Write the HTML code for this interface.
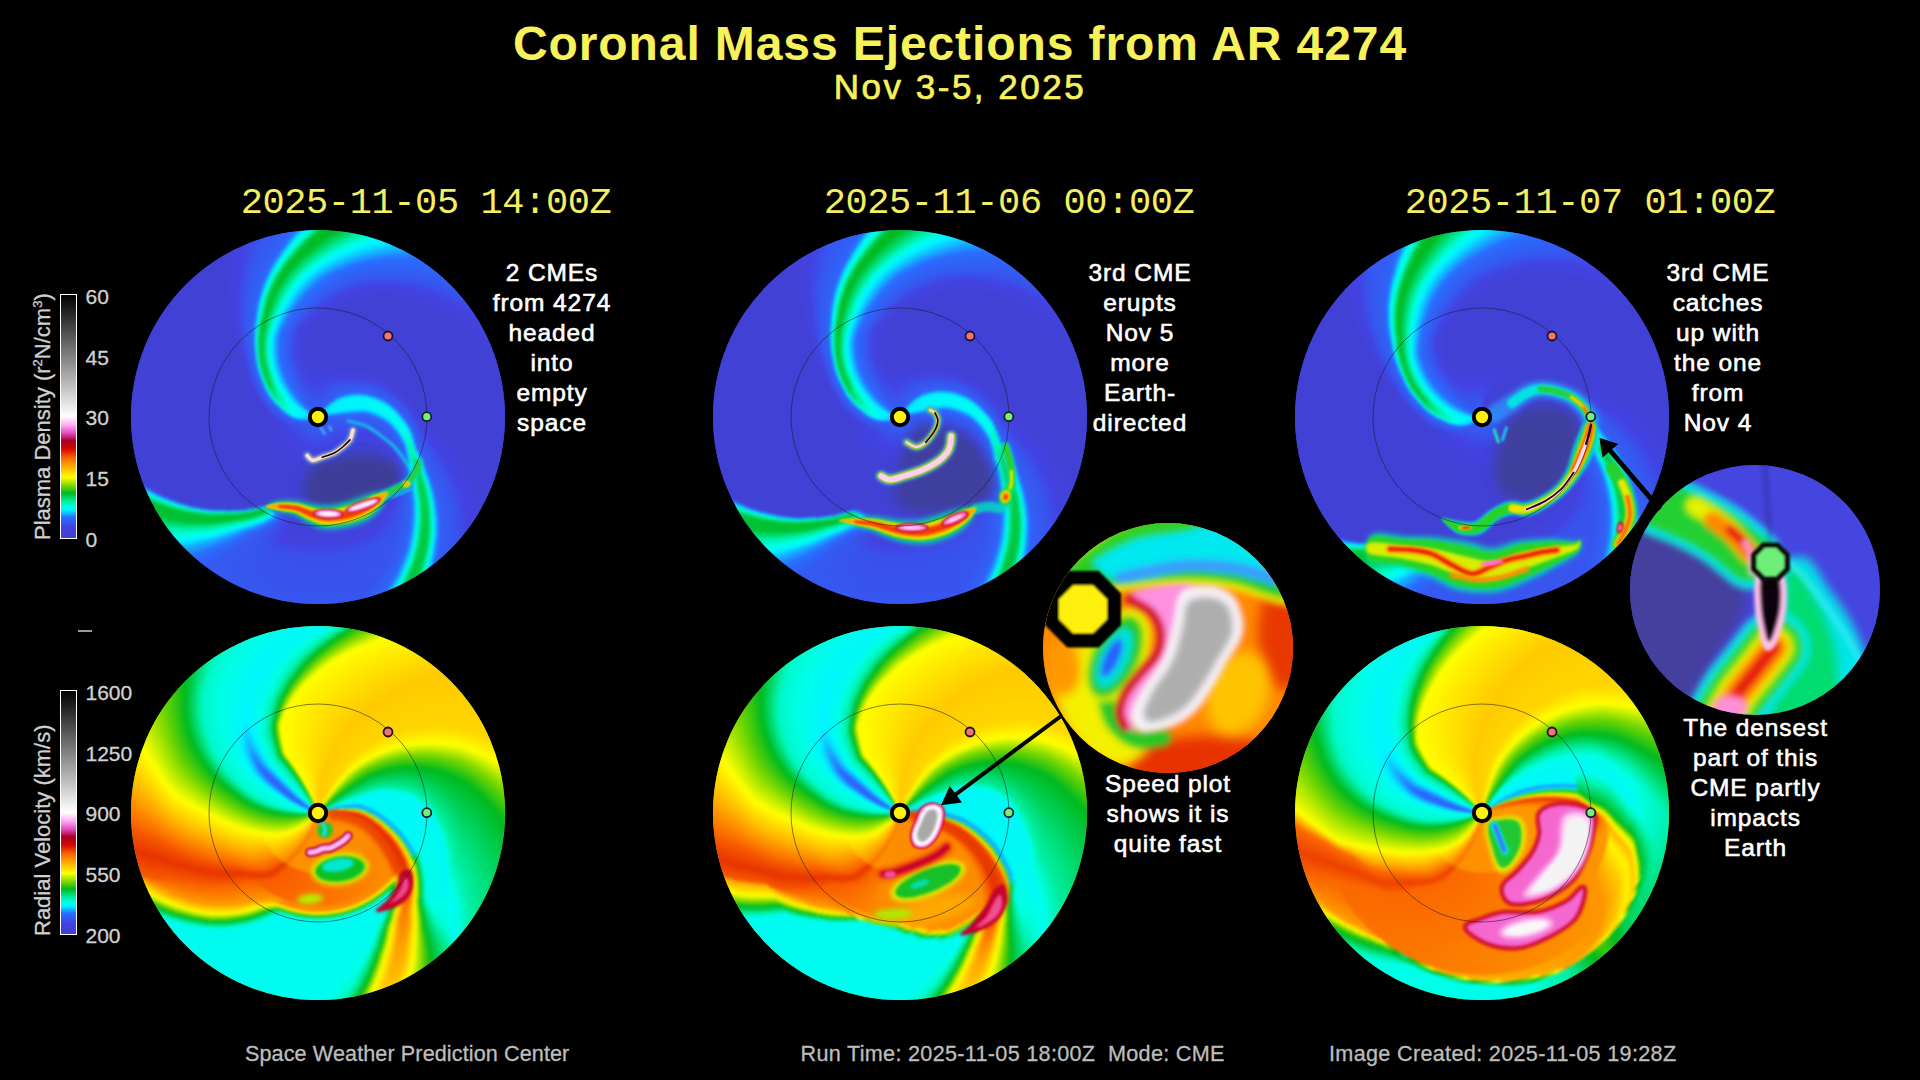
<!DOCTYPE html>
<html lang="en"><head><meta charset="utf-8"><title>Coronal Mass Ejections from AR 4274</title>
<style>
html,body{margin:0;padding:0;background:#000;}
body{width:1920px;height:1080px;position:relative;overflow:hidden;font-family:"Liberation Sans",sans-serif;}
.ttl{position:absolute;left:0;width:1920px;text-align:center;color:#f7f25c;font-weight:700;white-space:nowrap;letter-spacing:0.5px}
.ts{position:absolute;top:181.5px;width:500px;text-align:center;color:#f3ee62;font-family:"Liberation Mono",monospace;font-size:37px;line-height:42px;white-space:pre;letter-spacing:-0.4px}
.ann{position:absolute;width:300px;text-align:center;color:#fff;font-size:24.5px;line-height:30px;white-space:nowrap;letter-spacing:0.9px;-webkit-text-stroke:0.6px #fff}
.cbar{position:absolute;left:60px;width:16.5px;border:1.5px solid #fff;box-sizing:border-box;background:linear-gradient(to top,#4040d0 0.0%,#4242e2 4.5%,#286eff 8.5%,#00f4ff 11.5%,#00ffe8 12.8%,#00f0a5 15.0%,#00b91e 18.5%,#78d700 21.5%,#ff0 25.0%,#ffb400 29.0%,#fa6400 33.0%,#d70a00 36.5%,#a50023 40.0%,#e146be 43.0%,#ffaaf5 46.5%,#fff 50.0%,#000 100.0%);}
.cl{position:absolute;left:85.5px;color:#d2d2d2;font-size:21px;line-height:24px;-webkit-text-stroke:0.3px #d2d2d2}
.cv{position:absolute;left:31px;color:#cfcfcf;font-size:22px;line-height:24px;white-space:nowrap;transform-origin:0 0;transform:rotate(-90deg);-webkit-text-stroke:0.3px #cfcfcf}
.cv sup{font-size:13px;line-height:0}
.cap{position:absolute;top:1041.5px;color:#bdbdbd;font-size:21.6px;line-height:24px;white-space:nowrap;-webkit-text-stroke:0.3px #bdbdbd}
.d{position:absolute;border-radius:50%;overflow:hidden}
.d i{position:absolute;border-radius:50%;display:block}
.rg{position:absolute;filter:blur(1.6px)}
.d svg{position:absolute;left:0;top:0}
</style></head>
<body>
<div class="ttl" style="top:16px;font-size:48px;letter-spacing:0.9px">Coronal Mass Ejections from AR 4274</div>
<div class="ttl" style="top:67px;font-size:35px;font-weight:400;letter-spacing:2.5px;-webkit-text-stroke:0.7px #f7f25c">Nov 3-5, 2025</div>
<div class="ts" style="left:176px;">2025-11-05 14:00Z</div>
<div class="ts" style="left:759px;">2025-11-06 00:00Z</div>
<div class="ts" style="left:1340px;">2025-11-07 01:00Z</div>
<div class="ann" style="left:402px;top:257.5px">2 CMEs<br>from 4274<br>headed<br>into<br>empty<br>space</div>
<div class="ann" style="left:990px;top:258px">3rd CME<br>erupts<br>Nov 5<br>more<br>Earth-<br>directed</div>
<div class="ann" style="left:1568px;top:258px">3rd CME<br>catches<br>up with<br>the one<br>from<br>Nov 4</div>
<div class="ann" style="left:1018px;top:769px">Speed plot<br>shows it is<br>quite fast</div>
<div class="ann" style="left:1605.5px;top:713.3px">The densest<br>part of this<br>CME partly<br>impacts<br>Earth</div>
<div class="cbar" style="top:294px;height:245px"></div>
<div class="cl" style="top:285.0px">60</div>
<div class="cl" style="top:345.7px">45</div>
<div class="cl" style="top:406.3px">30</div>
<div class="cl" style="top:467.0px">15</div>
<div class="cl" style="top:527.7px">0</div>
<div class="cv" style="top:540.0px">Plasma Density (r<sup>2</sup>N/cm<sup>3</sup>)</div>
<div class="cbar" style="top:690px;height:245px"></div>
<div class="cl" style="top:681.0px">1600</div>
<div class="cl" style="top:741.7px">1250</div>
<div class="cl" style="top:802.4px">900</div>
<div class="cl" style="top:863.0px">550</div>
<div class="cl" style="top:923.7px">200</div>
<div class="cv" style="top:936.0px">Radial Velocity (km/s)</div>
<div style="position:absolute;left:78px;top:630px;width:14px;height:2px;background:#999"></div>
<div class="cap" style="left:245px;letter-spacing:0.1px">Space Weather Prediction Center</div>
<div class="cap" style="left:800.5px;letter-spacing:0.31px">Run Time: 2025-11-05 18:00Z&nbsp; Mode: CME</div>
<div class="cap" style="left:1329px;letter-spacing:0.33px">Image Created: 2025-11-05 19:28Z</div>
<svg width="0" height="0" style="position:absolute"><defs><filter id="b1" filterUnits="userSpaceOnUse" x="-60" y="-60" width="520" height="520"><feGaussianBlur stdDeviation="0.8"/></filter><filter id="b2" filterUnits="userSpaceOnUse" x="-60" y="-60" width="520" height="520"><feGaussianBlur stdDeviation="1.6"/></filter><filter id="b3" filterUnits="userSpaceOnUse" x="-60" y="-60" width="520" height="520"><feGaussianBlur stdDeviation="2.6"/></filter><filter id="b4" filterUnits="userSpaceOnUse" x="-60" y="-60" width="520" height="520"><feGaussianBlur stdDeviation="4"/></filter><filter id="b6" filterUnits="userSpaceOnUse" x="-60" y="-60" width="520" height="520"><feGaussianBlur stdDeviation="6"/></filter><filter id="b9" filterUnits="userSpaceOnUse" x="-60" y="-60" width="520" height="520"><feGaussianBlur stdDeviation="9"/></filter></defs></svg>
<div class="d" style="left:131px;top:230px;width:374px;height:374px;background:#4242d8"><div class="rg" style="left:-8px;top:-8px;width:390px;height:390px"><i style="left:0px;top:0px;width:390px;height:390px;background:conic-gradient(from -30deg,#4141d5 0deg,#4242e2 8.9deg,#3755ee 13.6deg,#2f62f7 23.5deg,#286eff 25.1deg,#2184ff 25.9deg,#00f4ff 27.6deg,#00f5fd 27.6deg,#00ffe8 29.3deg,#00fad3 30.2deg,#00f0a5 31.1deg,#00c132 32.8deg,#00b91e 35.9deg,#08bb1c 37deg,#00b91e 37.5deg,#00e993 44.8deg,#00f0a5 45.7deg,#00ffe8 49.6deg,#00f8f6 51.1deg,#00f4ff 53.2deg,#0dc7ff 57.3deg,#286eff 65.5deg,#2a6bfd 66.7deg,#3755ee 83.4deg,#4242e2 91.9deg,#4141d5 108.4deg,#4141d5 146.5deg,#4242e2 158.8deg,#3755ee 165.2deg,#325ef4 173.1deg,#286eff 174.3deg,#03ebff 176.6deg,#00f4ff 176.8deg,#00ffe8 177.5deg,#00f0a5 178.7deg,#00c43a 180.2deg,#00c43a 184.5deg,#00f0a5 186.1deg,#00ffe8 187.3deg,#00f4ff 188deg,#03ebff 188.1deg,#286eff 191.3deg,#2f63f8 192.4deg,#3755ee 199.6deg,#3657f0 218.2deg,#3657f0 228.9deg,#3459f1 247.8deg,#286eff 253.1deg,#14b1ff 257.3deg,#00f4ff 259.8deg,#00ffe8 262deg,#00f7c3 264deg,#00f0a5 265.4deg,#00c131 269.7deg,#00c131 275.4deg,#00f0a5 277.1deg,#00ffe8 278.4deg,#00f4ff 279.2deg,#286eff 280deg,#4242e2 281.1deg,#4141d5 282deg,#4141d5 360deg)"></i><i style="left:3px;top:3px;width:384px;height:384px;background:conic-gradient(from -30.6deg,#4141d5 0deg,#4242e2 8.8deg,#3755ee 13.4deg,#2f62f7 23.1deg,#286eff 24.7deg,#2184ff 25.5deg,#00f4ff 27.2deg,#00f5fd 27.2deg,#00ffe8 28.9deg,#00fad3 29.8deg,#00f0a5 30.7deg,#00c233 32.4deg,#00b91e 35.5deg,#07bb1c 36.5deg,#00b91e 36.9deg,#00e994 44.2deg,#00f0a5 45deg,#00ffe8 48.9deg,#00f8f6 50.3deg,#00f4ff 52.4deg,#0dc7ff 56.5deg,#286eff 64.6deg,#2a6bfd 65.8deg,#3755ee 82.2deg,#4242e2 90.6deg,#4141d5 106.9deg,#4141d5 146.2deg,#4242e2 158.4deg,#3755ee 164.7deg,#325ef4 172.5deg,#286eff 173.7deg,#03ebff 176deg,#00f4ff 176.2deg,#00ffe8 176.9deg,#00f0a5 178.1deg,#00c53b 179.6deg,#00c53b 183.9deg,#00f0a5 185.4deg,#00ffe8 186.6deg,#00f4ff 187.3deg,#03ebff 187.4deg,#286eff 190.5deg,#2f63f8 191.7deg,#3755ee 198.8deg,#3656ef 217.2deg,#3656ef 229.5deg,#3459f1 248.1deg,#286eff 253.2deg,#14b1ff 257.3deg,#00f4ff 259.7deg,#00ffe8 261.9deg,#00f7c3 263.8deg,#00f0a5 265.2deg,#00c131 269.4deg,#00c131 274.9deg,#00f0a5 276.6deg,#00ffe8 277.9deg,#00f4ff 278.6deg,#286eff 279.4deg,#4242e2 280.5deg,#4141d5 281.4deg,#4141d5 360deg)"></i><i style="left:6px;top:6px;width:378px;height:378px;background:conic-gradient(from -31.2deg,#4141d5 0deg,#4242e2 8.7deg,#3755ee 13.2deg,#2f62f7 22.8deg,#286eff 24.4deg,#2184ff 25.1deg,#00f4ff 26.8deg,#00f5fd 26.8deg,#00ffe8 28.4deg,#00fad3 29.4deg,#00f0a5 30.2deg,#00c233 31.9deg,#00b91e 35deg,#06bb1c 35.9deg,#00b91e 36.3deg,#00e994 43.5deg,#00f0a5 44.3deg,#00ffe8 48.2deg,#00f8f6 49.6deg,#00f4ff 51.6deg,#0dc7ff 55.7deg,#286eff 63.6deg,#2a6bfd 64.8deg,#3755ee 81deg,#4242e2 89.3deg,#4141d5 105.3deg,#4141d5 145.9deg,#4242e2 158deg,#3755ee 164.2deg,#325ef4 171.9deg,#286eff 173.2deg,#03ebff 175.5deg,#00f4ff 175.6deg,#00ffe8 176.3deg,#00f0a5 177.5deg,#00c53c 179deg,#00c53c 183.2deg,#00f0a5 184.7deg,#00ffe8 185.9deg,#00f4ff 186.6deg,#03ebff 186.7deg,#286eff 189.8deg,#2f63f8 190.9deg,#3755ee 197.9deg,#3656ef 216.2deg,#3656ef 230.2deg,#3459f1 248.3deg,#286eff 253.3deg,#14b1ff 257.3deg,#00f4ff 259.7deg,#00ffe8 261.7deg,#00f7c3 263.6deg,#00f0a5 265deg,#00c131 269.1deg,#00c131 274.5deg,#00f0a5 276.1deg,#00ffe8 277.4deg,#00f4ff 278.1deg,#286eff 278.9deg,#4242e2 279.9deg,#4141d5 280.8deg,#4141d5 360deg)"></i><i style="left:9px;top:9px;width:372px;height:372px;background:conic-gradient(from -31.8deg,#4141d5 0deg,#4242e2 8.6deg,#3755ee 13deg,#2f62f7 22.4deg,#286eff 24deg,#2184ff 24.7deg,#00f4ff 26.3deg,#00f5fd 26.4deg,#00ffe8 28deg,#00fad3 28.9deg,#00f0a5 29.7deg,#00c234 31.4deg,#00b91e 34.6deg,#06ba1d 35.4deg,#00b91e 35.7deg,#00e994 42.9deg,#00f0a5 43.6deg,#00ffe8 47.4deg,#00f8f6 48.8deg,#00f4ff 50.8deg,#0dc7ff 54.8deg,#286eff 62.6deg,#2a6bfd 63.8deg,#3755ee 79.7deg,#4242e2 87.9deg,#4141d5 103.7deg,#4141d5 145.6deg,#4242e2 157.5deg,#3755ee 163.7deg,#325ef4 171.4deg,#286eff 172.6deg,#03ebff 174.8deg,#00f4ff 175deg,#00ffe8 175.7deg,#00f0a5 176.9deg,#00c63d 178.3deg,#00c63d 182.5deg,#00f0a5 184deg,#00ffe8 185.2deg,#00f4ff 185.9deg,#03ebff 186deg,#286eff 189.1deg,#2f63f8 190.2deg,#3755ee 197.1deg,#3656ef 215.2deg,#3656ef 230.8deg,#3459f1 248.4deg,#286eff 253.4deg,#14b1ff 257.2deg,#00f4ff 259.6deg,#00ffe8 261.6deg,#00f7c3 263.4deg,#00f0a5 264.7deg,#00c131 268.7deg,#00c131 274deg,#00f0a5 275.6deg,#00ffe8 276.8deg,#00f4ff 277.5deg,#286eff 278.3deg,#4242e2 279.3deg,#4141d5 280.1deg,#4141d5 360deg)"></i><i style="left:12px;top:12px;width:366px;height:366px;background:conic-gradient(from -32.3deg,#4141d5 0deg,#4242e2 8.4deg,#3755ee 12.7deg,#2f62f7 22deg,#286eff 23.5deg,#2184ff 24.2deg,#00f4ff 25.8deg,#00f5fd 25.9deg,#00ffe8 27.4deg,#00fad3 28.3deg,#00f0a5 29.2deg,#00c234 30.8deg,#00b91e 34deg,#05ba1d 34.7deg,#00b91e 35deg,#00e995 42deg,#00f0a5 42.7deg,#00ffe8 46.5deg,#00f8f6 47.9deg,#00f4ff 49.8deg,#0dc7ff 53.7deg,#286eff 61.4deg,#2a6bfd 62.5deg,#3755ee 78.1deg,#4242e2 86.1deg,#4141d5 101.6deg,#4141d5 145.2deg,#4242e2 157.1deg,#3755ee 163.1deg,#325ef4 170.7deg,#286eff 171.9deg,#03ebff 174.2deg,#00f4ff 174.3deg,#00ffe8 175deg,#00f0a5 176.2deg,#00c63e 177.6deg,#00c63e 181.8deg,#00f0a5 183.2deg,#00ffe8 184.4deg,#00f4ff 185.1deg,#03ebff 185.2deg,#286eff 188.3deg,#2f63f8 189.3deg,#3755ee 196.2deg,#3755ef 214.2deg,#3755ef 231.4deg,#3459f1 248.6deg,#286eff 253.3deg,#14b1ff 257.1deg,#00f4ff 259.4deg,#00ffe8 261.3deg,#00f7c3 263.1deg,#00f0a5 264.4deg,#00c131 268.3deg,#00c131 273.4deg,#00f0a5 275deg,#00ffe8 276.2deg,#00f4ff 276.8deg,#286eff 277.6deg,#4242e2 278.6deg,#4141d5 279.4deg,#4141d5 360deg)"></i><i style="left:15px;top:15px;width:360px;height:360px;background:conic-gradient(from -32.9deg,#4141d5 0deg,#4242e2 8.2deg,#3755ee 12.4deg,#2f62f7 21.5deg,#286eff 23deg,#2184ff 23.7deg,#00f4ff 25.3deg,#00f5fd 25.4deg,#00ffe8 26.9deg,#00fad3 27.7deg,#00f0a5 28.6deg,#00c235 30.1deg,#00b91e 33.3deg,#05ba1d 34deg,#00b91e 34.2deg,#00ea95 41.1deg,#00f0a5 41.8deg,#00ffe8 45.5deg,#00f8f6 46.9deg,#00f4ff 48.8deg,#0dc7ff 52.6deg,#286eff 60.1deg,#2a6bfd 61.2deg,#3755ee 76.5deg,#4242e2 84.3deg,#4141d5 99.5deg,#4141d5 144.8deg,#4242e2 156.5deg,#3755ee 162.6deg,#325ef4 170.1deg,#286eff 171.3deg,#03ebff 173.5deg,#00f4ff 173.6deg,#00ffe8 174.3deg,#00f0a5 175.5deg,#00c73f 176.9deg,#00c73f 181deg,#00f0a5 182.4deg,#00ffe8 183.6deg,#00f4ff 184.3deg,#03ebff 184.4deg,#286eff 187.4deg,#2f63f8 188.5deg,#3755ee 195.4deg,#3755ee 213.1deg,#3755ee 232deg,#3459f1 248.7deg,#286eff 253.3deg,#14b1ff 257deg,#00f4ff 259.2deg,#00ffe8 261.1deg,#00f7c3 262.8deg,#00f0a5 264.1deg,#00c131 267.9deg,#00c131 272.9deg,#00f0a5 274.4deg,#00ffe8 275.5deg,#00f4ff 276.2deg,#286eff 276.9deg,#4242e2 277.9deg,#4141d5 278.7deg,#4141d5 360deg)"></i><i style="left:18px;top:18px;width:354px;height:354px;background:conic-gradient(from -33.4deg,#4141d5 0deg,#4242e2 8deg,#3755ee 12.2deg,#2f62f7 21.1deg,#286eff 22.6deg,#2184ff 23.2deg,#00f4ff 24.8deg,#00f5fd 24.8deg,#00ffe8 26.3deg,#00fad3 27.2deg,#00f0a5 28deg,#00c336 29.5deg,#00b91e 32.7deg,#04ba1d 33.3deg,#00b91e 33.5deg,#00ea95 40.3deg,#00f0a5 40.9deg,#00ffe8 44.6deg,#00f8f6 45.9deg,#00f4ff 47.8deg,#0dc7ff 51.5deg,#286eff 58.8deg,#2a6bfd 59.9deg,#3755ee 74.9deg,#4242e2 82.6deg,#4141d5 97.4deg,#4141d5 144.4deg,#4242e2 156deg,#3755ee 162deg,#325ef4 169.5deg,#286eff 170.6deg,#03ebff 172.8deg,#00f4ff 172.9deg,#00ffe8 173.6deg,#00f0a5 174.8deg,#00c741 176.2deg,#00c741 180.3deg,#00f0a5 181.7deg,#00ffe8 182.8deg,#00f4ff 183.5deg,#03ebff 183.6deg,#286eff 186.6deg,#2f63f8 187.7deg,#3755ee 194.5deg,#3755ee 212deg,#3755ee 232.6deg,#3459f1 248.8deg,#286eff 253.3deg,#14b1ff 256.9deg,#00f4ff 259deg,#00ffe8 260.9deg,#00f7c3 262.6deg,#00f0a5 263.8deg,#00c131 267.4deg,#00c131 272.3deg,#00f0a5 273.8deg,#00ffe8 274.9deg,#00f4ff 275.5deg,#286eff 276.2deg,#4242e2 277.2deg,#4141d5 278deg,#4141d5 360deg)"></i><i style="left:21px;top:21px;width:348px;height:348px;background:conic-gradient(from -33.9deg,#4141d5 0deg,#4242e2 7.9deg,#3755ee 11.9deg,#2f62f7 20.6deg,#286eff 22.1deg,#2184ff 22.7deg,#00f4ff 24.2deg,#00f5fd 24.3deg,#00ffe8 25.7deg,#00fad3 26.6deg,#00f0a5 27.4deg,#00c336 28.9deg,#00b91e 32.1deg,#03ba1d 32.5deg,#00b91e 32.7deg,#00ea96 39.4deg,#00f0a5 40.1deg,#00ffe8 43.6deg,#00f8f6 44.9deg,#00f4ff 46.7deg,#0dc7ff 50.4deg,#286eff 57.6deg,#2a6bfd 58.7deg,#3755ee 73.3deg,#4242e2 80.8deg,#4141d5 95.3deg,#4141d5 144.1deg,#4242e2 155.5deg,#3755ee 161.5deg,#325ef4 168.8deg,#286eff 170deg,#03ebff 172.2deg,#00f4ff 172.3deg,#00ffe8 173deg,#00f0a5 174.1deg,#00c842 175.5deg,#00c842 179.5deg,#00f0a5 180.9deg,#00ffe8 182.1deg,#00f4ff 182.8deg,#03ebff 182.9deg,#286eff 185.8deg,#2f63f8 186.9deg,#3755ee 193.6deg,#3754ee 211deg,#3754ee 233.2deg,#3459f1 248.9deg,#286eff 253.3deg,#14b1ff 256.8deg,#00f4ff 258.8deg,#00ffe8 260.6deg,#00f7c3 262.3deg,#00f0a5 263.5deg,#00c131 267deg,#00c131 271.7deg,#00f0a5 273.2deg,#00ffe8 274.3deg,#00f4ff 274.9deg,#286eff 275.6deg,#4242e2 276.5deg,#4141d5 277.2deg,#4141d5 360deg)"></i><i style="left:24px;top:24px;width:342px;height:342px;background:conic-gradient(from -34.5deg,#4141d5 0deg,#4242e2 7.7deg,#3755ee 11.7deg,#2f62f7 20.2deg,#286eff 21.6deg,#2184ff 22.2deg,#00f4ff 23.7deg,#00f5fd 23.8deg,#00ffe8 25.2deg,#00fad3 26deg,#00f0a5 26.8deg,#00c337 28.2deg,#00b91e 31.5deg,#03ba1d 31.8deg,#00b91e 32deg,#00ea96 38.6deg,#00f0a5 39.2deg,#00ffe8 42.7deg,#00f8f6 43.9deg,#00f4ff 45.7deg,#0dc7ff 49.3deg,#286eff 56.3deg,#2a6bfd 57.4deg,#3755ee 71.7deg,#4242e2 79.1deg,#4141d5 93.3deg,#4141d5 143.7deg,#4242e2 155deg,#3755ee 160.9deg,#325ef4 168.2deg,#286eff 169.3deg,#03ebff 171.5deg,#00f4ff 171.6deg,#00ffe8 172.3deg,#00f0a5 173.5deg,#00c843 174.8deg,#00c843 178.8deg,#00f0a5 180.1deg,#00ffe8 181.3deg,#00f4ff 182deg,#03ebff 182.1deg,#286eff 185deg,#2f63f8 186.1deg,#3755ee 192.7deg,#3754ee 209.9deg,#3754ee 233.7deg,#3459f1 249deg,#286eff 253.3deg,#14b1ff 256.7deg,#00f4ff 258.7deg,#00ffe8 260.4deg,#00f7c3 262deg,#00f0a5 263.2deg,#00c131 266.6deg,#00c131 271.2deg,#00f0a5 272.6deg,#00ffe8 273.6deg,#00f4ff 274.2deg,#286eff 274.9deg,#4242e2 275.8deg,#4141d5 276.5deg,#4141d5 360deg)"></i><i style="left:27px;top:27px;width:336px;height:336px;background:conic-gradient(from -35deg,#4141d5 0deg,#4242e2 7.5deg,#3755ee 11.4deg,#2f62f7 19.7deg,#286eff 21.1deg,#2184ff 21.7deg,#00f4ff 23.2deg,#00f5fd 23.2deg,#00ffe8 24.6deg,#00fad3 25.4deg,#00f0a5 26.2deg,#00c337 27.6deg,#00b91e 30.9deg,#02ba1d 31.1deg,#00b91e 31.2deg,#00ea96 37.7deg,#00f0a5 38.3deg,#00ffe8 41.7deg,#00f8f6 43deg,#00f4ff 44.7deg,#0dc7ff 48.2deg,#286eff 55.1deg,#2a6bfd 56.1deg,#3755ee 70.1deg,#4242e2 77.3deg,#4141d5 91.2deg,#4141d5 143.3deg,#4242e2 154.5deg,#3755ee 160.3deg,#325ef4 167.6deg,#286eff 168.7deg,#03ebff 170.8deg,#00f4ff 170.9deg,#00ffe8 171.6deg,#00f0a5 172.8deg,#00c844 174.1deg,#00c844 178deg,#00f0a5 179.4deg,#00ffe8 180.5deg,#00f4ff 181.2deg,#03ebff 181.3deg,#286eff 184.2deg,#2f63f8 185.3deg,#3755ee 191.8deg,#3853ee 208.9deg,#3853ee 234.3deg,#3459f1 249.2deg,#286eff 253.3deg,#14b1ff 256.6deg,#00f4ff 258.5deg,#00ffe8 260.2deg,#00f7c3 261.7deg,#00f0a5 262.9deg,#00c131 266.2deg,#00c131 270.6deg,#00f0a5 272deg,#00ffe8 273deg,#00f4ff 273.6deg,#286eff 274.2deg,#4242e2 275.1deg,#4141d5 275.8deg,#4141d5 360deg)"></i><i style="left:30px;top:30px;width:330px;height:330px;background:conic-gradient(from -35.7deg,#4141d5 0deg,#4242e2 7.4deg,#3755ee 11.1deg,#2f62f7 19.3deg,#286eff 20.6deg,#2184ff 21.2deg,#00f4ff 22.6deg,#00f5fd 22.7deg,#00ffe8 24.1deg,#00fad3 24.8deg,#00f0a5 25.6deg,#00c338 27deg,#00b91e 30.2deg,#01b91e 30.4deg,#00b91e 30.5deg,#00ea97 36.8deg,#00f0a5 37.4deg,#00ffe8 40.8deg,#00f8f6 42deg,#00f4ff 43.7deg,#0dc7ff 47.1deg,#286eff 53.8deg,#2a6bfd 54.8deg,#3755ee 68.5deg,#4242e2 75.5deg,#4141d5 89.1deg,#4141d5 143deg,#4242e2 154.2deg,#3755ee 159.9deg,#325ef4 167deg,#286eff 168.2deg,#03ebff 170.3deg,#00f4ff 170.4deg,#00ffe8 171.1deg,#00f0a5 172.2deg,#00c945 173.5deg,#00c945 177.4deg,#00f0a5 178.7deg,#00ffe8 179.9deg,#00f4ff 180.6deg,#03ebff 180.7deg,#286eff 183.5deg,#2f63f8 184.6deg,#3755ee 191deg,#3853ed 207.9deg,#3853ed 235deg,#3459f1 249.4deg,#286eff 253.4deg,#14b1ff 256.6deg,#00f4ff 258.4deg,#00ffe8 260.1deg,#00f7c3 261.6deg,#00f0a5 262.6deg,#00c131 265.9deg,#00c131 270.2deg,#00f0a5 271.5deg,#00ffe8 272.5deg,#00f4ff 273deg,#286eff 273.7deg,#4242e2 274.5deg,#4141d5 275.2deg,#4141d5 360deg)"></i><i style="left:33px;top:33px;width:324px;height:324px;background:conic-gradient(from -36.3deg,#4141d5 0deg,#4242e2 7.2deg,#3755ee 10.9deg,#2f62f7 18.8deg,#286eff 20.1deg,#2184ff 20.7deg,#00f4ff 22.1deg,#00f5fd 22.2deg,#00ffe8 23.5deg,#00fad3 24.3deg,#00f0a5 25deg,#00c438 26.4deg,#00b91e 29.6deg,#01b91e 29.7deg,#00b91e 29.7deg,#00ea97 36deg,#00f0a5 36.5deg,#00ffe8 39.8deg,#00f8f6 41deg,#00f4ff 42.7deg,#0dc7ff 46deg,#286eff 52.6deg,#2a6bfd 53.5deg,#3755ee 66.9deg,#4242e2 73.8deg,#4141d5 87deg,#4141d5 142.8deg,#4242e2 153.8deg,#3755ee 159.5deg,#325ef4 166.6deg,#286eff 167.7deg,#03ebff 169.8deg,#00f4ff 169.9deg,#00ffe8 170.6deg,#00f0a5 171.7deg,#00c946 173deg,#00c946 176.8deg,#00f0a5 178.1deg,#00ffe8 179.3deg,#00f4ff 179.9deg,#03ebff 180deg,#286eff 182.9deg,#2f63f8 183.9deg,#3755ee 190.3deg,#3853ed 207deg,#3853ed 235.7deg,#3459f1 249.6deg,#286eff 253.5deg,#14b1ff 256.5deg,#00f4ff 258.3deg,#00ffe8 259.9deg,#00f7c3 261.4deg,#00f0a5 262.4deg,#00c131 265.5deg,#00c131 269.7deg,#00f0a5 271deg,#00ffe8 271.9deg,#00f4ff 272.5deg,#286eff 273.1deg,#4242e2 273.9deg,#4141d5 274.6deg,#4141d5 360deg)"></i><i style="left:36px;top:36px;width:318px;height:318px;background:conic-gradient(from -37deg,#4141d5 0deg,#4242e2 7deg,#3755ee 10.6deg,#2f62f7 18.4deg,#286eff 19.7deg,#2184ff 20.3deg,#00f4ff 21.6deg,#00f5fd 21.6deg,#00ffe8 22.9deg,#00fad3 23.7deg,#00f0a5 24.4deg,#00c439 25.7deg,#00b91e 29deg,#00b91e 29deg,#00b91e 29deg,#00ea97 35.1deg,#00f0a5 35.6deg,#00ffe8 38.8deg,#00f8f6 40deg,#00f4ff 41.6deg,#0dc7ff 44.9deg,#286eff 51.3deg,#2a6bfd 52.3deg,#3755ee 65.3deg,#4242e2 72deg,#4141d5 84.9deg,#4141d5 142.6deg,#4242e2 153.5deg,#3755ee 159.1deg,#325ef4 166.1deg,#286eff 167.2deg,#03ebff 169.3deg,#00f4ff 169.4deg,#00ffe8 170.1deg,#00f0a5 171.2deg,#00ca47 172.5deg,#00ca47 176.3deg,#00f0a5 177.5deg,#00ffe8 178.7deg,#00f4ff 179.3deg,#03ebff 179.4deg,#286eff 182.2deg,#2f63f8 183.2deg,#3755ee 189.6deg,#3852ed 206.1deg,#3852ed 236.3deg,#3459f1 249.7deg,#286eff 253.5deg,#14b1ff 256.4deg,#00f4ff 258.2deg,#00ffe8 259.7deg,#00f7c3 261.1deg,#00f0a5 262.1deg,#00c131 265.2deg,#00c131 269.2deg,#00f0a5 270.4deg,#00ffe8 271.3deg,#00f4ff 271.9deg,#286eff 272.5deg,#4242e2 273.2deg,#4141d5 273.9deg,#4141d5 360deg)"></i><i style="left:39px;top:39px;width:312px;height:312px;background:conic-gradient(from -37.6deg,#4141d5 0deg,#4242e2 6.8deg,#3755ee 10.4deg,#2f62f7 17.9deg,#286eff 19.2deg,#2184ff 19.8deg,#00f4ff 21.1deg,#00f5fd 21.1deg,#00ffe8 22.4deg,#00fad3 23.1deg,#00f0a5 23.8deg,#00c439 25.1deg,#00b91e 28.3deg,#00eb98 34.3deg,#00f0a5 34.7deg,#00ffe8 37.9deg,#00f8f6 39deg,#00f4ff 40.6deg,#0dc7ff 43.8deg,#286eff 50.1deg,#2a6bfd 51deg,#3755ee 63.7deg,#4242e2 70.2deg,#4141d5 82.9deg,#4141d5 142.4deg,#4242e2 153.2deg,#3755ee 158.7deg,#325ef4 165.6deg,#286eff 166.7deg,#03ebff 168.8deg,#00f4ff 168.9deg,#00ffe8 169.5deg,#00f0a5 170.7deg,#00ca49 171.9deg,#00ca49 175.7deg,#00f0a5 176.9deg,#00ffe8 178deg,#00f4ff 178.7deg,#03ebff 178.8deg,#286eff 181.6deg,#2f63f8 182.6deg,#3755ee 188.9deg,#3952ed 205.2deg,#3952ed 236.9deg,#3459f1 249.9deg,#286eff 253.5deg,#14b1ff 256.4deg,#00f4ff 258.1deg,#00ffe8 259.5deg,#00f7c3 260.9deg,#00f0a5 261.9deg,#00c131 264.8deg,#00c131 268.7deg,#00f0a5 269.9deg,#00ffe8 270.7deg,#00f4ff 271.2deg,#286eff 271.8deg,#4242e2 272.6deg,#4141d5 273.2deg,#4141d5 360deg)"></i><i style="left:42px;top:42px;width:306px;height:306px;background:conic-gradient(from -38.2deg,#4141d5 0deg,#4242e2 6.7deg,#3755ee 10.1deg,#2f62f7 17.5deg,#286eff 18.7deg,#2184ff 19.3deg,#00f4ff 20.5deg,#00f5fd 20.6deg,#00ffe8 21.8deg,#00fad3 22.5deg,#00f0a5 23.2deg,#00c43a 24.5deg,#00b91f 27.6deg,#00eb98 33.4deg,#00f0a5 33.9deg,#00ffe8 36.9deg,#00f8f6 38.1deg,#00f4ff 39.6deg,#0dc7ff 42.7deg,#286eff 48.8deg,#2a6bfd 49.7deg,#3755ee 62.1deg,#4242e2 68.5deg,#4141d5 80.8deg,#4141d5 142.2deg,#4242e2 152.9deg,#3755ee 158.3deg,#325ef4 165.2deg,#286eff 166.3deg,#03ebff 168.3deg,#00f4ff 168.4deg,#00ffe8 169deg,#00f0a5 170.2deg,#00cb4a 171.4deg,#00cb4a 175.1deg,#00f0a5 176.3deg,#00ffe8 177.4deg,#00f4ff 178.1deg,#03ebff 178.2deg,#286eff 181deg,#2f63f8 181.9deg,#3755ee 188.1deg,#3952ec 204.3deg,#3952ec 237.6deg,#3459f1 250deg,#286eff 253.5deg,#14b1ff 256.3deg,#00f4ff 257.9deg,#00ffe8 259.3deg,#00f7c3 260.6deg,#00f0a5 261.6deg,#00c131 264.4deg,#00c131 268.1deg,#00f0a5 269.3deg,#00ffe8 270.1deg,#00f4ff 270.6deg,#286eff 271.2deg,#4242e2 271.9deg,#4141d5 272.5deg,#4141d5 360deg)"></i><i style="left:45px;top:45px;width:300px;height:300px;background:conic-gradient(from -38.9deg,#4141d5 0deg,#4242e2 6.5deg,#3755ee 9.8deg,#2f62f7 17deg,#286eff 18.2deg,#2184ff 18.8deg,#00f4ff 20deg,#00f5fd 20.1deg,#00ffe8 21.2deg,#00fad3 21.9deg,#00f0a5 22.6deg,#00c53a 23.8deg,#00ba20 26.9deg,#00eb98 32.5deg,#00f0a5 33deg,#00ffe8 36deg,#00f8f6 37.1deg,#00f4ff 38.6deg,#0dc7ff 41.6deg,#286eff 47.5deg,#2a6bfd 48.4deg,#3755ee 60.5deg,#4242e2 66.7deg,#4141d5 78.7deg,#4141d5 142deg,#4242e2 152.5deg,#3755ee 158deg,#325ef4 164.7deg,#286eff 165.8deg,#03ebff 167.8deg,#00f4ff 167.9deg,#00ffe8 168.5deg,#00f0a5 169.7deg,#00cb4b 170.8deg,#00cb4b 174.5deg,#00f0a5 175.7deg,#00ffe8 176.8deg,#00f4ff 177.5deg,#03ebff 177.6deg,#286eff 180.3deg,#2f63f8 181.3deg,#3755ee 187.4deg,#3951ec 203.4deg,#3951ec 238.2deg,#3459f1 250.2deg,#286eff 253.5deg,#14b1ff 256.2deg,#00f4ff 257.8deg,#00ffe8 259.1deg,#00f7c3 260.4deg,#00f0a5 261.3deg,#00c131 264deg,#00c131 267.6deg,#00f0a5 268.7deg,#00ffe8 269.5deg,#00f4ff 270deg,#286eff 270.5deg,#4242e2 271.2deg,#4141d5 271.8deg,#4141d5 360deg)"></i><i style="left:48px;top:48px;width:294px;height:294px;background:conic-gradient(from -39.5deg,#4141d5 0deg,#4242e2 6.3deg,#3755ee 9.6deg,#2f62f7 16.6deg,#286eff 17.7deg,#2184ff 18.3deg,#00f4ff 19.5deg,#00f5fd 19.5deg,#00ffe8 20.7deg,#00fad3 21.4deg,#00f0a5 22deg,#00c53b 23.2deg,#00ba20 26.2deg,#00eb99 31.7deg,#00f0a5 32.1deg,#00ffe8 35deg,#00f8f6 36.1deg,#00f4ff 37.6deg,#0dc7ff 40.5deg,#286eff 46.3deg,#2a6bfd 47.1deg,#3755ee 58.9deg,#4242e2 64.9deg,#4141d5 76.6deg,#4141d5 141.8deg,#4242e2 152.2deg,#3755ee 157.6deg,#325ef4 164.2deg,#286eff 165.3deg,#03ebff 167.3deg,#00f4ff 167.4deg,#00ffe8 168deg,#00f0a5 169.1deg,#00cc4c 170.3deg,#00cc4c 173.9deg,#00f0a5 175.1deg,#00ffe8 176.2deg,#00f4ff 176.9deg,#03ebff 177deg,#286eff 179.7deg,#2f63f8 180.6deg,#3755ee 186.7deg,#3951ec 202.5deg,#3951ec 238.8deg,#3459f1 250.3deg,#286eff 253.6deg,#14b1ff 256.1deg,#00f4ff 257.6deg,#00ffe8 258.9deg,#00f7c3 260.1deg,#00f0a5 261deg,#00c131 263.6deg,#00c131 267.1deg,#00f0a5 268.1deg,#00ffe8 268.9deg,#00f4ff 269.4deg,#286eff 269.9deg,#4242e2 270.6deg,#4141d5 271.1deg,#4141d5 360deg)"></i><i style="left:51px;top:51px;width:288px;height:288px;background:conic-gradient(from -40.1deg,#4141d5 0deg,#4242e2 6.1deg,#3755ee 9.3deg,#2f62f7 16.1deg,#286eff 17.3deg,#2184ff 17.8deg,#00f4ff 18.9deg,#00f5fd 19deg,#00ffe8 20.1deg,#00fad3 20.8deg,#00f0a5 21.4deg,#00c53c 22.6deg,#00ba21 25.4deg,#00eb99 30.8deg,#00f0a5 31.2deg,#00ffe8 34.1deg,#00f8f6 35.1deg,#00f4ff 36.6deg,#0dc7ff 39.4deg,#286eff 45deg,#2a6bfd 45.9deg,#3755ee 57.3deg,#4242e2 63.2deg,#4141d5 74.5deg,#4141d5 141.5deg,#4242e2 151.8deg,#3755ee 157.1deg,#325ef4 163.7deg,#286eff 164.7deg,#03ebff 166.7deg,#00f4ff 166.8deg,#00ffe8 167.4deg,#00f0a5 168.5deg,#00cc4d 169.7deg,#00cc4d 173.3deg,#00f0a5 174.4deg,#00ffe8 175.5deg,#00f4ff 176.2deg,#03ebff 176.3deg,#286eff 178.9deg,#2f63f8 179.9deg,#3755ee 185.9deg,#3951ec 201.5deg,#3951ec 239.3deg,#3459f1 250.4deg,#286eff 253.5deg,#14b1ff 255.9deg,#00f4ff 257.4deg,#00ffe8 258.7deg,#00f7c3 259.8deg,#00f0a5 260.7deg,#00c131 263.1deg,#00c131 266.5deg,#00f0a5 267.5deg,#00ffe8 268.2deg,#00f4ff 268.7deg,#286eff 269.2deg,#4242e2 269.8deg,#4141d5 270.3deg,#4141d5 360deg)"></i><i style="left:54px;top:54px;width:282px;height:282px;background:conic-gradient(from -40.7deg,#4141d5 0deg,#4242e2 6deg,#3755ee 9.1deg,#2f62f7 15.7deg,#286eff 16.8deg,#2184ff 17.3deg,#00f4ff 18.5deg,#00f5fd 18.5deg,#00ffe8 19.6deg,#00fad3 20.2deg,#00f0a5 20.9deg,#00c53c 22deg,#00ba21 24.8deg,#00eb99 30deg,#00f0a5 30.4deg,#00ffe8 33.2deg,#00f8f6 34.2deg,#00f4ff 35.6deg,#0dc7ff 38.4deg,#286eff 43.9deg,#2a6bfd 44.7deg,#3755ee 55.8deg,#4242e2 61.5deg,#4141d5 72.6deg,#4141d5 141.2deg,#4242e2 151.4deg,#3755ee 156.6deg,#325ef4 163.1deg,#286eff 164.2deg,#03ebff 166.1deg,#00f4ff 166.2deg,#00ffe8 166.9deg,#00f0a5 168deg,#00cd4e 169.1deg,#00cd4e 172.6deg,#00f0a5 173.7deg,#00ffe8 174.8deg,#00f4ff 175.5deg,#03ebff 175.6deg,#286eff 178.2deg,#2f63f8 179.1deg,#3755ee 185.1deg,#3a50eb 200.5deg,#3a50eb 239.5deg,#3459f1 250.3deg,#286eff 253.3deg,#14b1ff 255.7deg,#00f4ff 257.1deg,#00ffe8 258.3deg,#00f7c3 259.4deg,#00f0a5 260.3deg,#00c131 262.7deg,#00c131 265.9deg,#00f0a5 266.9deg,#00ffe8 267.7deg,#00f4ff 268.1deg,#286eff 268.6deg,#4242e2 269.2deg,#4141d5 269.7deg,#4141d5 360deg)"></i><i style="left:57px;top:57px;width:276px;height:276px;background:conic-gradient(from -41.5deg,#4141d5 0deg,#4242e2 5.9deg,#3755ee 8.9deg,#2f62f7 15.4deg,#286eff 16.5deg,#2184ff 17deg,#00f4ff 18.1deg,#00f5fd 18.2deg,#00ffe8 19.3deg,#00fad3 19.9deg,#00f0a5 20.5deg,#00c53d 21.6deg,#0b2 24.4deg,#00eb9a 29.5deg,#00f0a5 29.9deg,#00ffe8 32.6deg,#00f8f6 33.6deg,#00f4ff 35deg,#0dc7ff 37.7deg,#286eff 43.1deg,#2a6bfd 43.9deg,#3755ee 54.9deg,#4242e2 60.5deg,#4141d5 71.3deg,#4141d5 141.2deg,#4242e2 151.2deg,#3755ee 156.4deg,#325ef4 162.8deg,#286eff 163.9deg,#03ebff 165.8deg,#00f4ff 165.9deg,#00ffe8 166.5deg,#00f0a5 167.6deg,#00cd50 168.7deg,#00cd50 172.2deg,#00f0a5 173.3deg,#00ffe8 174.4deg,#00f4ff 175deg,#03ebff 175.1deg,#286eff 177.7deg,#2f63f8 178.6deg,#3755ee 184.5deg,#3d4be8 199.7deg,#3d4be8 239.8deg,#3459f1 250.3deg,#286eff 253.3deg,#14b1ff 255.6deg,#00f4ff 257deg,#00ffe8 258.2deg,#00f7c3 259.3deg,#00f0a5 260.1deg,#00c131 262.4deg,#00c131 265.6deg,#00f0a5 266.6deg,#00ffe8 267.3deg,#00f4ff 267.7deg,#286eff 268.2deg,#4242e2 268.8deg,#4141d5 269.3deg,#4141d5 360deg)"></i><i style="left:60px;top:60px;width:270px;height:270px;background:conic-gradient(from -42.3deg,#4141d5 0deg,#4242e2 5.8deg,#3755ee 8.8deg,#2f62f7 15.2deg,#286eff 16.2deg,#2184ff 16.7deg,#00f4ff 17.8deg,#00f5fd 17.9deg,#00ffe8 18.9deg,#00fad3 19.5deg,#00f0a5 20.1deg,#00c63d 21.2deg,#00bb23 23.9deg,#00ec9a 29deg,#00f0a5 29.3deg,#00ffe8 32deg,#00f8f6 33deg,#00f4ff 34.4deg,#0dc7ff 37.1deg,#286eff 42.3deg,#2a6bfd 43.1deg,#3755ee 53.9deg,#4242e2 59.4deg,#4141d5 70.1deg,#4141d5 141.1deg,#4242e2 151deg,#3755ee 156.2deg,#325ef4 162.5deg,#286eff 163.5deg,#03ebff 165.4deg,#00f4ff 165.5deg,#00ffe8 166.1deg,#00f0a5 167.2deg,#00ce51 168.3deg,#00ce51 171.8deg,#00f0a5 172.8deg,#00ffe8 173.9deg,#00f4ff 174.6deg,#03ebff 174.7deg,#286eff 177.2deg,#2f63f8 178.1deg,#3755ee 183.9deg,#3f47e5 199deg,#3f47e5 240deg,#3459f1 250.3deg,#286eff 253.2deg,#14b1ff 255.5deg,#00f4ff 256.8deg,#00ffe8 258deg,#00f7c3 259.1deg,#00f0a5 259.9deg,#00c131 262.2deg,#00c131 265.3deg,#00f0a5 266.2deg,#00ffe8 266.9deg,#00f4ff 267.3deg,#286eff 267.8deg,#4242e2 268.4deg,#4141d5 268.9deg,#4141d5 360deg)"></i><i style="left:63px;top:63px;width:264px;height:264px;background:conic-gradient(from -43.2deg,#4141d5 0deg,#4242e2 5.7deg,#3755ee 8.6deg,#2f62f7 14.9deg,#286eff 15.9deg,#2184ff 16.4deg,#00f4ff 17.5deg,#00f5fd 17.5deg,#00ffe8 18.6deg,#00fad3 19.2deg,#00f0a5 19.8deg,#00c63e 20.9deg,#00bb23 23.5deg,#00ec9a 28.5deg,#00f0a5 28.8deg,#00ffe8 31.5deg,#00f8f6 32.4deg,#00f4ff 33.8deg,#0dc7ff 36.4deg,#286eff 41.6deg,#2a6bfd 42.4deg,#3755ee 53deg,#4242e2 58.4deg,#4141d5 68.8deg,#4141d5 141.1deg,#4242e2 150.9deg,#3755ee 155.9deg,#325ef4 162.2deg,#286eff 163.2deg,#03ebff 165.1deg,#00f4ff 165.2deg,#00ffe8 165.8deg,#00f0a5 166.9deg,#00ce52 167.9deg,#00ce52 171.3deg,#00f0a5 172.4deg,#00ffe8 173.5deg,#00f4ff 174.1deg,#03ebff 174.2deg,#286eff 176.7deg,#2f63f8 177.6deg,#3755ee 183.4deg,#4243e2 198.2deg,#4243e2 240.1deg,#3459f1 250.1deg,#286eff 252.9deg,#14b1ff 255.1deg,#00f4ff 256.5deg,#00ffe8 257.6deg,#00f7c3 258.7deg,#00f0a5 259.4deg,#00c131 261.7deg,#00c131 264.7deg,#00f0a5 265.6deg,#00ffe8 266.3deg,#00f4ff 266.7deg,#286eff 267.1deg,#4242e2 267.7deg,#4141d5 268.2deg,#4141d5 360deg)"></i><i style="left:66px;top:66px;width:258px;height:258px;background:conic-gradient(from -44deg,#4141d5 0deg,#4242e2 5.6deg,#3755ee 8.4deg,#2f62f7 14.6deg,#286eff 15.7deg,#2184ff 16.1deg,#00f4ff 17.2deg,#00f5fd 17.2deg,#00ffe8 18.3deg,#00fad3 18.8deg,#00f0a5 19.4deg,#00c63e 20.5deg,#00bb24 23.1deg,#00ec9b 27.9deg,#00f0a5 28.3deg,#00ffe8 30.9deg,#00f8f6 31.8deg,#00f4ff 33.1deg,#0dc7ff 35.7deg,#286eff 40.8deg,#2a6bfd 41.6deg,#3755ee 52deg,#4242e2 57.3deg,#4141d5 67.6deg,#4141d5 141deg,#4242e2 150.7deg,#3755ee 155.7deg,#325ef4 161.9deg,#286eff 162.9deg,#03ebff 164.7deg,#00f4ff 164.8deg,#00ffe8 165.4deg,#00f0a5 166.5deg,#00cf53 167.5deg,#00cf53 170.9deg,#00f0a5 172deg,#00ffe8 173deg,#00f4ff 173.6deg,#03ebff 173.7deg,#286eff 176.2deg,#2f63f8 177.1deg,#3755ee 182.8deg,#4242e2 195deg,#4242e1 197.5deg,#4242e1 240.1deg,#4242e2 241.5deg,#3459f1 249.9deg,#286eff 252.7deg,#14b1ff 254.8deg,#00f4ff 256.1deg,#00ffe8 257.2deg,#00f7c3 258.2deg,#00f0a5 259deg,#00c131 261.2deg,#00c131 264.1deg,#00f0a5 265deg,#00ffe8 265.7deg,#00f4ff 266.1deg,#286eff 266.5deg,#4242e2 267.1deg,#4141d5 267.6deg,#4141d5 360deg)"></i><i style="left:69px;top:69px;width:252px;height:252px;background:conic-gradient(from -44.8deg,#4141d5 0deg,#4242e2 5.5deg,#3755ee 8.3deg,#2f62f7 14.4deg,#286eff 15.4deg,#2184ff 15.8deg,#00f4ff 16.9deg,#00f5fd 16.9deg,#00ffe8 17.9deg,#00fad3 18.5deg,#00f0a5 19.1deg,#00c63f 20.1deg,#00bc24 22.6deg,#00ec9b 27.4deg,#00f0a5 27.7deg,#00ffe8 30.3deg,#00f8f6 31.3deg,#00f4ff 32.5deg,#0dc7ff 35.1deg,#286eff 40.1deg,#2a6bfd 40.8deg,#3755ee 51deg,#4242e2 56.2deg,#4141d5 66.4deg,#4141d5 141deg,#4242e2 150.5deg,#3755ee 155.4deg,#325ef4 161.6deg,#286eff 162.6deg,#03ebff 164.4deg,#00f4ff 164.5deg,#00ffe8 165.1deg,#00f0a5 166.1deg,#00cf54 167.2deg,#00cf54 170.5deg,#00f0a5 171.5deg,#00ffe8 172.6deg,#00f4ff 173.2deg,#03ebff 173.3deg,#286eff 175.8deg,#2f63f8 176.6deg,#3755ee 182.2deg,#4242e2 192.3deg,#4242df 196.7deg,#4242df 240.2deg,#4242e2 242.7deg,#3459f1 249.7deg,#286eff 252.4deg,#14b1ff 254.5deg,#00f4ff 255.7deg,#00ffe8 256.8deg,#00f7c3 257.8deg,#00f0a5 258.6deg,#00c131 260.7deg,#00c131 263.6deg,#00f0a5 264.4deg,#00ffe8 265.1deg,#00f4ff 265.5deg,#286eff 265.9deg,#4242e2 266.4deg,#4141d5 266.9deg,#4141d5 360deg)"></i><i style="left:72px;top:72px;width:246px;height:246px;background:conic-gradient(from -45.6deg,#4141d5 0deg,#4242e2 5.4deg,#3755ee 8.1deg,#2f62f7 14.1deg,#286eff 15.1deg,#2184ff 15.5deg,#00f4ff 16.5deg,#00f5fd 16.6deg,#00ffe8 17.6deg,#00fad3 18.2deg,#00f0a5 18.7deg,#00c73f 19.7deg,#00bc25 22.2deg,#00ec9b 26.9deg,#00f0a5 27.2deg,#00ffe8 29.7deg,#00f8f6 30.7deg,#00f4ff 31.9deg,#0dc7ff 34.4deg,#286eff 39.3deg,#2a6bfd 40.1deg,#3755ee 50.1deg,#4242e2 55.2deg,#4141d5 65.1deg,#4141d5 140.8deg,#4242e2 150.3deg,#3755ee 155.2deg,#325ef4 161.2deg,#286eff 162.2deg,#03ebff 164deg,#00f4ff 164.1deg,#00ffe8 164.7deg,#00f0a5 165.7deg,#00d055 166.7deg,#00d055 170deg,#00f0a5 171deg,#00ffe8 172.1deg,#00f4ff 172.7deg,#03ebff 172.8deg,#286eff 175.2deg,#2f63f8 176.1deg,#3755ee 181.6deg,#4242e2 190.2deg,#4141dd 195.9deg,#4141dd 240.2deg,#4242e2 243.5deg,#3459f1 249.5deg,#286eff 252.1deg,#14b1ff 254.2deg,#00f4ff 255.4deg,#00ffe8 256.4deg,#00f7c3 257.4deg,#00f0a5 258.1deg,#00c131 260.2deg,#00c131 263deg,#00f0a5 263.9deg,#00ffe8 264.5deg,#00f4ff 264.9deg,#286eff 265.3deg,#4242e2 265.8deg,#4141d5 266.2deg,#4141d5 360deg)"></i><i style="left:75px;top:75px;width:240px;height:240px;background:conic-gradient(from -46.5deg,#4141d5 0deg,#4242e2 5.3deg,#3755ee 8deg,#2f62f7 13.8deg,#286eff 14.8deg,#2184ff 15.2deg,#00f4ff 16.2deg,#00f5fd 16.3deg,#00ffe8 17.2deg,#00fad3 17.8deg,#00f0a5 18.4deg,#00c740 19.3deg,#00bc26 21.8deg,#00ec9c 26.4deg,#00f0a5 26.7deg,#00ffe8 29.2deg,#00f8f6 30.1deg,#00f4ff 31.3deg,#0dc7ff 33.8deg,#286eff 38.6deg,#2a6bfd 39.3deg,#3755ee 49.1deg,#4242e2 54.1deg,#4141d5 63.9deg,#4141d5 140.4deg,#4242e2 149.8deg,#3755ee 154.6deg,#325ef4 160.5deg,#286eff 161.5deg,#03ebff 163.3deg,#00f4ff 163.4deg,#00ffe8 164deg,#00f0a5 165deg,#00d057 166deg,#00d057 169.2deg,#00f0a5 170.2deg,#00ffe8 171.2deg,#00f4ff 171.9deg,#03ebff 172deg,#286eff 174.4deg,#2f63f8 175.2deg,#3755ee 180.6deg,#4242e2 188.1deg,#4141dc 194.8deg,#4141dc 240.3deg,#4242e2 244.1deg,#3459f1 249.3deg,#286eff 251.8deg,#14b1ff 253.8deg,#00f4ff 255deg,#00ffe8 256.1deg,#00f7c3 257deg,#00f0a5 257.7deg,#00c131 259.7deg,#00c131 262.4deg,#00f0a5 263.3deg,#00ffe8 263.9deg,#00f4ff 264.2deg,#286eff 264.6deg,#4242e2 265.2deg,#4141d5 265.6deg,#4141d5 360deg)"></i><i style="left:78px;top:78px;width:234px;height:234px;background:conic-gradient(from -47.3deg,#4141d5 0deg,#4242e2 5.2deg,#3755ee 7.8deg,#2f62f7 13.5deg,#286eff 14.5deg,#2184ff 14.9deg,#00f4ff 15.9deg,#00f5fd 16deg,#00ffe8 16.9deg,#00fad3 17.5deg,#00f0a5 18deg,#00c740 19deg,#00bc26 21.4deg,#00ec9c 25.9deg,#00f0a5 26.1deg,#00ffe8 28.6deg,#00f8f6 29.5deg,#00f4ff 30.7deg,#0dc7ff 33.1deg,#286eff 37.8deg,#2a6bfd 38.5deg,#3755ee 48.2deg,#4242e2 53.1deg,#4141d5 62.6deg,#4141d5 140.1deg,#4242e2 149.3deg,#3755ee 154deg,#325ef4 159.9deg,#286eff 160.9deg,#03ebff 162.6deg,#00f4ff 162.7deg,#00ffe8 163.3deg,#00f0a5 164.3deg,#00d058 165.3deg,#00d058 168.5deg,#00f0a5 169.4deg,#00ffe8 170.5deg,#00f4ff 171.1deg,#03ebff 171.2deg,#286eff 173.6deg,#2f63f8 174.4deg,#3755ee 179.8deg,#4242e2 186.3deg,#4141da 193.7deg,#4141da 240.4deg,#4242e2 244.6deg,#3459f1 249.2deg,#286eff 251.6deg,#14b1ff 253.6deg,#00f4ff 254.7deg,#00ffe8 255.7deg,#00f7c3 256.6deg,#00f0a5 257.3deg,#00c131 259.3deg,#00c131 261.9deg,#00f0a5 262.7deg,#00ffe8 263.3deg,#00f4ff 263.7deg,#286eff 264.1deg,#4242e2 264.6deg,#4141d5 265deg,#4141d5 360deg)"></i><i style="left:81px;top:81px;width:228px;height:228px;background:conic-gradient(from -48.4deg,#4141d5 0deg,#4242e2 5.1deg,#3755ee 7.7deg,#2f62f7 13.3deg,#286eff 14.2deg,#2184ff 14.6deg,#00f4ff 15.6deg,#00f5fd 15.6deg,#00ffe8 16.6deg,#00fad3 17.1deg,#00f0a5 17.7deg,#00c741 18.6deg,#00bd27 20.9deg,#00ec9c 25.4deg,#00f0a5 25.6deg,#00ffe8 28deg,#00f8f6 28.9deg,#00f4ff 30.1deg,#0dc7ff 32.5deg,#286eff 37.1deg,#2a6bfd 37.8deg,#3755ee 47.2deg,#4242e2 52deg,#4141d5 61.4deg,#4141d5 139.9deg,#4242e2 149deg,#3755ee 153.7deg,#325ef4 159.5deg,#286eff 160.4deg,#03ebff 162.2deg,#00f4ff 162.3deg,#00ffe8 162.9deg,#00f0a5 164deg,#00d666 164.8deg,#00d666 168deg,#00f0a5 168.8deg,#00ffe8 169.9deg,#00f4ff 170.5deg,#03ebff 170.6deg,#286eff 173deg,#2f63f8 173.8deg,#3755ee 179.1deg,#4242e2 184.9deg,#4141d9 192.9deg,#4141d9 240.7deg,#4242e2 245.2deg,#3459f1 249.2deg,#286eff 251.6deg,#14b1ff 253.5deg,#00f4ff 254.6deg,#00ffe8 255.6deg,#00f7c3 256.5deg,#00f0a5 257.1deg,#00c131 259deg,#00c131 261.6deg,#00f0a5 262.4deg,#00ffe8 263deg,#00f4ff 263.3deg,#286eff 263.7deg,#4242e2 264.2deg,#4141d5 264.6deg,#4141d5 360deg)"></i><i style="left:84px;top:84px;width:222px;height:222px;background:conic-gradient(from -49.5deg,#4141d5 0deg,#4242e2 5deg,#3755ee 7.5deg,#2f62f7 13deg,#286eff 13.9deg,#2184ff 14.3deg,#00f4ff 15.3deg,#00f5fd 15.3deg,#00ffe8 16.2deg,#00fad3 16.8deg,#00f0a5 17.3deg,#00c741 18.2deg,#00bd27 20.5deg,#00ed9d 24.9deg,#00f0a5 25.1deg,#00ffe8 27.5deg,#00f8f6 28.3deg,#00f4ff 29.5deg,#0dc7ff 31.8deg,#286eff 36.3deg,#2a6bfd 37deg,#3755ee 46.2deg,#4242e2 51deg,#4141d5 60.1deg,#4141d5 139.8deg,#4242e2 148.7deg,#3755ee 153.4deg,#325ef4 159.1deg,#286eff 160deg,#03ebff 161.7deg,#00f4ff 161.8deg,#00ffe8 162.5deg,#00f0a5 163.7deg,#00de78 164.3deg,#00de78 167.5deg,#00f0a5 168.1deg,#00ffe8 169.3deg,#00f4ff 170deg,#03ebff 170.1deg,#286eff 172.4deg,#2f63f8 173.2deg,#3755ee 178.4deg,#4242e2 183.7deg,#4141d7 192deg,#4141d7 241deg,#4242e2 245.7deg,#3459f1 249.3deg,#286eff 251.6deg,#14b1ff 253.4deg,#00f4ff 254.5deg,#00ffe8 255.4deg,#00f7c3 256.3deg,#00f0a5 256.9deg,#00c131 258.8deg,#00c131 261.3deg,#00f0a5 262.1deg,#00ffe8 262.6deg,#00f4ff 263deg,#286eff 263.3deg,#4242e2 263.8deg,#4141d5 264.2deg,#4141d5 360deg)"></i><i style="left:87px;top:87px;width:216px;height:216px;background:conic-gradient(from -50.6deg,#4141d5 0deg,#4242e2 4.9deg,#3755ee 7.4deg,#2f62f7 12.7deg,#286eff 13.6deg,#2184ff 14deg,#00f4ff 15deg,#00f5fd 15deg,#00ffe8 15.9deg,#00fad3 16.4deg,#00f0a5 16.9deg,#00c842 17.8deg,#00bd28 20.1deg,#00ed9d 24.3deg,#00f0a5 24.6deg,#00ffe8 26.9deg,#00f8f6 27.7deg,#00f4ff 28.9deg,#0dc7ff 31.1deg,#286eff 35.6deg,#2a6bfd 36.2deg,#3755ee 45.3deg,#4242e2 49.9deg,#4141d5 58.9deg,#4141d5 139.6deg,#4242e2 148.5deg,#3755ee 153deg,#325ef4 158.7deg,#286eff 159.6deg,#03ebff 161.3deg,#00f4ff 161.4deg,#00ffe8 162.1deg,#00f0a5 163.4deg,#00e589 163.9deg,#00e589 166.9deg,#00f0a5 167.4deg,#00ffe8 168.6deg,#00f4ff 169.4deg,#03ebff 169.5deg,#286eff 171.8deg,#2f63f8 172.6deg,#3755ee 177.8deg,#4242e2 182.5deg,#4141d6 191.2deg,#4141d6 241.3deg,#4242e2 247.2deg,#3b4eea 249.3deg,#296cfe 253.3deg,#286eff 253.5deg,#00f4ff 256.1deg,#00f5fd 256.2deg,#00ffe8 257.1deg,#00f1aa 258.6deg,#00f1aa 261deg,#00ffe8 261.6deg,#00f4ff 262deg,#1a9eff 262.6deg,#286eff 262.7deg,#4242e2 263.3deg,#4141d5 263.8deg,#4141d5 360deg)"></i><i style="left:90px;top:90px;width:210px;height:210px;background:conic-gradient(from -51.6deg,#4141d5 0deg,#4242e2 4.8deg,#3755ee 7.2deg,#2f62f7 12.5deg,#286eff 13.3deg,#2184ff 13.7deg,#00f4ff 14.6deg,#00f5fd 14.7deg,#00ffe8 15.6deg,#00fad3 16.1deg,#00f0a5 16.6deg,#00c843 17.5deg,#00bd29 19.7deg,#00ed9d 23.8deg,#00f0a5 24deg,#00ffe8 26.3deg,#00f8f6 27.1deg,#00f4ff 28.3deg,#0dc7ff 30.5deg,#286eff 34.8deg,#2a6bfd 35.5deg,#3755ee 44.3deg,#4242e2 48.8deg,#4141d5 57.6deg,#4141d5 139.5deg,#4242e2 148.2deg,#3755ee 152.7deg,#325ef4 158.3deg,#286eff 159.2deg,#03ebff 160.8deg,#00f4ff 161deg,#00ffe8 161.8deg,#00f0a5 163.2deg,#00ec9a 163.4deg,#00ec9a 166.4deg,#00f0a5 166.6deg,#00ffe8 168deg,#00f4ff 168.8deg,#03ebff 169deg,#286eff 171.2deg,#2f63f8 172deg,#3755ee 177.1deg,#4242e2 181.6deg,#4141d5 190.3deg,#4141d5 241.4deg,#4242de 249.3deg,#4242e2 251.8deg,#3e48e6 253.3deg,#335bf3 256deg,#286eff 258.3deg,#2770ff 258.4deg,#2770ff 260.8deg,#286eff 260.8deg,#3a4feb 262.3deg,#4242e2 262.7deg,#4141d5 263.5deg,#4141d5 360deg)"></i><i style="left:93px;top:93px;width:204px;height:204px;background:conic-gradient(from -52.7deg,#4141d5 0deg,#4242e2 4.7deg,#3755ee 7deg,#2f62f7 12.2deg,#286eff 13.1deg,#2184ff 13.4deg,#00f4ff 14.3deg,#00f5fd 14.4deg,#00ffe8 15.2deg,#00fad3 15.7deg,#00f0a5 16.2deg,#00c843 17.1deg,#00be29 19.2deg,#00ed9e 23.3deg,#00f0a5 23.5deg,#00ffe8 25.7deg,#00f8f6 26.6deg,#00f4ff 27.6deg,#0dc7ff 29.8deg,#286eff 34.1deg,#2a6bfd 34.7deg,#3755ee 43.4deg,#4242e2 47.8deg,#4141d5 56.4deg,#4141d5 138.3deg,#4242e2 146.9deg,#3755ee 151.3deg,#325ef4 156.8deg,#286eff 157.7deg,#03ebff 159.3deg,#00f4ff 159.5deg,#00ffe8 160.4deg,#00f1aa 161.8deg,#00f1aa 164.8deg,#00ffe8 166.3deg,#00f4ff 167.2deg,#03ebff 167.3deg,#286eff 169.6deg,#2f63f8 170.3deg,#3755ee 175.4deg,#4242e2 179.8deg,#4141d5 188.4deg,#4141d5 241.5deg,#4141d6 249.3deg,#4141d7 253.2deg,#4141d8 255.9deg,#4141d9 258.2deg,#4141d9 260.6deg,#4141d7 262.1deg,#4141d5 263.3deg,#4141d5 360deg)"></i><i style="left:96px;top:96px;width:198px;height:198px;background:conic-gradient(from -53.8deg,#4141d5 0deg,#4242e2 4.5deg,#3755ee 6.9deg,#2f62f7 11.9deg,#286eff 12.8deg,#2184ff 13.1deg,#00f4ff 14deg,#00f5fd 14deg,#00ffe8 14.9deg,#00fad3 15.4deg,#00f0a5 15.9deg,#00c844 16.7deg,#00be2a 18.8deg,#00ed9e 22.8deg,#00f0a5 23deg,#00ffe8 25.2deg,#00f8f6 26deg,#00f4ff 27deg,#0dc7ff 29.2deg,#286eff 33.3deg,#2a6bfd 33.9deg,#3755ee 42.4deg,#4242e2 46.7deg,#4141d5 55.1deg,#4141d5 135.9deg,#4242e2 144.7deg,#3755ee 149.2deg,#325ef4 154.9deg,#286eff 155.8deg,#03ebff 157.4deg,#00f4ff 157.6deg,#00ffe8 158.7deg,#00f4b8 160deg,#00f4b8 163.1deg,#00ffe8 164.4deg,#00f4ff 165.5deg,#03ebff 165.7deg,#286eff 167.9deg,#2f63f8 168.7deg,#3755ee 173.9deg,#4242e2 178.4deg,#4141d5 187.2deg,#4141d5 259.2deg,#4141d5 360deg)"></i><i style="left:99px;top:99px;width:192px;height:192px;background:conic-gradient(from -54.9deg,#4141d5 0deg,#4242e2 4.4deg,#3755ee 6.7deg,#2f62f7 11.7deg,#286eff 12.5deg,#2184ff 12.8deg,#00f4ff 13.7deg,#00f5fd 13.7deg,#00ffe8 14.5deg,#00fad3 15deg,#00f0a5 15.5deg,#00c944 16.3deg,#00be2a 18.4deg,#00ed9e 22.3deg,#00f0a5 22.4deg,#00ffe8 24.6deg,#00f8f6 25.4deg,#00f4ff 26.4deg,#0dc7ff 28.5deg,#286eff 32.5deg,#2a6bfd 33.2deg,#3755ee 41.4deg,#4242e2 45.7deg,#4141d5 53.9deg,#4141d5 133.2deg,#4242e2 142.3deg,#3755ee 147deg,#325ef4 152.9deg,#286eff 153.8deg,#03ebff 155.5deg,#00f4ff 155.7deg,#00ffe8 157deg,#00f7c6 158.2deg,#00f7c6 161.4deg,#00ffe8 162.5deg,#00f4ff 163.8deg,#03ebff 164deg,#286eff 166.4deg,#2f63f8 167.2deg,#3755ee 172.5deg,#4242e2 177.2deg,#4141d5 186.3deg,#4141d5 259deg,#4141d5 360deg)"></i><i style="left:102px;top:102px;width:186px;height:186px;background:conic-gradient(from -56deg,#4141d5 0deg,#4242e2 4.3deg,#3755ee 6.6deg,#2f62f7 11.4deg,#286eff 12.2deg,#2184ff 12.5deg,#00f4ff 13.4deg,#00f5fd 13.4deg,#00ffe8 14.2deg,#00fad3 14.7deg,#00f0a5 15.1deg,#00c945 15.9deg,#00be2b 18deg,#00ed9f 21.8deg,#00f0a5 21.9deg,#00ffe8 24deg,#00f8f6 24.8deg,#00f4ff 25.8deg,#0dc7ff 27.8deg,#286eff 31.8deg,#2a6bfd 32.4deg,#3755ee 40.5deg,#4242e2 44.6deg,#4141d5 52.6deg,#4141d5 130.7deg,#4242e2 140.1deg,#3755ee 144.9deg,#325ef4 151deg,#286eff 151.9deg,#03ebff 153.7deg,#00f4ff 154deg,#00ffe8 155.6deg,#00fad3 156.4deg,#00fad3 159.7deg,#00ffe8 160.6deg,#00f4ff 162.2deg,#03ebff 162.5deg,#286eff 164.9deg,#2f63f8 165.7deg,#3755ee 171.2deg,#4242e2 176.1deg,#4141d5 185.4deg,#4141d5 258.8deg,#4141d5 360deg)"></i><i style="left:105px;top:105px;width:180px;height:180px;background:conic-gradient(from -57.5deg,#4141d5 0deg,#4242e2 4.3deg,#3755ee 6.6deg,#2f62f7 11.4deg,#286eff 12.2deg,#2184ff 12.6deg,#00f4ff 13.4deg,#00f5fd 13.4deg,#00ffe8 14.2deg,#00fad3 14.7deg,#00f0a5 15.2deg,#00c945 15.9deg,#00bf2c 18deg,#00ee9f 21.8deg,#00f0a5 21.9deg,#00ffe8 24deg,#00f8f6 24.8deg,#00f4ff 25.8deg,#0dc7ff 27.8deg,#286eff 31.8deg,#2a6bfd 32.4deg,#3755ee 40.5deg,#4242e2 44.6deg,#4141d5 52.6deg,#4141d5 129.2deg,#4242e2 138.9deg,#3755ee 143.9deg,#325ef4 150.1deg,#286eff 151deg,#03ebff 152.9deg,#00f4ff 153.2deg,#00ffe8 155.3deg,#00fde1 155.7deg,#00fde1 159.1deg,#00ffe8 159.4deg,#00f4ff 161.6deg,#03ebff 161.9deg,#286eff 164.4deg,#2f63f8 165.3deg,#3755ee 170.9deg,#4242e2 175.9deg,#4141d5 185.6deg,#4141d5 259.1deg,#4141d5 360deg)"></i><i style="left:108px;top:108px;width:174px;height:174px;background:conic-gradient(from -59.5deg,#4141d5 0deg,#4242e2 4.5deg,#3755ee 6.7deg,#2f62f7 11.7deg,#286eff 12.5deg,#2184ff 12.9deg,#00f4ff 13.7deg,#00f5fd 13.7deg,#00ffe8 14.6deg,#00fad3 15deg,#00f0a5 15.5deg,#00c946 16.3deg,#00bf2c 18.4deg,#00ee9f 22.3deg,#00f0a5 22.5deg,#00ffe8 24.6deg,#00f8f6 25.4deg,#00f4ff 26.5deg,#0dc7ff 28.5deg,#286eff 32.6deg,#2a6bfd 33.2deg,#3755ee 41.5deg,#4242e2 45.7deg,#4141d5 54deg,#4141d5 128.1deg,#4242e2 138.1deg,#3755ee 143.2deg,#325ef4 149.6deg,#286eff 150.6deg,#03ebff 152.5deg,#00f4ff 152.9deg,#00fdec 155.4deg,#00fdec 158.9deg,#00f4ff 161.3deg,#03ebff 161.8deg,#286eff 164.3deg,#2f63f8 165.3deg,#3755ee 171.1deg,#4242e2 176.2deg,#4141d5 186.2deg,#4141d5 259.8deg,#4141d5 360deg)"></i><i style="left:111px;top:111px;width:168px;height:168px;background:conic-gradient(from -61.5deg,#4141d5 0deg,#4242e2 4.6deg,#3755ee 6.9deg,#2f62f7 12deg,#286eff 12.8deg,#2184ff 13.2deg,#00f4ff 14deg,#00f5fd 14.1deg,#00ffe8 14.9deg,#00fad3 15.4deg,#00f0a5 15.9deg,#00c946 16.7deg,#00bf2d 18.9deg,#00eea0 22.8deg,#00f0a5 23deg,#00ffe8 25.2deg,#00f8f6 26deg,#00f4ff 27.1deg,#0dc7ff 29.2deg,#286eff 33.4deg,#2a6bfd 34deg,#3755ee 42.5deg,#4242e2 46.8deg,#4141d5 55.2deg,#4141d5 127deg,#4242e2 137.2deg,#3755ee 142.5deg,#325ef4 149.1deg,#286eff 150.1deg,#03ebff 152.1deg,#00f4ff 152.6deg,#00fcee 155.1deg,#00fcee 158.6deg,#00f4ff 161.1deg,#03ebff 161.6deg,#286eff 164.3deg,#2f63f8 165.2deg,#3755ee 171.2deg,#4242e2 176.5deg,#4141d5 186.7deg,#4141d5 260.5deg,#4141d5 360deg)"></i><i style="left:114px;top:114px;width:162px;height:162px;background:conic-gradient(from -63.5deg,#4141d5 0deg,#4242e2 4.7deg,#3755ee 7.1deg,#2f62f7 12.2deg,#286eff 13.1deg,#2184ff 13.5deg,#00f4ff 14.4deg,#00f5fd 14.4deg,#00ffe8 15.3deg,#00fad3 15.8deg,#00f0a5 16.3deg,#00ca47 17.1deg,#00bf2d 19.3deg,#00eea0 23.4deg,#00f0a5 23.5deg,#00ffe8 25.8deg,#00f8f6 26.6deg,#00f4ff 27.7deg,#0dc7ff 29.9deg,#286eff 34.2deg,#2a6bfd 34.8deg,#3755ee 43.5deg,#4242e2 47.9deg,#4141d5 56.5deg,#4141d5 125.3deg,#4242e2 136deg,#3755ee 141.5deg,#325ef4 148.4deg,#286eff 149.5deg,#03ebff 151.6deg,#00f4ff 152.1deg,#00fcef 154.7deg,#00fcef 158.5deg,#00f4ff 161deg,#03ebff 161.6deg,#286eff 164.4deg,#2f63f8 165.4deg,#3755ee 171.6deg,#4242e2 177.2deg,#4141d5 187.9deg,#4141d5 261.3deg,#4141d5 360deg)"></i><i style="left:117px;top:117px;width:156px;height:156px;background:conic-gradient(from -65.5deg,#4141d5 0deg,#4242e2 4.8deg,#3755ee 7.2deg,#2f62f7 12.5deg,#286eff 13.4deg,#2184ff 13.8deg,#00f4ff 14.7deg,#00f5fd 14.7deg,#00ffe8 15.6deg,#00fad3 16.1deg,#00f0a5 16.7deg,#00ca47 17.5deg,#00c02e 19.7deg,#00eea0 23.9deg,#00f0a5 24deg,#00ffe8 26.4deg,#00f8f6 27.3deg,#00f4ff 28.4deg,#0dc7ff 30.6deg,#286eff 34.9deg,#2a6bfd 35.6deg,#3755ee 44.5deg,#4242e2 49deg,#4141d5 57.9deg,#4141d5 123.4deg,#4242e2 134.7deg,#3755ee 140.5deg,#325ef4 147.8deg,#286eff 148.9deg,#03ebff 151.1deg,#00f4ff 151.7deg,#00fbf0 154.4deg,#00fbf0 158.3deg,#00f4ff 161deg,#03ebff 161.6deg,#286eff 164.5deg,#2f63f8 165.6deg,#3755ee 172.1deg,#4242e2 178deg,#4141d5 189.3deg,#4141d5 262deg,#4141d5 360deg)"></i><i style="left:120px;top:120px;width:150px;height:150px;background:conic-gradient(from -67.4deg,#4141d5 0deg,#4242e2 4.9deg,#3755ee 7.4deg,#2f62f7 12.8deg,#286eff 13.7deg,#2184ff 14.1deg,#00f4ff 15deg,#00f5fd 15.1deg,#00ffe8 16deg,#00fad3 16.5deg,#00f0a5 17deg,#00ca48 17.9deg,#00c02f 20.2deg,#00eea1 24.5deg,#00f0a5 24.6deg,#00ffe8 27deg,#00f8f6 27.9deg,#00f4ff 29deg,#0dc7ff 31.3deg,#286eff 35.7deg,#2a6bfd 36.4deg,#3755ee 45.5deg,#4242e2 50.1deg,#4141d5 59.1deg,#4141d5 121.5deg,#4242e2 133.4deg,#3755ee 139.5deg,#325ef4 147.1deg,#286eff 148.3deg,#03ebff 150.5deg,#00f4ff 151.2deg,#00fbf1 154deg,#00fbf1 158.1deg,#00f4ff 160.9deg,#03ebff 161.6deg,#286eff 164.6deg,#2f63f8 165.7deg,#3755ee 172.6deg,#4242e2 178.8deg,#4141d5 190.6deg,#4141d5 262.7deg,#4141d5 360deg)"></i><i style="left:123px;top:123px;width:144px;height:144px;background:conic-gradient(from -69.4deg,#4141d5 0deg,#4242e2 5deg,#3755ee 7.6deg,#2f62f7 13.1deg,#286eff 14deg,#2184ff 14.4deg,#00f4ff 15.4deg,#00f5fd 15.4deg,#00ffe8 16.3deg,#00fad3 16.9deg,#00f0a5 17.4deg,#00ca48 18.3deg,#00c02f 20.6deg,#00eea1 25deg,#00f0a5 25.1deg,#00ffe8 27.6deg,#00f8f6 28.5deg,#00f4ff 29.6deg,#0dc7ff 32deg,#286eff 36.5deg,#2a6bfd 37.2deg,#3755ee 46.5deg,#4242e2 51.2deg,#4141d5 60.5deg,#4141d5 119.6deg,#4242e2 132deg,#3755ee 138.4deg,#325ef4 146.4deg,#286eff 147.7deg,#03ebff 150deg,#00f4ff 150.8deg,#00faf2 153.6deg,#00faf2 158deg,#00f4ff 160.8deg,#03ebff 161.6deg,#286eff 164.8deg,#2f63f8 165.9deg,#3755ee 173.2deg,#4242e2 179.5deg,#4141d5 192deg,#4141d5 263.4deg,#4141d5 360deg)"></i><i style="left:126px;top:126px;width:138px;height:138px;background:conic-gradient(from -71.4deg,#4141d5 0deg,#4242e2 5.1deg,#3755ee 7.7deg,#2f62f7 13.4deg,#286eff 14.3deg,#2184ff 14.7deg,#00f4ff 15.7deg,#00f5fd 15.7deg,#00ffe8 16.7deg,#00fad3 17.2deg,#00f0a5 17.8deg,#00cb49 18.7deg,#00c030 21.1deg,#00eea1 25.5deg,#00f0a5 25.6deg,#00ffe8 28.2deg,#00f8f6 29.1deg,#00f4ff 30.3deg,#0dc7ff 32.7deg,#286eff 37.3deg,#2a6bfd 38deg,#3755ee 47.5deg,#4242e2 52.3deg,#4141d5 61.8deg,#4141d5 118deg,#4242e2 131deg,#3755ee 137.7deg,#325ef4 146deg,#286eff 147.4deg,#03ebff 149.8deg,#00f4ff 150.7deg,#00faf3 153.6deg,#00faf3 158.2deg,#00f4ff 161.1deg,#03ebff 161.9deg,#286eff 165.3deg,#2f63f8 166.5deg,#3755ee 174.1deg,#4242e2 180.8deg,#4141d5 193.7deg,#4141d5 264.1deg,#4141d5 360deg)"></i><i style="left:129px;top:129px;width:132px;height:132px;background:conic-gradient(from -73.8deg,#4141d5 0deg,#4242e2 5.3deg,#3755ee 8deg,#2f62f7 13.8deg,#286eff 14.8deg,#2184ff 15.2deg,#00f4ff 16.2deg,#00f5fd 16.3deg,#00ffe8 17.3deg,#00fad3 17.8deg,#00f0a5 18.4deg,#00cb4a 19.4deg,#00c030 21.8deg,#00efa2 26.4deg,#00f0a5 26.5deg,#00ffe8 29.2deg,#00f8f6 30.1deg,#00f4ff 31.3deg,#0dc7ff 33.8deg,#286eff 38.6deg,#2a6bfd 39.3deg,#3755ee 49.2deg,#4242e2 54.2deg,#4141d5 63.9deg,#4141d5 116.5deg,#4242e2 130.2deg,#3755ee 137.3deg,#325ef4 146.1deg,#286eff 147.5deg,#03ebff 150.1deg,#00f4ff 151deg,#00f9f4 154.1deg,#00f9f4 158.9deg,#00f4ff 161.9deg,#03ebff 162.9deg,#286eff 166.4deg,#2f63f8 167.7deg,#3755ee 175.7deg,#4242e2 182.7deg,#4141d5 196.5deg,#4141d5 265.3deg,#4141d5 360deg)"></i><i style="left:132px;top:132px;width:126px;height:126px;background:conic-gradient(from -76.6deg,#4141d5 0deg,#4242e2 5.5deg,#3755ee 8.4deg,#2f62f7 14.5deg,#286eff 15.5deg,#2184ff 16deg,#00f4ff 17deg,#00f5fd 17deg,#00ffe8 18.1deg,#00fad3 18.7deg,#00f0a5 19.3deg,#00cb4a 20.3deg,#00c131 22.8deg,#00efa2 27.7deg,#00f0a5 27.8deg,#00ffe8 30.5deg,#00f8f6 31.5deg,#00f4ff 32.8deg,#0dc7ff 35.4deg,#286eff 40.4deg,#2a6bfd 41.2deg,#3755ee 51.5deg,#4242e2 56.7deg,#4141d5 66.9deg,#4141d5 115.3deg,#4242e2 129.8deg,#3755ee 137.2deg,#325ef4 146.5deg,#286eff 148deg,#03ebff 150.7deg,#00f4ff 151.8deg,#00f9f5 154.9deg,#00f9f5 160deg,#00f4ff 163.1deg,#03ebff 164.2deg,#286eff 167.9deg,#2f63f8 169.3deg,#3755ee 177.7deg,#4242e2 185.1deg,#4141d5 199.6deg,#4141d5 266.8deg,#4141d5 360deg)"></i><i style="left:135px;top:135px;width:120px;height:120px;background:conic-gradient(from -79.5deg,#4141d5 0deg,#4242e2 5.8deg,#3755ee 8.7deg,#2f62f7 15.1deg,#286eff 16.2deg,#2184ff 16.7deg,#00f4ff 17.8deg,#00f5fd 17.8deg,#00ffe8 18.9deg,#00fad3 19.5deg,#00f0a5 20.2deg,#00ce52 21.2deg,#00c43a 23.9deg,#00f0a5 28.8deg,#00f0a6 28.9deg,#00ffe8 31.8deg,#00f8f6 32.9deg,#00f4ff 34.3deg,#0dc7ff 37deg,#286eff 42.2deg,#2a6bfd 43deg,#3755ee 53.8deg,#4242e2 59.3deg,#4141d5 69.9deg,#4141d5 114.2deg,#4242e2 129.4deg,#3755ee 137.2deg,#325ef4 147deg,#286eff 148.5deg,#03ebff 151.4deg,#00f4ff 152.6deg,#00f9f6 155.8deg,#00f9f6 161.1deg,#00f4ff 164.3deg,#03ebff 165.6deg,#286eff 169.5deg,#2f63f8 170.9deg,#3755ee 179.7deg,#4242e2 187.6deg,#4141d5 202.8deg,#4141d5 268.4deg,#4141d5 360deg)"></i><i style="left:138px;top:138px;width:114px;height:114px;background:conic-gradient(from -82.3deg,#4141d6 0deg,#4242e2 5.9deg,#3755ee 9.1deg,#2f62f7 15.8deg,#286eff 16.9deg,#2184ff 17.4deg,#00f4ff 18.5deg,#00f5fd 18.6deg,#00ffe8 19.7deg,#00fad3 20.3deg,#00f0a5 21.1deg,#00d562 22.1deg,#00cb4b 24.9deg,#00f0a5 29.5deg,#00f2ae 30.1deg,#00ffe8 33.1deg,#00f8f6 34.3deg,#00f4ff 35.7deg,#0dc7ff 38.6deg,#286eff 44deg,#2a6bfd 44.9deg,#3755ee 56.1deg,#4242e2 62deg,#4141d6 72.9deg,#4141d6 113deg,#4242e2 128.7deg,#3755ee 137.2deg,#325ef4 147.4deg,#286eff 149deg,#03ebff 152deg,#00f4ff 153.4deg,#00f8f7 156.7deg,#00f8f7 162.3deg,#00f4ff 165.5deg,#03ebff 166.9deg,#286eff 171deg,#2f63f8 172.5deg,#3755ee 181.8deg,#4242e2 190.3deg,#4141d6 205.9deg,#4141d6 269.9deg,#4141d6 360deg)"></i><i style="left:141px;top:141px;width:108px;height:108px;background:conic-gradient(from -85.1deg,#4141d7 0deg,#4242e2 5.9deg,#3755ee 9.5deg,#2f62f7 16.4deg,#286eff 17.6deg,#2184ff 18.1deg,#00f4ff 19.3deg,#00f5fd 19.3deg,#00ffe8 20.5deg,#00fad3 21.2deg,#00f0a5 22.1deg,#00db71 23deg,#00d35d 25.9deg,#00f0a5 30.2deg,#00f4b6 31.4deg,#00ffe8 34.3deg,#00f8f6 35.8deg,#00f4ff 37.2deg,#0dc7ff 40.1deg,#286eff 45.9deg,#2a6bfd 46.7deg,#3755ee 58.4deg,#4242e2 65.1deg,#4141d7 75.9deg,#4141d7 111.9deg,#4242e2 127.5deg,#3755ee 137.2deg,#325ef4 147.8deg,#286eff 149.5deg,#03ebff 152.7deg,#00f4ff 154.2deg,#00f8f7 157.6deg,#00f8f7 163.4deg,#00f4ff 166.7deg,#03ebff 168.2deg,#286eff 172.5deg,#2f63f8 174.1deg,#3755ee 183.8deg,#4242e2 193.5deg,#4141d7 209deg,#4141d7 271.5deg,#4141d7 360deg)"></i><i style="left:144px;top:144px;width:102px;height:102px;background:conic-gradient(from -87.9deg,#4141d9 0deg,#4242e2 5.7deg,#3755ee 9.9deg,#2f62f7 17.1deg,#286eff 18.3deg,#2184ff 18.8deg,#00f4ff 20.1deg,#00f5fd 20.1deg,#00ffe8 21.3deg,#00fad3 22deg,#00f0a5 23.2deg,#00e181 23.9deg,#00da6e 26.9deg,#00f0a5 30.6deg,#00f5bd 32.6deg,#00ffe8 35.5deg,#00f8f6 37.2deg,#00f4ff 38.7deg,#0dc7ff 41.7deg,#286eff 47.7deg,#2a6bfd 48.6deg,#3755ee 60.7deg,#4242e2 68.3deg,#4141d9 78.9deg,#4141d9 110.8deg,#4242e2 126.1deg,#3755ee 137.1deg,#325ef4 148.3deg,#286eff 150.1deg,#03ebff 153.4deg,#00f4ff 155.1deg,#00f7f8 158.4deg,#00f7f8 164.5deg,#00f4ff 167.8deg,#03ebff 169.6deg,#286eff 174.1deg,#2f63f8 175.7deg,#3755ee 185.8deg,#4242e2 196.8deg,#4141d9 212.2deg,#4141d9 273deg,#4141d9 360deg)"></i><i style="left:147px;top:147px;width:96px;height:96px;background:conic-gradient(from -90.8deg,#4141da 0deg,#4242e2 5.5deg,#3755ee 10.2deg,#2f62f7 17.7deg,#286eff 19deg,#2184ff 19.5deg,#00f4ff 20.8deg,#00f5fd 20.9deg,#00ffe8 22.1deg,#00fad3 22.8deg,#00f0a5 24.3deg,#00e891 24.8deg,#00e17f 28deg,#00f0a5 30.8deg,#00f7c5 33.9deg,#00ffe8 36.7deg,#00f8f6 38.6deg,#00f4ff 40.2deg,#0dc7ff 43.3deg,#286eff 49.5deg,#2a6bfd 50.4deg,#3755ee 63deg,#4242e2 71.7deg,#4141da 81.9deg,#4141da 109.3deg,#4242e2 124.3deg,#3755ee 137deg,#325ef4 148.7deg,#286eff 150.6deg,#03ebff 154.1deg,#00f4ff 156.1deg,#00f7f9 159.4deg,#00f7f9 165.8deg,#00f4ff 169deg,#03ebff 171.1deg,#286eff 175.8deg,#2f63f8 177.5deg,#3755ee 188.1deg,#4242e2 200.9deg,#4141da 215.8deg,#4141da 274.6deg,#4141da 360deg)"></i><i style="left:150px;top:150px;width:90px;height:90px;background:conic-gradient(from -93.6deg,#4141dc 0deg,#4242e2 5.2deg,#3755ee 10.6deg,#2f62f7 18.4deg,#286eff 19.7deg,#2184ff 20.2deg,#00f4ff 21.6deg,#00f5fd 21.6deg,#00ffe8 22.9deg,#00fad3 23.7deg,#00f0a5 25.6deg,#00eea0 25.7deg,#00e891 29deg,#00f0a5 30.8deg,#00f9cc 35.1deg,#00ffe8 37.7deg,#00f8f6 40deg,#00f4ff 41.6deg,#0dc7ff 44.9deg,#286eff 51.3deg,#2a6bfd 52.2deg,#3755ee 65.3deg,#4242e2 75.3deg,#4141dc 84.9deg,#4141dc 106.5deg,#4242e2 121.1deg,#3755ee 136.5deg,#325ef4 149.2deg,#286eff 151.2deg,#03ebff 154.9deg,#00f4ff 157.4deg,#00f6fa 160.7deg,#00f6fa 167.6deg,#00f4ff 170.9deg,#03ebff 173.4deg,#286eff 178.5deg,#2f63f8 180.3deg,#3755ee 191.8deg,#4242e2 207.2deg,#4141dc 221.8deg,#4141dc 276.2deg,#4141dc 360deg)"></i><i style="left:153px;top:153px;width:84px;height:84px;background:conic-gradient(from -96.4deg,#4141dd 0deg,#4242e2 4.6deg,#3755ee 11deg,#2f62f7 19deg,#286eff 20.4deg,#2184ff 21deg,#00f4ff 22.3deg,#00f5fd 22.4deg,#00ffe8 23.7deg,#00fad3 24.5deg,#00f2ae 26.6deg,#00f0a5 29.3deg,#00efa2 30deg,#00f0a5 30.3deg,#00fad4 36.3deg,#00ffe8 38.6deg,#00f8f6 41.4deg,#00f4ff 43.1deg,#0dc7ff 46.5deg,#286eff 53.1deg,#2a6bfd 54.1deg,#3755ee 67.6deg,#4242e2 79.3deg,#4141dd 87.9deg,#4141dd 103.7deg,#4242e2 117.3deg,#3755ee 135.9deg,#325ef4 149.6deg,#286eff 151.8deg,#03ebff 155.8deg,#00f4ff 158.8deg,#00f6fb 162deg,#00f6fb 169.5deg,#00f4ff 172.7deg,#03ebff 175.7deg,#286eff 181.2deg,#2f63f8 183.1deg,#3755ee 195.6deg,#4242e2 214.2deg,#4141dd 227.9deg,#4141dd 277.7deg,#4141dd 360deg)"></i><i style="left:156px;top:156px;width:78px;height:78px;background:conic-gradient(from -100.5deg,#4242df 0deg,#4242e2 3.9deg,#3755ee 11.6deg,#2f62f7 20.1deg,#286eff 21.5deg,#2184ff 22.2deg,#00f4ff 23.6deg,#00f5fd 23.7deg,#00ffe8 25.1deg,#00fad3 25.9deg,#00f5bc 28.2deg,#00f3b2 31.7deg,#00fcdc 38.4deg,#00ffe8 40.2deg,#00f8f6 43.8deg,#00f4ff 45.6deg,#0dc7ff 49.2deg,#286eff 56.2deg,#2a6bfd 57.2deg,#3755ee 71.5deg,#4242e2 85.7deg,#4242df 93deg,#4242df 102.1deg,#4242e2 113.8deg,#3755ee 136.7deg,#325ef4 151.3deg,#286eff 153.6deg,#03ebff 158deg,#00f4ff 161.6deg,#00f5fc 164.6deg,#00f5fc 172.6deg,#00f4ff 175.6deg,#03ebff 179.2deg,#286eff 185.1deg,#2f63f8 187.2deg,#3755ee 200.5deg,#4242e2 223.4deg,#4242df 235.1deg,#4242df 280.5deg,#4242df 360deg)"></i><i style="left:159px;top:159px;width:72px;height:72px;background:conic-gradient(from -104.8deg,#4242e0 0deg,#4242e2 2.8deg,#3755ee 12.3deg,#2f62f7 21.3deg,#286eff 22.8deg,#2184ff 23.5deg,#00f4ff 25deg,#00f5fd 25.1deg,#00ffe8 26.6deg,#00fad3 27.4deg,#00f8ca 29.8deg,#00f7c2 33.6deg,#00fee5 40.7deg,#00ffe8 41.3deg,#00f8f6 46.4deg,#00f4ff 48.3deg,#0dc7ff 52deg,#286eff 59.4deg,#2a6bfd 60.6deg,#3755ee 75.7deg,#4242e2 93.2deg,#4242e0 98.4deg,#4242e0 100.7deg,#4242e2 109.1deg,#3755ee 137.6deg,#325ef4 153.2deg,#286eff 155.7deg,#03ebff 160.3deg,#00f4ff 164.9deg,#00f5fd 167.4deg,#00f5fd 176deg,#00f4ff 178.5deg,#03ebff 183.1deg,#286eff 189.3deg,#2f63f8 191.6deg,#3755ee 205.8deg,#4242e2 234.3deg,#4242e0 242.7deg,#4242e0 283.6deg,#4242e0 360deg)"></i><i style="left:162px;top:162px;width:66px;height:66px;background:conic-gradient(from -109.2deg,#4242e1 0deg,#4242e2 0.9deg,#3755ee 13deg,#2f62f7 22.5deg,#286eff 24.1deg,#2184ff 24.8deg,#00f4ff 26.4deg,#00f5fd 26.5deg,#00ffe8 28deg,#00fad3 29deg,#00fcd8 31.5deg,#00fad2 35.5deg,#00ffe8 41.3deg,#00fdeb 42.9deg,#00f8f6 48.9deg,#00f4ff 50.9deg,#0dc7ff 54.9deg,#286eff 62.7deg,#2a6bfd 63.9deg,#3755ee 79.9deg,#4242e2 102.2deg,#4242e1 103.9deg,#4242e1 104.2deg,#4242e2 106.6deg,#3755ee 138.6deg,#325ef4 155.2deg,#286eff 157.8deg,#03ebff 162.7deg,#00f4ff 168.6deg,#00f4fe 170.3deg,#00f4fe 179.3deg,#00f4ff 181deg,#03ebff 186.9deg,#286eff 193.5deg,#2f63f8 195.9deg,#3755ee 211deg,#4242e2 247.5deg,#4242e1 250.2deg,#4242e1 286.7deg,#4242e1 360deg)"></i><i style="left:165px;top:165px;width:60px;height:60px;background:conic-gradient(from -113.5deg,#4045e4 0deg,#3755ee 13.7deg,#2f62f7 23.7deg,#286eff 25.3deg,#2184ff 26.1deg,#00f4ff 27.8deg,#00f5fd 27.9deg,#00ffe8 30.1deg,#00fee2 30.5deg,#00ffe7 33.1deg,#00fee2 37.3deg,#00ffe8 39.5deg,#00fbf1 45.2deg,#00f8f6 51.5deg,#00f4ff 53.6deg,#0dc7ff 57.8deg,#286eff 66deg,#2a6bfd 67.3deg,#3755ee 84.1deg,#4045e4 109.3deg,#4045e4 109.6deg,#3755ee 139.7deg,#325ef4 157.3deg,#286eff 160deg,#03ebff 165.2deg,#00f4ff 173.1deg,#00f4ff 173.2deg,#00f4ff 182.8deg,#00f4ff 182.9deg,#03ebff 190.8deg,#286eff 197.8deg,#2f63f8 200.4deg,#3755ee 216.3deg,#4045e4 257.8deg,#4045e4 289.7deg,#4045e4 360deg)"></i><i style="left:168px;top:168px;width:54px;height:54px;background:conic-gradient(from -117.9deg,#3e49e6 0deg,#3755ee 14.3deg,#2f62f7 24.8deg,#286eff 26.6deg,#2184ff 27.4deg,#00f4ff 29.2deg,#00f5fd 29.2deg,#00fcee 32deg,#00fbf0 34.8deg,#00fcee 39.2deg,#00f8f6 47.5deg,#00f8f6 54.1deg,#00f4ff 56.3deg,#0dc7ff 60.7deg,#286eff 69.3deg,#2a6bfd 70.6deg,#3755ee 88.3deg,#3e49e6 114.8deg,#3e49e6 115.1deg,#3755ee 140.9deg,#325ef4 159.4deg,#286eff 162.4deg,#03ebff 167.9deg,#01f2ff 176.3deg,#01f2ff 186.4deg,#03ebff 194.8deg,#286eff 202.3deg,#2f63f8 204.9deg,#3755ee 221.8deg,#3e49e6 265.6deg,#3e49e6 292.8deg,#3e49e6 360deg)"></i><i style="left:171px;top:171px;width:48px;height:48px;background:conic-gradient(from -122.2deg,#3c4de9 0deg,#3755ee 15deg,#2f62f7 26deg,#286eff 27.8deg,#2184ff 28.7deg,#00f4ff 30.6deg,#00f5fd 30.6deg,#00f8f7 33.5deg,#00f7f8 36.4deg,#00f8f7 41deg,#00f6fb 49.7deg,#00f8f6 56.7deg,#00f4ff 59deg,#0dc7ff 63.6deg,#286eff 72.6deg,#2a6bfd 74deg,#3755ee 92.5deg,#3c4de9 120.2deg,#3c4de9 120.5deg,#3755ee 143.2deg,#325ef4 162.2deg,#286eff 165.2deg,#03ebff 170.8deg,#01efff 179.5deg,#01efff 189.9deg,#03ebff 198.5deg,#286eff 206.2deg,#2f63f8 208.9deg,#3755ee 226.2deg,#3c4de9 271.2deg,#3c4de9 295.9deg,#3c4de9 360deg)"></i><i style="left:174px;top:174px;width:42px;height:42px;background:conic-gradient(from -126.3deg,#3951ec 0deg,#3755ee 15.7deg,#2f62f7 27.1deg,#286eff 29deg,#2184ff 29.9deg,#00f4ff 31.9deg,#00f5fd 31.9deg,#00f4ff 34.1deg,#00f2ff 34.9deg,#00f2ff 38deg,#00f2ff 42.8deg,#00f3ff 51.8deg,#00f4ff 52.1deg,#00f8f6 59deg,#00f4ff 61.5deg,#0dc7ff 66.3deg,#286eff 75.7deg,#2a6bfd 77.1deg,#3755ee 96.4deg,#3951ec 125.3deg,#3951ec 125.6deg,#3755ee 145.5deg,#325ef4 164.9deg,#286eff 168deg,#03ebff 173.7deg,#02edff 182.5deg,#02edff 193.1deg,#03ebff 202deg,#286eff 209.8deg,#2f63f8 212.6deg,#3755ee 230.2deg,#3951ec 276.1deg,#3951ec 298.7deg,#3951ec 360deg)"></i><i style="left:177px;top:177px;width:36px;height:36px;background:conic-gradient(from -129.6deg,#3755ef 0deg,#3755ef 16.1deg,#2f62f7 27.8deg,#286eff 29.7deg,#2184ff 30.6deg,#00f4ff 32.6deg,#00f5fd 32.7deg,#00f4ff 33.6deg,#04e8ff 35.8deg,#03e9ff 38.9deg,#04e8ff 43.8deg,#02eeff 53.1deg,#00f4ff 54.8deg,#00f8f6 60.5deg,#00f4ff 63deg,#0dc7ff 67.9deg,#286eff 77.6deg,#2a6bfd 79deg,#3755ef 98.8deg,#3755ef 128.4deg,#3755ef 128.7deg,#3755ef 146.9deg,#325ef4 166.7deg,#286eff 169.8deg,#03ebff 175.7deg,#03ebff 184.7deg,#03ebff 195.5deg,#03ebff 204.5deg,#286eff 212.5deg,#2f63f8 215.3deg,#3755ef 233.4deg,#3755ef 280.2deg,#3755ef 300.7deg,#3755ef 360deg)"></i><i style="left:180px;top:180px;width:30px;height:30px;background:conic-gradient(from -132.9deg,#3459f1 0deg,#3459f1 16.4deg,#2f62f7 28.5deg,#286eff 30.5deg,#2184ff 31.4deg,#00f4ff 33.4deg,#00f5fd 33.5deg,#00f4ff 34.1deg,#07deff 36.7deg,#06e0ff 39.8deg,#07deff 44.9deg,#04e8ff 54.4deg,#00f4ff 57deg,#00f8f6 62deg,#00f4ff 64.5deg,#0dc7ff 69.6deg,#286eff 79.5deg,#2a6bfd 81deg,#3459f1 101.2deg,#3459f1 131.6deg,#3459f1 131.9deg,#3459f1 148.3deg,#325ef4 168.5deg,#286eff 171.7deg,#03e8ff 177.7deg,#03e8ff 186.9deg,#03e8ff 197.9deg,#03e8ff 207.1deg,#286eff 215.2deg,#2f63f8 218.1deg,#3459f1 236.5deg,#3459f1 284.3deg,#3459f1 302.8deg,#3459f1 360deg)"></i><i style="left:183px;top:183px;width:24px;height:24px;background:conic-gradient(from -136.2deg,#335bf3 0deg,#335bf3 16.8deg,#2f62f7 29.1deg,#286eff 31.2deg,#2184ff 32.1deg,#00f4ff 34.2deg,#00f5fd 34.3deg,#00f4ff 34.7deg,#0ad4ff 37.6deg,#09d7ff 40.8deg,#0ad4ff 46deg,#05e2ff 55.7deg,#00f4ff 59.1deg,#00f8f6 63.5deg,#00f4ff 66deg,#0dc7ff 71.2deg,#286eff 81.4deg,#2a6bfd 82.9deg,#335bf3 103.6deg,#335bf3 134.7deg,#335bf3 135deg,#335bf3 149.7deg,#325ef4 170.3deg,#286eff 173.7deg,#04e6ff 179.7deg,#04e6ff 189deg,#04e6ff 200.3deg,#04e6ff 209.6deg,#286eff 217.8deg,#2f63f8 220.9deg,#335bf3 239.6deg,#335bf3 288.4deg,#335bf3 304.8deg,#335bf3 360deg)"></i><i style="left:186px;top:186px;width:18px;height:18px;background:conic-gradient(from -139.4deg,#335bf3 0deg,#335bf3 17.2deg,#2f62f7 29.8deg,#286eff 31.9deg,#2184ff 32.9deg,#00f4ff 35deg,#00f5fd 35.1deg,#00f4ff 35.4deg,#0ccaff 38.4deg,#0bceff 41.7deg,#0ccaff 47deg,#07ddff 57deg,#00f4ff 61deg,#00f8f6 64.9deg,#00f4ff 67.6deg,#0dc7ff 72.9deg,#286eff 83.2deg,#2a6bfd 84.8deg,#335bf3 106deg,#335bf3 137.8deg,#335bf3 138.1deg,#335bf3 151.1deg,#325ef4 172.1deg,#286eff 175.6deg,#05e4ff 181.6deg,#05e4ff 191.2deg,#05e4ff 202.7deg,#05e4ff 212.2deg,#286eff 220.5deg,#2f63f8 223.7deg,#335bf3 242.8deg,#335bf3 292.4deg,#335bf3 306.8deg,#335bf3 360deg)"></i></div><svg width="374" height="374" viewBox="0 0 374 374"><path d="M187.0 233.0C195.3 229.7 214.7 225.3 227.0 225.0C239.3 224.7 253.7 227.0 261.0 231.0C268.3 235.0 271.7 243.7 271.0 249.0C270.3 254.3 263.7 259.0 257.0 263.0C250.3 267.0 240.0 270.3 231.0 273.0C222.0 275.7 211.3 278.7 203.0 279.0C194.7 279.3 186.0 278.0 181.0 275.0C176.0 272.0 173.7 266.0 173.0 261.0C172.3 256.0 174.7 249.7 177.0 245.0C179.3 240.3 178.7 236.3 187.0 233.0Z" fill="#3d3d98" filter="url(#b6)"/><path d="M190.0 197.8 L193.6 203.8" fill="none" stroke="#46aaff" stroke-width="2.5" stroke-linecap="round" stroke-linejoin="round" filter="url(#b1)"/><path d="M198.4 196.6 L200.2 200.2" fill="none" stroke="#46aaff" stroke-width="2.5" stroke-linecap="round" stroke-linejoin="round" filter="url(#b1)"/><path d="M217.0 191.0C220.0 191.8 229.7 193.7 235.0 196.0C240.3 198.3 244.3 201.5 249.0 205.0C253.7 208.5 259.0 212.4 263.4 217.0C267.8 221.6 272.5 228.3 275.5 232.7C278.5 237.1 280.5 241.8 281.5 243.6" fill="none" stroke="#00e8f0" stroke-width="2.6" stroke-linecap="round" stroke-linejoin="round" stroke-opacity="0.85" filter="url(#b2)"/><path d="M253.0 265.0C254.2 264.4 257.7 262.7 260.0 261.5C262.3 260.3 264.4 259.2 267.0 258.0C269.6 256.8 273.1 255.8 275.5 254.0C277.9 252.2 279.7 249.5 281.5 247.0C283.3 244.5 285.3 241.2 286.3 238.8C287.3 236.4 287.3 233.7 287.5 232.7" fill="none" stroke="#00e0c0" stroke-width="9" stroke-linecap="round" stroke-linejoin="round" stroke-opacity="0.8" filter="url(#b2)"/><path d="M253.0 265.0C254.2 264.4 257.7 262.7 260.0 261.5C262.3 260.3 264.4 259.2 267.0 258.0C269.6 256.8 273.1 255.8 275.5 254.0C277.9 252.2 279.7 249.5 281.5 247.0C283.3 244.5 285.3 241.2 286.3 238.8C287.3 236.4 287.3 233.7 287.5 232.7" fill="none" stroke="#28d030" stroke-width="5" stroke-linecap="round" stroke-linejoin="round" filter="url(#b1)"/><ellipse cx="275.5" cy="254.0" rx="3.6" ry="3.2" transform="rotate(0 275.5 254.0)" fill="#e8e800" filter="url(#b1)"/><ellipse cx="275.7" cy="254.3" rx="1.8" ry="1.6" transform="rotate(0 275.7 254.3)" fill="#ff9000" filter="url(#b1)"/><path d="M255.0 269.0C257.3 268.2 264.7 265.7 269.0 264.0C273.3 262.3 279.0 259.8 281.0 259.0" fill="none" stroke="#00e0f0" stroke-width="2.2" stroke-linecap="round" stroke-linejoin="round" stroke-opacity="0.8" filter="url(#b1)"/><path d="M136.0 277.8C138.1 278.9 144.2 280.9 148.7 282.2C153.3 283.4 158.8 283.3 163.3 285.1C167.9 286.9 171.4 290.4 175.9 292.7C180.5 295.0 185.3 297.8 190.7 298.8C196.2 299.8 202.8 299.4 208.6 298.8C214.5 298.2 220.5 296.9 225.9 295.1C231.2 293.3 236.3 291.1 240.6 288.0C245.0 284.8 249.1 280.4 251.8 276.4C254.4 272.4 256.2 266.5 256.8 264.1C257.4 261.7 257.6 262.2 255.2 261.9C252.8 261.7 246.6 261.8 242.2 262.6C237.9 263.5 233.4 265.7 229.4 267.0C225.3 268.4 222.1 269.7 218.1 270.9C214.1 272.1 209.5 273.5 205.4 274.2C201.2 274.9 197.1 275.2 193.3 275.2C189.4 275.2 186.5 275.0 182.1 274.3C177.6 273.6 172.1 271.5 166.7 270.9C161.2 270.3 154.4 270.0 149.3 270.8C144.1 271.6 138.2 274.5 136.0 275.6C133.8 276.8 133.9 276.7 136.0 277.8Z" fill="#00e0b0" fill-opacity="0.8" filter="url(#b3)"/><path d="M136.0 277.5C138.1 278.3 144.2 279.7 148.8 280.7C153.4 281.7 159.1 281.7 163.8 283.3C168.4 284.9 172.2 288.2 176.7 290.3C181.3 292.4 185.8 294.9 191.1 295.7C196.3 296.6 202.6 296.3 208.2 295.6C213.9 295.0 219.7 293.7 224.9 291.9C230.0 290.2 234.9 288.1 239.2 285.2C243.5 282.4 247.6 278.2 250.5 274.6C253.4 271.0 255.8 265.9 256.6 263.8C257.4 261.7 257.6 262.1 255.4 262.2C253.2 262.3 247.6 263.1 243.5 264.4C239.4 265.7 234.9 268.1 230.8 269.8C226.8 271.4 223.3 272.8 219.1 274.1C215.0 275.3 210.1 276.7 205.8 277.4C201.4 278.1 197.0 278.4 192.9 278.3C188.9 278.1 185.7 277.6 181.3 276.7C176.8 275.8 171.6 273.5 166.2 272.7C160.9 272.0 154.2 271.8 149.2 272.3C144.1 272.8 138.2 275.0 136.0 275.9C133.8 276.8 133.9 276.7 136.0 277.5Z" fill="#28d428" filter="url(#b1)"/><path d="M136.0 277.4C138.2 278.0 144.2 279.1 148.8 279.9C153.5 280.8 159.3 280.8 164.0 282.3C168.7 283.8 172.6 287.1 177.1 289.1C181.7 291.1 186.1 293.4 191.2 294.2C196.4 295.0 202.5 294.6 208.0 294.0C213.5 293.3 219.3 292.0 224.4 290.3C229.4 288.7 234.2 286.6 238.4 283.8C242.7 281.1 246.9 277.0 249.9 273.7C252.9 270.3 255.5 265.6 256.5 263.7C257.4 261.8 257.6 262.1 255.5 262.3C253.5 262.6 248.1 263.8 244.1 265.3C240.1 266.8 235.6 269.4 231.6 271.2C227.5 272.9 223.9 274.3 219.6 275.7C215.4 277.0 210.5 278.3 206.0 279.0C201.5 279.7 197.0 280.0 192.8 279.8C188.6 279.6 185.3 278.9 180.9 277.9C176.4 276.9 171.3 274.5 166.0 273.7C160.7 272.9 154.2 272.7 149.2 273.1C144.2 273.5 138.2 275.3 136.0 276.0C133.8 276.8 133.9 276.7 136.0 277.4Z" fill="#e8f000" filter="url(#b1)"/><path d="M136.0 277.2C138.2 277.6 144.2 278.4 148.9 279.0C153.6 279.7 159.5 279.7 164.3 281.2C169.1 282.6 173.1 285.7 177.6 287.6C182.2 289.4 186.4 291.5 191.4 292.2C196.5 293.0 202.3 292.6 207.7 292.0C213.1 291.3 218.8 290.0 223.7 288.4C228.7 286.7 233.3 284.8 237.5 282.1C241.7 279.5 246.0 275.7 249.1 272.6C252.3 269.5 255.3 265.2 256.4 263.5C257.4 261.8 257.6 262.0 255.6 262.5C253.7 263.0 248.7 264.7 244.9 266.4C241.0 268.2 236.6 271.0 232.5 272.9C228.4 274.7 224.6 276.3 220.3 277.6C215.9 279.0 210.9 280.3 206.3 281.0C201.7 281.7 196.9 282.0 192.6 281.8C188.2 281.5 184.8 280.6 180.4 279.4C175.9 278.3 170.9 275.7 165.7 274.8C160.5 273.9 154.1 273.8 149.1 274.0C144.2 274.2 138.2 275.7 136.0 276.2C133.8 276.8 133.9 276.7 136.0 277.2Z" fill="#ffa000" filter="url(#b1)"/><path d="M148.9 278.0C151.4 278.8 159.7 278.6 164.6 279.9C169.4 281.2 173.7 284.2 178.2 286.0C182.7 287.7 186.8 289.5 191.7 290.1C196.5 290.8 202.2 290.4 207.4 289.8C212.7 289.1 218.2 287.8 223.0 286.2C227.9 284.6 232.3 282.8 236.5 280.3C240.7 277.8 246.7 273.5 248.2 271.4C249.8 269.2 248.2 267.1 245.8 267.6C243.3 268.2 237.6 272.7 233.5 274.7C229.4 276.7 225.5 278.4 221.0 279.8C216.5 281.2 211.3 282.5 206.6 283.2C201.8 283.9 196.8 284.2 192.3 283.9C187.9 283.5 184.3 282.3 179.8 281.0C175.3 279.8 170.6 277.1 165.4 276.1C160.3 275.1 151.9 274.7 149.1 275.0C146.4 275.3 146.3 277.2 148.9 278.0Z" fill="#f04000" filter="url(#b1)"/><ellipse cx="197.2" cy="283.8" rx="15.2" ry="4.9" transform="rotate(2 197.2 283.8)" fill="#c80030" filter="url(#b1)"/><ellipse cx="197.2" cy="283.8" rx="13.6" ry="3.7" transform="rotate(2 197.2 283.8)" fill="#ff88dc" filter="url(#b1)"/><ellipse cx="197.2" cy="283.8" rx="10.6" ry="2.1" transform="rotate(2 197.2 283.8)" fill="#fff" filter="url(#b1)"/><ellipse cx="232.0" cy="275.2" rx="18.6" ry="4.7" transform="rotate(-19 232.0 275.2)" fill="#c80030" filter="url(#b1)"/><ellipse cx="232.0" cy="275.2" rx="17" ry="3.5" transform="rotate(-19 232.0 275.2)" fill="#ff88dc" filter="url(#b1)"/><ellipse cx="232.0" cy="275.2" rx="14" ry="1.9" transform="rotate(-19 232.0 275.2)" fill="#fff" filter="url(#b1)"/><path d="M176.2 225.5C177.1 226.3 179.1 230.0 181.6 230.3C184.1 230.6 187.6 228.5 191.2 227.3C194.8 226.1 199.8 224.7 203.2 223.0C206.6 221.3 209.1 219.2 211.7 217.0C214.3 214.8 217.3 212.7 219.0 209.9C220.7 207.1 221.5 201.8 222.0 200.2" fill="none" stroke="#5090ff" stroke-width="8" stroke-linecap="round" stroke-linejoin="round" stroke-opacity="0.7" filter="url(#b2)"/><path d="M176.2 225.5C177.1 226.3 179.1 230.0 181.6 230.3C184.1 230.6 187.6 228.5 191.2 227.3C194.8 226.1 199.8 224.7 203.2 223.0C206.6 221.3 209.1 219.2 211.7 217.0C214.3 214.8 217.3 212.7 219.0 209.9C220.7 207.1 221.5 201.8 222.0 200.2" fill="none" stroke="#f0d040" stroke-width="4.4" stroke-linecap="round" stroke-linejoin="round" filter="url(#b1)"/><path d="M176.2 225.5C177.1 226.3 179.1 230.0 181.6 230.3C184.1 230.6 187.6 228.5 191.2 227.3C194.8 226.1 199.8 224.7 203.2 223.0C206.6 221.3 209.1 219.2 211.7 217.0C214.3 214.8 217.3 212.7 219.0 209.9C220.7 207.1 221.5 201.8 222.0 200.2" fill="none" stroke="#ffd8f0" stroke-width="3.2" stroke-linecap="round" stroke-linejoin="round"/><path d="M191.2 227.3C193.2 226.6 199.8 224.7 203.2 223.0C206.6 221.3 209.1 219.2 211.7 217.0C214.3 214.8 217.8 211.1 219.0 209.9" fill="none" stroke="#100010" stroke-width="1.6" stroke-linecap="round" stroke-linejoin="round"/><circle cx="187" cy="187" r="109" fill="none" stroke="#181830" stroke-opacity="0.6" stroke-width="0.9"/><circle cx="257" cy="106" r="4.5" fill="#f27474" stroke="#1a1420" stroke-width="1.8"/><circle cx="295.8" cy="186.7" r="4.5" fill="#78f078" stroke="#14202a" stroke-width="1.8"/><circle cx="187" cy="187" r="8.2" fill="#fff010" stroke="#000" stroke-width="4"/></svg></div>
<div class="d" style="left:713px;top:230px;width:374px;height:374px;background:#4242d8"><div class="rg" style="left:-8px;top:-8px;width:390px;height:390px"><i style="left:0px;top:0px;width:390px;height:390px;background:conic-gradient(from -34.5deg,#4141d5 0deg,#4242e2 8.9deg,#3755ee 13.6deg,#2f62f7 23.5deg,#286eff 25.1deg,#2184ff 25.9deg,#00f4ff 27.6deg,#00f5fd 27.6deg,#00ffe8 29.3deg,#00fad3 30.2deg,#00f0a5 31.1deg,#00c132 32.8deg,#00b91e 35.9deg,#08bb1c 37deg,#00b91e 37.5deg,#00e993 44.8deg,#00f0a5 45.7deg,#00ffe8 49.6deg,#00f8f6 51.1deg,#00f4ff 53.2deg,#0dc7ff 57.3deg,#286eff 65.5deg,#2a6bfd 66.7deg,#3755ee 83.4deg,#4242e2 91.9deg,#4141d5 108.4deg,#4141d5 146.5deg,#4242e2 158.8deg,#3755ee 165.2deg,#325ef4 173.1deg,#286eff 174.3deg,#03ebff 176.6deg,#00f4ff 176.8deg,#00ffe8 177.5deg,#00f0a5 178.7deg,#00c43a 180.2deg,#00c43a 184.5deg,#00f0a5 186.1deg,#00ffe8 187.3deg,#00f4ff 188deg,#03ebff 188.1deg,#286eff 191.3deg,#2f63f8 192.4deg,#3755ee 199.6deg,#3657f0 218.2deg,#3657f0 228.9deg,#3459f1 247.8deg,#286eff 253.1deg,#14b1ff 257.3deg,#00f4ff 259.8deg,#00ffe8 262deg,#00f7c3 264deg,#00f0a5 265.4deg,#00c131 269.7deg,#00c131 275.4deg,#00f0a5 277.1deg,#00ffe8 278.4deg,#00f4ff 279.2deg,#286eff 280deg,#4242e2 281.1deg,#4141d5 282deg,#4141d5 360deg)"></i><i style="left:3px;top:3px;width:384px;height:384px;background:conic-gradient(from -35.1deg,#4141d5 0deg,#4242e2 8.8deg,#3755ee 13.4deg,#2f62f7 23.1deg,#286eff 24.7deg,#2184ff 25.5deg,#00f4ff 27.2deg,#00f5fd 27.2deg,#00ffe8 28.9deg,#00fad3 29.8deg,#00f0a5 30.7deg,#00c233 32.4deg,#00b91e 35.5deg,#07bb1c 36.5deg,#00b91e 36.9deg,#00e994 44.2deg,#00f0a5 45deg,#00ffe8 48.9deg,#00f8f6 50.3deg,#00f4ff 52.4deg,#0dc7ff 56.5deg,#286eff 64.6deg,#2a6bfd 65.8deg,#3755ee 82.2deg,#4242e2 90.6deg,#4141d5 106.9deg,#4141d5 146.2deg,#4242e2 158.4deg,#3755ee 164.7deg,#325ef4 172.5deg,#286eff 173.7deg,#03ebff 176deg,#00f4ff 176.2deg,#00ffe8 176.9deg,#00f0a5 178.1deg,#00c53b 179.6deg,#00c53b 183.9deg,#00f0a5 185.4deg,#00ffe8 186.6deg,#00f4ff 187.3deg,#03ebff 187.4deg,#286eff 190.5deg,#2f63f8 191.7deg,#3755ee 198.8deg,#3656ef 217.2deg,#3656ef 229.5deg,#3459f1 248.1deg,#286eff 253.2deg,#14b1ff 257.3deg,#00f4ff 259.7deg,#00ffe8 261.9deg,#00f7c3 263.8deg,#00f0a5 265.2deg,#00c131 269.4deg,#00c131 274.9deg,#00f0a5 276.6deg,#00ffe8 277.9deg,#00f4ff 278.6deg,#286eff 279.4deg,#4242e2 280.5deg,#4141d5 281.4deg,#4141d5 360deg)"></i><i style="left:6px;top:6px;width:378px;height:378px;background:conic-gradient(from -35.7deg,#4141d5 0deg,#4242e2 8.7deg,#3755ee 13.2deg,#2f62f7 22.8deg,#286eff 24.4deg,#2184ff 25.1deg,#00f4ff 26.8deg,#00f5fd 26.8deg,#00ffe8 28.4deg,#00fad3 29.4deg,#00f0a5 30.2deg,#00c233 31.9deg,#00b91e 35deg,#06bb1c 35.9deg,#00b91e 36.3deg,#00e994 43.5deg,#00f0a5 44.3deg,#00ffe8 48.2deg,#00f8f6 49.6deg,#00f4ff 51.6deg,#0dc7ff 55.7deg,#286eff 63.6deg,#2a6bfd 64.8deg,#3755ee 81deg,#4242e2 89.3deg,#4141d5 105.3deg,#4141d5 145.9deg,#4242e2 158deg,#3755ee 164.2deg,#325ef4 171.9deg,#286eff 173.2deg,#03ebff 175.5deg,#00f4ff 175.6deg,#00ffe8 176.3deg,#00f0a5 177.5deg,#00c53c 179deg,#00c53c 183.2deg,#00f0a5 184.7deg,#00ffe8 185.9deg,#00f4ff 186.6deg,#03ebff 186.7deg,#286eff 189.8deg,#2f63f8 190.9deg,#3755ee 197.9deg,#3656ef 216.2deg,#3656ef 230.2deg,#3459f1 248.3deg,#286eff 253.3deg,#14b1ff 257.3deg,#00f4ff 259.7deg,#00ffe8 261.7deg,#00f7c3 263.6deg,#00f0a5 265deg,#00c131 269.1deg,#00c131 274.5deg,#00f0a5 276.1deg,#00ffe8 277.4deg,#00f4ff 278.1deg,#286eff 278.9deg,#4242e2 279.9deg,#4141d5 280.8deg,#4141d5 360deg)"></i><i style="left:9px;top:9px;width:372px;height:372px;background:conic-gradient(from -36.3deg,#4141d5 0deg,#4242e2 8.6deg,#3755ee 13deg,#2f62f7 22.4deg,#286eff 24deg,#2184ff 24.7deg,#00f4ff 26.3deg,#00f5fd 26.4deg,#00ffe8 28deg,#00fad3 28.9deg,#00f0a5 29.7deg,#00c234 31.4deg,#00b91e 34.6deg,#06ba1d 35.4deg,#00b91e 35.7deg,#00e994 42.9deg,#00f0a5 43.6deg,#00ffe8 47.4deg,#00f8f6 48.8deg,#00f4ff 50.8deg,#0dc7ff 54.8deg,#286eff 62.6deg,#2a6bfd 63.8deg,#3755ee 79.7deg,#4242e2 87.9deg,#4141d5 103.7deg,#4141d5 145.6deg,#4242e2 157.5deg,#3755ee 163.7deg,#325ef4 171.4deg,#286eff 172.6deg,#03ebff 174.8deg,#00f4ff 175deg,#00ffe8 175.7deg,#00f0a5 176.9deg,#00c63d 178.3deg,#00c63d 182.5deg,#00f0a5 184deg,#00ffe8 185.2deg,#00f4ff 185.9deg,#03ebff 186deg,#286eff 189.1deg,#2f63f8 190.2deg,#3755ee 197.1deg,#3656ef 215.2deg,#3656ef 230.8deg,#3459f1 248.4deg,#286eff 253.4deg,#14b1ff 257.2deg,#00f4ff 259.6deg,#00ffe8 261.6deg,#00f7c3 263.4deg,#00f0a5 264.7deg,#00c131 268.7deg,#00c131 274deg,#00f0a5 275.6deg,#00ffe8 276.8deg,#00f4ff 277.5deg,#286eff 278.3deg,#4242e2 279.3deg,#4141d5 280.1deg,#4141d5 360deg)"></i><i style="left:12px;top:12px;width:366px;height:366px;background:conic-gradient(from -36.8deg,#4141d5 0deg,#4242e2 8.4deg,#3755ee 12.7deg,#2f62f7 22deg,#286eff 23.5deg,#2184ff 24.2deg,#00f4ff 25.8deg,#00f5fd 25.9deg,#00ffe8 27.4deg,#00fad3 28.3deg,#00f0a5 29.2deg,#00c234 30.8deg,#00b91e 34deg,#05ba1d 34.7deg,#00b91e 35deg,#00e995 42deg,#00f0a5 42.7deg,#00ffe8 46.5deg,#00f8f6 47.9deg,#00f4ff 49.8deg,#0dc7ff 53.7deg,#286eff 61.4deg,#2a6bfd 62.5deg,#3755ee 78.1deg,#4242e2 86.1deg,#4141d5 101.6deg,#4141d5 145.2deg,#4242e2 157.1deg,#3755ee 163.1deg,#325ef4 170.7deg,#286eff 171.9deg,#03ebff 174.2deg,#00f4ff 174.3deg,#00ffe8 175deg,#00f0a5 176.2deg,#00c63e 177.6deg,#00c63e 181.8deg,#00f0a5 183.2deg,#00ffe8 184.4deg,#00f4ff 185.1deg,#03ebff 185.2deg,#286eff 188.3deg,#2f63f8 189.3deg,#3755ee 196.2deg,#3755ef 214.2deg,#3755ef 231.4deg,#3459f1 248.6deg,#286eff 253.3deg,#14b1ff 257.1deg,#00f4ff 259.4deg,#00ffe8 261.3deg,#00f7c3 263.1deg,#00f0a5 264.4deg,#00c131 268.3deg,#00c131 273.4deg,#00f0a5 275deg,#00ffe8 276.2deg,#00f4ff 276.8deg,#286eff 277.6deg,#4242e2 278.6deg,#4141d5 279.4deg,#4141d5 360deg)"></i><i style="left:15px;top:15px;width:360px;height:360px;background:conic-gradient(from -37.4deg,#4141d5 0deg,#4242e2 8.2deg,#3755ee 12.4deg,#2f62f7 21.5deg,#286eff 23deg,#2184ff 23.7deg,#00f4ff 25.3deg,#00f5fd 25.4deg,#00ffe8 26.9deg,#00fad3 27.7deg,#00f0a5 28.6deg,#00c235 30.1deg,#00b91e 33.3deg,#05ba1d 34deg,#00b91e 34.2deg,#00ea95 41.1deg,#00f0a5 41.8deg,#00ffe8 45.5deg,#00f8f6 46.9deg,#00f4ff 48.8deg,#0dc7ff 52.6deg,#286eff 60.1deg,#2a6bfd 61.2deg,#3755ee 76.5deg,#4242e2 84.3deg,#4141d5 99.5deg,#4141d5 144.8deg,#4242e2 156.5deg,#3755ee 162.6deg,#325ef4 170.1deg,#286eff 171.3deg,#03ebff 173.5deg,#00f4ff 173.6deg,#00ffe8 174.3deg,#00f0a5 175.5deg,#00c73f 176.9deg,#00c73f 181deg,#00f0a5 182.4deg,#00ffe8 183.6deg,#00f4ff 184.3deg,#03ebff 184.4deg,#286eff 187.4deg,#2f63f8 188.5deg,#3755ee 195.4deg,#3755ee 213.1deg,#3755ee 232deg,#3459f1 248.7deg,#286eff 253.3deg,#14b1ff 257deg,#00f4ff 259.2deg,#00ffe8 261.1deg,#00f7c3 262.8deg,#00f0a5 264.1deg,#00c131 267.9deg,#00c131 272.9deg,#00f0a5 274.4deg,#00ffe8 275.5deg,#00f4ff 276.2deg,#286eff 276.9deg,#4242e2 277.9deg,#4141d5 278.7deg,#4141d5 360deg)"></i><i style="left:18px;top:18px;width:354px;height:354px;background:conic-gradient(from -37.9deg,#4141d5 0deg,#4242e2 8deg,#3755ee 12.2deg,#2f62f7 21.1deg,#286eff 22.6deg,#2184ff 23.2deg,#00f4ff 24.8deg,#00f5fd 24.8deg,#00ffe8 26.3deg,#00fad3 27.2deg,#00f0a5 28deg,#00c336 29.5deg,#00b91e 32.7deg,#04ba1d 33.3deg,#00b91e 33.5deg,#00ea95 40.3deg,#00f0a5 40.9deg,#00ffe8 44.6deg,#00f8f6 45.9deg,#00f4ff 47.8deg,#0dc7ff 51.5deg,#286eff 58.8deg,#2a6bfd 59.9deg,#3755ee 74.9deg,#4242e2 82.6deg,#4141d5 97.4deg,#4141d5 144.4deg,#4242e2 156deg,#3755ee 162deg,#325ef4 169.5deg,#286eff 170.6deg,#03ebff 172.8deg,#00f4ff 172.9deg,#00ffe8 173.6deg,#00f0a5 174.8deg,#00c741 176.2deg,#00c741 180.3deg,#00f0a5 181.7deg,#00ffe8 182.8deg,#00f4ff 183.5deg,#03ebff 183.6deg,#286eff 186.6deg,#2f63f8 187.7deg,#3755ee 194.5deg,#3755ee 212deg,#3755ee 232.6deg,#3459f1 248.8deg,#286eff 253.3deg,#14b1ff 256.9deg,#00f4ff 259deg,#00ffe8 260.9deg,#00f7c3 262.6deg,#00f0a5 263.8deg,#00c131 267.4deg,#00c131 272.3deg,#00f0a5 273.8deg,#00ffe8 274.9deg,#00f4ff 275.5deg,#286eff 276.2deg,#4242e2 277.2deg,#4141d5 278deg,#4141d5 360deg)"></i><i style="left:21px;top:21px;width:348px;height:348px;background:conic-gradient(from -38.4deg,#4141d5 0deg,#4242e2 7.9deg,#3755ee 11.9deg,#2f62f7 20.6deg,#286eff 22.1deg,#2184ff 22.7deg,#00f4ff 24.2deg,#00f5fd 24.3deg,#00ffe8 25.7deg,#00fad3 26.6deg,#00f0a5 27.4deg,#00c336 28.9deg,#00b91e 32.1deg,#03ba1d 32.5deg,#00b91e 32.7deg,#00ea96 39.4deg,#00f0a5 40.1deg,#00ffe8 43.6deg,#00f8f6 44.9deg,#00f4ff 46.7deg,#0dc7ff 50.4deg,#286eff 57.6deg,#2a6bfd 58.7deg,#3755ee 73.3deg,#4242e2 80.8deg,#4141d5 95.3deg,#4141d5 144.1deg,#4242e2 155.5deg,#3755ee 161.5deg,#325ef4 168.8deg,#286eff 170deg,#03ebff 172.2deg,#00f4ff 172.3deg,#00ffe8 173deg,#00f0a5 174.1deg,#00c842 175.5deg,#00c842 179.5deg,#00f0a5 180.9deg,#00ffe8 182.1deg,#00f4ff 182.8deg,#03ebff 182.9deg,#286eff 185.8deg,#2f63f8 186.9deg,#3755ee 193.6deg,#3754ee 211deg,#3754ee 233.2deg,#3459f1 248.9deg,#286eff 253.3deg,#14b1ff 256.8deg,#00f4ff 258.8deg,#00ffe8 260.6deg,#00f7c3 262.3deg,#00f0a5 263.5deg,#00c131 267deg,#00c131 271.7deg,#00f0a5 273.2deg,#00ffe8 274.3deg,#00f4ff 274.9deg,#286eff 275.6deg,#4242e2 276.5deg,#4141d5 277.2deg,#4141d5 360deg)"></i><i style="left:24px;top:24px;width:342px;height:342px;background:conic-gradient(from -39deg,#4141d5 0deg,#4242e2 7.7deg,#3755ee 11.7deg,#2f62f7 20.2deg,#286eff 21.6deg,#2184ff 22.2deg,#00f4ff 23.7deg,#00f5fd 23.8deg,#00ffe8 25.2deg,#00fad3 26deg,#00f0a5 26.8deg,#00c337 28.2deg,#00b91e 31.5deg,#03ba1d 31.8deg,#00b91e 32deg,#00ea96 38.6deg,#00f0a5 39.2deg,#00ffe8 42.7deg,#00f8f6 43.9deg,#00f4ff 45.7deg,#0dc7ff 49.3deg,#286eff 56.3deg,#2a6bfd 57.4deg,#3755ee 71.7deg,#4242e2 79.1deg,#4141d5 93.3deg,#4141d5 143.7deg,#4242e2 155deg,#3755ee 160.9deg,#325ef4 168.2deg,#286eff 169.3deg,#03ebff 171.5deg,#00f4ff 171.6deg,#00ffe8 172.3deg,#00f0a5 173.5deg,#00c843 174.8deg,#00c843 178.8deg,#00f0a5 180.1deg,#00ffe8 181.3deg,#00f4ff 182deg,#03ebff 182.1deg,#286eff 185deg,#2f63f8 186.1deg,#3755ee 192.7deg,#3754ee 209.9deg,#3754ee 233.7deg,#3459f1 249deg,#286eff 253.3deg,#14b1ff 256.7deg,#00f4ff 258.7deg,#00ffe8 260.4deg,#00f7c3 262deg,#00f0a5 263.2deg,#00c131 266.6deg,#00c131 271.2deg,#00f0a5 272.6deg,#00ffe8 273.6deg,#00f4ff 274.2deg,#286eff 274.9deg,#4242e2 275.8deg,#4141d5 276.5deg,#4141d5 360deg)"></i><i style="left:27px;top:27px;width:336px;height:336px;background:conic-gradient(from -39.5deg,#4141d5 0deg,#4242e2 7.5deg,#3755ee 11.4deg,#2f62f7 19.7deg,#286eff 21.1deg,#2184ff 21.7deg,#00f4ff 23.2deg,#00f5fd 23.2deg,#00ffe8 24.6deg,#00fad3 25.4deg,#00f0a5 26.2deg,#00c337 27.6deg,#00b91e 30.9deg,#02ba1d 31.1deg,#00b91e 31.2deg,#00ea96 37.7deg,#00f0a5 38.3deg,#00ffe8 41.7deg,#00f8f6 43deg,#00f4ff 44.7deg,#0dc7ff 48.2deg,#286eff 55.1deg,#2a6bfd 56.1deg,#3755ee 70.1deg,#4242e2 77.3deg,#4141d5 91.2deg,#4141d5 143.3deg,#4242e2 154.5deg,#3755ee 160.3deg,#325ef4 167.6deg,#286eff 168.7deg,#03ebff 170.8deg,#00f4ff 170.9deg,#00ffe8 171.6deg,#00f0a5 172.8deg,#00c844 174.1deg,#00c844 178deg,#00f0a5 179.4deg,#00ffe8 180.5deg,#00f4ff 181.2deg,#03ebff 181.3deg,#286eff 184.2deg,#2f63f8 185.3deg,#3755ee 191.8deg,#3853ee 208.9deg,#3853ee 234.3deg,#3459f1 249.2deg,#286eff 253.3deg,#14b1ff 256.6deg,#00f4ff 258.5deg,#00ffe8 260.2deg,#00f7c3 261.7deg,#00f0a5 262.9deg,#00c131 266.2deg,#00c131 270.6deg,#00f0a5 272deg,#00ffe8 273deg,#00f4ff 273.6deg,#286eff 274.2deg,#4242e2 275.1deg,#4141d5 275.8deg,#4141d5 360deg)"></i><i style="left:30px;top:30px;width:330px;height:330px;background:conic-gradient(from -40.2deg,#4141d5 0deg,#4242e2 7.4deg,#3755ee 11.1deg,#2f62f7 19.3deg,#286eff 20.6deg,#2184ff 21.2deg,#00f4ff 22.6deg,#00f5fd 22.7deg,#00ffe8 24.1deg,#00fad3 24.8deg,#00f0a5 25.6deg,#00c338 27deg,#00b91e 30.2deg,#01b91e 30.4deg,#00b91e 30.5deg,#00ea97 36.8deg,#00f0a5 37.4deg,#00ffe8 40.8deg,#00f8f6 42deg,#00f4ff 43.7deg,#0dc7ff 47.1deg,#286eff 53.8deg,#2a6bfd 54.8deg,#3755ee 68.5deg,#4242e2 75.5deg,#4141d5 89.1deg,#4141d5 143deg,#4242e2 154.2deg,#3755ee 159.9deg,#325ef4 167deg,#286eff 168.2deg,#03ebff 170.3deg,#00f4ff 170.4deg,#00ffe8 171.1deg,#00f0a5 172.2deg,#00c945 173.5deg,#00c945 177.4deg,#00f0a5 178.7deg,#00ffe8 179.9deg,#00f4ff 180.6deg,#03ebff 180.7deg,#286eff 183.5deg,#2f63f8 184.6deg,#3755ee 191deg,#3853ed 207.9deg,#3853ed 235deg,#3459f1 249.4deg,#286eff 253.4deg,#14b1ff 256.6deg,#00f4ff 258.4deg,#00ffe8 260.1deg,#00f7c3 261.6deg,#00f0a5 262.6deg,#00c131 265.9deg,#00c131 270.2deg,#00f0a5 271.5deg,#00ffe8 272.5deg,#00f4ff 273deg,#286eff 273.7deg,#4242e2 274.5deg,#4141d5 275.2deg,#4141d5 360deg)"></i><i style="left:33px;top:33px;width:324px;height:324px;background:conic-gradient(from -40.8deg,#4141d5 0deg,#4242e2 7.2deg,#3755ee 10.9deg,#2f62f7 18.8deg,#286eff 20.1deg,#2184ff 20.7deg,#00f4ff 22.1deg,#00f5fd 22.2deg,#00ffe8 23.5deg,#00fad3 24.3deg,#00f0a5 25deg,#00c438 26.4deg,#00b91e 29.6deg,#01b91e 29.7deg,#00b91e 29.7deg,#00ea97 36deg,#00f0a5 36.5deg,#00ffe8 39.8deg,#00f8f6 41deg,#00f4ff 42.7deg,#0dc7ff 46deg,#286eff 52.6deg,#2a6bfd 53.5deg,#3755ee 66.9deg,#4242e2 73.8deg,#4141d5 87deg,#4141d5 142.8deg,#4242e2 153.8deg,#3755ee 159.5deg,#325ef4 166.6deg,#286eff 167.7deg,#03ebff 169.8deg,#00f4ff 169.9deg,#00ffe8 170.6deg,#00f0a5 171.7deg,#00c946 173deg,#00c946 176.8deg,#00f0a5 178.1deg,#00ffe8 179.3deg,#00f4ff 179.9deg,#03ebff 180deg,#286eff 182.9deg,#2f63f8 183.9deg,#3755ee 190.3deg,#3853ed 207deg,#3853ed 235.7deg,#3459f1 249.6deg,#286eff 253.5deg,#14b1ff 256.5deg,#00f4ff 258.3deg,#00ffe8 259.9deg,#00f7c3 261.4deg,#00f0a5 262.4deg,#00c131 265.5deg,#00c131 269.7deg,#00f0a5 271deg,#00ffe8 271.9deg,#00f4ff 272.5deg,#286eff 273.1deg,#4242e2 273.9deg,#4141d5 274.6deg,#4141d5 360deg)"></i><i style="left:36px;top:36px;width:318px;height:318px;background:conic-gradient(from -41.5deg,#4141d5 0deg,#4242e2 7deg,#3755ee 10.6deg,#2f62f7 18.4deg,#286eff 19.7deg,#2184ff 20.3deg,#00f4ff 21.6deg,#00f5fd 21.6deg,#00ffe8 22.9deg,#00fad3 23.7deg,#00f0a5 24.4deg,#00c439 25.7deg,#00b91e 29deg,#00b91e 29deg,#00b91e 29deg,#00ea97 35.1deg,#00f0a5 35.6deg,#00ffe8 38.8deg,#00f8f6 40deg,#00f4ff 41.6deg,#0dc7ff 44.9deg,#286eff 51.3deg,#2a6bfd 52.3deg,#3755ee 65.3deg,#4242e2 72deg,#4141d5 84.9deg,#4141d5 142.6deg,#4242e2 153.5deg,#3755ee 159.1deg,#325ef4 166.1deg,#286eff 167.2deg,#03ebff 169.3deg,#00f4ff 169.4deg,#00ffe8 170.1deg,#00f0a5 171.2deg,#00ca47 172.5deg,#00ca47 176.3deg,#00f0a5 177.5deg,#00ffe8 178.7deg,#00f4ff 179.3deg,#03ebff 179.4deg,#286eff 182.2deg,#2f63f8 183.2deg,#3755ee 189.6deg,#3852ed 206.1deg,#3852ed 236.3deg,#3459f1 249.7deg,#286eff 253.5deg,#14b1ff 256.4deg,#00f4ff 258.2deg,#00ffe8 259.7deg,#00f7c3 261.1deg,#00f0a5 262.1deg,#00c131 265.2deg,#00c131 269.2deg,#00f0a5 270.4deg,#00ffe8 271.3deg,#00f4ff 271.9deg,#286eff 272.5deg,#4242e2 273.2deg,#4141d5 273.9deg,#4141d5 360deg)"></i><i style="left:39px;top:39px;width:312px;height:312px;background:conic-gradient(from -42.1deg,#4141d5 0deg,#4242e2 6.8deg,#3755ee 10.4deg,#2f62f7 17.9deg,#286eff 19.2deg,#2184ff 19.8deg,#00f4ff 21.1deg,#00f5fd 21.1deg,#00ffe8 22.4deg,#00fad3 23.1deg,#00f0a5 23.8deg,#00c439 25.1deg,#00b91e 28.3deg,#00eb98 34.3deg,#00f0a5 34.7deg,#00ffe8 37.9deg,#00f8f6 39deg,#00f4ff 40.6deg,#0dc7ff 43.8deg,#286eff 50.1deg,#2a6bfd 51deg,#3755ee 63.7deg,#4242e2 70.2deg,#4141d5 82.9deg,#4141d5 142.4deg,#4242e2 153.2deg,#3755ee 158.7deg,#325ef4 165.6deg,#286eff 166.7deg,#03ebff 168.8deg,#00f4ff 168.9deg,#00ffe8 169.5deg,#00f0a5 170.7deg,#00ca49 171.9deg,#00ca49 175.7deg,#00f0a5 176.9deg,#00ffe8 178deg,#00f4ff 178.7deg,#03ebff 178.8deg,#286eff 181.6deg,#2f63f8 182.6deg,#3755ee 188.9deg,#3952ed 205.2deg,#3952ed 236.9deg,#3459f1 249.9deg,#286eff 253.5deg,#14b1ff 256.4deg,#00f4ff 258.1deg,#00ffe8 259.5deg,#00f7c3 260.9deg,#00f0a5 261.9deg,#00c131 264.8deg,#00c131 268.7deg,#00f0a5 269.9deg,#00ffe8 270.7deg,#00f4ff 271.2deg,#286eff 271.8deg,#4242e2 272.6deg,#4141d5 273.2deg,#4141d5 360deg)"></i><i style="left:42px;top:42px;width:306px;height:306px;background:conic-gradient(from -42.7deg,#4141d5 0deg,#4242e2 6.7deg,#3755ee 10.1deg,#2f62f7 17.5deg,#286eff 18.7deg,#2184ff 19.3deg,#00f4ff 20.5deg,#00f5fd 20.6deg,#00ffe8 21.8deg,#00fad3 22.5deg,#00f0a5 23.2deg,#00c43a 24.5deg,#00b91f 27.6deg,#00eb98 33.4deg,#00f0a5 33.9deg,#00ffe8 36.9deg,#00f8f6 38.1deg,#00f4ff 39.6deg,#0dc7ff 42.7deg,#286eff 48.8deg,#2a6bfd 49.7deg,#3755ee 62.1deg,#4242e2 68.5deg,#4141d5 80.8deg,#4141d5 142.2deg,#4242e2 152.9deg,#3755ee 158.3deg,#325ef4 165.2deg,#286eff 166.3deg,#03ebff 168.3deg,#00f4ff 168.4deg,#00ffe8 169deg,#00f0a5 170.2deg,#00cb4a 171.4deg,#00cb4a 175.1deg,#00f0a5 176.3deg,#00ffe8 177.4deg,#00f4ff 178.1deg,#03ebff 178.2deg,#286eff 181deg,#2f63f8 181.9deg,#3755ee 188.1deg,#3952ec 204.3deg,#3952ec 237.6deg,#3459f1 250deg,#286eff 253.5deg,#14b1ff 256.3deg,#00f4ff 257.9deg,#00ffe8 259.3deg,#00f7c3 260.6deg,#00f0a5 261.6deg,#00c131 264.4deg,#00c131 268.1deg,#00f0a5 269.3deg,#00ffe8 270.1deg,#00f4ff 270.6deg,#286eff 271.2deg,#4242e2 271.9deg,#4141d5 272.5deg,#4141d5 360deg)"></i><i style="left:45px;top:45px;width:300px;height:300px;background:conic-gradient(from -43.4deg,#4141d5 0deg,#4242e2 6.5deg,#3755ee 9.8deg,#2f62f7 17deg,#286eff 18.2deg,#2184ff 18.8deg,#00f4ff 20deg,#00f5fd 20.1deg,#00ffe8 21.2deg,#00fad3 21.9deg,#00f0a5 22.6deg,#00c53a 23.8deg,#00ba20 26.9deg,#00eb98 32.5deg,#00f0a5 33deg,#00ffe8 36deg,#00f8f6 37.1deg,#00f4ff 38.6deg,#0dc7ff 41.6deg,#286eff 47.5deg,#2a6bfd 48.4deg,#3755ee 60.5deg,#4242e2 66.7deg,#4141d5 78.7deg,#4141d5 142deg,#4242e2 152.5deg,#3755ee 158deg,#325ef4 164.7deg,#286eff 165.8deg,#03ebff 167.8deg,#00f4ff 167.9deg,#00ffe8 168.5deg,#00f0a5 169.7deg,#00cb4b 170.8deg,#00cb4b 174.5deg,#00f0a5 175.7deg,#00ffe8 176.8deg,#00f4ff 177.5deg,#03ebff 177.6deg,#286eff 180.3deg,#2f63f8 181.3deg,#3755ee 187.4deg,#3951ec 203.4deg,#3951ec 238.2deg,#3459f1 250.2deg,#286eff 253.5deg,#14b1ff 256.2deg,#00f4ff 257.8deg,#00ffe8 259.1deg,#00f7c3 260.4deg,#00f0a5 261.3deg,#00c131 264deg,#00c131 267.6deg,#00f0a5 268.7deg,#00ffe8 269.5deg,#00f4ff 270deg,#286eff 270.5deg,#4242e2 271.2deg,#4141d5 271.8deg,#4141d5 360deg)"></i><i style="left:48px;top:48px;width:294px;height:294px;background:conic-gradient(from -44deg,#4141d5 0deg,#4242e2 6.3deg,#3755ee 9.6deg,#2f62f7 16.6deg,#286eff 17.7deg,#2184ff 18.3deg,#00f4ff 19.5deg,#00f5fd 19.5deg,#00ffe8 20.7deg,#00fad3 21.4deg,#00f0a5 22deg,#00c53b 23.2deg,#00ba20 26.2deg,#00eb99 31.7deg,#00f0a5 32.1deg,#00ffe8 35deg,#00f8f6 36.1deg,#00f4ff 37.6deg,#0dc7ff 40.5deg,#286eff 46.3deg,#2a6bfd 47.1deg,#3755ee 58.9deg,#4242e2 64.9deg,#4141d5 76.6deg,#4141d5 141.8deg,#4242e2 152.2deg,#3755ee 157.6deg,#325ef4 164.2deg,#286eff 165.3deg,#03ebff 167.3deg,#00f4ff 167.4deg,#00ffe8 168deg,#00f0a5 169.1deg,#00cc4c 170.3deg,#00cc4c 173.9deg,#00f0a5 175.1deg,#00ffe8 176.2deg,#00f4ff 176.9deg,#03ebff 177deg,#286eff 179.7deg,#2f63f8 180.6deg,#3755ee 186.7deg,#3951ec 202.5deg,#3951ec 238.8deg,#3459f1 250.3deg,#286eff 253.6deg,#14b1ff 256.1deg,#00f4ff 257.6deg,#00ffe8 258.9deg,#00f7c3 260.1deg,#00f0a5 261deg,#00c131 263.6deg,#00c131 267.1deg,#00f0a5 268.1deg,#00ffe8 268.9deg,#00f4ff 269.4deg,#286eff 269.9deg,#4242e2 270.6deg,#4141d5 271.1deg,#4141d5 360deg)"></i><i style="left:51px;top:51px;width:288px;height:288px;background:conic-gradient(from -44.6deg,#4141d5 0deg,#4242e2 6.1deg,#3755ee 9.3deg,#2f62f7 16.1deg,#286eff 17.3deg,#2184ff 17.8deg,#00f4ff 18.9deg,#00f5fd 19deg,#00ffe8 20.1deg,#00fad3 20.8deg,#00f0a5 21.4deg,#00c53c 22.6deg,#00ba21 25.4deg,#00eb99 30.8deg,#00f0a5 31.2deg,#00ffe8 34.1deg,#00f8f6 35.1deg,#00f4ff 36.6deg,#0dc7ff 39.4deg,#286eff 45deg,#2a6bfd 45.9deg,#3755ee 57.3deg,#4242e2 63.2deg,#4141d5 74.5deg,#4141d5 141.5deg,#4242e2 151.8deg,#3755ee 157.1deg,#325ef4 163.7deg,#286eff 164.7deg,#03ebff 166.7deg,#00f4ff 166.8deg,#00ffe8 167.4deg,#00f0a5 168.5deg,#00cc4d 169.7deg,#00cc4d 173.3deg,#00f0a5 174.4deg,#00ffe8 175.5deg,#00f4ff 176.2deg,#03ebff 176.3deg,#286eff 178.9deg,#2f63f8 179.9deg,#3755ee 185.9deg,#3951ec 201.5deg,#3951ec 239.3deg,#3459f1 250.4deg,#286eff 253.5deg,#14b1ff 255.9deg,#00f4ff 257.4deg,#00ffe8 258.7deg,#00f7c3 259.8deg,#00f0a5 260.7deg,#00c131 263.1deg,#00c131 266.5deg,#00f0a5 267.5deg,#00ffe8 268.2deg,#00f4ff 268.7deg,#286eff 269.2deg,#4242e2 269.8deg,#4141d5 270.3deg,#4141d5 360deg)"></i><i style="left:54px;top:54px;width:282px;height:282px;background:conic-gradient(from -45.2deg,#4141d5 0deg,#4242e2 6deg,#3755ee 9.1deg,#2f62f7 15.7deg,#286eff 16.8deg,#2184ff 17.3deg,#00f4ff 18.5deg,#00f5fd 18.5deg,#00ffe8 19.6deg,#00fad3 20.2deg,#00f0a5 20.9deg,#00c53c 22deg,#00ba21 24.8deg,#00eb99 30deg,#00f0a5 30.4deg,#00ffe8 33.2deg,#00f8f6 34.2deg,#00f4ff 35.6deg,#0dc7ff 38.4deg,#286eff 43.9deg,#2a6bfd 44.7deg,#3755ee 55.8deg,#4242e2 61.5deg,#4141d5 72.6deg,#4141d5 141.2deg,#4242e2 151.4deg,#3755ee 156.6deg,#325ef4 163.1deg,#286eff 164.2deg,#03ebff 166.1deg,#00f4ff 166.2deg,#00ffe8 166.9deg,#00f0a5 168deg,#00cd4e 169.1deg,#00cd4e 172.6deg,#00f0a5 173.7deg,#00ffe8 174.8deg,#00f4ff 175.5deg,#03ebff 175.6deg,#286eff 178.2deg,#2f63f8 179.1deg,#3755ee 185.1deg,#3a50eb 200.5deg,#3a50eb 239.5deg,#3459f1 250.3deg,#286eff 253.3deg,#14b1ff 255.7deg,#00f4ff 257.1deg,#00ffe8 258.3deg,#00f7c3 259.4deg,#00f0a5 260.3deg,#00c131 262.7deg,#00c131 265.9deg,#00f0a5 266.9deg,#00ffe8 267.7deg,#00f4ff 268.1deg,#286eff 268.6deg,#4242e2 269.2deg,#4141d5 269.7deg,#4141d5 360deg)"></i><i style="left:57px;top:57px;width:276px;height:276px;background:conic-gradient(from -46deg,#4141d5 0deg,#4242e2 5.9deg,#3755ee 8.9deg,#2f62f7 15.4deg,#286eff 16.5deg,#2184ff 17deg,#00f4ff 18.1deg,#00f5fd 18.2deg,#00ffe8 19.3deg,#00fad3 19.9deg,#00f0a5 20.5deg,#00c53d 21.6deg,#0b2 24.4deg,#00eb9a 29.5deg,#00f0a5 29.9deg,#00ffe8 32.6deg,#00f8f6 33.6deg,#00f4ff 35deg,#0dc7ff 37.7deg,#286eff 43.1deg,#2a6bfd 43.9deg,#3755ee 54.9deg,#4242e2 60.5deg,#4141d5 71.3deg,#4141d5 141.2deg,#4242e2 151.2deg,#3755ee 156.4deg,#325ef4 162.8deg,#286eff 163.9deg,#03ebff 165.8deg,#00f4ff 165.9deg,#00ffe8 166.5deg,#00f0a5 167.6deg,#00cd50 168.7deg,#00cd50 172.2deg,#00f0a5 173.3deg,#00ffe8 174.4deg,#00f4ff 175deg,#03ebff 175.1deg,#286eff 177.7deg,#2f63f8 178.6deg,#3755ee 184.5deg,#3d4be8 199.7deg,#3d4be8 239.8deg,#3459f1 250.3deg,#286eff 253.3deg,#14b1ff 255.6deg,#00f4ff 257deg,#00ffe8 258.2deg,#00f7c3 259.3deg,#00f0a5 260.1deg,#00c131 262.4deg,#00c131 265.6deg,#00f0a5 266.6deg,#00ffe8 267.3deg,#00f4ff 267.7deg,#286eff 268.2deg,#4242e2 268.8deg,#4141d5 269.3deg,#4141d5 360deg)"></i><i style="left:60px;top:60px;width:270px;height:270px;background:conic-gradient(from -46.8deg,#4141d5 0deg,#4242e2 5.8deg,#3755ee 8.8deg,#2f62f7 15.2deg,#286eff 16.2deg,#2184ff 16.7deg,#00f4ff 17.8deg,#00f5fd 17.9deg,#00ffe8 18.9deg,#00fad3 19.5deg,#00f0a5 20.1deg,#00c63d 21.2deg,#00bb23 23.9deg,#00ec9a 29deg,#00f0a5 29.3deg,#00ffe8 32deg,#00f8f6 33deg,#00f4ff 34.4deg,#0dc7ff 37.1deg,#286eff 42.3deg,#2a6bfd 43.1deg,#3755ee 53.9deg,#4242e2 59.4deg,#4141d5 70.1deg,#4141d5 141.1deg,#4242e2 151deg,#3755ee 156.2deg,#325ef4 162.5deg,#286eff 163.5deg,#03ebff 165.4deg,#00f4ff 165.5deg,#00ffe8 166.1deg,#00f0a5 167.2deg,#00ce51 168.3deg,#00ce51 171.8deg,#00f0a5 172.8deg,#00ffe8 173.9deg,#00f4ff 174.6deg,#03ebff 174.7deg,#286eff 177.2deg,#2f63f8 178.1deg,#3755ee 183.9deg,#3f47e5 199deg,#3f47e5 240deg,#3459f1 250.3deg,#286eff 253.2deg,#14b1ff 255.5deg,#00f4ff 256.8deg,#00ffe8 258deg,#00f7c3 259.1deg,#00f0a5 259.9deg,#00c131 262.2deg,#00c131 265.3deg,#00f0a5 266.2deg,#00ffe8 266.9deg,#00f4ff 267.3deg,#286eff 267.8deg,#4242e2 268.4deg,#4141d5 268.9deg,#4141d5 360deg)"></i><i style="left:63px;top:63px;width:264px;height:264px;background:conic-gradient(from -47.7deg,#4141d5 0deg,#4242e2 5.7deg,#3755ee 8.6deg,#2f62f7 14.9deg,#286eff 15.9deg,#2184ff 16.4deg,#00f4ff 17.5deg,#00f5fd 17.5deg,#00ffe8 18.6deg,#00fad3 19.2deg,#00f0a5 19.8deg,#00c63e 20.9deg,#00bb23 23.5deg,#00ec9a 28.5deg,#00f0a5 28.8deg,#00ffe8 31.5deg,#00f8f6 32.4deg,#00f4ff 33.8deg,#0dc7ff 36.4deg,#286eff 41.6deg,#2a6bfd 42.4deg,#3755ee 53deg,#4242e2 58.4deg,#4141d5 68.8deg,#4141d5 141.1deg,#4242e2 150.9deg,#3755ee 155.9deg,#325ef4 162.2deg,#286eff 163.2deg,#03ebff 165.1deg,#00f4ff 165.2deg,#00ffe8 165.8deg,#00f0a5 166.9deg,#00ce52 167.9deg,#00ce52 171.3deg,#00f0a5 172.4deg,#00ffe8 173.5deg,#00f4ff 174.1deg,#03ebff 174.2deg,#286eff 176.7deg,#2f63f8 177.6deg,#3755ee 183.4deg,#4243e2 198.2deg,#4243e2 240.1deg,#3459f1 250.1deg,#286eff 252.9deg,#14b1ff 255.1deg,#00f4ff 256.5deg,#00ffe8 257.6deg,#00f7c3 258.7deg,#00f0a5 259.4deg,#00c131 261.7deg,#00c131 264.7deg,#00f0a5 265.6deg,#00ffe8 266.3deg,#00f4ff 266.7deg,#286eff 267.1deg,#4242e2 267.7deg,#4141d5 268.2deg,#4141d5 360deg)"></i><i style="left:66px;top:66px;width:258px;height:258px;background:conic-gradient(from -48.5deg,#4141d5 0deg,#4242e2 5.6deg,#3755ee 8.4deg,#2f62f7 14.6deg,#286eff 15.7deg,#2184ff 16.1deg,#00f4ff 17.2deg,#00f5fd 17.2deg,#00ffe8 18.3deg,#00fad3 18.8deg,#00f0a5 19.4deg,#00c63e 20.5deg,#00bb24 23.1deg,#00ec9b 27.9deg,#00f0a5 28.3deg,#00ffe8 30.9deg,#00f8f6 31.8deg,#00f4ff 33.1deg,#0dc7ff 35.7deg,#286eff 40.8deg,#2a6bfd 41.6deg,#3755ee 52deg,#4242e2 57.3deg,#4141d5 67.6deg,#4141d5 141deg,#4242e2 150.7deg,#3755ee 155.7deg,#325ef4 161.9deg,#286eff 162.9deg,#03ebff 164.7deg,#00f4ff 164.8deg,#00ffe8 165.4deg,#00f0a5 166.5deg,#00cf53 167.5deg,#00cf53 170.9deg,#00f0a5 172deg,#00ffe8 173deg,#00f4ff 173.6deg,#03ebff 173.7deg,#286eff 176.2deg,#2f63f8 177.1deg,#3755ee 182.8deg,#4242e2 195deg,#4242e1 197.5deg,#4242e1 240.1deg,#4242e2 241.5deg,#3459f1 249.9deg,#286eff 252.7deg,#14b1ff 254.8deg,#00f4ff 256.1deg,#00ffe8 257.2deg,#00f7c3 258.2deg,#00f0a5 259deg,#00c131 261.2deg,#00c131 264.1deg,#00f0a5 265deg,#00ffe8 265.7deg,#00f4ff 266.1deg,#286eff 266.5deg,#4242e2 267.1deg,#4141d5 267.6deg,#4141d5 360deg)"></i><i style="left:69px;top:69px;width:252px;height:252px;background:conic-gradient(from -49.3deg,#4141d5 0deg,#4242e2 5.5deg,#3755ee 8.3deg,#2f62f7 14.4deg,#286eff 15.4deg,#2184ff 15.8deg,#00f4ff 16.9deg,#00f5fd 16.9deg,#00ffe8 17.9deg,#00fad3 18.5deg,#00f0a5 19.1deg,#00c63f 20.1deg,#00bc24 22.6deg,#00ec9b 27.4deg,#00f0a5 27.7deg,#00ffe8 30.3deg,#00f8f6 31.3deg,#00f4ff 32.5deg,#0dc7ff 35.1deg,#286eff 40.1deg,#2a6bfd 40.8deg,#3755ee 51deg,#4242e2 56.2deg,#4141d5 66.4deg,#4141d5 141deg,#4242e2 150.5deg,#3755ee 155.4deg,#325ef4 161.6deg,#286eff 162.6deg,#03ebff 164.4deg,#00f4ff 164.5deg,#00ffe8 165.1deg,#00f0a5 166.1deg,#00cf54 167.2deg,#00cf54 170.5deg,#00f0a5 171.5deg,#00ffe8 172.6deg,#00f4ff 173.2deg,#03ebff 173.3deg,#286eff 175.8deg,#2f63f8 176.6deg,#3755ee 182.2deg,#4242e2 192.3deg,#4242df 196.7deg,#4242df 240.2deg,#4242e2 242.7deg,#3459f1 249.7deg,#286eff 252.4deg,#14b1ff 254.5deg,#00f4ff 255.7deg,#00ffe8 256.8deg,#00f7c3 257.8deg,#00f0a5 258.6deg,#00c131 260.7deg,#00c131 263.6deg,#00f0a5 264.4deg,#00ffe8 265.1deg,#00f4ff 265.5deg,#286eff 265.9deg,#4242e2 266.4deg,#4141d5 266.9deg,#4141d5 360deg)"></i><i style="left:72px;top:72px;width:246px;height:246px;background:conic-gradient(from -50.1deg,#4141d5 0deg,#4242e2 5.4deg,#3755ee 8.1deg,#2f62f7 14.1deg,#286eff 15.1deg,#2184ff 15.5deg,#00f4ff 16.5deg,#00f5fd 16.6deg,#00ffe8 17.6deg,#00fad3 18.2deg,#00f0a5 18.7deg,#00c73f 19.7deg,#00bc25 22.2deg,#00ec9b 26.9deg,#00f0a5 27.2deg,#00ffe8 29.7deg,#00f8f6 30.7deg,#00f4ff 31.9deg,#0dc7ff 34.4deg,#286eff 39.3deg,#2a6bfd 40.1deg,#3755ee 50.1deg,#4242e2 55.2deg,#4141d5 65.1deg,#4141d5 140.8deg,#4242e2 150.3deg,#3755ee 155.2deg,#325ef4 161.2deg,#286eff 162.2deg,#03ebff 164deg,#00f4ff 164.1deg,#00ffe8 164.7deg,#00f0a5 165.7deg,#00d055 166.7deg,#00d055 170deg,#00f0a5 171deg,#00ffe8 172.1deg,#00f4ff 172.7deg,#03ebff 172.8deg,#286eff 175.2deg,#2f63f8 176.1deg,#3755ee 181.6deg,#4242e2 190.2deg,#4141dd 195.9deg,#4141dd 240.2deg,#4242e2 243.5deg,#3459f1 249.5deg,#286eff 252.1deg,#14b1ff 254.2deg,#00f4ff 255.4deg,#00ffe8 256.4deg,#00f7c3 257.4deg,#00f0a5 258.1deg,#00c131 260.2deg,#00c131 263deg,#00f0a5 263.9deg,#00ffe8 264.5deg,#00f4ff 264.9deg,#286eff 265.3deg,#4242e2 265.8deg,#4141d5 266.2deg,#4141d5 360deg)"></i><i style="left:75px;top:75px;width:240px;height:240px;background:conic-gradient(from -51deg,#4141d5 0deg,#4242e2 5.3deg,#3755ee 8deg,#2f62f7 13.8deg,#286eff 14.8deg,#2184ff 15.2deg,#00f4ff 16.2deg,#00f5fd 16.3deg,#00ffe8 17.2deg,#00fad3 17.8deg,#00f0a5 18.4deg,#00c740 19.3deg,#00bc26 21.8deg,#00ec9c 26.4deg,#00f0a5 26.7deg,#00ffe8 29.2deg,#00f8f6 30.1deg,#00f4ff 31.3deg,#0dc7ff 33.8deg,#286eff 38.6deg,#2a6bfd 39.3deg,#3755ee 49.1deg,#4242e2 54.1deg,#4141d5 63.9deg,#4141d5 140.4deg,#4242e2 149.8deg,#3755ee 154.6deg,#325ef4 160.5deg,#286eff 161.5deg,#03ebff 163.3deg,#00f4ff 163.4deg,#00ffe8 164deg,#00f0a5 165deg,#00d057 166deg,#00d057 169.2deg,#00f0a5 170.2deg,#00ffe8 171.2deg,#00f4ff 171.9deg,#03ebff 172deg,#286eff 174.4deg,#2f63f8 175.2deg,#3755ee 180.6deg,#4242e2 188.1deg,#4141dc 194.8deg,#4141dc 240.3deg,#4242e2 244.1deg,#3459f1 249.3deg,#286eff 251.8deg,#14b1ff 253.8deg,#00f4ff 255deg,#00ffe8 256.1deg,#00f7c3 257deg,#00f0a5 257.7deg,#00c131 259.7deg,#00c131 262.4deg,#00f0a5 263.3deg,#00ffe8 263.9deg,#00f4ff 264.2deg,#286eff 264.6deg,#4242e2 265.2deg,#4141d5 265.6deg,#4141d5 360deg)"></i><i style="left:78px;top:78px;width:234px;height:234px;background:conic-gradient(from -51.8deg,#4141d5 0deg,#4242e2 5.2deg,#3755ee 7.8deg,#2f62f7 13.5deg,#286eff 14.5deg,#2184ff 14.9deg,#00f4ff 15.9deg,#00f5fd 16deg,#00ffe8 16.9deg,#00fad3 17.5deg,#00f0a5 18deg,#00c740 19deg,#00bc26 21.4deg,#00ec9c 25.9deg,#00f0a5 26.1deg,#00ffe8 28.6deg,#00f8f6 29.5deg,#00f4ff 30.7deg,#0dc7ff 33.1deg,#286eff 37.8deg,#2a6bfd 38.5deg,#3755ee 48.2deg,#4242e2 53.1deg,#4141d5 62.6deg,#4141d5 140.1deg,#4242e2 149.3deg,#3755ee 154deg,#325ef4 159.9deg,#286eff 160.9deg,#03ebff 162.6deg,#00f4ff 162.7deg,#00ffe8 163.3deg,#00f0a5 164.3deg,#00d058 165.3deg,#00d058 168.5deg,#00f0a5 169.4deg,#00ffe8 170.5deg,#00f4ff 171.1deg,#03ebff 171.2deg,#286eff 173.6deg,#2f63f8 174.4deg,#3755ee 179.8deg,#4242e2 186.3deg,#4141da 193.7deg,#4141da 240.4deg,#4242e2 244.6deg,#3459f1 249.2deg,#286eff 251.6deg,#14b1ff 253.6deg,#00f4ff 254.7deg,#00ffe8 255.7deg,#00f7c3 256.6deg,#00f0a5 257.3deg,#00c131 259.3deg,#00c131 261.9deg,#00f0a5 262.7deg,#00ffe8 263.3deg,#00f4ff 263.7deg,#286eff 264.1deg,#4242e2 264.6deg,#4141d5 265deg,#4141d5 360deg)"></i><i style="left:81px;top:81px;width:228px;height:228px;background:conic-gradient(from -52.9deg,#4141d5 0deg,#4242e2 5.1deg,#3755ee 7.7deg,#2f62f7 13.3deg,#286eff 14.2deg,#2184ff 14.6deg,#00f4ff 15.6deg,#00f5fd 15.6deg,#00ffe8 16.6deg,#00fad3 17.1deg,#00f0a5 17.7deg,#00c741 18.6deg,#00bd27 20.9deg,#00ec9c 25.4deg,#00f0a5 25.6deg,#00ffe8 28deg,#00f8f6 28.9deg,#00f4ff 30.1deg,#0dc7ff 32.5deg,#286eff 37.1deg,#2a6bfd 37.8deg,#3755ee 47.2deg,#4242e2 52deg,#4141d5 61.4deg,#4141d5 139.9deg,#4242e2 149deg,#3755ee 153.7deg,#325ef4 159.5deg,#286eff 160.4deg,#03ebff 162.2deg,#00f4ff 162.3deg,#00ffe8 162.9deg,#00f0a5 164deg,#00d666 164.8deg,#00d666 168deg,#00f0a5 168.8deg,#00ffe8 169.9deg,#00f4ff 170.5deg,#03ebff 170.6deg,#286eff 173deg,#2f63f8 173.8deg,#3755ee 179.1deg,#4242e2 184.9deg,#4141d9 192.9deg,#4141d9 240.7deg,#4242e2 245.2deg,#3459f1 249.2deg,#286eff 251.6deg,#14b1ff 253.5deg,#00f4ff 254.6deg,#00ffe8 255.6deg,#00f7c3 256.5deg,#00f0a5 257.1deg,#00c131 259deg,#00c131 261.6deg,#00f0a5 262.4deg,#00ffe8 263deg,#00f4ff 263.3deg,#286eff 263.7deg,#4242e2 264.2deg,#4141d5 264.6deg,#4141d5 360deg)"></i><i style="left:84px;top:84px;width:222px;height:222px;background:conic-gradient(from -54deg,#4141d5 0deg,#4242e2 5deg,#3755ee 7.5deg,#2f62f7 13deg,#286eff 13.9deg,#2184ff 14.3deg,#00f4ff 15.3deg,#00f5fd 15.3deg,#00ffe8 16.2deg,#00fad3 16.8deg,#00f0a5 17.3deg,#00c741 18.2deg,#00bd27 20.5deg,#00ed9d 24.9deg,#00f0a5 25.1deg,#00ffe8 27.5deg,#00f8f6 28.3deg,#00f4ff 29.5deg,#0dc7ff 31.8deg,#286eff 36.3deg,#2a6bfd 37deg,#3755ee 46.2deg,#4242e2 51deg,#4141d5 60.1deg,#4141d5 139.8deg,#4242e2 148.7deg,#3755ee 153.4deg,#325ef4 159.1deg,#286eff 160deg,#03ebff 161.7deg,#00f4ff 161.8deg,#00ffe8 162.5deg,#00f0a5 163.7deg,#00de78 164.3deg,#00de78 167.5deg,#00f0a5 168.1deg,#00ffe8 169.3deg,#00f4ff 170deg,#03ebff 170.1deg,#286eff 172.4deg,#2f63f8 173.2deg,#3755ee 178.4deg,#4242e2 183.7deg,#4141d7 192deg,#4141d7 241deg,#4242e2 245.7deg,#3459f1 249.3deg,#286eff 251.6deg,#14b1ff 253.4deg,#00f4ff 254.5deg,#00ffe8 255.4deg,#00f7c3 256.3deg,#00f0a5 256.9deg,#00c131 258.8deg,#00c131 261.3deg,#00f0a5 262.1deg,#00ffe8 262.6deg,#00f4ff 263deg,#286eff 263.3deg,#4242e2 263.8deg,#4141d5 264.2deg,#4141d5 360deg)"></i><i style="left:87px;top:87px;width:216px;height:216px;background:conic-gradient(from -55.1deg,#4141d5 0deg,#4242e2 4.9deg,#3755ee 7.4deg,#2f62f7 12.7deg,#286eff 13.6deg,#2184ff 14deg,#00f4ff 15deg,#00f5fd 15deg,#00ffe8 15.9deg,#00fad3 16.4deg,#00f0a5 16.9deg,#00c842 17.8deg,#00bd28 20.1deg,#00ed9d 24.3deg,#00f0a5 24.6deg,#00ffe8 26.9deg,#00f8f6 27.7deg,#00f4ff 28.9deg,#0dc7ff 31.1deg,#286eff 35.6deg,#2a6bfd 36.2deg,#3755ee 45.3deg,#4242e2 49.9deg,#4141d5 58.9deg,#4141d5 139.6deg,#4242e2 148.5deg,#3755ee 153deg,#325ef4 158.7deg,#286eff 159.6deg,#03ebff 161.3deg,#00f4ff 161.4deg,#00ffe8 162.1deg,#00f0a5 163.4deg,#00e589 163.9deg,#00e589 166.9deg,#00f0a5 167.4deg,#00ffe8 168.6deg,#00f4ff 169.4deg,#03ebff 169.5deg,#286eff 171.8deg,#2f63f8 172.6deg,#3755ee 177.8deg,#4242e2 182.5deg,#4141d6 191.2deg,#4141d6 241.3deg,#4242e2 247.2deg,#3b4eea 249.3deg,#296cfe 253.3deg,#286eff 253.5deg,#00f4ff 256.1deg,#00f5fd 256.2deg,#00ffe8 257.1deg,#00f1aa 258.6deg,#00f1aa 261deg,#00ffe8 261.6deg,#00f4ff 262deg,#1a9eff 262.6deg,#286eff 262.7deg,#4242e2 263.3deg,#4141d5 263.8deg,#4141d5 360deg)"></i><i style="left:90px;top:90px;width:210px;height:210px;background:conic-gradient(from -56.1deg,#4141d5 0deg,#4242e2 4.8deg,#3755ee 7.2deg,#2f62f7 12.5deg,#286eff 13.3deg,#2184ff 13.7deg,#00f4ff 14.6deg,#00f5fd 14.7deg,#00ffe8 15.6deg,#00fad3 16.1deg,#00f0a5 16.6deg,#00c843 17.5deg,#00bd29 19.7deg,#00ed9d 23.8deg,#00f0a5 24deg,#00ffe8 26.3deg,#00f8f6 27.1deg,#00f4ff 28.3deg,#0dc7ff 30.5deg,#286eff 34.8deg,#2a6bfd 35.5deg,#3755ee 44.3deg,#4242e2 48.8deg,#4141d5 57.6deg,#4141d5 139.5deg,#4242e2 148.2deg,#3755ee 152.7deg,#325ef4 158.3deg,#286eff 159.2deg,#03ebff 160.8deg,#00f4ff 161deg,#00ffe8 161.8deg,#00f0a5 163.2deg,#00ec9a 163.4deg,#00ec9a 166.4deg,#00f0a5 166.6deg,#00ffe8 168deg,#00f4ff 168.8deg,#03ebff 169deg,#286eff 171.2deg,#2f63f8 172deg,#3755ee 177.1deg,#4242e2 181.6deg,#4141d5 190.3deg,#4141d5 241.4deg,#4242de 249.3deg,#4242e2 251.8deg,#3e48e6 253.3deg,#335bf3 256deg,#286eff 258.3deg,#2770ff 258.4deg,#2770ff 260.8deg,#286eff 260.8deg,#3a4feb 262.3deg,#4242e2 262.7deg,#4141d5 263.5deg,#4141d5 360deg)"></i><i style="left:93px;top:93px;width:204px;height:204px;background:conic-gradient(from -57.2deg,#4141d5 0deg,#4242e2 4.7deg,#3755ee 7deg,#2f62f7 12.2deg,#286eff 13.1deg,#2184ff 13.4deg,#00f4ff 14.3deg,#00f5fd 14.4deg,#00ffe8 15.2deg,#00fad3 15.7deg,#00f0a5 16.2deg,#00c843 17.1deg,#00be29 19.2deg,#00ed9e 23.3deg,#00f0a5 23.5deg,#00ffe8 25.7deg,#00f8f6 26.6deg,#00f4ff 27.6deg,#0dc7ff 29.8deg,#286eff 34.1deg,#2a6bfd 34.7deg,#3755ee 43.4deg,#4242e2 47.8deg,#4141d5 56.4deg,#4141d5 138.3deg,#4242e2 146.9deg,#3755ee 151.3deg,#325ef4 156.8deg,#286eff 157.7deg,#03ebff 159.3deg,#00f4ff 159.5deg,#00ffe8 160.4deg,#00f1aa 161.8deg,#00f1aa 164.8deg,#00ffe8 166.3deg,#00f4ff 167.2deg,#03ebff 167.3deg,#286eff 169.6deg,#2f63f8 170.3deg,#3755ee 175.4deg,#4242e2 179.8deg,#4141d5 188.4deg,#4141d5 241.5deg,#4141d6 249.3deg,#4141d7 253.2deg,#4141d8 255.9deg,#4141d9 258.2deg,#4141d9 260.6deg,#4141d7 262.1deg,#4141d5 263.3deg,#4141d5 360deg)"></i><i style="left:96px;top:96px;width:198px;height:198px;background:conic-gradient(from -58.3deg,#4141d5 0deg,#4242e2 4.5deg,#3755ee 6.9deg,#2f62f7 11.9deg,#286eff 12.8deg,#2184ff 13.1deg,#00f4ff 14deg,#00f5fd 14deg,#00ffe8 14.9deg,#00fad3 15.4deg,#00f0a5 15.9deg,#00c844 16.7deg,#00be2a 18.8deg,#00ed9e 22.8deg,#00f0a5 23deg,#00ffe8 25.2deg,#00f8f6 26deg,#00f4ff 27deg,#0dc7ff 29.2deg,#286eff 33.3deg,#2a6bfd 33.9deg,#3755ee 42.4deg,#4242e2 46.7deg,#4141d5 55.1deg,#4141d5 135.9deg,#4242e2 144.7deg,#3755ee 149.2deg,#325ef4 154.9deg,#286eff 155.8deg,#03ebff 157.4deg,#00f4ff 157.6deg,#00ffe8 158.7deg,#00f4b8 160deg,#00f4b8 163.1deg,#00ffe8 164.4deg,#00f4ff 165.5deg,#03ebff 165.7deg,#286eff 167.9deg,#2f63f8 168.7deg,#3755ee 173.9deg,#4242e2 178.4deg,#4141d5 187.2deg,#4141d5 259.2deg,#4141d5 360deg)"></i><i style="left:99px;top:99px;width:192px;height:192px;background:conic-gradient(from -59.4deg,#4141d5 0deg,#4242e2 4.4deg,#3755ee 6.7deg,#2f62f7 11.7deg,#286eff 12.5deg,#2184ff 12.8deg,#00f4ff 13.7deg,#00f5fd 13.7deg,#00ffe8 14.5deg,#00fad3 15deg,#00f0a5 15.5deg,#00c944 16.3deg,#00be2a 18.4deg,#00ed9e 22.3deg,#00f0a5 22.4deg,#00ffe8 24.6deg,#00f8f6 25.4deg,#00f4ff 26.4deg,#0dc7ff 28.5deg,#286eff 32.5deg,#2a6bfd 33.2deg,#3755ee 41.4deg,#4242e2 45.7deg,#4141d5 53.9deg,#4141d5 133.2deg,#4242e2 142.3deg,#3755ee 147deg,#325ef4 152.9deg,#286eff 153.8deg,#03ebff 155.5deg,#00f4ff 155.7deg,#00ffe8 157deg,#00f7c6 158.2deg,#00f7c6 161.4deg,#00ffe8 162.5deg,#00f4ff 163.8deg,#03ebff 164deg,#286eff 166.4deg,#2f63f8 167.2deg,#3755ee 172.5deg,#4242e2 177.2deg,#4141d5 186.3deg,#4141d5 259deg,#4141d5 360deg)"></i><i style="left:102px;top:102px;width:186px;height:186px;background:conic-gradient(from -60.5deg,#4141d5 0deg,#4242e2 4.3deg,#3755ee 6.6deg,#2f62f7 11.4deg,#286eff 12.2deg,#2184ff 12.5deg,#00f4ff 13.4deg,#00f5fd 13.4deg,#00ffe8 14.2deg,#00fad3 14.7deg,#00f0a5 15.1deg,#00c945 15.9deg,#00be2b 18deg,#00ed9f 21.8deg,#00f0a5 21.9deg,#00ffe8 24deg,#00f8f6 24.8deg,#00f4ff 25.8deg,#0dc7ff 27.8deg,#286eff 31.8deg,#2a6bfd 32.4deg,#3755ee 40.5deg,#4242e2 44.6deg,#4141d5 52.6deg,#4141d5 130.7deg,#4242e2 140.1deg,#3755ee 144.9deg,#325ef4 151deg,#286eff 151.9deg,#03ebff 153.7deg,#00f4ff 154deg,#00ffe8 155.6deg,#00fad3 156.4deg,#00fad3 159.7deg,#00ffe8 160.6deg,#00f4ff 162.2deg,#03ebff 162.5deg,#286eff 164.9deg,#2f63f8 165.7deg,#3755ee 171.2deg,#4242e2 176.1deg,#4141d5 185.4deg,#4141d5 258.8deg,#4141d5 360deg)"></i><i style="left:105px;top:105px;width:180px;height:180px;background:conic-gradient(from -62deg,#4141d5 0deg,#4242e2 4.3deg,#3755ee 6.6deg,#2f62f7 11.4deg,#286eff 12.2deg,#2184ff 12.6deg,#00f4ff 13.4deg,#00f5fd 13.4deg,#00ffe8 14.2deg,#00fad3 14.7deg,#00f0a5 15.2deg,#00c945 15.9deg,#00bf2c 18deg,#00ee9f 21.8deg,#00f0a5 21.9deg,#00ffe8 24deg,#00f8f6 24.8deg,#00f4ff 25.8deg,#0dc7ff 27.8deg,#286eff 31.8deg,#2a6bfd 32.4deg,#3755ee 40.5deg,#4242e2 44.6deg,#4141d5 52.6deg,#4141d5 129.2deg,#4242e2 138.9deg,#3755ee 143.9deg,#325ef4 150.1deg,#286eff 151deg,#03ebff 152.9deg,#00f4ff 153.2deg,#00ffe8 155.3deg,#00fde1 155.7deg,#00fde1 159.1deg,#00ffe8 159.4deg,#00f4ff 161.6deg,#03ebff 161.9deg,#286eff 164.4deg,#2f63f8 165.3deg,#3755ee 170.9deg,#4242e2 175.9deg,#4141d5 185.6deg,#4141d5 259.1deg,#4141d5 360deg)"></i><i style="left:108px;top:108px;width:174px;height:174px;background:conic-gradient(from -64deg,#4141d5 0deg,#4242e2 4.5deg,#3755ee 6.7deg,#2f62f7 11.7deg,#286eff 12.5deg,#2184ff 12.9deg,#00f4ff 13.7deg,#00f5fd 13.7deg,#00ffe8 14.6deg,#00fad3 15deg,#00f0a5 15.5deg,#00c946 16.3deg,#00bf2c 18.4deg,#00ee9f 22.3deg,#00f0a5 22.5deg,#00ffe8 24.6deg,#00f8f6 25.4deg,#00f4ff 26.5deg,#0dc7ff 28.5deg,#286eff 32.6deg,#2a6bfd 33.2deg,#3755ee 41.5deg,#4242e2 45.7deg,#4141d5 54deg,#4141d5 128.1deg,#4242e2 138.1deg,#3755ee 143.2deg,#325ef4 149.6deg,#286eff 150.6deg,#03ebff 152.5deg,#00f4ff 152.9deg,#00fdec 155.4deg,#00fdec 158.9deg,#00f4ff 161.3deg,#03ebff 161.8deg,#286eff 164.3deg,#2f63f8 165.3deg,#3755ee 171.1deg,#4242e2 176.2deg,#4141d5 186.2deg,#4141d5 259.8deg,#4141d5 360deg)"></i><i style="left:111px;top:111px;width:168px;height:168px;background:conic-gradient(from -66deg,#4141d5 0deg,#4242e2 4.6deg,#3755ee 6.9deg,#2f62f7 12deg,#286eff 12.8deg,#2184ff 13.2deg,#00f4ff 14deg,#00f5fd 14.1deg,#00ffe8 14.9deg,#00fad3 15.4deg,#00f0a5 15.9deg,#00c946 16.7deg,#00bf2d 18.9deg,#00eea0 22.8deg,#00f0a5 23deg,#00ffe8 25.2deg,#00f8f6 26deg,#00f4ff 27.1deg,#0dc7ff 29.2deg,#286eff 33.4deg,#2a6bfd 34deg,#3755ee 42.5deg,#4242e2 46.8deg,#4141d5 55.2deg,#4141d5 127deg,#4242e2 137.2deg,#3755ee 142.5deg,#325ef4 149.1deg,#286eff 150.1deg,#03ebff 152.1deg,#00f4ff 152.6deg,#00fcee 155.1deg,#00fcee 158.6deg,#00f4ff 161.1deg,#03ebff 161.6deg,#286eff 164.3deg,#2f63f8 165.2deg,#3755ee 171.2deg,#4242e2 176.5deg,#4141d5 186.7deg,#4141d5 260.5deg,#4141d5 360deg)"></i><i style="left:114px;top:114px;width:162px;height:162px;background:conic-gradient(from -68deg,#4141d5 0deg,#4242e2 4.7deg,#3755ee 7.1deg,#2f62f7 12.2deg,#286eff 13.1deg,#2184ff 13.5deg,#00f4ff 14.4deg,#00f5fd 14.4deg,#00ffe8 15.3deg,#00fad3 15.8deg,#00f0a5 16.3deg,#00ca47 17.1deg,#00bf2d 19.3deg,#00eea0 23.4deg,#00f0a5 23.5deg,#00ffe8 25.8deg,#00f8f6 26.6deg,#00f4ff 27.7deg,#0dc7ff 29.9deg,#286eff 34.2deg,#2a6bfd 34.8deg,#3755ee 43.5deg,#4242e2 47.9deg,#4141d5 56.5deg,#4141d5 125.3deg,#4242e2 136deg,#3755ee 141.5deg,#325ef4 148.4deg,#286eff 149.5deg,#03ebff 151.6deg,#00f4ff 152.1deg,#00fcef 154.7deg,#00fcef 158.5deg,#00f4ff 161deg,#03ebff 161.6deg,#286eff 164.4deg,#2f63f8 165.4deg,#3755ee 171.6deg,#4242e2 177.2deg,#4141d5 187.9deg,#4141d5 261.3deg,#4141d5 360deg)"></i><i style="left:117px;top:117px;width:156px;height:156px;background:conic-gradient(from -70deg,#4141d5 0deg,#4242e2 4.8deg,#3755ee 7.2deg,#2f62f7 12.5deg,#286eff 13.4deg,#2184ff 13.8deg,#00f4ff 14.7deg,#00f5fd 14.7deg,#00ffe8 15.6deg,#00fad3 16.1deg,#00f0a5 16.7deg,#00ca47 17.5deg,#00c02e 19.7deg,#00eea0 23.9deg,#00f0a5 24deg,#00ffe8 26.4deg,#00f8f6 27.3deg,#00f4ff 28.4deg,#0dc7ff 30.6deg,#286eff 34.9deg,#2a6bfd 35.6deg,#3755ee 44.5deg,#4242e2 49deg,#4141d5 57.9deg,#4141d5 123.4deg,#4242e2 134.7deg,#3755ee 140.5deg,#325ef4 147.8deg,#286eff 148.9deg,#03ebff 151.1deg,#00f4ff 151.7deg,#00fbf0 154.4deg,#00fbf0 158.3deg,#00f4ff 161deg,#03ebff 161.6deg,#286eff 164.5deg,#2f63f8 165.6deg,#3755ee 172.1deg,#4242e2 178deg,#4141d5 189.3deg,#4141d5 262deg,#4141d5 360deg)"></i><i style="left:120px;top:120px;width:150px;height:150px;background:conic-gradient(from -71.9deg,#4141d5 0deg,#4242e2 4.9deg,#3755ee 7.4deg,#2f62f7 12.8deg,#286eff 13.7deg,#2184ff 14.1deg,#00f4ff 15deg,#00f5fd 15.1deg,#00ffe8 16deg,#00fad3 16.5deg,#00f0a5 17deg,#00ca48 17.9deg,#00c02f 20.2deg,#00eea1 24.5deg,#00f0a5 24.6deg,#00ffe8 27deg,#00f8f6 27.9deg,#00f4ff 29deg,#0dc7ff 31.3deg,#286eff 35.7deg,#2a6bfd 36.4deg,#3755ee 45.5deg,#4242e2 50.1deg,#4141d5 59.1deg,#4141d5 121.5deg,#4242e2 133.4deg,#3755ee 139.5deg,#325ef4 147.1deg,#286eff 148.3deg,#03ebff 150.5deg,#00f4ff 151.2deg,#00fbf1 154deg,#00fbf1 158.1deg,#00f4ff 160.9deg,#03ebff 161.6deg,#286eff 164.6deg,#2f63f8 165.7deg,#3755ee 172.6deg,#4242e2 178.8deg,#4141d5 190.6deg,#4141d5 262.7deg,#4141d5 360deg)"></i><i style="left:123px;top:123px;width:144px;height:144px;background:conic-gradient(from -73.9deg,#4141d5 0deg,#4242e2 5deg,#3755ee 7.6deg,#2f62f7 13.1deg,#286eff 14deg,#2184ff 14.4deg,#00f4ff 15.4deg,#00f5fd 15.4deg,#00ffe8 16.3deg,#00fad3 16.9deg,#00f0a5 17.4deg,#00ca48 18.3deg,#00c02f 20.6deg,#00eea1 25deg,#00f0a5 25.1deg,#00ffe8 27.6deg,#00f8f6 28.5deg,#00f4ff 29.6deg,#0dc7ff 32deg,#286eff 36.5deg,#2a6bfd 37.2deg,#3755ee 46.5deg,#4242e2 51.2deg,#4141d5 60.5deg,#4141d5 119.6deg,#4242e2 132deg,#3755ee 138.4deg,#325ef4 146.4deg,#286eff 147.7deg,#03ebff 150deg,#00f4ff 150.8deg,#00faf2 153.6deg,#00faf2 158deg,#00f4ff 160.8deg,#03ebff 161.6deg,#286eff 164.8deg,#2f63f8 165.9deg,#3755ee 173.2deg,#4242e2 179.5deg,#4141d5 192deg,#4141d5 263.4deg,#4141d5 360deg)"></i><i style="left:126px;top:126px;width:138px;height:138px;background:conic-gradient(from -75.9deg,#4141d5 0deg,#4242e2 5.1deg,#3755ee 7.7deg,#2f62f7 13.4deg,#286eff 14.3deg,#2184ff 14.7deg,#00f4ff 15.7deg,#00f5fd 15.7deg,#00ffe8 16.7deg,#00fad3 17.2deg,#00f0a5 17.8deg,#00cb49 18.7deg,#00c030 21.1deg,#00eea1 25.5deg,#00f0a5 25.6deg,#00ffe8 28.2deg,#00f8f6 29.1deg,#00f4ff 30.3deg,#0dc7ff 32.7deg,#286eff 37.3deg,#2a6bfd 38deg,#3755ee 47.5deg,#4242e2 52.3deg,#4141d5 61.8deg,#4141d5 118deg,#4242e2 131deg,#3755ee 137.7deg,#325ef4 146deg,#286eff 147.4deg,#03ebff 149.8deg,#00f4ff 150.7deg,#00faf3 153.6deg,#00faf3 158.2deg,#00f4ff 161.1deg,#03ebff 161.9deg,#286eff 165.3deg,#2f63f8 166.5deg,#3755ee 174.1deg,#4242e2 180.8deg,#4141d5 193.7deg,#4141d5 264.1deg,#4141d5 360deg)"></i><i style="left:129px;top:129px;width:132px;height:132px;background:conic-gradient(from -78.3deg,#4141d5 0deg,#4242e2 5.3deg,#3755ee 8deg,#2f62f7 13.8deg,#286eff 14.8deg,#2184ff 15.2deg,#00f4ff 16.2deg,#00f5fd 16.3deg,#00ffe8 17.3deg,#00fad3 17.8deg,#00f0a5 18.4deg,#00cb4a 19.4deg,#00c030 21.8deg,#00efa2 26.4deg,#00f0a5 26.5deg,#00ffe8 29.2deg,#00f8f6 30.1deg,#00f4ff 31.3deg,#0dc7ff 33.8deg,#286eff 38.6deg,#2a6bfd 39.3deg,#3755ee 49.2deg,#4242e2 54.2deg,#4141d5 63.9deg,#4141d5 116.5deg,#4242e2 130.2deg,#3755ee 137.3deg,#325ef4 146.1deg,#286eff 147.5deg,#03ebff 150.1deg,#00f4ff 151deg,#00f9f4 154.1deg,#00f9f4 158.9deg,#00f4ff 161.9deg,#03ebff 162.9deg,#286eff 166.4deg,#2f63f8 167.7deg,#3755ee 175.7deg,#4242e2 182.7deg,#4141d5 196.5deg,#4141d5 265.3deg,#4141d5 360deg)"></i><i style="left:132px;top:132px;width:126px;height:126px;background:conic-gradient(from -81.1deg,#4141d5 0deg,#4242e2 5.5deg,#3755ee 8.4deg,#2f62f7 14.5deg,#286eff 15.5deg,#2184ff 16deg,#00f4ff 17deg,#00f5fd 17deg,#00ffe8 18.1deg,#00fad3 18.7deg,#00f0a5 19.3deg,#00cb4a 20.3deg,#00c131 22.8deg,#00efa2 27.7deg,#00f0a5 27.8deg,#00ffe8 30.5deg,#00f8f6 31.5deg,#00f4ff 32.8deg,#0dc7ff 35.4deg,#286eff 40.4deg,#2a6bfd 41.2deg,#3755ee 51.5deg,#4242e2 56.7deg,#4141d5 66.9deg,#4141d5 115.3deg,#4242e2 129.8deg,#3755ee 137.2deg,#325ef4 146.5deg,#286eff 148deg,#03ebff 150.7deg,#00f4ff 151.8deg,#00f9f5 154.9deg,#00f9f5 160deg,#00f4ff 163.1deg,#03ebff 164.2deg,#286eff 167.9deg,#2f63f8 169.3deg,#3755ee 177.7deg,#4242e2 185.1deg,#4141d5 199.6deg,#4141d5 266.8deg,#4141d5 360deg)"></i><i style="left:135px;top:135px;width:120px;height:120px;background:conic-gradient(from -84deg,#4141d5 0deg,#4242e2 5.8deg,#3755ee 8.7deg,#2f62f7 15.1deg,#286eff 16.2deg,#2184ff 16.7deg,#00f4ff 17.8deg,#00f5fd 17.8deg,#00ffe8 18.9deg,#00fad3 19.5deg,#00f0a5 20.2deg,#00ce52 21.2deg,#00c43a 23.9deg,#00f0a5 28.8deg,#00f0a6 28.9deg,#00ffe8 31.8deg,#00f8f6 32.9deg,#00f4ff 34.3deg,#0dc7ff 37deg,#286eff 42.2deg,#2a6bfd 43deg,#3755ee 53.8deg,#4242e2 59.3deg,#4141d5 69.9deg,#4141d5 114.2deg,#4242e2 129.4deg,#3755ee 137.2deg,#325ef4 147deg,#286eff 148.5deg,#03ebff 151.4deg,#00f4ff 152.6deg,#00f9f6 155.8deg,#00f9f6 161.1deg,#00f4ff 164.3deg,#03ebff 165.6deg,#286eff 169.5deg,#2f63f8 170.9deg,#3755ee 179.7deg,#4242e2 187.6deg,#4141d5 202.8deg,#4141d5 268.4deg,#4141d5 360deg)"></i><i style="left:138px;top:138px;width:114px;height:114px;background:conic-gradient(from -86.8deg,#4141d6 0deg,#4242e2 5.9deg,#3755ee 9.1deg,#2f62f7 15.8deg,#286eff 16.9deg,#2184ff 17.4deg,#00f4ff 18.5deg,#00f5fd 18.6deg,#00ffe8 19.7deg,#00fad3 20.3deg,#00f0a5 21.1deg,#00d562 22.1deg,#00cb4b 24.9deg,#00f0a5 29.5deg,#00f2ae 30.1deg,#00ffe8 33.1deg,#00f8f6 34.3deg,#00f4ff 35.7deg,#0dc7ff 38.6deg,#286eff 44deg,#2a6bfd 44.9deg,#3755ee 56.1deg,#4242e2 62deg,#4141d6 72.9deg,#4141d6 113deg,#4242e2 128.7deg,#3755ee 137.2deg,#325ef4 147.4deg,#286eff 149deg,#03ebff 152deg,#00f4ff 153.4deg,#00f8f7 156.7deg,#00f8f7 162.3deg,#00f4ff 165.5deg,#03ebff 166.9deg,#286eff 171deg,#2f63f8 172.5deg,#3755ee 181.8deg,#4242e2 190.3deg,#4141d6 205.9deg,#4141d6 269.9deg,#4141d6 360deg)"></i><i style="left:141px;top:141px;width:108px;height:108px;background:conic-gradient(from -89.6deg,#4141d7 0deg,#4242e2 5.9deg,#3755ee 9.5deg,#2f62f7 16.4deg,#286eff 17.6deg,#2184ff 18.1deg,#00f4ff 19.3deg,#00f5fd 19.3deg,#00ffe8 20.5deg,#00fad3 21.2deg,#00f0a5 22.1deg,#00db71 23deg,#00d35d 25.9deg,#00f0a5 30.2deg,#00f4b6 31.4deg,#00ffe8 34.3deg,#00f8f6 35.8deg,#00f4ff 37.2deg,#0dc7ff 40.1deg,#286eff 45.9deg,#2a6bfd 46.7deg,#3755ee 58.4deg,#4242e2 65.1deg,#4141d7 75.9deg,#4141d7 111.9deg,#4242e2 127.5deg,#3755ee 137.2deg,#325ef4 147.8deg,#286eff 149.5deg,#03ebff 152.7deg,#00f4ff 154.2deg,#00f8f7 157.6deg,#00f8f7 163.4deg,#00f4ff 166.7deg,#03ebff 168.2deg,#286eff 172.5deg,#2f63f8 174.1deg,#3755ee 183.8deg,#4242e2 193.5deg,#4141d7 209deg,#4141d7 271.5deg,#4141d7 360deg)"></i><i style="left:144px;top:144px;width:102px;height:102px;background:conic-gradient(from -92.4deg,#4141d9 0deg,#4242e2 5.7deg,#3755ee 9.9deg,#2f62f7 17.1deg,#286eff 18.3deg,#2184ff 18.8deg,#00f4ff 20.1deg,#00f5fd 20.1deg,#00ffe8 21.3deg,#00fad3 22deg,#00f0a5 23.2deg,#00e181 23.9deg,#00da6e 26.9deg,#00f0a5 30.6deg,#00f5bd 32.6deg,#00ffe8 35.5deg,#00f8f6 37.2deg,#00f4ff 38.7deg,#0dc7ff 41.7deg,#286eff 47.7deg,#2a6bfd 48.6deg,#3755ee 60.7deg,#4242e2 68.3deg,#4141d9 78.9deg,#4141d9 110.8deg,#4242e2 126.1deg,#3755ee 137.1deg,#325ef4 148.3deg,#286eff 150.1deg,#03ebff 153.4deg,#00f4ff 155.1deg,#00f7f8 158.4deg,#00f7f8 164.5deg,#00f4ff 167.8deg,#03ebff 169.6deg,#286eff 174.1deg,#2f63f8 175.7deg,#3755ee 185.8deg,#4242e2 196.8deg,#4141d9 212.2deg,#4141d9 273deg,#4141d9 360deg)"></i><i style="left:147px;top:147px;width:96px;height:96px;background:conic-gradient(from -95.3deg,#4141da 0deg,#4242e2 5.5deg,#3755ee 10.2deg,#2f62f7 17.7deg,#286eff 19deg,#2184ff 19.5deg,#00f4ff 20.8deg,#00f5fd 20.9deg,#00ffe8 22.1deg,#00fad3 22.8deg,#00f0a5 24.3deg,#00e891 24.8deg,#00e17f 28deg,#00f0a5 30.8deg,#00f7c5 33.9deg,#00ffe8 36.7deg,#00f8f6 38.6deg,#00f4ff 40.2deg,#0dc7ff 43.3deg,#286eff 49.5deg,#2a6bfd 50.4deg,#3755ee 63deg,#4242e2 71.7deg,#4141da 81.9deg,#4141da 109.3deg,#4242e2 124.3deg,#3755ee 137deg,#325ef4 148.7deg,#286eff 150.6deg,#03ebff 154.1deg,#00f4ff 156.1deg,#00f7f9 159.4deg,#00f7f9 165.8deg,#00f4ff 169deg,#03ebff 171.1deg,#286eff 175.8deg,#2f63f8 177.5deg,#3755ee 188.1deg,#4242e2 200.9deg,#4141da 215.8deg,#4141da 274.6deg,#4141da 360deg)"></i><i style="left:150px;top:150px;width:90px;height:90px;background:conic-gradient(from -98.1deg,#4141dc 0deg,#4242e2 5.2deg,#3755ee 10.6deg,#2f62f7 18.4deg,#286eff 19.7deg,#2184ff 20.2deg,#00f4ff 21.6deg,#00f5fd 21.6deg,#00ffe8 22.9deg,#00fad3 23.7deg,#00f0a5 25.6deg,#00eea0 25.7deg,#00e891 29deg,#00f0a5 30.8deg,#00f9cc 35.1deg,#00ffe8 37.7deg,#00f8f6 40deg,#00f4ff 41.6deg,#0dc7ff 44.9deg,#286eff 51.3deg,#2a6bfd 52.2deg,#3755ee 65.3deg,#4242e2 75.3deg,#4141dc 84.9deg,#4141dc 106.5deg,#4242e2 121.1deg,#3755ee 136.5deg,#325ef4 149.2deg,#286eff 151.2deg,#03ebff 154.9deg,#00f4ff 157.4deg,#00f6fa 160.7deg,#00f6fa 167.6deg,#00f4ff 170.9deg,#03ebff 173.4deg,#286eff 178.5deg,#2f63f8 180.3deg,#3755ee 191.8deg,#4242e2 207.2deg,#4141dc 221.8deg,#4141dc 276.2deg,#4141dc 360deg)"></i><i style="left:153px;top:153px;width:84px;height:84px;background:conic-gradient(from -100.9deg,#4141dd 0deg,#4242e2 4.6deg,#3755ee 11deg,#2f62f7 19deg,#286eff 20.4deg,#2184ff 21deg,#00f4ff 22.3deg,#00f5fd 22.4deg,#00ffe8 23.7deg,#00fad3 24.5deg,#00f2ae 26.6deg,#00f0a5 29.3deg,#00efa2 30deg,#00f0a5 30.3deg,#00fad4 36.3deg,#00ffe8 38.6deg,#00f8f6 41.4deg,#00f4ff 43.1deg,#0dc7ff 46.5deg,#286eff 53.1deg,#2a6bfd 54.1deg,#3755ee 67.6deg,#4242e2 79.3deg,#4141dd 87.9deg,#4141dd 103.7deg,#4242e2 117.3deg,#3755ee 135.9deg,#325ef4 149.6deg,#286eff 151.8deg,#03ebff 155.8deg,#00f4ff 158.8deg,#00f6fb 162deg,#00f6fb 169.5deg,#00f4ff 172.7deg,#03ebff 175.7deg,#286eff 181.2deg,#2f63f8 183.1deg,#3755ee 195.6deg,#4242e2 214.2deg,#4141dd 227.9deg,#4141dd 277.7deg,#4141dd 360deg)"></i><i style="left:156px;top:156px;width:78px;height:78px;background:conic-gradient(from -105deg,#4242df 0deg,#4242e2 3.9deg,#3755ee 11.6deg,#2f62f7 20.1deg,#286eff 21.5deg,#2184ff 22.2deg,#00f4ff 23.6deg,#00f5fd 23.7deg,#00ffe8 25.1deg,#00fad3 25.9deg,#00f5bc 28.2deg,#00f3b2 31.7deg,#00fcdc 38.4deg,#00ffe8 40.2deg,#00f8f6 43.8deg,#00f4ff 45.6deg,#0dc7ff 49.2deg,#286eff 56.2deg,#2a6bfd 57.2deg,#3755ee 71.5deg,#4242e2 85.7deg,#4242df 93deg,#4242df 102.1deg,#4242e2 113.8deg,#3755ee 136.7deg,#325ef4 151.3deg,#286eff 153.6deg,#03ebff 158deg,#00f4ff 161.6deg,#00f5fc 164.6deg,#00f5fc 172.6deg,#00f4ff 175.6deg,#03ebff 179.2deg,#286eff 185.1deg,#2f63f8 187.2deg,#3755ee 200.5deg,#4242e2 223.4deg,#4242df 235.1deg,#4242df 280.5deg,#4242df 360deg)"></i><i style="left:159px;top:159px;width:72px;height:72px;background:conic-gradient(from -109.3deg,#4242e0 0deg,#4242e2 2.8deg,#3755ee 12.3deg,#2f62f7 21.3deg,#286eff 22.8deg,#2184ff 23.5deg,#00f4ff 25deg,#00f5fd 25.1deg,#00ffe8 26.6deg,#00fad3 27.4deg,#00f8ca 29.8deg,#00f7c2 33.6deg,#00fee5 40.7deg,#00ffe8 41.3deg,#00f8f6 46.4deg,#00f4ff 48.3deg,#0dc7ff 52deg,#286eff 59.4deg,#2a6bfd 60.6deg,#3755ee 75.7deg,#4242e2 93.2deg,#4242e0 98.4deg,#4242e0 100.7deg,#4242e2 109.1deg,#3755ee 137.6deg,#325ef4 153.2deg,#286eff 155.7deg,#03ebff 160.3deg,#00f4ff 164.9deg,#00f5fd 167.4deg,#00f5fd 176deg,#00f4ff 178.5deg,#03ebff 183.1deg,#286eff 189.3deg,#2f63f8 191.6deg,#3755ee 205.8deg,#4242e2 234.3deg,#4242e0 242.7deg,#4242e0 283.6deg,#4242e0 360deg)"></i><i style="left:162px;top:162px;width:66px;height:66px;background:conic-gradient(from -113.7deg,#4242e1 0deg,#4242e2 0.9deg,#3755ee 13deg,#2f62f7 22.5deg,#286eff 24.1deg,#2184ff 24.8deg,#00f4ff 26.4deg,#00f5fd 26.5deg,#00ffe8 28deg,#00fad3 29deg,#00fcd8 31.5deg,#00fad2 35.5deg,#00ffe8 41.3deg,#00fdeb 42.9deg,#00f8f6 48.9deg,#00f4ff 50.9deg,#0dc7ff 54.9deg,#286eff 62.7deg,#2a6bfd 63.9deg,#3755ee 79.9deg,#4242e2 102.2deg,#4242e1 103.9deg,#4242e1 104.2deg,#4242e2 106.6deg,#3755ee 138.6deg,#325ef4 155.2deg,#286eff 157.8deg,#03ebff 162.7deg,#00f4ff 168.6deg,#00f4fe 170.3deg,#00f4fe 179.3deg,#00f4ff 181deg,#03ebff 186.9deg,#286eff 193.5deg,#2f63f8 195.9deg,#3755ee 211deg,#4242e2 247.5deg,#4242e1 250.2deg,#4242e1 286.7deg,#4242e1 360deg)"></i><i style="left:165px;top:165px;width:60px;height:60px;background:conic-gradient(from -118deg,#4045e4 0deg,#3755ee 13.7deg,#2f62f7 23.7deg,#286eff 25.3deg,#2184ff 26.1deg,#00f4ff 27.8deg,#00f5fd 27.9deg,#00ffe8 30.1deg,#00fee2 30.5deg,#00ffe7 33.1deg,#00fee2 37.3deg,#00ffe8 39.5deg,#00fbf1 45.2deg,#00f8f6 51.5deg,#00f4ff 53.6deg,#0dc7ff 57.8deg,#286eff 66deg,#2a6bfd 67.3deg,#3755ee 84.1deg,#4045e4 109.3deg,#4045e4 109.6deg,#3755ee 139.7deg,#325ef4 157.3deg,#286eff 160deg,#03ebff 165.2deg,#00f4ff 173.1deg,#00f4ff 173.2deg,#00f4ff 182.8deg,#00f4ff 182.9deg,#03ebff 190.8deg,#286eff 197.8deg,#2f63f8 200.4deg,#3755ee 216.3deg,#4045e4 257.8deg,#4045e4 289.7deg,#4045e4 360deg)"></i><i style="left:168px;top:168px;width:54px;height:54px;background:conic-gradient(from -122.4deg,#3e49e6 0deg,#3755ee 14.3deg,#2f62f7 24.8deg,#286eff 26.6deg,#2184ff 27.4deg,#00f4ff 29.2deg,#00f5fd 29.2deg,#00fcee 32deg,#00fbf0 34.8deg,#00fcee 39.2deg,#00f8f6 47.5deg,#00f8f6 54.1deg,#00f4ff 56.3deg,#0dc7ff 60.7deg,#286eff 69.3deg,#2a6bfd 70.6deg,#3755ee 88.3deg,#3e49e6 114.8deg,#3e49e6 115.1deg,#3755ee 140.9deg,#325ef4 159.4deg,#286eff 162.4deg,#03ebff 167.9deg,#01f2ff 176.3deg,#01f2ff 186.4deg,#03ebff 194.8deg,#286eff 202.3deg,#2f63f8 204.9deg,#3755ee 221.8deg,#3e49e6 265.6deg,#3e49e6 292.8deg,#3e49e6 360deg)"></i><i style="left:171px;top:171px;width:48px;height:48px;background:conic-gradient(from -126.7deg,#3c4de9 0deg,#3755ee 15deg,#2f62f7 26deg,#286eff 27.8deg,#2184ff 28.7deg,#00f4ff 30.6deg,#00f5fd 30.6deg,#00f8f7 33.5deg,#00f7f8 36.4deg,#00f8f7 41deg,#00f6fb 49.7deg,#00f8f6 56.7deg,#00f4ff 59deg,#0dc7ff 63.6deg,#286eff 72.6deg,#2a6bfd 74deg,#3755ee 92.5deg,#3c4de9 120.2deg,#3c4de9 120.5deg,#3755ee 143.2deg,#325ef4 162.2deg,#286eff 165.2deg,#03ebff 170.8deg,#01efff 179.5deg,#01efff 189.9deg,#03ebff 198.5deg,#286eff 206.2deg,#2f63f8 208.9deg,#3755ee 226.2deg,#3c4de9 271.2deg,#3c4de9 295.9deg,#3c4de9 360deg)"></i><i style="left:174px;top:174px;width:42px;height:42px;background:conic-gradient(from -130.8deg,#3951ec 0deg,#3755ee 15.7deg,#2f62f7 27.1deg,#286eff 29deg,#2184ff 29.9deg,#00f4ff 31.9deg,#00f5fd 31.9deg,#00f4ff 34.1deg,#00f2ff 34.9deg,#00f2ff 38deg,#00f2ff 42.8deg,#00f3ff 51.8deg,#00f4ff 52.1deg,#00f8f6 59deg,#00f4ff 61.5deg,#0dc7ff 66.3deg,#286eff 75.7deg,#2a6bfd 77.1deg,#3755ee 96.4deg,#3951ec 125.3deg,#3951ec 125.6deg,#3755ee 145.5deg,#325ef4 164.9deg,#286eff 168deg,#03ebff 173.7deg,#02edff 182.5deg,#02edff 193.1deg,#03ebff 202deg,#286eff 209.8deg,#2f63f8 212.6deg,#3755ee 230.2deg,#3951ec 276.1deg,#3951ec 298.7deg,#3951ec 360deg)"></i><i style="left:177px;top:177px;width:36px;height:36px;background:conic-gradient(from -134.1deg,#3755ef 0deg,#3755ef 16.1deg,#2f62f7 27.8deg,#286eff 29.7deg,#2184ff 30.6deg,#00f4ff 32.6deg,#00f5fd 32.7deg,#00f4ff 33.6deg,#04e8ff 35.8deg,#03e9ff 38.9deg,#04e8ff 43.8deg,#02eeff 53.1deg,#00f4ff 54.8deg,#00f8f6 60.5deg,#00f4ff 63deg,#0dc7ff 67.9deg,#286eff 77.6deg,#2a6bfd 79deg,#3755ef 98.8deg,#3755ef 128.4deg,#3755ef 128.7deg,#3755ef 146.9deg,#325ef4 166.7deg,#286eff 169.8deg,#03ebff 175.7deg,#03ebff 184.7deg,#03ebff 195.5deg,#03ebff 204.5deg,#286eff 212.5deg,#2f63f8 215.3deg,#3755ef 233.4deg,#3755ef 280.2deg,#3755ef 300.7deg,#3755ef 360deg)"></i><i style="left:180px;top:180px;width:30px;height:30px;background:conic-gradient(from -137.4deg,#3459f1 0deg,#3459f1 16.4deg,#2f62f7 28.5deg,#286eff 30.5deg,#2184ff 31.4deg,#00f4ff 33.4deg,#00f5fd 33.5deg,#00f4ff 34.1deg,#07deff 36.7deg,#06e0ff 39.8deg,#07deff 44.9deg,#04e8ff 54.4deg,#00f4ff 57deg,#00f8f6 62deg,#00f4ff 64.5deg,#0dc7ff 69.6deg,#286eff 79.5deg,#2a6bfd 81deg,#3459f1 101.2deg,#3459f1 131.6deg,#3459f1 131.9deg,#3459f1 148.3deg,#325ef4 168.5deg,#286eff 171.7deg,#03e8ff 177.7deg,#03e8ff 186.9deg,#03e8ff 197.9deg,#03e8ff 207.1deg,#286eff 215.2deg,#2f63f8 218.1deg,#3459f1 236.5deg,#3459f1 284.3deg,#3459f1 302.8deg,#3459f1 360deg)"></i><i style="left:183px;top:183px;width:24px;height:24px;background:conic-gradient(from -140.7deg,#335bf3 0deg,#335bf3 16.8deg,#2f62f7 29.1deg,#286eff 31.2deg,#2184ff 32.1deg,#00f4ff 34.2deg,#00f5fd 34.3deg,#00f4ff 34.7deg,#0ad4ff 37.6deg,#09d7ff 40.8deg,#0ad4ff 46deg,#05e2ff 55.7deg,#00f4ff 59.1deg,#00f8f6 63.5deg,#00f4ff 66deg,#0dc7ff 71.2deg,#286eff 81.4deg,#2a6bfd 82.9deg,#335bf3 103.6deg,#335bf3 134.7deg,#335bf3 135deg,#335bf3 149.7deg,#325ef4 170.3deg,#286eff 173.7deg,#04e6ff 179.7deg,#04e6ff 189deg,#04e6ff 200.3deg,#04e6ff 209.6deg,#286eff 217.8deg,#2f63f8 220.9deg,#335bf3 239.6deg,#335bf3 288.4deg,#335bf3 304.8deg,#335bf3 360deg)"></i><i style="left:186px;top:186px;width:18px;height:18px;background:conic-gradient(from -143.9deg,#335bf3 0deg,#335bf3 17.2deg,#2f62f7 29.8deg,#286eff 31.9deg,#2184ff 32.9deg,#00f4ff 35deg,#00f5fd 35.1deg,#00f4ff 35.4deg,#0ccaff 38.4deg,#0bceff 41.7deg,#0ccaff 47deg,#07ddff 57deg,#00f4ff 61deg,#00f8f6 64.9deg,#00f4ff 67.6deg,#0dc7ff 72.9deg,#286eff 83.2deg,#2a6bfd 84.8deg,#335bf3 106deg,#335bf3 137.8deg,#335bf3 138.1deg,#335bf3 151.1deg,#325ef4 172.1deg,#286eff 175.6deg,#05e4ff 181.6deg,#05e4ff 191.2deg,#05e4ff 202.7deg,#05e4ff 212.2deg,#286eff 220.5deg,#2f63f8 223.7deg,#335bf3 242.8deg,#335bf3 292.4deg,#335bf3 306.8deg,#335bf3 360deg)"></i></div><svg width="374" height="374" viewBox="0 0 374 374"><path d="M191.2 220.7C193.6 214.1 194.4 205.8 198.4 201.4C202.4 197.0 207.5 194.2 215.3 194.2C223.1 194.2 236.4 196.6 245.4 201.4C254.4 206.2 263.4 215.0 269.4 223.0C275.4 231.0 280.5 242.0 281.5 249.6C282.5 257.2 280.5 264.0 275.5 268.8C270.5 273.6 261.4 276.1 251.4 278.5C241.4 280.9 225.3 283.3 215.3 283.3C205.3 283.3 196.8 281.7 191.2 278.5C185.6 275.3 182.8 270.2 181.6 264.0C180.4 257.8 182.4 248.2 184.0 241.0C185.6 233.8 188.8 227.3 191.2 220.7Z" fill="#3f3f9c" fill-opacity="0.95" filter="url(#b6)"/><path d="M262.0 279.0C264.2 278.6 271.2 276.7 275.5 276.5C279.8 276.3 284.5 278.9 287.5 278.0C290.5 277.1 292.7 272.9 293.5 271.0C294.3 269.1 291.5 269.2 292.3 266.4C293.1 263.6 297.3 258.6 298.3 254.4C299.3 250.2 298.7 245.2 298.3 241.0C297.9 236.8 297.0 233.0 296.0 229.0C295.0 225.0 292.9 219.0 292.3 217.0" fill="none" stroke="#00e0c0" stroke-width="10" stroke-linecap="round" stroke-linejoin="round" stroke-opacity="0.8" filter="url(#b2)"/><path d="M293.5 271.0C293.3 270.2 291.5 269.2 292.3 266.4C293.1 263.6 297.3 258.6 298.3 254.4C299.3 250.2 298.7 245.2 298.3 241.0C297.9 236.8 297.0 233.0 296.0 229.0C295.0 225.0 292.9 219.0 292.3 217.0" fill="none" stroke="#28d030" stroke-width="6.5" stroke-linecap="round" stroke-linejoin="round" filter="url(#b1)"/><path d="M292.3 266.4C293.3 264.4 297.3 258.6 298.3 254.4C299.3 250.2 298.3 243.2 298.3 241.0" fill="none" stroke="#d8ec00" stroke-width="3.2" stroke-linecap="round" stroke-linejoin="round" filter="url(#b1)"/><ellipse cx="292.5" cy="266.5" rx="6.5" ry="8.5" transform="rotate(10 292.5 266.5)" fill="#28d030" filter="url(#b2)"/><ellipse cx="292.5" cy="266.5" rx="5" ry="6.5" transform="rotate(10 292.5 266.5)" fill="#e8e800" filter="url(#b1)"/><ellipse cx="292.6" cy="266.8" rx="3" ry="4.2" transform="rotate(10 292.6 266.8)" fill="#ff8000" filter="url(#b1)"/><ellipse cx="292.6" cy="267.0" rx="1.3" ry="2" transform="rotate(10 292.6 267.0)" fill="#e02000" filter="url(#b1)"/><path d="M127.3 291.3C129.8 292.4 137.1 294.8 142.5 296.5C147.9 298.2 154.7 299.7 159.7 301.4C164.6 303.2 167.2 305.0 172.2 306.9C177.2 308.7 183.4 311.3 189.8 312.6C196.2 313.8 203.6 314.8 210.5 314.4C217.4 313.9 225.1 312.1 231.2 310.1C237.3 308.0 242.5 305.2 247.0 302.1C251.5 299.0 255.5 295.0 258.2 291.3C260.9 287.6 262.4 281.9 263.0 279.6C263.5 277.3 263.7 277.7 261.4 277.4C259.2 277.1 253.5 277.0 249.4 277.7C245.3 278.4 241.0 280.0 236.6 281.3C232.3 282.6 228.1 284.0 223.4 285.3C218.6 286.7 213.2 288.9 208.1 289.6C202.9 290.4 197.8 290.2 192.6 290.0C187.3 289.9 181.6 289.1 176.6 288.5C171.6 287.9 168.0 286.8 162.5 286.6C157.0 286.3 149.3 286.3 143.5 286.9C137.7 287.4 130.2 289.0 127.5 289.7C124.8 290.4 124.8 290.2 127.3 291.3Z" fill="#00e0b0" fill-opacity="0.8" filter="url(#b3)"/><path d="M127.4 291.1C129.9 292.0 137.2 293.9 142.6 295.3C148.1 296.7 155.0 298.0 160.0 299.5C165.1 301.0 167.7 302.8 172.8 304.5C177.8 306.2 183.9 308.5 190.2 309.6C196.4 310.7 203.5 311.6 210.2 311.2C216.9 310.7 224.3 308.8 230.2 306.9C236.1 304.9 241.2 302.3 245.6 299.4C250.1 296.5 254.2 292.9 257.1 289.5C259.9 286.2 262.0 281.3 262.8 279.3C263.5 277.3 263.7 277.7 261.6 277.7C259.6 277.7 254.5 278.4 250.5 279.5C246.6 280.5 242.3 282.5 238.0 284.0C233.6 285.5 229.3 287.1 224.4 288.5C219.5 290.0 213.7 292.1 208.4 292.8C203.0 293.6 197.6 293.3 192.2 293.0C186.8 292.6 181.1 291.6 176.0 290.9C171.0 290.2 167.6 289.0 162.2 288.5C156.7 288.0 149.2 287.9 143.4 288.1C137.6 288.4 130.1 289.4 127.4 289.9C124.8 290.4 124.8 290.2 127.4 291.1Z" fill="#28d428" filter="url(#b1)"/><path d="M127.4 291.0C129.9 291.8 137.2 293.4 142.7 294.6C148.2 295.9 155.2 297.1 160.2 298.5C165.3 300.0 168.0 301.7 173.0 303.3C178.1 304.9 184.2 307.1 190.4 308.1C196.5 309.2 203.5 310.0 210.0 309.5C216.6 309.0 223.9 307.1 229.7 305.2C235.5 303.3 240.5 300.8 244.9 298.0C249.4 295.3 253.5 291.8 256.5 288.6C259.4 285.5 261.8 281.0 262.7 279.2C263.6 277.4 263.6 277.6 261.7 277.8C259.8 278.0 255.0 279.1 251.1 280.4C247.3 281.6 243.0 283.7 238.7 285.4C234.3 287.0 229.9 288.7 224.9 290.2C219.9 291.7 214.0 293.8 208.6 294.5C203.1 295.2 197.5 294.9 192.0 294.5C186.6 294.1 180.8 293.0 175.8 292.1C170.7 291.3 167.4 290.0 162.0 289.5C156.6 288.9 149.1 288.7 143.3 288.8C137.6 288.9 130.1 289.6 127.4 290.0C124.8 290.4 124.8 290.2 127.4 291.0Z" fill="#e8f000" filter="url(#b1)"/><path d="M127.4 290.9C129.9 291.5 137.3 292.8 142.8 293.8C148.3 294.9 155.4 296.0 160.5 297.3C165.6 298.6 168.4 300.3 173.4 301.8C178.4 303.3 184.5 305.4 190.6 306.3C196.7 307.3 203.4 308.0 209.8 307.5C216.3 307.0 223.3 305.1 229.0 303.2C234.7 301.3 239.6 298.9 244.1 296.3C248.6 293.7 252.7 290.4 255.8 287.5C258.8 284.6 261.5 280.6 262.5 279.0C263.6 277.4 263.6 277.6 261.9 278.0C260.1 278.4 255.6 280.0 251.8 281.5C248.1 283.0 243.9 285.3 239.5 287.1C235.1 288.9 230.7 290.6 225.6 292.2C220.4 293.8 214.4 295.8 208.8 296.5C203.1 297.2 197.4 296.8 191.8 296.3C186.3 295.8 180.4 294.6 175.4 293.6C170.4 292.7 167.1 291.4 161.7 290.7C156.4 290.0 148.9 289.6 143.2 289.6C137.5 289.5 130.1 289.9 127.4 290.1C124.8 290.4 124.8 290.2 127.4 290.9Z" fill="#ffa000" filter="url(#b1)"/><path d="M142.8 293.0C145.8 293.9 155.6 294.8 160.7 296.0C165.9 297.2 168.8 298.8 173.8 300.1C178.8 301.5 184.9 303.4 190.8 304.3C196.8 305.2 203.4 305.8 209.6 305.3C215.9 304.7 222.8 302.8 228.3 301.0C233.9 299.2 238.8 296.9 243.2 294.5C247.6 292.0 253.3 288.3 254.9 286.4C256.5 284.4 255.1 282.2 252.7 282.6C250.3 283.1 244.8 287.0 240.4 288.9C236.0 290.9 231.5 292.8 226.3 294.4C221.0 296.0 214.8 298.1 209.0 298.7C203.2 299.4 197.2 298.9 191.6 298.3C185.9 297.7 180.0 296.3 175.0 295.3C170.0 294.2 166.8 292.8 161.5 292.0C156.2 291.2 146.3 290.3 143.2 290.4C140.1 290.6 139.9 292.1 142.8 293.0Z" fill="#f04000" filter="url(#b1)"/><ellipse cx="199.0" cy="297.7" rx="16.6" ry="4.8" transform="rotate(0 199.0 297.7)" fill="#c80030" filter="url(#b1)"/><ellipse cx="199.0" cy="297.7" rx="14.6" ry="3.2" transform="rotate(0 199.0 297.7)" fill="#ff88dc" filter="url(#b1)"/><ellipse cx="199.0" cy="297.7" rx="10" ry="1.2" transform="rotate(0 199.0 297.7)" fill="#ffe0f8" filter="url(#b1)"/><ellipse cx="241.8" cy="288.7" rx="14.6" ry="5.0" transform="rotate(-24 241.8 288.7)" fill="#c80030" filter="url(#b1)"/><ellipse cx="241.8" cy="288.7" rx="12.6" ry="3.4000000000000004" transform="rotate(-24 241.8 288.7)" fill="#ff88dc" filter="url(#b1)"/><ellipse cx="241.8" cy="288.7" rx="8" ry="1.4000000000000001" transform="rotate(-24 241.8 288.7)" fill="#ffe0f8" filter="url(#b1)"/><path d="M168.3 246.0C169.7 246.6 173.0 249.6 176.8 249.6C180.6 249.6 185.8 247.6 191.2 246.0C196.6 244.4 203.7 242.4 209.3 240.0C214.9 237.6 220.7 234.5 224.9 231.5C229.1 228.5 232.4 224.9 234.5 221.9C236.6 218.9 236.9 216.1 237.5 213.5C238.1 210.9 238.1 207.5 238.2 206.3" fill="none" stroke="#4c98ff" stroke-width="12" stroke-linecap="round" stroke-linejoin="round" stroke-opacity="0.7" filter="url(#b2)"/><path d="M168.3 246.0C169.7 246.6 173.0 249.6 176.8 249.6C180.6 249.6 185.8 247.6 191.2 246.0C196.6 244.4 203.7 242.4 209.3 240.0C214.9 237.6 220.7 234.5 224.9 231.5C229.1 228.5 232.4 224.9 234.5 221.9C236.6 218.9 236.9 216.1 237.5 213.5C238.1 210.9 238.1 207.5 238.2 206.3" fill="none" stroke="#38d838" stroke-width="8.6" stroke-linecap="round" stroke-linejoin="round" filter="url(#b1)"/><path d="M168.3 246.0C169.7 246.6 173.0 249.6 176.8 249.6C180.6 249.6 185.8 247.6 191.2 246.0C196.6 244.4 203.7 242.4 209.3 240.0C214.9 237.6 220.7 234.5 224.9 231.5C229.1 228.5 232.4 224.9 234.5 221.9C236.6 218.9 236.9 216.1 237.5 213.5C238.1 210.9 238.1 207.5 238.2 206.3" fill="none" stroke="#f0c830" stroke-width="7" stroke-linecap="round" stroke-linejoin="round" filter="url(#b1)"/><path d="M168.3 246.0C169.7 246.6 173.0 249.6 176.8 249.6C180.6 249.6 185.8 247.6 191.2 246.0C196.6 244.4 203.7 242.4 209.3 240.0C214.9 237.6 220.7 234.5 224.9 231.5C229.1 228.5 232.4 224.9 234.5 221.9C236.6 218.9 236.9 216.1 237.5 213.5C238.1 210.9 238.1 207.5 238.2 206.3" fill="none" stroke="#ffd0ee" stroke-width="5.4" stroke-linecap="round" stroke-linejoin="round"/><path d="M193.6 212.3C195.2 213.1 200.0 217.0 203.2 217.0C206.4 217.0 209.9 214.9 212.9 212.3C215.9 209.7 219.3 205.0 221.3 201.4C223.3 197.8 224.8 193.7 224.9 190.6C225.0 187.5 223.3 184.8 222.0 183.0C220.7 181.2 217.8 180.5 217.0 180.0" fill="none" stroke="#4c98ff" stroke-width="8.6" stroke-linecap="round" stroke-linejoin="round" stroke-opacity="0.7" filter="url(#b2)"/><path d="M193.6 212.3C195.2 213.1 200.0 217.0 203.2 217.0C206.4 217.0 209.9 214.9 212.9 212.3C215.9 209.7 219.3 205.0 221.3 201.4C223.3 197.8 224.8 193.7 224.9 190.6C225.0 187.5 223.3 184.8 222.0 183.0C220.7 181.2 217.8 180.5 217.0 180.0" fill="none" stroke="#38d838" stroke-width="5.2" stroke-linecap="round" stroke-linejoin="round" filter="url(#b1)"/><path d="M193.6 212.3C195.2 213.1 200.0 217.0 203.2 217.0C206.4 217.0 209.9 214.9 212.9 212.3C215.9 209.7 219.3 205.0 221.3 201.4C223.3 197.8 224.8 193.7 224.9 190.6C225.0 187.5 223.3 184.8 222.0 183.0C220.7 181.2 217.8 180.5 217.0 180.0" fill="none" stroke="#f0c830" stroke-width="3.6" stroke-linecap="round" stroke-linejoin="round" filter="url(#b1)"/><path d="M193.6 212.3C195.2 213.1 200.0 217.0 203.2 217.0C206.4 217.0 209.9 214.9 212.9 212.3C215.9 209.7 219.3 205.0 221.3 201.4C223.3 197.8 224.8 193.7 224.9 190.6C225.0 187.5 223.3 184.8 222.0 183.0C220.7 181.2 217.8 180.5 217.0 180.0" fill="none" stroke="#ffd0ee" stroke-width="2.0" stroke-linecap="round" stroke-linejoin="round"/><path d="M212.9 212.3C214.3 210.5 219.3 205.0 221.3 201.4C223.3 197.8 224.8 193.7 224.9 190.6C225.0 187.5 222.5 184.3 222.0 183.0" fill="none" stroke="#140014" stroke-width="1.7" stroke-linecap="round" stroke-linejoin="round"/><circle cx="187" cy="187" r="109" fill="none" stroke="#181830" stroke-opacity="0.6" stroke-width="0.9"/><circle cx="257" cy="106" r="4.5" fill="#f27474" stroke="#1a1420" stroke-width="1.8"/><circle cx="295.8" cy="186.7" r="4.5" fill="#78f078" stroke="#14202a" stroke-width="1.8"/><circle cx="187" cy="187" r="8.2" fill="#fff010" stroke="#000" stroke-width="4"/></svg></div>
<div class="d" style="left:1295px;top:230px;width:374px;height:374px;background:#4242d8"><div class="rg" style="left:-8px;top:-8px;width:390px;height:390px"><i style="left:0px;top:0px;width:390px;height:390px;background:conic-gradient(from -49deg,#4141d5 0deg,#4242e2 8.9deg,#3755ee 13.6deg,#2f62f7 23.5deg,#286eff 25.1deg,#2184ff 25.9deg,#00f4ff 27.6deg,#00f5fd 27.6deg,#00ffe8 29.3deg,#00fad3 30.2deg,#00f0a5 31.1deg,#00c132 32.8deg,#00b91e 35.9deg,#08bb1c 37deg,#00b91e 37.5deg,#00e993 44.8deg,#00f0a5 45.7deg,#00ffe8 49.6deg,#00f8f6 51.1deg,#00f4ff 53.2deg,#0dc7ff 57.3deg,#286eff 65.5deg,#2a6bfd 66.7deg,#3755ee 83.4deg,#4242e2 91.9deg,#4141d5 108.4deg,#4141d5 146.5deg,#4242e2 158.8deg,#3755ee 165.2deg,#325ef4 173.1deg,#286eff 174.3deg,#03ebff 176.6deg,#00f4ff 176.8deg,#00ffe8 177.5deg,#00f0a5 178.7deg,#00c43a 180.2deg,#00c43a 184.5deg,#00f0a5 186.1deg,#00ffe8 187.3deg,#00f4ff 188deg,#03ebff 188.1deg,#286eff 191.3deg,#2f63f8 192.4deg,#3755ee 199.6deg,#3657f0 218.2deg,#3657f0 228.9deg,#3459f1 247.8deg,#286eff 253.1deg,#14b1ff 257.3deg,#00f4ff 259.8deg,#00ffe8 262deg,#00f7c3 264deg,#00f0a5 265.4deg,#00c131 269.7deg,#00c131 275.4deg,#00f0a5 277.1deg,#00ffe8 278.4deg,#00f4ff 279.2deg,#286eff 280deg,#4242e2 281.1deg,#4141d5 282deg,#4141d5 360deg)"></i><i style="left:3px;top:3px;width:384px;height:384px;background:conic-gradient(from -49.6deg,#4141d5 0deg,#4242e2 8.8deg,#3755ee 13.4deg,#2f62f7 23.1deg,#286eff 24.7deg,#2184ff 25.5deg,#00f4ff 27.2deg,#00f5fd 27.2deg,#00ffe8 28.9deg,#00fad3 29.8deg,#00f0a5 30.7deg,#00c233 32.4deg,#00b91e 35.5deg,#07bb1c 36.5deg,#00b91e 36.9deg,#00e994 44.2deg,#00f0a5 45deg,#00ffe8 48.9deg,#00f8f6 50.3deg,#00f4ff 52.4deg,#0dc7ff 56.5deg,#286eff 64.6deg,#2a6bfd 65.8deg,#3755ee 82.2deg,#4242e2 90.6deg,#4141d5 106.9deg,#4141d5 146.2deg,#4242e2 158.4deg,#3755ee 164.7deg,#325ef4 172.5deg,#286eff 173.7deg,#03ebff 176deg,#00f4ff 176.2deg,#00ffe8 176.9deg,#00f0a5 178.1deg,#00c53b 179.6deg,#00c53b 183.9deg,#00f0a5 185.4deg,#00ffe8 186.6deg,#00f4ff 187.3deg,#03ebff 187.4deg,#286eff 190.5deg,#2f63f8 191.7deg,#3755ee 198.8deg,#3656ef 217.2deg,#3656ef 229.5deg,#3459f1 248.1deg,#286eff 253.2deg,#14b1ff 257.3deg,#00f4ff 259.7deg,#00ffe8 261.9deg,#00f7c3 263.8deg,#00f0a5 265.2deg,#00c131 269.4deg,#00c131 274.9deg,#00f0a5 276.6deg,#00ffe8 277.9deg,#00f4ff 278.6deg,#286eff 279.4deg,#4242e2 280.5deg,#4141d5 281.4deg,#4141d5 360deg)"></i><i style="left:6px;top:6px;width:378px;height:378px;background:conic-gradient(from -50.2deg,#4141d5 0deg,#4242e2 8.7deg,#3755ee 13.2deg,#2f62f7 22.8deg,#286eff 24.4deg,#2184ff 25.1deg,#00f4ff 26.8deg,#00f5fd 26.8deg,#00ffe8 28.4deg,#00fad3 29.4deg,#00f0a5 30.2deg,#00c233 31.9deg,#00b91e 35deg,#06bb1c 35.9deg,#00b91e 36.3deg,#00e994 43.5deg,#00f0a5 44.3deg,#00ffe8 48.2deg,#00f8f6 49.6deg,#00f4ff 51.6deg,#0dc7ff 55.7deg,#286eff 63.6deg,#2a6bfd 64.8deg,#3755ee 81deg,#4242e2 89.3deg,#4141d5 105.3deg,#4141d5 145.9deg,#4242e2 158deg,#3755ee 164.2deg,#325ef4 171.9deg,#286eff 173.2deg,#03ebff 175.5deg,#00f4ff 175.6deg,#00ffe8 176.3deg,#00f0a5 177.5deg,#00c53c 179deg,#00c53c 183.2deg,#00f0a5 184.7deg,#00ffe8 185.9deg,#00f4ff 186.6deg,#03ebff 186.7deg,#286eff 189.8deg,#2f63f8 190.9deg,#3755ee 197.9deg,#3656ef 216.2deg,#3656ef 230.2deg,#3459f1 248.3deg,#286eff 253.3deg,#14b1ff 257.3deg,#00f4ff 259.7deg,#00ffe8 261.7deg,#00f7c3 263.6deg,#00f0a5 265deg,#00c131 269.1deg,#00c131 274.5deg,#00f0a5 276.1deg,#00ffe8 277.4deg,#00f4ff 278.1deg,#286eff 278.9deg,#4242e2 279.9deg,#4141d5 280.8deg,#4141d5 360deg)"></i><i style="left:9px;top:9px;width:372px;height:372px;background:conic-gradient(from -50.8deg,#4141d5 0deg,#4242e2 8.6deg,#3755ee 13deg,#2f62f7 22.4deg,#286eff 24deg,#2184ff 24.7deg,#00f4ff 26.3deg,#00f5fd 26.4deg,#00ffe8 28deg,#00fad3 28.9deg,#00f0a5 29.7deg,#00c234 31.4deg,#00b91e 34.6deg,#06ba1d 35.4deg,#00b91e 35.7deg,#00e994 42.9deg,#00f0a5 43.6deg,#00ffe8 47.4deg,#00f8f6 48.8deg,#00f4ff 50.8deg,#0dc7ff 54.8deg,#286eff 62.6deg,#2a6bfd 63.8deg,#3755ee 79.7deg,#4242e2 87.9deg,#4141d5 103.7deg,#4141d5 145.6deg,#4242e2 157.5deg,#3755ee 163.7deg,#325ef4 171.4deg,#286eff 172.6deg,#03ebff 174.8deg,#00f4ff 175deg,#00ffe8 175.7deg,#00f0a5 176.9deg,#00c63d 178.3deg,#00c63d 182.5deg,#00f0a5 184deg,#00ffe8 185.2deg,#00f4ff 185.9deg,#03ebff 186deg,#286eff 189.1deg,#2f63f8 190.2deg,#3755ee 197.1deg,#3656ef 215.2deg,#3656ef 230.8deg,#3459f1 248.4deg,#286eff 253.4deg,#14b1ff 257.2deg,#00f4ff 259.6deg,#00ffe8 261.6deg,#00f7c3 263.4deg,#00f0a5 264.7deg,#00c131 268.7deg,#00c131 274deg,#00f0a5 275.6deg,#00ffe8 276.8deg,#00f4ff 277.5deg,#286eff 278.3deg,#4242e2 279.3deg,#4141d5 280.1deg,#4141d5 360deg)"></i><i style="left:12px;top:12px;width:366px;height:366px;background:conic-gradient(from -51.3deg,#4141d5 0deg,#4242e2 8.4deg,#3755ee 12.7deg,#2f62f7 22deg,#286eff 23.5deg,#2184ff 24.2deg,#00f4ff 25.8deg,#00f5fd 25.9deg,#00ffe8 27.4deg,#00fad3 28.3deg,#00f0a5 29.2deg,#00c234 30.8deg,#00b91e 34deg,#05ba1d 34.7deg,#00b91e 35deg,#00e995 42deg,#00f0a5 42.7deg,#00ffe8 46.5deg,#00f8f6 47.9deg,#00f4ff 49.8deg,#0dc7ff 53.7deg,#286eff 61.4deg,#2a6bfd 62.5deg,#3755ee 78.1deg,#4242e2 86.1deg,#4141d5 101.6deg,#4141d5 145.2deg,#4242e2 157.1deg,#3755ee 163.1deg,#325ef4 170.7deg,#286eff 171.9deg,#03ebff 174.2deg,#00f4ff 174.3deg,#00ffe8 175deg,#00f0a5 176.2deg,#00c63e 177.6deg,#00c63e 181.8deg,#00f0a5 183.2deg,#00ffe8 184.4deg,#00f4ff 185.1deg,#03ebff 185.2deg,#286eff 188.3deg,#2f63f8 189.3deg,#3755ee 196.2deg,#3755ef 214.2deg,#3755ef 231.4deg,#3459f1 248.6deg,#286eff 253.3deg,#14b1ff 257.1deg,#00f4ff 259.4deg,#00ffe8 261.3deg,#00f7c3 263.1deg,#00f0a5 264.4deg,#00c131 268.3deg,#00c131 273.4deg,#00f0a5 275deg,#00ffe8 276.2deg,#00f4ff 276.8deg,#286eff 277.6deg,#4242e2 278.6deg,#4141d5 279.4deg,#4141d5 360deg)"></i><i style="left:15px;top:15px;width:360px;height:360px;background:conic-gradient(from -51.9deg,#4141d5 0deg,#4242e2 8.2deg,#3755ee 12.4deg,#2f62f7 21.5deg,#286eff 23deg,#2184ff 23.7deg,#00f4ff 25.3deg,#00f5fd 25.4deg,#00ffe8 26.9deg,#00fad3 27.7deg,#00f0a5 28.6deg,#00c235 30.1deg,#00b91e 33.3deg,#05ba1d 34deg,#00b91e 34.2deg,#00ea95 41.1deg,#00f0a5 41.8deg,#00ffe8 45.5deg,#00f8f6 46.9deg,#00f4ff 48.8deg,#0dc7ff 52.6deg,#286eff 60.1deg,#2a6bfd 61.2deg,#3755ee 76.5deg,#4242e2 84.3deg,#4141d5 99.5deg,#4141d5 144.8deg,#4242e2 156.5deg,#3755ee 162.6deg,#325ef4 170.1deg,#286eff 171.3deg,#03ebff 173.5deg,#00f4ff 173.6deg,#00ffe8 174.3deg,#00f0a5 175.5deg,#00c73f 176.9deg,#00c73f 181deg,#00f0a5 182.4deg,#00ffe8 183.6deg,#00f4ff 184.3deg,#03ebff 184.4deg,#286eff 187.4deg,#2f63f8 188.5deg,#3755ee 195.4deg,#3755ee 213.1deg,#3755ee 232deg,#3459f1 248.7deg,#286eff 253.3deg,#14b1ff 257deg,#00f4ff 259.2deg,#00ffe8 261.1deg,#00f7c3 262.8deg,#00f0a5 264.1deg,#00c131 267.9deg,#00c131 272.9deg,#00f0a5 274.4deg,#00ffe8 275.5deg,#00f4ff 276.2deg,#286eff 276.9deg,#4242e2 277.9deg,#4141d5 278.7deg,#4141d5 360deg)"></i><i style="left:18px;top:18px;width:354px;height:354px;background:conic-gradient(from -52.4deg,#4141d5 0deg,#4242e2 8deg,#3755ee 12.2deg,#2f62f7 21.1deg,#286eff 22.6deg,#2184ff 23.2deg,#00f4ff 24.8deg,#00f5fd 24.8deg,#00ffe8 26.3deg,#00fad3 27.2deg,#00f0a5 28deg,#00c336 29.5deg,#00b91e 32.7deg,#04ba1d 33.3deg,#00b91e 33.5deg,#00ea95 40.3deg,#00f0a5 40.9deg,#00ffe8 44.6deg,#00f8f6 45.9deg,#00f4ff 47.8deg,#0dc7ff 51.5deg,#286eff 58.8deg,#2a6bfd 59.9deg,#3755ee 74.9deg,#4242e2 82.6deg,#4141d5 97.4deg,#4141d5 144.4deg,#4242e2 156deg,#3755ee 162deg,#325ef4 169.5deg,#286eff 170.6deg,#03ebff 172.8deg,#00f4ff 172.9deg,#00ffe8 173.6deg,#00f0a5 174.8deg,#00c741 176.2deg,#00c741 180.3deg,#00f0a5 181.7deg,#00ffe8 182.8deg,#00f4ff 183.5deg,#03ebff 183.6deg,#286eff 186.6deg,#2f63f8 187.7deg,#3755ee 194.5deg,#3755ee 212deg,#3755ee 232.6deg,#3459f1 248.8deg,#286eff 253.3deg,#14b1ff 256.9deg,#00f4ff 259deg,#00ffe8 260.9deg,#00f7c3 262.6deg,#00f0a5 263.8deg,#00c131 267.4deg,#00c131 272.3deg,#00f0a5 273.8deg,#00ffe8 274.9deg,#00f4ff 275.5deg,#286eff 276.2deg,#4242e2 277.2deg,#4141d5 278deg,#4141d5 360deg)"></i><i style="left:21px;top:21px;width:348px;height:348px;background:conic-gradient(from -52.9deg,#4141d5 0deg,#4242e2 7.9deg,#3755ee 11.9deg,#2f62f7 20.6deg,#286eff 22.1deg,#2184ff 22.7deg,#00f4ff 24.2deg,#00f5fd 24.3deg,#00ffe8 25.7deg,#00fad3 26.6deg,#00f0a5 27.4deg,#00c336 28.9deg,#00b91e 32.1deg,#03ba1d 32.5deg,#00b91e 32.7deg,#00ea96 39.4deg,#00f0a5 40.1deg,#00ffe8 43.6deg,#00f8f6 44.9deg,#00f4ff 46.7deg,#0dc7ff 50.4deg,#286eff 57.6deg,#2a6bfd 58.7deg,#3755ee 73.3deg,#4242e2 80.8deg,#4141d5 95.3deg,#4141d5 144.1deg,#4242e2 155.5deg,#3755ee 161.5deg,#325ef4 168.8deg,#286eff 170deg,#03ebff 172.2deg,#00f4ff 172.3deg,#00ffe8 173deg,#00f0a5 174.1deg,#00c842 175.5deg,#00c842 179.5deg,#00f0a5 180.9deg,#00ffe8 182.1deg,#00f4ff 182.8deg,#03ebff 182.9deg,#286eff 185.8deg,#2f63f8 186.9deg,#3755ee 193.6deg,#3754ee 211deg,#3754ee 233.2deg,#3459f1 248.9deg,#286eff 253.3deg,#14b1ff 256.8deg,#00f4ff 258.8deg,#00ffe8 260.6deg,#00f7c3 262.3deg,#00f0a5 263.5deg,#00c131 267deg,#00c131 271.7deg,#00f0a5 273.2deg,#00ffe8 274.3deg,#00f4ff 274.9deg,#286eff 275.6deg,#4242e2 276.5deg,#4141d5 277.2deg,#4141d5 360deg)"></i><i style="left:24px;top:24px;width:342px;height:342px;background:conic-gradient(from -53.5deg,#4141d5 0deg,#4242e2 7.7deg,#3755ee 11.7deg,#2f62f7 20.2deg,#286eff 21.6deg,#2184ff 22.2deg,#00f4ff 23.7deg,#00f5fd 23.8deg,#00ffe8 25.2deg,#00fad3 26deg,#00f0a5 26.8deg,#00c337 28.2deg,#00b91e 31.5deg,#03ba1d 31.8deg,#00b91e 32deg,#00ea96 38.6deg,#00f0a5 39.2deg,#00ffe8 42.7deg,#00f8f6 43.9deg,#00f4ff 45.7deg,#0dc7ff 49.3deg,#286eff 56.3deg,#2a6bfd 57.4deg,#3755ee 71.7deg,#4242e2 79.1deg,#4141d5 93.3deg,#4141d5 143.7deg,#4242e2 155deg,#3755ee 160.9deg,#325ef4 168.2deg,#286eff 169.3deg,#03ebff 171.5deg,#00f4ff 171.6deg,#00ffe8 172.3deg,#00f0a5 173.5deg,#00c843 174.8deg,#00c843 178.8deg,#00f0a5 180.1deg,#00ffe8 181.3deg,#00f4ff 182deg,#03ebff 182.1deg,#286eff 185deg,#2f63f8 186.1deg,#3755ee 192.7deg,#3754ee 209.9deg,#3754ee 233.7deg,#3459f1 249deg,#286eff 253.3deg,#14b1ff 256.7deg,#00f4ff 258.7deg,#00ffe8 260.4deg,#00f7c3 262deg,#00f0a5 263.2deg,#00c131 266.6deg,#00c131 271.2deg,#00f0a5 272.6deg,#00ffe8 273.6deg,#00f4ff 274.2deg,#286eff 274.9deg,#4242e2 275.8deg,#4141d5 276.5deg,#4141d5 360deg)"></i><i style="left:27px;top:27px;width:336px;height:336px;background:conic-gradient(from -54deg,#4141d5 0deg,#4242e2 7.5deg,#3755ee 11.4deg,#2f62f7 19.7deg,#286eff 21.1deg,#2184ff 21.7deg,#00f4ff 23.2deg,#00f5fd 23.2deg,#00ffe8 24.6deg,#00fad3 25.4deg,#00f0a5 26.2deg,#00c337 27.6deg,#00b91e 30.9deg,#02ba1d 31.1deg,#00b91e 31.2deg,#00ea96 37.7deg,#00f0a5 38.3deg,#00ffe8 41.7deg,#00f8f6 43deg,#00f4ff 44.7deg,#0dc7ff 48.2deg,#286eff 55.1deg,#2a6bfd 56.1deg,#3755ee 70.1deg,#4242e2 77.3deg,#4141d5 91.2deg,#4141d5 143.3deg,#4242e2 154.5deg,#3755ee 160.3deg,#325ef4 167.6deg,#286eff 168.7deg,#03ebff 170.8deg,#00f4ff 170.9deg,#00ffe8 171.6deg,#00f0a5 172.8deg,#00c844 174.1deg,#00c844 178deg,#00f0a5 179.4deg,#00ffe8 180.5deg,#00f4ff 181.2deg,#03ebff 181.3deg,#286eff 184.2deg,#2f63f8 185.3deg,#3755ee 191.8deg,#3853ee 208.9deg,#3853ee 234.3deg,#3459f1 249.2deg,#286eff 253.3deg,#14b1ff 256.6deg,#00f4ff 258.5deg,#00ffe8 260.2deg,#00f7c3 261.7deg,#00f0a5 262.9deg,#00c131 266.2deg,#00c131 270.6deg,#00f0a5 272deg,#00ffe8 273deg,#00f4ff 273.6deg,#286eff 274.2deg,#4242e2 275.1deg,#4141d5 275.8deg,#4141d5 360deg)"></i><i style="left:30px;top:30px;width:330px;height:330px;background:conic-gradient(from -54.7deg,#4141d5 0deg,#4242e2 7.4deg,#3755ee 11.1deg,#2f62f7 19.3deg,#286eff 20.6deg,#2184ff 21.2deg,#00f4ff 22.6deg,#00f5fd 22.7deg,#00ffe8 24.1deg,#00fad3 24.8deg,#00f0a5 25.6deg,#00c338 27deg,#00b91e 30.2deg,#01b91e 30.4deg,#00b91e 30.5deg,#00ea97 36.8deg,#00f0a5 37.4deg,#00ffe8 40.8deg,#00f8f6 42deg,#00f4ff 43.7deg,#0dc7ff 47.1deg,#286eff 53.8deg,#2a6bfd 54.8deg,#3755ee 68.5deg,#4242e2 75.5deg,#4141d5 89.1deg,#4141d5 143deg,#4242e2 154.2deg,#3755ee 159.9deg,#325ef4 167deg,#286eff 168.2deg,#03ebff 170.3deg,#00f4ff 170.4deg,#00ffe8 171.1deg,#00f0a5 172.2deg,#00c945 173.5deg,#00c945 177.4deg,#00f0a5 178.7deg,#00ffe8 179.9deg,#00f4ff 180.6deg,#03ebff 180.7deg,#286eff 183.5deg,#2f63f8 184.6deg,#3755ee 191deg,#3853ed 207.9deg,#3853ed 235deg,#3459f1 249.4deg,#286eff 253.4deg,#14b1ff 256.6deg,#00f4ff 258.4deg,#00ffe8 260.1deg,#00f7c3 261.6deg,#00f0a5 262.6deg,#00c131 265.9deg,#00c131 270.2deg,#00f0a5 271.5deg,#00ffe8 272.5deg,#00f4ff 273deg,#286eff 273.7deg,#4242e2 274.5deg,#4141d5 275.2deg,#4141d5 360deg)"></i><i style="left:33px;top:33px;width:324px;height:324px;background:conic-gradient(from -55.3deg,#4141d5 0deg,#4242e2 7.2deg,#3755ee 10.9deg,#2f62f7 18.8deg,#286eff 20.1deg,#2184ff 20.7deg,#00f4ff 22.1deg,#00f5fd 22.2deg,#00ffe8 23.5deg,#00fad3 24.3deg,#00f0a5 25deg,#00c438 26.4deg,#00b91e 29.6deg,#01b91e 29.7deg,#00b91e 29.7deg,#00ea97 36deg,#00f0a5 36.5deg,#00ffe8 39.8deg,#00f8f6 41deg,#00f4ff 42.7deg,#0dc7ff 46deg,#286eff 52.6deg,#2a6bfd 53.5deg,#3755ee 66.9deg,#4242e2 73.8deg,#4141d5 87deg,#4141d5 142.8deg,#4242e2 153.8deg,#3755ee 159.5deg,#325ef4 166.6deg,#286eff 167.7deg,#03ebff 169.8deg,#00f4ff 169.9deg,#00ffe8 170.6deg,#00f0a5 171.7deg,#00c946 173deg,#00c946 176.8deg,#00f0a5 178.1deg,#00ffe8 179.3deg,#00f4ff 179.9deg,#03ebff 180deg,#286eff 182.9deg,#2f63f8 183.9deg,#3755ee 190.3deg,#3853ed 207deg,#3853ed 235.7deg,#3459f1 249.6deg,#286eff 253.5deg,#14b1ff 256.5deg,#00f4ff 258.3deg,#00ffe8 259.9deg,#00f7c3 261.4deg,#00f0a5 262.4deg,#00c131 265.5deg,#00c131 269.7deg,#00f0a5 271deg,#00ffe8 271.9deg,#00f4ff 272.5deg,#286eff 273.1deg,#4242e2 273.9deg,#4141d5 274.6deg,#4141d5 360deg)"></i><i style="left:36px;top:36px;width:318px;height:318px;background:conic-gradient(from -56deg,#4141d5 0deg,#4242e2 7deg,#3755ee 10.6deg,#2f62f7 18.4deg,#286eff 19.7deg,#2184ff 20.3deg,#00f4ff 21.6deg,#00f5fd 21.6deg,#00ffe8 22.9deg,#00fad3 23.7deg,#00f0a5 24.4deg,#00c439 25.7deg,#00b91e 29deg,#00b91e 29deg,#00b91e 29deg,#00ea97 35.1deg,#00f0a5 35.6deg,#00ffe8 38.8deg,#00f8f6 40deg,#00f4ff 41.6deg,#0dc7ff 44.9deg,#286eff 51.3deg,#2a6bfd 52.3deg,#3755ee 65.3deg,#4242e2 72deg,#4141d5 84.9deg,#4141d5 142.6deg,#4242e2 153.5deg,#3755ee 159.1deg,#325ef4 166.1deg,#286eff 167.2deg,#03ebff 169.3deg,#00f4ff 169.4deg,#00ffe8 170.1deg,#00f0a5 171.2deg,#00ca47 172.5deg,#00ca47 176.3deg,#00f0a5 177.5deg,#00ffe8 178.7deg,#00f4ff 179.3deg,#03ebff 179.4deg,#286eff 182.2deg,#2f63f8 183.2deg,#3755ee 189.6deg,#3852ed 206.1deg,#3852ed 236.3deg,#3459f1 249.7deg,#286eff 253.5deg,#14b1ff 256.4deg,#00f4ff 258.2deg,#00ffe8 259.7deg,#00f7c3 261.1deg,#00f0a5 262.1deg,#00c131 265.2deg,#00c131 269.2deg,#00f0a5 270.4deg,#00ffe8 271.3deg,#00f4ff 271.9deg,#286eff 272.5deg,#4242e2 273.2deg,#4141d5 273.9deg,#4141d5 360deg)"></i><i style="left:39px;top:39px;width:312px;height:312px;background:conic-gradient(from -56.6deg,#4141d5 0deg,#4242e2 6.8deg,#3755ee 10.4deg,#2f62f7 17.9deg,#286eff 19.2deg,#2184ff 19.8deg,#00f4ff 21.1deg,#00f5fd 21.1deg,#00ffe8 22.4deg,#00fad3 23.1deg,#00f0a5 23.8deg,#00c439 25.1deg,#00b91e 28.3deg,#00eb98 34.3deg,#00f0a5 34.7deg,#00ffe8 37.9deg,#00f8f6 39deg,#00f4ff 40.6deg,#0dc7ff 43.8deg,#286eff 50.1deg,#2a6bfd 51deg,#3755ee 63.7deg,#4242e2 70.2deg,#4141d5 82.9deg,#4141d5 142.4deg,#4242e2 153.2deg,#3755ee 158.7deg,#325ef4 165.6deg,#286eff 166.7deg,#03ebff 168.8deg,#00f4ff 168.9deg,#00ffe8 169.5deg,#00f0a5 170.7deg,#00ca49 171.9deg,#00ca49 175.7deg,#00f0a5 176.9deg,#00ffe8 178deg,#00f4ff 178.7deg,#03ebff 178.8deg,#286eff 181.6deg,#2f63f8 182.6deg,#3755ee 188.9deg,#3952ed 205.2deg,#3952ed 236.9deg,#3459f1 249.9deg,#286eff 253.5deg,#14b1ff 256.4deg,#00f4ff 258.1deg,#00ffe8 259.5deg,#00f7c3 260.9deg,#00f0a5 261.9deg,#00c131 264.8deg,#00c131 268.7deg,#00f0a5 269.9deg,#00ffe8 270.7deg,#00f4ff 271.2deg,#286eff 271.8deg,#4242e2 272.6deg,#4141d5 273.2deg,#4141d5 360deg)"></i><i style="left:42px;top:42px;width:306px;height:306px;background:conic-gradient(from -57.2deg,#4141d5 0deg,#4242e2 6.7deg,#3755ee 10.1deg,#2f62f7 17.5deg,#286eff 18.7deg,#2184ff 19.3deg,#00f4ff 20.5deg,#00f5fd 20.6deg,#00ffe8 21.8deg,#00fad3 22.5deg,#00f0a5 23.2deg,#00c43a 24.5deg,#00b91f 27.6deg,#00eb98 33.4deg,#00f0a5 33.9deg,#00ffe8 36.9deg,#00f8f6 38.1deg,#00f4ff 39.6deg,#0dc7ff 42.7deg,#286eff 48.8deg,#2a6bfd 49.7deg,#3755ee 62.1deg,#4242e2 68.5deg,#4141d5 80.8deg,#4141d5 142.2deg,#4242e2 152.9deg,#3755ee 158.3deg,#325ef4 165.2deg,#286eff 166.3deg,#03ebff 168.3deg,#00f4ff 168.4deg,#00ffe8 169deg,#00f0a5 170.2deg,#00cb4a 171.4deg,#00cb4a 175.1deg,#00f0a5 176.3deg,#00ffe8 177.4deg,#00f4ff 178.1deg,#03ebff 178.2deg,#286eff 181deg,#2f63f8 181.9deg,#3755ee 188.1deg,#3952ec 204.3deg,#3952ec 237.6deg,#3459f1 250deg,#286eff 253.5deg,#14b1ff 256.3deg,#00f4ff 257.9deg,#00ffe8 259.3deg,#00f7c3 260.6deg,#00f0a5 261.6deg,#00c131 264.4deg,#00c131 268.1deg,#00f0a5 269.3deg,#00ffe8 270.1deg,#00f4ff 270.6deg,#286eff 271.2deg,#4242e2 271.9deg,#4141d5 272.5deg,#4141d5 360deg)"></i><i style="left:45px;top:45px;width:300px;height:300px;background:conic-gradient(from -57.9deg,#4141d5 0deg,#4242e2 6.5deg,#3755ee 9.8deg,#2f62f7 17deg,#286eff 18.2deg,#2184ff 18.8deg,#00f4ff 20deg,#00f5fd 20.1deg,#00ffe8 21.2deg,#00fad3 21.9deg,#00f0a5 22.6deg,#00c53a 23.8deg,#00ba20 26.9deg,#00eb98 32.5deg,#00f0a5 33deg,#00ffe8 36deg,#00f8f6 37.1deg,#00f4ff 38.6deg,#0dc7ff 41.6deg,#286eff 47.5deg,#2a6bfd 48.4deg,#3755ee 60.5deg,#4242e2 66.7deg,#4141d5 78.7deg,#4141d5 142deg,#4242e2 152.5deg,#3755ee 158deg,#325ef4 164.7deg,#286eff 165.8deg,#03ebff 167.8deg,#00f4ff 167.9deg,#00ffe8 168.5deg,#00f0a5 169.7deg,#00cb4b 170.8deg,#00cb4b 174.5deg,#00f0a5 175.7deg,#00ffe8 176.8deg,#00f4ff 177.5deg,#03ebff 177.6deg,#286eff 180.3deg,#2f63f8 181.3deg,#3755ee 187.4deg,#3951ec 203.4deg,#3951ec 238.2deg,#3459f1 250.2deg,#286eff 253.5deg,#14b1ff 256.2deg,#00f4ff 257.8deg,#00ffe8 259.1deg,#00f7c3 260.4deg,#00f0a5 261.3deg,#00c131 264deg,#00c131 267.6deg,#00f0a5 268.7deg,#00ffe8 269.5deg,#00f4ff 270deg,#286eff 270.5deg,#4242e2 271.2deg,#4141d5 271.8deg,#4141d5 360deg)"></i><i style="left:48px;top:48px;width:294px;height:294px;background:conic-gradient(from -58.5deg,#4141d5 0deg,#4242e2 6.3deg,#3755ee 9.6deg,#2f62f7 16.6deg,#286eff 17.7deg,#2184ff 18.3deg,#00f4ff 19.5deg,#00f5fd 19.5deg,#00ffe8 20.7deg,#00fad3 21.4deg,#00f0a5 22deg,#00c53b 23.2deg,#00ba20 26.2deg,#00eb99 31.7deg,#00f0a5 32.1deg,#00ffe8 35deg,#00f8f6 36.1deg,#00f4ff 37.6deg,#0dc7ff 40.5deg,#286eff 46.3deg,#2a6bfd 47.1deg,#3755ee 58.9deg,#4242e2 64.9deg,#4141d5 76.6deg,#4141d5 141.8deg,#4242e2 152.2deg,#3755ee 157.6deg,#325ef4 164.2deg,#286eff 165.3deg,#03ebff 167.3deg,#00f4ff 167.4deg,#00ffe8 168deg,#00f0a5 169.1deg,#00cc4c 170.3deg,#00cc4c 173.9deg,#00f0a5 175.1deg,#00ffe8 176.2deg,#00f4ff 176.9deg,#03ebff 177deg,#286eff 179.7deg,#2f63f8 180.6deg,#3755ee 186.7deg,#3951ec 202.5deg,#3951ec 238.8deg,#3755ef 250.3deg,#286eff 254.4deg,#1b98ff 256.1deg,#00f4ff 258.3deg,#00ffe8 259.7deg,#00fcdc 260.1deg,#00f0a5 261.8deg,#00d15a 263.6deg,#00d15a 267.1deg,#00f0a5 267.8deg,#00ffe8 268.6deg,#00f4ff 269.1deg,#09d7ff 269.4deg,#286eff 269.8deg,#4242e2 270.5deg,#4141d5 271.1deg,#4141d5 360deg)"></i><i style="left:51px;top:51px;width:288px;height:288px;background:conic-gradient(from -59.1deg,#4141d5 0deg,#4242e2 6.1deg,#3755ee 9.3deg,#2f62f7 16.1deg,#286eff 17.3deg,#2184ff 17.8deg,#00f4ff 18.9deg,#00f5fd 19deg,#00ffe8 20.1deg,#00fad3 20.8deg,#00f0a5 21.4deg,#00c53c 22.6deg,#00ba21 25.4deg,#00eb99 30.8deg,#00f0a5 31.2deg,#00ffe8 34.1deg,#00f8f6 35.1deg,#00f4ff 36.6deg,#0dc7ff 39.4deg,#286eff 45deg,#2a6bfd 45.9deg,#3755ee 57.3deg,#4242e2 63.2deg,#4141d5 74.5deg,#4141d5 141.5deg,#4242e2 151.8deg,#3755ee 157.1deg,#325ef4 163.7deg,#286eff 164.7deg,#03ebff 166.7deg,#00f4ff 166.8deg,#00ffe8 167.4deg,#00f0a5 168.5deg,#00cc4d 169.7deg,#00cc4d 173.3deg,#00f0a5 174.4deg,#00ffe8 175.5deg,#00f4ff 176.2deg,#03ebff 176.3deg,#286eff 178.9deg,#2f63f8 179.9deg,#3755ee 185.9deg,#3951ec 201.5deg,#3951ec 239.3deg,#4242e2 248.6deg,#4242e1 250.4deg,#4242e2 251.2deg,#3754ee 255.9deg,#296dfe 259.8deg,#286eff 260deg,#0bceff 263.1deg,#0bceff 266.5deg,#286eff 267.8deg,#325df4 268.7deg,#4242e2 269.4deg,#4141d5 270.3deg,#4141d5 360deg)"></i><i style="left:54px;top:54px;width:282px;height:282px;background:conic-gradient(from -59.7deg,#4141d5 0deg,#4242e2 6deg,#3755ee 9.1deg,#2f62f7 15.7deg,#286eff 16.8deg,#2184ff 17.3deg,#00f4ff 18.5deg,#00f5fd 18.5deg,#00ffe8 19.6deg,#00fad3 20.2deg,#00f0a5 20.9deg,#00c53c 22deg,#00ba21 24.8deg,#00eb99 30deg,#00f0a5 30.4deg,#00ffe8 33.2deg,#00f8f6 34.2deg,#00f4ff 35.6deg,#0dc7ff 38.4deg,#286eff 43.9deg,#2a6bfd 44.7deg,#3755ee 55.8deg,#4242e2 61.5deg,#4141d5 72.6deg,#4141d5 141.2deg,#4242e2 151.4deg,#3755ee 156.6deg,#325ef4 163.1deg,#286eff 164.2deg,#03ebff 166.1deg,#00f4ff 166.2deg,#00ffe8 166.9deg,#00f0a5 168deg,#00cd4e 169.1deg,#00cd4e 172.6deg,#00f0a5 173.7deg,#00ffe8 174.8deg,#00f4ff 175.5deg,#03ebff 175.6deg,#286eff 178.2deg,#2f63f8 179.1deg,#3755ee 185.1deg,#3a50eb 200.5deg,#3a50eb 239.5deg,#4242e2 243.3deg,#4141d9 250.3deg,#4141db 255.7deg,#4242de 259.4deg,#4242e1 262.7deg,#4242e1 265.9deg,#4141dd 268.1deg,#4141d5 269.7deg,#4141d5 360deg)"></i><i style="left:57px;top:57px;width:276px;height:276px;background:conic-gradient(from -60.5deg,#4141d5 0deg,#4242e2 5.9deg,#3755ee 8.9deg,#2f62f7 15.4deg,#286eff 16.5deg,#2184ff 17deg,#00f4ff 18.1deg,#00f5fd 18.2deg,#00ffe8 19.3deg,#00fad3 19.9deg,#00f0a5 20.5deg,#00c53d 21.6deg,#0b2 24.4deg,#00eb9a 29.5deg,#00f0a5 29.9deg,#00ffe8 32.6deg,#00f8f6 33.6deg,#00f4ff 35deg,#0dc7ff 37.7deg,#286eff 43.1deg,#2a6bfd 43.9deg,#3755ee 54.9deg,#4242e2 60.5deg,#4141d5 71.3deg,#4141d5 141.2deg,#4242e2 151.2deg,#3755ee 156.4deg,#325ef4 162.8deg,#286eff 163.9deg,#03ebff 165.8deg,#00f4ff 165.9deg,#00ffe8 166.5deg,#00f0a5 167.6deg,#00cd50 168.7deg,#00cd50 172.2deg,#00f0a5 173.3deg,#00ffe8 174.4deg,#00f4ff 175deg,#03ebff 175.1deg,#286eff 177.7deg,#2f63f8 178.6deg,#3755ee 184.5deg,#3d4be8 199.7deg,#4242e2 212.8deg,#4141d5 264deg,#4141d5 360deg)"></i><i style="left:60px;top:60px;width:270px;height:270px;background:conic-gradient(from -61.3deg,#4141d5 0deg,#4242e2 5.8deg,#3755ee 8.8deg,#2f62f7 15.2deg,#286eff 16.2deg,#2184ff 16.7deg,#00f4ff 17.8deg,#00f5fd 17.9deg,#00ffe8 18.9deg,#00fad3 19.5deg,#00f0a5 20.1deg,#00c63d 21.2deg,#00bb23 23.9deg,#00ec9a 29deg,#00f0a5 29.3deg,#00ffe8 32deg,#00f8f6 33deg,#00f4ff 34.4deg,#0dc7ff 37.1deg,#286eff 42.3deg,#2a6bfd 43.1deg,#3755ee 53.9deg,#4242e2 59.4deg,#4141d5 70.1deg,#4141d5 141.1deg,#4242e2 151deg,#3755ee 156.2deg,#325ef4 162.5deg,#286eff 163.5deg,#03ebff 165.4deg,#00f4ff 165.5deg,#00ffe8 166.1deg,#00f0a5 167.2deg,#00ce51 168.3deg,#00ce51 171.8deg,#00f0a5 172.8deg,#00ffe8 173.9deg,#00f4ff 174.6deg,#03ebff 174.7deg,#286eff 177.2deg,#2f63f8 178.1deg,#3755ee 183.9deg,#3f47e5 199deg,#4242e2 206.7deg,#4141d5 263.7deg,#4141d5 360deg)"></i><i style="left:63px;top:63px;width:264px;height:264px;background:conic-gradient(from -62.2deg,#4141d5 0deg,#4242e2 5.7deg,#3755ee 8.6deg,#2f62f7 14.9deg,#286eff 15.9deg,#2184ff 16.4deg,#00f4ff 17.5deg,#00f5fd 17.5deg,#00ffe8 18.6deg,#00fad3 19.2deg,#00f0a5 19.8deg,#00c63e 20.9deg,#00bb23 23.5deg,#00ec9a 28.5deg,#00f0a5 28.8deg,#00ffe8 31.5deg,#00f8f6 32.4deg,#00f4ff 33.8deg,#0dc7ff 36.4deg,#286eff 41.6deg,#2a6bfd 42.4deg,#3755ee 53deg,#4242e2 58.4deg,#4141d5 68.8deg,#4141d5 141.1deg,#4242e2 150.9deg,#3755ee 155.9deg,#325ef4 162.2deg,#286eff 163.2deg,#03ebff 165.1deg,#00f4ff 165.2deg,#00ffe8 165.8deg,#00f0a5 166.9deg,#00ce52 167.9deg,#00ce52 171.3deg,#00f0a5 172.4deg,#00ffe8 173.5deg,#00f4ff 174.1deg,#03ebff 174.2deg,#286eff 176.7deg,#2f63f8 177.6deg,#3755ee 183.4deg,#4243e2 198.2deg,#4242e2 199.2deg,#4141d5 263.2deg,#4141d5 360deg)"></i><i style="left:66px;top:66px;width:258px;height:258px;background:conic-gradient(from -63deg,#4141d5 0deg,#4242e2 5.6deg,#3755ee 8.4deg,#2f62f7 14.6deg,#286eff 15.7deg,#2184ff 16.1deg,#00f4ff 17.2deg,#00f5fd 17.2deg,#00ffe8 18.3deg,#00fad3 18.8deg,#00f0a5 19.4deg,#00c63e 20.5deg,#00bb24 23.1deg,#00ec9b 27.9deg,#00f0a5 28.3deg,#00ffe8 30.9deg,#00f8f6 31.8deg,#00f4ff 33.1deg,#0dc7ff 35.7deg,#286eff 40.8deg,#2a6bfd 41.6deg,#3755ee 52deg,#4242e2 57.3deg,#4141d5 67.6deg,#4141d5 141deg,#4242e2 150.7deg,#3755ee 155.7deg,#325ef4 161.9deg,#286eff 162.9deg,#03ebff 164.7deg,#00f4ff 164.8deg,#00ffe8 165.4deg,#00f0a5 166.5deg,#00cf53 167.5deg,#00cf53 170.9deg,#00f0a5 172deg,#00ffe8 173deg,#00f4ff 173.6deg,#03ebff 173.7deg,#286eff 176.2deg,#2f63f8 177.1deg,#3755ee 182.8deg,#4242e2 195deg,#4242e1 197.5deg,#4141d5 262.7deg,#4141d5 360deg)"></i><i style="left:69px;top:69px;width:252px;height:252px;background:conic-gradient(from -63.8deg,#4141d5 0deg,#4242e2 5.5deg,#3755ee 8.3deg,#2f62f7 14.4deg,#286eff 15.4deg,#2184ff 15.8deg,#00f4ff 16.9deg,#00f5fd 16.9deg,#00ffe8 17.9deg,#00fad3 18.5deg,#00f0a5 19.1deg,#00c63f 20.1deg,#00bc24 22.6deg,#00ec9b 27.4deg,#00f0a5 27.7deg,#00ffe8 30.3deg,#00f8f6 31.3deg,#00f4ff 32.5deg,#0dc7ff 35.1deg,#286eff 40.1deg,#2a6bfd 40.8deg,#3755ee 51deg,#4242e2 56.2deg,#4141d5 66.4deg,#4141d5 141deg,#4242e2 150.5deg,#3755ee 155.4deg,#325ef4 161.6deg,#286eff 162.6deg,#03ebff 164.4deg,#00f4ff 164.5deg,#00ffe8 165.1deg,#00f0a5 166.1deg,#00cf54 167.2deg,#00cf54 170.5deg,#00f0a5 171.5deg,#00ffe8 172.6deg,#00f4ff 173.2deg,#03ebff 173.3deg,#286eff 175.8deg,#2f63f8 176.6deg,#3755ee 182.2deg,#4242e2 192.3deg,#4242df 196.7deg,#4141d5 262.1deg,#4141d5 360deg)"></i><i style="left:72px;top:72px;width:246px;height:246px;background:conic-gradient(from -64.6deg,#4141d5 0deg,#4242e2 5.4deg,#3755ee 8.1deg,#2f62f7 14.1deg,#286eff 15.1deg,#2184ff 15.5deg,#00f4ff 16.5deg,#00f5fd 16.6deg,#00ffe8 17.6deg,#00fad3 18.2deg,#00f0a5 18.7deg,#00c73f 19.7deg,#00bc25 22.2deg,#00ec9b 26.9deg,#00f0a5 27.2deg,#00ffe8 29.7deg,#00f8f6 30.7deg,#00f4ff 31.9deg,#0dc7ff 34.4deg,#286eff 39.3deg,#2a6bfd 40.1deg,#3755ee 50.1deg,#4242e2 55.2deg,#4141d5 65.1deg,#4141d5 140.8deg,#4242e2 150.3deg,#3755ee 155.2deg,#325ef4 161.2deg,#286eff 162.2deg,#03ebff 164deg,#00f4ff 164.1deg,#00ffe8 164.8deg,#00f0a5 165.9deg,#00d86b 166.7deg,#00d86b 170deg,#00f0a5 170.8deg,#00ffe8 172deg,#00f4ff 172.7deg,#03ebff 172.8deg,#286eff 175.2deg,#2f63f8 176.1deg,#3755ee 181.6deg,#4242e2 190.2deg,#4141dd 195.9deg,#4141d5 261.6deg,#4141d5 360deg)"></i><i style="left:75px;top:75px;width:240px;height:240px;background:conic-gradient(from -65.5deg,#4141d5 0deg,#4242e2 5.3deg,#3755ee 8deg,#2f62f7 13.8deg,#286eff 14.8deg,#2184ff 15.2deg,#00f4ff 16.2deg,#00f5fd 16.3deg,#00ffe8 17.2deg,#00fad3 17.8deg,#00f0a5 18.4deg,#00c740 19.3deg,#00bc26 21.8deg,#00ec9c 26.4deg,#00f0a5 26.7deg,#00ffe8 29.2deg,#00f8f6 30.1deg,#00f4ff 31.3deg,#0dc7ff 33.8deg,#286eff 38.6deg,#2a6bfd 39.3deg,#3755ee 49.1deg,#4242e2 54.1deg,#4141d5 63.9deg,#4141d5 140.4deg,#4242e2 149.8deg,#3755ee 154.6deg,#325ef4 160.5deg,#286eff 161.5deg,#03ebff 163.3deg,#00f4ff 163.6deg,#00ffe8 165.6deg,#00fde0 166deg,#00fde0 169.2deg,#00ffe8 169.7deg,#00f4ff 171.6deg,#03ebff 172deg,#286eff 174.4deg,#2f63f8 175.2deg,#3755ee 180.6deg,#4242e2 188.1deg,#4141dc 194.8deg,#4141d5 261.1deg,#4141d5 360deg)"></i><i style="left:78px;top:78px;width:234px;height:234px;background:conic-gradient(from -66.3deg,#4141d5 0deg,#4242e2 5.2deg,#3755ee 7.8deg,#2f62f7 13.5deg,#286eff 14.5deg,#2184ff 14.9deg,#00f4ff 15.9deg,#00f5fd 16deg,#00ffe8 16.9deg,#00fad3 17.5deg,#00f0a5 18deg,#00c740 19deg,#00bc26 21.4deg,#00ec9c 25.9deg,#00f0a5 26.1deg,#00ffe8 28.6deg,#00f8f6 29.5deg,#00f4ff 30.7deg,#0dc7ff 33.1deg,#286eff 37.8deg,#2a6bfd 38.5deg,#3755ee 48.2deg,#4242e2 53.1deg,#4141d5 62.6deg,#4141d5 140.1deg,#4242e2 149.3deg,#3755ee 154deg,#325ef4 159.9deg,#286eff 161.4deg,#18a2ff 162.6deg,#18a2ff 165.3deg,#18a2ff 168.5deg,#18a2ff 171.2deg,#286eff 172.9deg,#2f63f8 174.4deg,#3755ee 179.8deg,#4242e2 186.3deg,#4141da 193.7deg,#4141d5 260.6deg,#4141d5 360deg)"></i><i style="left:81px;top:81px;width:228px;height:228px;background:conic-gradient(from -67.4deg,#4141d5 0deg,#4242e2 5.1deg,#3755ee 7.7deg,#2f62f7 13.3deg,#286eff 14.2deg,#2184ff 14.6deg,#00f4ff 15.6deg,#00f5fd 15.6deg,#00ffe8 16.6deg,#00fad3 17.1deg,#00f0a5 17.7deg,#00c741 18.6deg,#00bd27 20.9deg,#00ec9c 25.4deg,#00f0a5 25.6deg,#00ffe8 28deg,#00f8f6 28.9deg,#00f4ff 30.1deg,#0dc7ff 32.5deg,#286eff 37.1deg,#2a6bfd 37.8deg,#3755ee 47.2deg,#4242e2 52deg,#4141d5 61.4deg,#4141d5 139.9deg,#4242e2 149.1deg,#3754ee 153.7deg,#3754ee 159.5deg,#3754ee 162.2deg,#3754ee 164.8deg,#3754ee 168deg,#3754ee 170.6deg,#3754ee 173.8deg,#3754ee 179.1deg,#4242e2 184.8deg,#4141d9 192.9deg,#4141d5 260.3deg,#4141d5 360deg)"></i><i style="left:84px;top:84px;width:222px;height:222px;background:conic-gradient(from -68.5deg,#4141d5 0deg,#4242e2 5deg,#3755ee 7.5deg,#2f62f7 13deg,#286eff 13.9deg,#2184ff 14.3deg,#00f4ff 15.3deg,#00f5fd 15.3deg,#00ffe8 16.2deg,#00fad3 16.8deg,#00f0a5 17.3deg,#00c741 18.2deg,#00bd27 20.5deg,#00ed9d 24.9deg,#00f0a5 25.1deg,#00ffe8 27.5deg,#00f8f6 28.3deg,#00f4ff 29.5deg,#0dc7ff 31.8deg,#286eff 36.3deg,#2a6bfd 37deg,#3755ee 46.2deg,#4242e2 51deg,#4141d5 60.1deg,#4141d5 139.8deg,#4141db 153.4deg,#4141db 159.1deg,#4141db 161.7deg,#4141db 164.3deg,#4141db 167.5deg,#4141db 170.1deg,#4141db 173.2deg,#4141db 178.4deg,#4141d7 192deg,#4141d5 260.1deg,#4141d5 360deg)"></i><i style="left:87px;top:87px;width:216px;height:216px;background:conic-gradient(from -69.6deg,#4141d5 0deg,#4242e2 4.9deg,#3755ee 7.4deg,#2f62f7 12.7deg,#286eff 13.6deg,#2184ff 14deg,#00f4ff 15deg,#00f5fd 15deg,#00ffe8 15.9deg,#00fad3 16.4deg,#00f0a5 16.9deg,#00c842 17.8deg,#00bd28 20.1deg,#00ed9d 24.3deg,#00f0a5 24.6deg,#00ffe8 26.9deg,#00f8f6 27.7deg,#00f4ff 28.9deg,#0dc7ff 31.1deg,#286eff 35.6deg,#2a6bfd 36.2deg,#3755ee 45.3deg,#4242e2 49.9deg,#4141d5 58.9deg,#4141d5 139.6deg,#4141d5 153deg,#4141d5 158.7deg,#4141d5 161.3deg,#4141d5 163.9deg,#4141d5 166.9deg,#4141d5 169.5deg,#4141d5 172.6deg,#4141d5 177.8deg,#4141d6 191.2deg,#4141d5 259.8deg,#4141d5 360deg)"></i><i style="left:90px;top:90px;width:210px;height:210px;background:conic-gradient(from -70.6deg,#4141d5 0deg,#4242e2 4.8deg,#3755ee 7.2deg,#2f62f7 12.5deg,#286eff 13.3deg,#2184ff 13.7deg,#00f4ff 14.6deg,#00f5fd 14.7deg,#00ffe8 15.6deg,#00fad3 16.1deg,#00f0a5 16.6deg,#00c843 17.5deg,#00bd29 19.7deg,#00ed9d 23.8deg,#00f0a5 24deg,#00ffe8 26.3deg,#00f8f6 27.1deg,#00f4ff 28.3deg,#0dc7ff 30.5deg,#286eff 34.8deg,#2a6bfd 35.5deg,#3755ee 44.3deg,#4242e2 48.8deg,#4141d5 57.6deg,#4141d5 139.5deg,#4141d5 152.7deg,#4141d5 158.3deg,#4141d5 160.8deg,#4141d5 163.4deg,#4141d5 166.4deg,#4141d5 169deg,#4141d5 172deg,#4141d5 177.1deg,#4141d5 190.3deg,#4141d5 259.6deg,#4141d5 360deg)"></i><i style="left:93px;top:93px;width:204px;height:204px;background:conic-gradient(from -71.7deg,#4141d5 0deg,#4242e2 4.7deg,#3755ee 7deg,#2f62f7 12.2deg,#286eff 13.1deg,#2184ff 13.4deg,#00f4ff 14.3deg,#00f5fd 14.4deg,#00ffe8 15.2deg,#00fad3 15.7deg,#00f0a5 16.2deg,#00c843 17.1deg,#00be29 19.2deg,#00ed9e 23.3deg,#00f0a5 23.5deg,#00ffe8 25.7deg,#00f8f6 26.6deg,#00f4ff 27.6deg,#0dc7ff 29.8deg,#286eff 34.1deg,#2a6bfd 34.7deg,#3755ee 43.4deg,#4242e2 47.8deg,#4141d5 56.4deg,#4141d5 138.3deg,#4141d5 151.3deg,#4141d5 156.8deg,#4141d5 159.3deg,#4141d5 161.8deg,#4141d5 164.8deg,#4141d5 167.3deg,#4141d5 170.3deg,#4141d5 175.4deg,#4141d5 188.4deg,#4141d5 259.4deg,#4141d5 360deg)"></i><i style="left:96px;top:96px;width:198px;height:198px;background:conic-gradient(from -72.8deg,#4141d5 0deg,#4242e2 4.5deg,#3755ee 6.9deg,#2f62f7 11.9deg,#286eff 12.8deg,#2184ff 13.1deg,#00f4ff 14deg,#00f5fd 14deg,#00ffe8 14.9deg,#00fad3 15.4deg,#00f0a5 15.9deg,#00c844 16.7deg,#00be2a 18.8deg,#00ed9e 22.8deg,#00f0a5 23deg,#00ffe8 25.2deg,#00f8f6 26deg,#00f4ff 27deg,#0dc7ff 29.2deg,#286eff 33.3deg,#2a6bfd 33.9deg,#3755ee 42.4deg,#4242e2 46.7deg,#4141d5 55.1deg,#4141d5 135.9deg,#4141d5 149.2deg,#4141d5 154.9deg,#4141d5 157.4deg,#4141d5 160deg,#4141d5 163.1deg,#4141d5 165.7deg,#4141d5 168.7deg,#4141d5 173.9deg,#4141d5 187.2deg,#4141d5 259.2deg,#4141d5 360deg)"></i><i style="left:99px;top:99px;width:192px;height:192px;background:conic-gradient(from -73.9deg,#4141d5 0deg,#4242e2 4.4deg,#3755ee 6.7deg,#2f62f7 11.7deg,#286eff 12.5deg,#2184ff 12.8deg,#00f4ff 13.7deg,#00f5fd 13.7deg,#00ffe8 14.5deg,#00fad3 15deg,#00f0a5 15.5deg,#00c944 16.3deg,#00be2a 18.4deg,#00ed9e 22.3deg,#00f0a5 22.4deg,#00ffe8 24.6deg,#00f8f6 25.4deg,#00f4ff 26.4deg,#0dc7ff 28.5deg,#286eff 32.5deg,#2a6bfd 33.2deg,#3755ee 41.4deg,#4242e2 45.7deg,#4141d5 53.9deg,#4141d5 133.2deg,#4141d5 147deg,#4141d5 152.9deg,#4141d5 155.5deg,#4141d5 158.2deg,#4141d5 161.4deg,#4141d5 164deg,#4141d5 167.2deg,#4141d5 172.5deg,#4141d5 186.3deg,#4141d5 259deg,#4141d5 360deg)"></i><i style="left:102px;top:102px;width:186px;height:186px;background:conic-gradient(from -75deg,#4141d5 0deg,#4242e2 4.3deg,#3755ee 6.6deg,#2f62f7 11.4deg,#286eff 12.2deg,#2184ff 12.5deg,#00f4ff 13.4deg,#00f5fd 13.4deg,#00ffe8 14.2deg,#00fad3 14.7deg,#00f0a5 15.1deg,#00c945 15.9deg,#00be2b 18deg,#00ed9f 21.8deg,#00f0a5 21.9deg,#00ffe8 24deg,#00f8f6 24.8deg,#00f4ff 25.8deg,#0dc7ff 27.8deg,#286eff 31.8deg,#2a6bfd 32.4deg,#3755ee 40.5deg,#4242e2 44.6deg,#4141d5 52.6deg,#4141d5 130.7deg,#4141d5 144.9deg,#4141d5 151deg,#4141d5 153.7deg,#4141d5 156.4deg,#4141d5 159.7deg,#4141d5 162.5deg,#4141d5 165.7deg,#4141d5 171.2deg,#4141d5 185.4deg,#4141d5 258.8deg,#4141d5 360deg)"></i><i style="left:105px;top:105px;width:180px;height:180px;background:conic-gradient(from -76.5deg,#4141d5 0deg,#4242e2 4.3deg,#3755ee 6.6deg,#2f62f7 11.4deg,#286eff 12.2deg,#2184ff 12.6deg,#00f4ff 13.4deg,#00f5fd 13.4deg,#00ffe8 14.2deg,#00fad3 14.7deg,#00f0a5 15.2deg,#00c945 15.9deg,#00bf2c 18deg,#00ee9f 21.8deg,#00f0a5 21.9deg,#00ffe8 24deg,#00f8f6 24.8deg,#00f4ff 25.8deg,#0dc7ff 27.8deg,#286eff 31.8deg,#2a6bfd 32.4deg,#3755ee 40.5deg,#4242e2 44.6deg,#4141d5 52.6deg,#4141d5 129.2deg,#4141d5 143.9deg,#4141d5 150.1deg,#4141d5 152.9deg,#4141d5 155.7deg,#4141d5 159.1deg,#4141d5 161.9deg,#4141d5 165.3deg,#4141d5 170.9deg,#4141d5 185.6deg,#4141d5 259.1deg,#4141d5 360deg)"></i><i style="left:108px;top:108px;width:174px;height:174px;background:conic-gradient(from -78.5deg,#4141d5 0deg,#4242e2 4.5deg,#3755ee 6.7deg,#2f62f7 11.7deg,#286eff 12.5deg,#2184ff 12.9deg,#00f4ff 13.7deg,#00f5fd 13.7deg,#00ffe8 14.6deg,#00fad3 15deg,#00f0a5 15.5deg,#00c946 16.3deg,#00bf2c 18.4deg,#00ee9f 22.3deg,#00f0a5 22.5deg,#00ffe8 24.6deg,#00f8f6 25.4deg,#00f4ff 26.5deg,#0dc7ff 28.5deg,#286eff 32.6deg,#2a6bfd 33.2deg,#3755ee 41.5deg,#4242e2 45.7deg,#4141d5 54deg,#4141d5 128.1deg,#4141d5 143.2deg,#4141d5 149.6deg,#4141d5 152.5deg,#4141d5 155.4deg,#4141d5 158.9deg,#4141d5 161.8deg,#4141d5 165.3deg,#4141d5 171.1deg,#4141d5 186.2deg,#4141d5 259.8deg,#4141d5 360deg)"></i><i style="left:111px;top:111px;width:168px;height:168px;background:conic-gradient(from -80.5deg,#4141d5 0deg,#4242e2 4.6deg,#3755ee 6.9deg,#2f62f7 12deg,#286eff 12.8deg,#2184ff 13.2deg,#00f4ff 14deg,#00f5fd 14.1deg,#00ffe8 14.9deg,#00fad3 15.4deg,#00f0a5 15.9deg,#00c946 16.7deg,#00bf2d 18.9deg,#00eea0 22.8deg,#00f0a5 23deg,#00ffe8 25.2deg,#00f8f6 26deg,#00f4ff 27.1deg,#0dc7ff 29.2deg,#286eff 33.4deg,#2a6bfd 34deg,#3755ee 42.5deg,#4242e2 46.8deg,#4141d5 55.2deg,#4141d5 127deg,#4141d5 142.5deg,#4141d5 149.1deg,#4141d5 152.1deg,#4141d5 155.1deg,#4141d5 158.6deg,#4141d5 161.6deg,#4141d5 165.2deg,#4141d5 171.2deg,#4141d5 186.7deg,#4141d5 260.5deg,#4141d5 360deg)"></i><i style="left:114px;top:114px;width:162px;height:162px;background:conic-gradient(from -82.5deg,#4141d5 0deg,#4242e2 4.7deg,#3755ee 7.1deg,#2f62f7 12.2deg,#286eff 13.1deg,#2184ff 13.5deg,#00f4ff 14.4deg,#00f5fd 14.4deg,#00ffe8 15.3deg,#00fad3 15.8deg,#00f0a5 16.3deg,#00ca47 17.1deg,#00bf2d 19.3deg,#00eea0 23.4deg,#00f0a5 23.5deg,#00ffe8 25.8deg,#00f8f6 26.6deg,#00f4ff 27.7deg,#0dc7ff 29.9deg,#286eff 34.2deg,#2a6bfd 34.8deg,#3755ee 43.5deg,#4242e2 47.9deg,#4141d5 56.5deg,#4141d5 125.3deg,#4141d5 141.5deg,#4141d5 148.4deg,#4141d5 151.6deg,#4141d5 154.7deg,#4141d5 158.5deg,#4141d5 161.6deg,#4141d5 165.4deg,#4141d5 171.6deg,#4141d5 187.9deg,#4141d5 261.3deg,#4141d5 360deg)"></i><i style="left:117px;top:117px;width:156px;height:156px;background:conic-gradient(from -84.5deg,#4141d5 0deg,#4242e2 4.8deg,#3755ee 7.2deg,#2f62f7 12.5deg,#286eff 13.4deg,#2184ff 13.8deg,#00f4ff 14.7deg,#00f5fd 14.7deg,#00ffe8 15.6deg,#00fad3 16.1deg,#00f0a5 16.7deg,#00ca47 17.5deg,#00c02e 19.7deg,#00eea0 23.9deg,#00f0a5 24deg,#00ffe8 26.4deg,#00f8f6 27.3deg,#00f4ff 28.4deg,#0dc7ff 30.6deg,#286eff 34.9deg,#2a6bfd 35.6deg,#3755ee 44.5deg,#4242e2 49deg,#4141d5 57.9deg,#4141d5 123.4deg,#4141d5 140.5deg,#4141d5 147.8deg,#4141d5 151.1deg,#4141d5 154.4deg,#4141d5 158.3deg,#4141d5 161.6deg,#4141d5 165.6deg,#4141d5 172.1deg,#4141d5 189.3deg,#4141d5 262deg,#4141d5 360deg)"></i><i style="left:120px;top:120px;width:150px;height:150px;background:conic-gradient(from -86.4deg,#4141d5 0deg,#4242e2 4.9deg,#3755ee 7.4deg,#2f62f7 12.8deg,#286eff 13.7deg,#2184ff 14.1deg,#00f4ff 15deg,#00f5fd 15.1deg,#00ffe8 16deg,#00fad3 16.5deg,#00f0a5 17deg,#00ca48 17.9deg,#00c02f 20.2deg,#00eea1 24.5deg,#00f0a5 24.6deg,#00ffe8 27deg,#00f8f6 27.9deg,#00f4ff 29deg,#0dc7ff 31.3deg,#286eff 35.7deg,#2a6bfd 36.4deg,#3755ee 45.5deg,#4242e2 50.1deg,#4141d5 59.1deg,#4141d5 121.5deg,#4141d5 139.5deg,#4141d5 147.1deg,#4141d5 150.5deg,#4141d5 154deg,#4141d5 158.1deg,#4141d5 161.6deg,#4141d5 165.7deg,#4141d5 172.6deg,#4141d5 190.6deg,#4141d5 262.7deg,#4141d5 360deg)"></i><i style="left:123px;top:123px;width:144px;height:144px;background:conic-gradient(from -88.4deg,#4141d5 0deg,#4242e2 5deg,#3755ee 7.6deg,#2f62f7 13.1deg,#286eff 14deg,#2184ff 14.4deg,#00f4ff 15.4deg,#00f5fd 15.4deg,#00ffe8 16.3deg,#00fad3 16.9deg,#00f0a5 17.4deg,#00ca48 18.3deg,#00c02f 20.6deg,#00eea1 25deg,#00f0a5 25.1deg,#00ffe8 27.6deg,#00f8f6 28.5deg,#00f4ff 29.6deg,#0dc7ff 32deg,#286eff 36.5deg,#2a6bfd 37.2deg,#3755ee 46.5deg,#4242e2 51.2deg,#4141d5 60.5deg,#4141d5 119.6deg,#4141d5 138.4deg,#4141d5 146.4deg,#4141d5 150deg,#4141d5 153.6deg,#4141d5 158deg,#4141d5 161.6deg,#4141d5 165.9deg,#4141d5 173.2deg,#4141d5 192deg,#4141d5 263.4deg,#4141d5 360deg)"></i><i style="left:126px;top:126px;width:138px;height:138px;background:conic-gradient(from -90.4deg,#4141d5 0deg,#4242e2 5.1deg,#3755ee 7.7deg,#2f62f7 13.4deg,#286eff 14.3deg,#2184ff 14.7deg,#00f4ff 15.7deg,#00f5fd 15.7deg,#00ffe8 16.7deg,#00fad3 17.2deg,#00f0a5 17.8deg,#00cb49 18.7deg,#00c030 21.1deg,#00eea1 25.5deg,#00f0a5 25.6deg,#00ffe8 28.2deg,#00f8f6 29.1deg,#00f4ff 30.3deg,#0dc7ff 32.7deg,#286eff 37.3deg,#2a6bfd 38deg,#3755ee 47.5deg,#4242e2 52.3deg,#4141d5 61.8deg,#4141d5 118deg,#4141d5 137.7deg,#4141d5 146deg,#4141d5 149.8deg,#4141d5 153.6deg,#4141d5 158.2deg,#4141d5 161.9deg,#4141d5 166.5deg,#4141d5 174.1deg,#4141d5 193.7deg,#4141d5 264.1deg,#4141d5 360deg)"></i><i style="left:129px;top:129px;width:132px;height:132px;background:conic-gradient(from -92.8deg,#4141d5 0deg,#4242e2 5.3deg,#3755ee 8deg,#2f62f7 13.8deg,#286eff 14.8deg,#2184ff 15.2deg,#00f4ff 16.2deg,#00f5fd 16.3deg,#00ffe8 17.3deg,#00fad3 17.8deg,#00f0a5 18.4deg,#00cb4a 19.4deg,#00c030 21.8deg,#00efa2 26.4deg,#00f0a5 26.5deg,#00ffe8 29.2deg,#00f8f6 30.1deg,#00f4ff 31.3deg,#0dc7ff 33.8deg,#286eff 38.6deg,#2a6bfd 39.3deg,#3755ee 49.2deg,#4242e2 54.2deg,#4141d5 63.9deg,#4141d5 116.5deg,#4141d5 137.3deg,#4141d5 146.1deg,#4141d5 150.1deg,#4141d5 154.1deg,#4141d5 158.9deg,#4141d5 162.9deg,#4141d5 167.7deg,#4141d5 175.7deg,#4141d5 196.5deg,#4141d5 265.3deg,#4141d5 360deg)"></i><i style="left:132px;top:132px;width:126px;height:126px;background:conic-gradient(from -95.6deg,#4141d5 0deg,#4242e2 5.5deg,#3755ee 8.4deg,#2f62f7 14.5deg,#286eff 15.5deg,#2184ff 16deg,#00f4ff 17deg,#00f5fd 17deg,#00ffe8 18.1deg,#00fad3 18.7deg,#00f0a5 19.3deg,#00cb4a 20.3deg,#00c131 22.8deg,#00efa2 27.7deg,#00f0a5 27.8deg,#00ffe8 30.5deg,#00f8f6 31.5deg,#00f4ff 32.8deg,#0dc7ff 35.4deg,#286eff 40.4deg,#2a6bfd 41.2deg,#3755ee 51.5deg,#4242e2 56.7deg,#4141d5 66.9deg,#4141d5 115.3deg,#4141d5 137.2deg,#4141d5 146.5deg,#4141d5 150.7deg,#4141d5 154.9deg,#4141d5 160deg,#4141d5 164.2deg,#4141d5 169.3deg,#4141d5 177.7deg,#4141d5 199.6deg,#4141d5 266.8deg,#4141d5 360deg)"></i><i style="left:135px;top:135px;width:120px;height:120px;background:conic-gradient(from -98.5deg,#4141d5 0deg,#4242e2 5.8deg,#3755ee 8.7deg,#2f62f7 15.1deg,#286eff 16.2deg,#2184ff 16.7deg,#00f4ff 17.8deg,#00f5fd 17.8deg,#00ffe8 18.9deg,#00fad3 19.5deg,#00f0a5 20.2deg,#00ce52 21.2deg,#00c43a 23.9deg,#00f0a5 28.8deg,#00f0a6 28.9deg,#00ffe8 31.8deg,#00f8f6 32.9deg,#00f4ff 34.3deg,#0dc7ff 37deg,#286eff 42.2deg,#2a6bfd 43deg,#3755ee 53.8deg,#4242e2 59.3deg,#4141d5 69.9deg,#4141d5 114.2deg,#4141d5 137.2deg,#4141d5 147deg,#4141d5 151.4deg,#4141d5 155.8deg,#4141d5 161.1deg,#4141d5 165.6deg,#4141d5 170.9deg,#4141d5 179.7deg,#4141d5 202.8deg,#4141d5 268.4deg,#4141d5 360deg)"></i><i style="left:138px;top:138px;width:114px;height:114px;background:conic-gradient(from -101.3deg,#4141d6 0deg,#4242e2 5.9deg,#3755ee 9.1deg,#2f62f7 15.8deg,#286eff 16.9deg,#2184ff 17.4deg,#00f4ff 18.5deg,#00f5fd 18.6deg,#00ffe8 19.7deg,#00fad3 20.3deg,#00f0a5 21.1deg,#00d562 22.1deg,#00cb4b 24.9deg,#00f0a5 29.5deg,#00f2ae 30.1deg,#00ffe8 33.1deg,#00f8f6 34.3deg,#00f4ff 35.7deg,#0dc7ff 38.6deg,#286eff 44deg,#2a6bfd 44.9deg,#3755ee 56.1deg,#4242e2 62deg,#4141d6 72.9deg,#4141d6 113deg,#4141d6 137.2deg,#4141d5 147.4deg,#4141d5 152deg,#4141d5 156.7deg,#4141d5 162.3deg,#4141d5 166.9deg,#4141d5 172.5deg,#4141d6 181.8deg,#4141d6 205.9deg,#4141d6 269.9deg,#4141d6 360deg)"></i><i style="left:141px;top:141px;width:108px;height:108px;background:conic-gradient(from -104.1deg,#4141d7 0deg,#4242e2 5.9deg,#3755ee 9.5deg,#2f62f7 16.4deg,#286eff 17.6deg,#2184ff 18.1deg,#00f4ff 19.3deg,#00f5fd 19.3deg,#00ffe8 20.5deg,#00fad3 21.2deg,#00f0a5 22.1deg,#00db71 23deg,#00d35d 25.9deg,#00f0a5 30.2deg,#00f4b6 31.4deg,#00ffe8 34.3deg,#00f8f6 35.8deg,#00f4ff 37.2deg,#0dc7ff 40.1deg,#286eff 45.9deg,#2a6bfd 46.7deg,#3755ee 58.4deg,#4242e2 65.1deg,#4141d7 75.9deg,#4141d7 111.9deg,#4141d7 137.2deg,#4141d5 147.8deg,#4141d5 152.7deg,#4141d5 157.6deg,#4141d5 163.4deg,#4141d5 168.2deg,#4141d5 174.1deg,#4141d7 183.8deg,#4141d7 209deg,#4141d7 271.5deg,#4141d7 360deg)"></i><i style="left:144px;top:144px;width:102px;height:102px;background:conic-gradient(from -106.9deg,#4141d9 0deg,#4242e2 5.7deg,#3755ee 9.9deg,#2f62f7 17.1deg,#286eff 18.3deg,#2184ff 18.8deg,#00f4ff 20.1deg,#00f5fd 20.1deg,#00ffe8 21.3deg,#00fad3 22deg,#00f0a5 23.2deg,#00e181 23.9deg,#00da6e 26.9deg,#00f0a5 30.6deg,#00f5bd 32.6deg,#00ffe8 35.5deg,#00f8f6 37.2deg,#00f4ff 38.7deg,#0dc7ff 41.7deg,#286eff 47.7deg,#2a6bfd 48.6deg,#3755ee 60.7deg,#4242e2 68.3deg,#4141d9 78.9deg,#4141d9 110.8deg,#4141d9 137.1deg,#4141d5 148.3deg,#4141d5 153.4deg,#4141d5 158.4deg,#4141d5 164.5deg,#4141d5 169.6deg,#4141d5 175.7deg,#4141d9 185.8deg,#4141d9 212.2deg,#4141d9 273deg,#4141d9 360deg)"></i><i style="left:147px;top:147px;width:96px;height:96px;background:conic-gradient(from -109.8deg,#4141da 0deg,#4242e2 5.5deg,#3755ee 10.2deg,#2f62f7 17.7deg,#286eff 19deg,#2184ff 19.5deg,#00f4ff 20.8deg,#00f5fd 20.9deg,#00ffe8 22.1deg,#00fad3 22.8deg,#00f0a5 24.3deg,#00e891 24.8deg,#00e17f 28deg,#00f0a5 30.8deg,#00f7c5 33.9deg,#00ffe8 36.7deg,#00f8f6 38.6deg,#00f4ff 40.2deg,#0dc7ff 43.3deg,#286eff 49.5deg,#2a6bfd 50.4deg,#3755ee 63deg,#4242e2 71.7deg,#4141da 81.9deg,#4141da 109.3deg,#4141da 137deg,#4141d5 148.7deg,#4141d5 154.1deg,#4141d5 159.4deg,#4141d5 165.8deg,#4141d5 171.1deg,#4141d5 177.5deg,#4141da 188.1deg,#4141da 215.8deg,#4141da 274.6deg,#4141da 360deg)"></i><i style="left:150px;top:150px;width:90px;height:90px;background:conic-gradient(from -112.6deg,#4141dc 0deg,#4242e2 5.2deg,#3755ee 10.6deg,#2f62f7 18.4deg,#286eff 19.7deg,#2184ff 20.2deg,#00f4ff 21.6deg,#00f5fd 21.6deg,#00ffe8 22.9deg,#00fad3 23.7deg,#00f0a5 25.6deg,#00eea0 25.7deg,#00e891 29deg,#00f0a5 30.8deg,#00f9cc 35.1deg,#00ffe8 37.7deg,#00f8f6 40deg,#00f4ff 41.6deg,#0dc7ff 44.9deg,#286eff 51.3deg,#2a6bfd 52.2deg,#3755ee 65.3deg,#4242e2 75.3deg,#4141dc 84.9deg,#4141dc 106.5deg,#4141dc 136.5deg,#4141d5 149.2deg,#4141d5 154.9deg,#4141d5 160.7deg,#4141d5 167.6deg,#4141d5 173.4deg,#4141d5 180.3deg,#4141dc 191.8deg,#4141dc 221.8deg,#4141dc 276.2deg,#4141dc 360deg)"></i><i style="left:153px;top:153px;width:84px;height:84px;background:conic-gradient(from -115.4deg,#4141dd 0deg,#4242e2 4.6deg,#3755ee 11deg,#2f62f7 19deg,#286eff 20.4deg,#2184ff 21deg,#00f4ff 22.3deg,#00f5fd 22.4deg,#00ffe8 23.7deg,#00fad3 24.5deg,#00f2ae 26.6deg,#00f0a5 29.3deg,#00efa2 30deg,#00f0a5 30.3deg,#00fad4 36.3deg,#00ffe8 38.6deg,#00f8f6 41.4deg,#00f4ff 43.1deg,#0dc7ff 46.5deg,#286eff 53.1deg,#2a6bfd 54.1deg,#3755ee 67.6deg,#4242e2 79.3deg,#4141dd 87.9deg,#4141dd 103.7deg,#4141dd 135.9deg,#4141d5 149.6deg,#4141d5 155.8deg,#4141d5 162deg,#4141d5 169.5deg,#4141d5 175.7deg,#4141d5 183.1deg,#4141dd 195.6deg,#4141dd 227.9deg,#4141dd 277.7deg,#4141dd 360deg)"></i><i style="left:156px;top:156px;width:78px;height:78px;background:conic-gradient(from -119.5deg,#4242df 0deg,#4242e2 3.9deg,#3755ee 11.6deg,#2f62f7 20.1deg,#286eff 21.5deg,#2184ff 22.2deg,#00f4ff 23.6deg,#00f5fd 23.7deg,#00ffe8 25.1deg,#00fad3 25.9deg,#00f5bc 28.2deg,#00f3b2 31.7deg,#00fcdc 38.4deg,#00ffe8 40.2deg,#00f8f6 43.8deg,#00f4ff 45.6deg,#0dc7ff 49.2deg,#286eff 56.2deg,#2a6bfd 57.2deg,#3755ee 71.5deg,#4242e2 85.7deg,#4242df 93deg,#4242df 102.1deg,#4242df 136.7deg,#4141d5 151.3deg,#4141d5 158deg,#4141d5 164.6deg,#4141d5 172.6deg,#4141d5 179.2deg,#4141d5 187.2deg,#4242df 200.5deg,#4242df 235.1deg,#4242df 280.5deg,#4242df 360deg)"></i><i style="left:159px;top:159px;width:72px;height:72px;background:conic-gradient(from -123.8deg,#4242e0 0deg,#4242e2 2.8deg,#3755ee 12.3deg,#2f62f7 21.3deg,#286eff 22.8deg,#2184ff 23.5deg,#00f4ff 25deg,#00f5fd 25.1deg,#00ffe8 26.6deg,#00fad3 27.4deg,#00f8ca 29.8deg,#00f7c2 33.6deg,#00fee5 40.7deg,#00ffe8 41.3deg,#00f8f6 46.4deg,#00f4ff 48.3deg,#0dc7ff 52deg,#286eff 59.4deg,#2a6bfd 60.6deg,#3755ee 75.7deg,#4242e2 93.2deg,#4242e0 98.4deg,#4242e0 100.7deg,#4242e0 137.6deg,#4141d5 153.2deg,#4141d5 160.3deg,#4141d5 167.4deg,#4141d5 176deg,#4141d5 183.1deg,#4141d5 191.6deg,#4242e0 205.8deg,#4242e0 242.7deg,#4242e0 283.6deg,#4242e0 360deg)"></i><i style="left:162px;top:162px;width:66px;height:66px;background:conic-gradient(from -128.2deg,#4242e1 0deg,#4242e2 0.9deg,#3755ee 13deg,#2f62f7 22.5deg,#286eff 24.1deg,#2184ff 24.8deg,#00f4ff 26.4deg,#00f5fd 26.5deg,#00ffe8 28deg,#00fad3 29deg,#00fcd8 31.5deg,#00fad2 35.5deg,#00ffe8 41.3deg,#00fdeb 42.9deg,#00f8f6 48.9deg,#00f4ff 50.9deg,#0dc7ff 54.9deg,#286eff 62.7deg,#2a6bfd 63.9deg,#3755ee 79.9deg,#4242e2 102.2deg,#4242e1 103.9deg,#4242e1 104.2deg,#4242e1 138.6deg,#4141d5 155.2deg,#4141d5 162.7deg,#4141d5 170.3deg,#4141d5 179.3deg,#4141d5 186.9deg,#4141d5 195.9deg,#4242e1 211deg,#4242e1 250.2deg,#4242e1 286.7deg,#4242e1 360deg)"></i><i style="left:165px;top:165px;width:60px;height:60px;background:conic-gradient(from -132.5deg,#4045e4 0deg,#3755ee 13.7deg,#2f62f7 23.7deg,#286eff 25.3deg,#2184ff 26.1deg,#00f4ff 27.8deg,#00f5fd 27.9deg,#00ffe8 30.1deg,#00fee2 30.5deg,#00ffe7 33.1deg,#00fee2 37.3deg,#00ffe8 39.5deg,#00fbf1 45.2deg,#00f8f6 51.5deg,#00f4ff 53.6deg,#0dc7ff 57.8deg,#286eff 66deg,#2a6bfd 67.3deg,#3755ee 84.1deg,#4045e4 109.3deg,#4045e4 109.6deg,#4045e4 139.7deg,#4242e2 140.9deg,#4141d5 157.3deg,#4141d5 165.2deg,#4141d5 173.2deg,#4141d5 182.8deg,#4141d5 190.8deg,#4141d5 200.4deg,#4242e2 215.2deg,#4045e4 216.3deg,#4045e4 257.8deg,#4045e4 289.7deg,#4045e4 360deg)"></i><i style="left:168px;top:168px;width:54px;height:54px;background:conic-gradient(from -136.9deg,#3e49e6 0deg,#3755ee 14.3deg,#2f62f7 24.8deg,#286eff 26.6deg,#2184ff 27.4deg,#00f4ff 29.2deg,#00f5fd 29.2deg,#00fcee 32deg,#00fbf0 34.8deg,#00fcee 39.2deg,#00f8f6 47.5deg,#00f8f6 54.1deg,#00f4ff 56.3deg,#0dc7ff 60.7deg,#286eff 69.3deg,#2a6bfd 70.6deg,#3755ee 88.3deg,#3e49e6 114.8deg,#3e49e6 115.1deg,#3e49e6 140.9deg,#4242e2 143.8deg,#4141d5 159.4deg,#4141d5 167.9deg,#4141d5 176.3deg,#4141d5 186.4deg,#4141d5 194.8deg,#4141d5 204.9deg,#4242e2 219.1deg,#3e49e6 221.8deg,#3e49e6 265.6deg,#3e49e6 292.8deg,#3e49e6 360deg)"></i><i style="left:171px;top:171px;width:48px;height:48px;background:conic-gradient(from -141.2deg,#3c4de9 0deg,#3755ee 15deg,#2f62f7 26deg,#286eff 27.8deg,#2184ff 28.7deg,#00f4ff 30.6deg,#00f5fd 30.6deg,#00f8f7 33.5deg,#00f7f8 36.4deg,#00f8f7 41deg,#00f6fb 49.7deg,#00f8f6 56.7deg,#00f4ff 59deg,#0dc7ff 63.6deg,#286eff 72.6deg,#2a6bfd 74deg,#3755ee 92.5deg,#3c4de9 120.2deg,#3c4de9 120.5deg,#3c4de9 143.2deg,#4242e2 147.6deg,#4141d5 162.2deg,#4141d5 170.8deg,#4141d5 179.5deg,#4141d5 189.9deg,#4141d5 198.5deg,#4141d5 208.9deg,#4242e2 222.2deg,#3c4de9 226.2deg,#3c4de9 271.2deg,#3c4de9 295.9deg,#3c4de9 360deg)"></i><i style="left:174px;top:174px;width:42px;height:42px;background:conic-gradient(from -145.3deg,#3951ec 0deg,#3755ee 15.7deg,#2f62f7 27.1deg,#286eff 29deg,#2184ff 29.9deg,#00f4ff 31.9deg,#00f5fd 31.9deg,#00f4ff 34.1deg,#00f2ff 34.9deg,#00f2ff 38deg,#00f2ff 42.8deg,#00f3ff 51.8deg,#00f4ff 52.1deg,#00f8f6 59deg,#00f4ff 61.5deg,#0dc7ff 66.3deg,#286eff 75.7deg,#2a6bfd 77.1deg,#3755ee 96.4deg,#3951ec 125.3deg,#3951ec 125.6deg,#3951ec 145.5deg,#4242e2 151.2deg,#4141d5 164.9deg,#4141d5 173.7deg,#4141d5 182.5deg,#4141d5 193.1deg,#4141d5 202deg,#4141d5 212.6deg,#4242e2 225.1deg,#3951ec 230.2deg,#3951ec 276.1deg,#3951ec 298.7deg,#3951ec 360deg)"></i><i style="left:177px;top:177px;width:36px;height:36px;background:conic-gradient(from -148.6deg,#3755ef 0deg,#3755ef 16.1deg,#2f62f7 27.8deg,#286eff 29.7deg,#2184ff 30.6deg,#00f4ff 32.6deg,#00f5fd 32.7deg,#00f4ff 33.6deg,#04e8ff 35.8deg,#03e9ff 38.9deg,#04e8ff 43.8deg,#02eeff 53.1deg,#00f4ff 54.8deg,#00f8f6 60.5deg,#00f4ff 63deg,#0dc7ff 67.9deg,#286eff 77.6deg,#2a6bfd 79deg,#3755ef 98.8deg,#3755ef 128.4deg,#3755ef 128.7deg,#3755ef 146.9deg,#4242e2 153.7deg,#4141d5 166.7deg,#4141d5 175.7deg,#4141d5 184.7deg,#4141d5 195.5deg,#4141d5 204.5deg,#4141d5 215.3deg,#4242e2 227.1deg,#3755ef 233.4deg,#3755ef 280.2deg,#3755ef 300.7deg,#3755ef 360deg)"></i><i style="left:180px;top:180px;width:30px;height:30px;background:conic-gradient(from -151.9deg,#3459f1 0deg,#3459f1 16.4deg,#2f62f7 28.5deg,#286eff 30.5deg,#2184ff 31.4deg,#00f4ff 33.4deg,#00f5fd 33.5deg,#00f4ff 34.1deg,#07deff 36.7deg,#06e0ff 39.8deg,#07deff 44.9deg,#04e8ff 54.4deg,#00f4ff 57deg,#00f8f6 62deg,#00f4ff 64.5deg,#0dc7ff 69.6deg,#286eff 79.5deg,#2a6bfd 81deg,#3459f1 101.2deg,#3459f1 131.6deg,#3459f1 131.9deg,#3459f1 148.3deg,#4242e2 156.2deg,#4141d5 168.5deg,#4141d5 177.7deg,#4141d5 186.9deg,#4141d5 197.9deg,#4141d5 207.1deg,#4141d5 218.1deg,#4242e2 229.3deg,#3459f1 236.5deg,#3459f1 284.3deg,#3459f1 302.8deg,#3459f1 360deg)"></i><i style="left:183px;top:183px;width:24px;height:24px;background:conic-gradient(from -155.2deg,#335bf3 0deg,#335bf3 16.8deg,#2f62f7 29.1deg,#286eff 31.2deg,#2184ff 32.1deg,#00f4ff 34.2deg,#00f5fd 34.3deg,#00f4ff 34.7deg,#0ad4ff 37.6deg,#09d7ff 40.8deg,#0ad4ff 46deg,#05e2ff 55.7deg,#00f4ff 59.1deg,#00f8f6 63.5deg,#00f4ff 66deg,#0dc7ff 71.2deg,#286eff 81.4deg,#2a6bfd 82.9deg,#335bf3 103.6deg,#335bf3 134.7deg,#335bf3 135deg,#335bf3 149.7deg,#4242e2 158.1deg,#4141d5 170.3deg,#4141d5 179.7deg,#4141d5 189deg,#4141d5 200.3deg,#4141d5 209.6deg,#4141d5 220.9deg,#4242e2 231.9deg,#335bf3 239.6deg,#335bf3 288.4deg,#335bf3 304.8deg,#335bf3 360deg)"></i><i style="left:186px;top:186px;width:18px;height:18px;background:conic-gradient(from -158.4deg,#335bf3 0deg,#335bf3 17.2deg,#2f62f7 29.8deg,#286eff 31.9deg,#2184ff 32.9deg,#00f4ff 35deg,#00f5fd 35.1deg,#00f4ff 35.4deg,#0ccaff 38.4deg,#0bceff 41.7deg,#0ccaff 47deg,#07ddff 57deg,#00f4ff 61deg,#00f8f6 64.9deg,#00f4ff 67.6deg,#0dc7ff 72.9deg,#286eff 83.2deg,#2a6bfd 84.8deg,#335bf3 106deg,#335bf3 137.8deg,#335bf3 138.1deg,#335bf3 151.1deg,#4242e2 159.7deg,#4141d5 172.1deg,#4141d5 181.6deg,#4141d5 191.2deg,#4141d5 202.7deg,#4141d5 212.2deg,#4141d5 223.7deg,#4242e2 234.9deg,#335bf3 242.8deg,#335bf3 292.4deg,#335bf3 306.8deg,#335bf3 360deg)"></i></div><svg width="374" height="374" viewBox="0 0 374 374"><path d="M203.3 218.2C205.0 210.7 203.3 200.5 209.4 193.7C215.5 186.9 229.8 179.4 240.0 177.4C250.2 175.4 263.0 177.4 270.5 181.5C278.0 185.6 283.8 192.4 284.8 201.9C285.8 211.4 280.7 229.0 276.6 238.5C272.5 248.0 267.1 253.5 260.3 258.9C253.5 264.3 244.4 270.4 235.9 271.1C227.4 271.8 215.5 268.4 209.4 263.0C203.3 257.6 200.2 246.0 199.2 238.5C198.2 231.0 201.6 225.7 203.3 218.2Z" fill="#3f3f9c" fill-opacity="0.95" filter="url(#b6)"/><path d="M199.2 199.8 L203.3 212.0" fill="none" stroke="#20e0c0" stroke-width="3" stroke-linecap="round" stroke-linejoin="round" filter="url(#b1)"/><path d="M211.4 197.8 L207.4 210.0" fill="none" stroke="#20c0ff" stroke-width="3" stroke-linecap="round" stroke-linejoin="round" filter="url(#b1)"/><path d="M199.0 184.0C202.0 182.2 211.5 176.5 217.0 173.0C222.5 169.5 227.2 165.3 232.0 163.0C236.8 160.7 241.3 159.4 246.0 159.1C250.7 158.8 255.2 159.8 260.3 161.1C265.4 162.4 271.9 164.5 276.6 167.2C281.4 169.9 285.6 173.6 288.8 177.4C292.0 181.2 294.8 187.9 296.0 190.0" fill="none" stroke="#2a9cff" stroke-width="17" stroke-linecap="round" stroke-linejoin="round" stroke-opacity="0.7" filter="url(#b3)"/><path d="M217.0 173.0C219.5 171.3 227.2 165.3 232.0 163.0C236.8 160.7 241.3 159.4 246.0 159.1C250.7 158.8 255.2 159.8 260.3 161.1C265.4 162.4 271.9 164.5 276.6 167.2C281.4 169.9 285.6 173.6 288.8 177.4C292.0 181.2 294.8 187.9 296.0 190.0" fill="none" stroke="#00e8e0" stroke-width="10" stroke-linecap="round" stroke-linejoin="round" stroke-opacity="0.95" filter="url(#b2)"/><path d="M246.0 159.1C248.4 159.4 255.2 159.8 260.3 161.1C265.4 162.4 271.9 164.5 276.6 167.2C281.4 169.9 285.6 173.6 288.8 177.4C292.0 181.2 294.8 187.9 296.0 190.0" fill="none" stroke="#20d040" stroke-width="6.5" stroke-linecap="round" stroke-linejoin="round" filter="url(#b1)"/><path d="M276.6 167.2C278.6 168.9 285.6 173.6 288.8 177.4C292.0 181.2 294.8 187.9 296.0 190.0" fill="none" stroke="#f0d000" stroke-width="4" stroke-linecap="round" stroke-linejoin="round" filter="url(#b1)"/><path d="M288.8 177.4 L296.0 190.0" fill="none" stroke="#f05000" stroke-width="2" stroke-linecap="round" stroke-linejoin="round" filter="url(#b1)"/><path d="M317.3 238.5C318.9 240.9 324.5 248.2 327.0 253.0C329.5 257.8 331.2 261.9 332.5 267.0C333.8 272.1 335.2 278.0 335.0 283.3C334.8 288.6 333.0 293.9 331.0 299.0C329.0 304.1 324.3 311.5 323.0 314.0" fill="none" stroke="#28d030" stroke-width="13" stroke-linecap="round" stroke-linejoin="round" filter="url(#b2)"/><path d="M327.0 253.0C327.9 255.3 331.2 261.9 332.5 267.0C333.8 272.1 335.2 278.0 335.0 283.3C334.8 288.6 333.0 293.9 331.0 299.0C329.0 304.1 324.3 311.5 323.0 314.0" fill="none" stroke="#e8e800" stroke-width="8" stroke-linecap="round" stroke-linejoin="round" filter="url(#b2)"/><path d="M332.5 267.0C332.9 269.7 335.2 278.0 335.0 283.3C334.8 288.6 333.0 293.9 331.0 299.0C329.0 304.1 324.3 311.5 323.0 314.0" fill="none" stroke="#ff7000" stroke-width="4.4" stroke-linecap="round" stroke-linejoin="round" filter="url(#b1)"/><ellipse cx="325.0" cy="297.6" rx="3.2" ry="6" transform="rotate(15 325.0 297.6)" fill="#e00020" filter="url(#b1)"/><ellipse cx="325.0" cy="297.6" rx="1.6" ry="3.6" transform="rotate(15 325.0 297.6)" fill="#ff80d0" filter="url(#b1)"/><path d="M73.3 331.6C78.1 337.3 95.3 335.5 105.3 338.1C115.3 340.7 123.7 343.3 133.4 347.1C143.1 350.9 152.2 358.2 163.5 360.8C174.8 363.3 189.4 364.2 201.4 362.4C213.5 360.6 225.2 354.5 235.6 350.0C246.0 345.5 255.8 339.9 263.8 335.3C271.7 330.8 279.6 326.7 283.2 322.7C286.9 318.8 285.7 313.6 285.8 311.6C286.0 309.5 285.5 310.5 284.2 310.4C282.9 310.4 282.7 311.6 278.2 311.3C273.6 311.0 265.9 308.8 256.8 308.7C247.8 308.5 234.0 308.9 224.0 310.4C214.0 311.9 205.3 317.4 197.0 317.6C188.6 317.8 182.9 313.6 173.9 311.8C164.9 310.1 153.5 307.9 142.8 306.9C132.1 305.9 120.9 306.3 109.9 305.9C98.9 305.5 82.8 300.1 76.7 304.4C70.6 308.6 68.6 326.0 73.3 331.6Z" fill="#00e0b0" fill-opacity="0.8" filter="url(#b3)"/><path d="M73.7 328.9C78.6 333.5 95.7 332.5 105.8 334.9C115.9 337.2 124.5 339.6 134.3 343.1C144.1 346.6 153.4 353.4 164.5 355.9C175.6 358.3 189.3 359.6 201.0 357.9C212.6 356.3 224.1 350.2 234.5 346.0C244.8 341.8 255.0 336.7 263.1 332.6C271.1 328.6 279.0 325.1 282.7 321.6C286.5 318.0 285.4 313.3 285.7 311.5C285.9 309.6 285.5 310.4 284.3 310.5C283.2 310.7 283.1 312.3 278.7 312.4C274.2 312.6 266.5 311.0 257.5 311.4C248.6 311.7 235.2 312.6 225.1 314.4C215.1 316.2 206.1 321.7 197.4 322.1C188.7 322.5 182.1 318.6 172.9 316.7C163.6 314.9 152.4 312.2 141.9 310.9C131.3 309.7 120.4 309.8 109.4 309.1C98.5 308.5 82.3 303.8 76.3 307.1C70.4 310.4 68.8 324.3 73.7 328.9Z" fill="#28d428" filter="url(#b2)"/><path d="M74.3 323.5C79.5 326.1 96.4 326.5 106.7 328.4C117.0 330.4 126.2 332.1 136.2 335.0C146.2 338.0 156.0 343.8 166.6 346.1C177.3 348.4 189.2 350.3 200.1 349.0C211.0 347.6 221.9 341.7 232.1 338.1C242.4 334.5 253.4 330.5 261.7 327.3C269.9 324.2 277.8 322.0 281.7 319.3C285.7 316.6 284.8 312.7 285.3 311.2C285.8 309.8 285.6 310.2 284.7 310.8C283.7 311.3 284.0 313.7 279.7 314.7C275.4 315.7 267.6 315.4 258.9 316.7C250.2 317.9 237.6 319.9 227.5 322.3C217.4 324.7 207.8 330.3 198.3 331.0C188.9 331.7 180.5 328.5 170.8 326.5C161.1 324.5 150.4 320.8 140.0 319.0C129.6 317.1 119.2 316.6 108.5 315.6C97.8 314.5 81.4 311.2 75.7 312.5C70.0 313.9 69.2 320.8 74.3 323.5Z" fill="#d8ec00" filter="url(#b2)"/><path d="M95.0 319.0C98.7 319.2 110.0 319.2 117.0 320.0C124.0 320.8 130.3 321.5 137.0 324.0C143.7 326.5 150.3 331.7 157.0 335.0C163.7 338.3 170.7 343.7 177.0 344.0C183.3 344.3 189.2 339.3 195.0 337.0C200.8 334.7 206.2 331.8 212.0 330.0C217.8 328.2 224.0 327.3 229.8 326.0C235.6 324.7 241.6 323.0 247.0 322.0C252.4 321.0 259.5 320.3 262.0 320.0" fill="none" stroke="#ff8800" stroke-width="7.5" stroke-linecap="round" stroke-linejoin="round" filter="url(#b2)"/><path d="M95.0 319.0C98.7 319.2 110.0 319.2 117.0 320.0C124.0 320.8 130.3 321.5 137.0 324.0C143.7 326.5 150.3 331.7 157.0 335.0C163.7 338.3 170.7 343.7 177.0 344.0C183.3 344.3 189.2 339.3 195.0 337.0C200.8 334.7 206.2 331.8 212.0 330.0C217.8 328.2 224.0 327.3 229.8 326.0C235.6 324.7 241.6 323.0 247.0 322.0C252.4 321.0 259.5 320.3 262.0 320.0" fill="none" stroke="#e82000" stroke-width="3.4" stroke-linecap="round" stroke-linejoin="round" filter="url(#b1)"/><path d="M157.0 345.0C161.2 345.8 173.7 349.7 182.0 350.0C190.3 350.3 198.7 348.8 207.0 347.0C215.3 345.2 227.8 340.3 232.0 339.0" fill="none" stroke="#ff9000" stroke-width="5" stroke-linecap="round" stroke-linejoin="round" filter="url(#b2)"/><ellipse cx="197.0" cy="333.0" rx="12" ry="2.6" transform="rotate(-8 197.0 333.0)" fill="#ff70d0" filter="url(#b1)"/><path d="M147.7 290.6C150.1 293.2 156.8 301.6 163.1 303.9C169.4 306.2 178.9 306.5 185.4 304.3C192.0 302.1 197.3 293.8 202.6 290.6C207.8 287.4 211.6 285.8 216.7 285.0C221.8 284.3 227.1 287.7 233.2 286.3C239.3 284.9 247.1 280.5 253.4 276.7C259.7 272.9 265.7 268.5 271.0 263.5C276.3 258.5 281.1 252.4 285.3 246.6C289.6 240.7 293.5 234.2 296.4 228.3C299.3 222.3 301.9 216.5 302.9 211.0C303.8 205.5 304.6 198.2 302.4 195.1C300.2 192.0 292.9 190.7 289.6 192.3C286.4 194.0 285.0 200.3 282.9 205.0C280.9 209.7 279.0 214.7 277.2 220.3C275.3 225.9 274.4 233.0 271.9 238.6C269.3 244.3 266.0 249.8 261.8 254.3C257.6 258.8 252.0 262.5 246.8 265.5C241.6 268.5 235.8 271.4 230.4 272.3C225.0 273.2 220.0 269.8 214.3 271.0C208.5 272.1 201.5 276.1 195.8 279.4C190.2 282.8 185.5 288.9 180.6 290.9C175.6 292.9 171.4 291.7 166.1 291.3C160.8 290.8 151.9 288.4 148.9 288.2C145.8 288.1 145.3 287.9 147.7 290.6Z" fill="#00e0e0" fill-opacity="0.85" filter="url(#b2)"/><path d="M147.9 290.2C150.4 292.4 157.4 300.0 163.6 302.0C169.7 304.0 178.4 304.4 184.7 302.3C191.0 300.1 196.2 292.1 201.5 288.9C206.8 285.6 211.1 283.7 216.4 282.9C221.6 282.1 226.8 285.5 232.8 284.2C238.8 282.8 246.2 278.7 252.4 275.0C258.5 271.3 264.4 267.0 269.6 262.1C274.7 257.1 279.3 251.2 283.3 245.3C287.2 239.5 290.7 232.9 293.5 227.1C296.2 221.2 298.6 215.5 299.8 210.1C301.0 204.7 301.8 197.5 300.4 194.7C299.0 191.8 294.0 190.9 291.6 192.7C289.2 194.6 287.9 201.1 286.0 205.9C284.1 210.7 282.2 215.9 280.1 221.5C278.1 227.2 276.8 234.2 273.9 239.9C271.1 245.6 267.6 251.2 263.2 255.7C258.9 260.3 253.2 264.1 247.8 267.2C242.4 270.3 236.4 273.5 230.8 274.4C225.3 275.4 220.3 272.0 214.6 273.1C209.0 274.2 202.4 277.8 196.9 281.1C191.3 284.5 186.5 290.9 181.3 292.9C176.1 295.0 171.1 293.9 165.6 293.2C160.2 292.5 151.7 289.1 148.7 288.6C145.7 288.1 145.4 288.0 147.9 290.2Z" fill="#28d428" filter="url(#b1)"/><path d="M215.2 281.8C218.0 283.3 226.4 284.4 232.6 283.1C238.7 281.8 245.8 277.7 251.9 274.1C257.9 270.5 263.8 266.3 268.9 261.4C273.9 256.5 278.4 250.6 282.2 244.7C286.1 238.9 289.3 232.3 292.0 226.4C294.6 220.6 297.0 214.9 298.3 209.6C299.5 204.3 300.4 197.2 299.4 194.4C298.5 191.7 294.6 191.0 292.6 193.0C290.6 194.9 289.4 201.5 287.5 206.4C285.7 211.3 283.7 216.5 281.6 222.2C279.5 227.8 277.9 234.8 275.0 240.5C272.0 246.2 268.4 251.8 263.9 256.4C259.5 261.0 253.8 264.9 248.3 268.1C242.8 271.3 236.5 274.5 231.0 275.5C225.6 276.5 218.4 273.1 215.8 274.2C213.2 275.2 212.4 280.4 215.2 281.8Z" fill="#f0e000" filter="url(#b1)"/><path d="M281.3 243.8C283.8 241.2 287.9 231.6 290.5 225.8C293.1 220.0 295.4 214.4 296.7 209.2C298.1 203.9 299.0 196.9 298.4 194.2C297.9 191.6 295.1 191.1 293.6 193.2C292.0 195.3 290.8 201.9 289.1 206.8C287.3 211.8 285.3 217.0 283.1 222.8C280.9 228.5 276.2 237.9 275.9 241.4C275.6 244.9 278.9 246.4 281.3 243.8Z" fill="#ff6000" filter="url(#b1)"/><ellipse cx="170.0" cy="297.8" rx="7" ry="2.2" transform="rotate(0 170.0 297.8)" fill="#e8e000" filter="url(#b1)"/><ellipse cx="171.0" cy="297.8" rx="4.5" ry="1.2" transform="rotate(0 171.0 297.8)" fill="#e02000" filter="url(#b1)"/><path d="M231.8 279.3C234.9 277.9 244.3 274.5 250.1 271.1C255.9 267.7 261.6 263.6 266.4 258.9C271.1 254.1 275.2 248.4 278.6 242.6C282.0 236.8 284.4 230.1 286.8 224.3C289.2 218.5 291.9 210.7 292.9 208.0" fill="none" stroke="#ffd8f0" stroke-width="3.6" stroke-linecap="round" stroke-linejoin="round"/><path d="M231.8 279.3C234.9 277.9 244.3 274.5 250.1 271.1C255.9 267.7 261.6 263.6 266.4 258.9C271.1 254.1 276.6 245.3 278.6 242.6" fill="none" stroke="#181018" stroke-width="1.8" stroke-linecap="round" stroke-linejoin="round"/><path d="M291.0 214.0C291.5 212.3 293.2 207.2 294.0 204.0C294.8 200.8 295.7 196.5 296.0 195.0" fill="none" stroke="#100810" stroke-width="2.2" stroke-linecap="round" stroke-linejoin="round"/><circle cx="187" cy="187" r="109" fill="none" stroke="#181830" stroke-opacity="0.6" stroke-width="0.9"/><circle cx="257" cy="106" r="4.5" fill="#f27474" stroke="#1a1420" stroke-width="1.8"/><circle cx="295.8" cy="186.7" r="4.5" fill="#78f078" stroke="#14202a" stroke-width="1.8"/><circle cx="187" cy="187" r="8.2" fill="#fff010" stroke="#000" stroke-width="4"/></svg></div>
<div class="d" style="left:131px;top:626px;width:374px;height:374px;background:#7d0"><div class="rg" style="left:-8px;top:-8px;width:390px;height:390px"><i style="left:0px;top:0px;width:390px;height:390px;background:conic-gradient(from 12.4deg,#00b91e 0deg,#78d700 5.1deg,#ff0 11.4deg,#ffca00 31.2deg,#ffd600 56.1deg,#ff0 64.1deg,#78d700 72.6deg,#00b91e 83deg,#00f0a5 115deg,#00ffe8 121.6deg,#00f8f6 124deg,#00fced 124.3deg,#00ffe8 124.3deg,#00f3b4 124.6deg,#00f0a5 125.5deg,#00b91e 132.2deg,#78d700 135.6deg,#ff0 139.7deg,#ffd300 144.2deg,#ffd300 148.2deg,#ff0 152.7deg,#78d700 154.6deg,#00b91e 156.2deg,#00f0a5 160.1deg,#00f7c3 161.2deg,#00ffe8 165.4deg,#00fbf1 167.2deg,#00fbf1 225.9deg,#00ffe8 226.3deg,#00f0a5 227.9deg,#00b91e 230.4deg,#78d700 232.5deg,#ff0 234.9deg,#ffb400 238.9deg,#fea000 239.9deg,#fa6400 240.2deg,#f75c00 240.2deg,#e73300 247.2deg,#f75c00 255.3deg,#fa6400 256.1deg,#ffb400 267.7deg,#ff0 279.2deg,#78d700 292.2deg,#00b91e 303.4deg,#00f0a5 312.9deg,#00f9cd 316.4deg,#00ffe8 329.9deg,#00fcef 335.9deg,#00f9f5 349.8deg,#00fced 354.4deg,#00ffe8 354.9deg,#00f3b4 357.5deg,#00f0a5 357.8deg,#00b91e 360deg)"></i><i style="left:3px;top:3px;width:384px;height:384px;background:conic-gradient(from 11.3deg,#00b91e 0deg,#78d700 5.1deg,#ff0 11.2deg,#ffca00 31.6deg,#ffd600 56.3deg,#ff0 64.3deg,#78d700 72.7deg,#00b91e 83deg,#00f0a5 115deg,#00ffe8 121.6deg,#00f8f6 124deg,#00fced 124.3deg,#00ffe8 124.3deg,#00f3b4 124.6deg,#00f0a5 125.6deg,#00b91e 132.6deg,#78d700 136deg,#ff0 140.1deg,#ffcd00 144.6deg,#ffcd00 148.6deg,#ff0 153.1deg,#78d700 154.9deg,#00b91e 156.6deg,#00f0a5 160.5deg,#00f7c3 161.6deg,#00ffe8 165.8deg,#00fbf1 167.6deg,#00fbf1 225.7deg,#00ffe8 226.1deg,#00f0a5 227.6deg,#00b91e 230.2deg,#78d700 232.3deg,#ff0 234.7deg,#ffb400 238.7deg,#fea000 239.7deg,#fa6400 240deg,#f75c00 240deg,#e73300 247.6deg,#f75c00 255.6deg,#fa6400 256.5deg,#ffb400 268deg,#ff0 279.6deg,#78d700 292.8deg,#00b91e 304.1deg,#00f0a5 313.4deg,#00f9cd 316.8deg,#00ffe8 330deg,#00fcef 335.8deg,#00f8f6 349.4deg,#00fced 354.2deg,#00ffe8 354.7deg,#00f3b4 357.4deg,#00f0a5 357.7deg,#00b91e 360deg)"></i><i style="left:6px;top:6px;width:378px;height:378px;background:conic-gradient(from 10.2deg,#00b91e 0deg,#78d700 5deg,#ff0 11deg,#ffca00 31.9deg,#ffd600 56.5deg,#ff0 64.5deg,#78d700 72.8deg,#00b91e 83deg,#00f0a5 115deg,#00ffe8 121.6deg,#00f8f6 124deg,#00fced 124.3deg,#00ffe8 124.4deg,#00f3b4 124.9deg,#00f0a5 125.9deg,#00b91e 132.9deg,#78d700 136.4deg,#ff0 140.4deg,#ffc800 144.9deg,#ffc800 148.9deg,#ff0 153.4deg,#78d700 155.3deg,#00b91e 156.9deg,#00f0a5 160.8deg,#00f7c3 161.9deg,#00ffe8 166.2deg,#00fbf1 167.9deg,#00fbf1 225.5deg,#00ffe8 225.8deg,#00f0a5 227.4deg,#00b91e 230deg,#78d700 232.1deg,#ff0 234.5deg,#ffb400 238.5deg,#fea000 239.5deg,#fa6400 239.9deg,#f75c00 239.9deg,#e73300 247.9deg,#f75c00 255.9deg,#fa6400 256.8deg,#ffb400 268.4deg,#ff0 279.9deg,#78d700 293.4deg,#00b91e 304.9deg,#00f0a5 313.9deg,#00f9cd 317.2deg,#00ffe8 330.1deg,#00fcef 335.8deg,#00f8f6 349.1deg,#00fced 354deg,#00ffe8 354.5deg,#00f3b4 357.3deg,#00f0a5 357.6deg,#00b91e 360deg)"></i><i style="left:9px;top:9px;width:372px;height:372px;background:conic-gradient(from 9.1deg,#00b91e 0deg,#78d700 4.9deg,#ff0 10.8deg,#ffca00 32.3deg,#ffd600 56.6deg,#ff0 64.6deg,#78d700 72.9deg,#00b91e 82.9deg,#00f0a5 114.9deg,#00ffe8 121.6deg,#00f8f6 124deg,#00fced 124.3deg,#00ffe8 124.4deg,#00f4b5 125.2deg,#00f0a5 126.3deg,#00b91e 133.2deg,#78d700 136.6deg,#ff0 140.7deg,#ffc200 145.2deg,#ffc200 149.2deg,#ff0 153.7deg,#78d700 155.5deg,#00b91e 157.2deg,#00f0a5 161deg,#00f7c4 162.2deg,#00ffe8 166.4deg,#00fbf1 168.2deg,#00fbf1 225.2deg,#00ffe8 225.6deg,#00f0a5 227.2deg,#00b91e 229.7deg,#78d700 231.8deg,#ff0 234.2deg,#ffb400 238.2deg,#fea000 239.2deg,#fa6400 240.4deg,#f75c00 240.5deg,#e73300 248.5deg,#f75c00 256.4deg,#fa6400 257.3deg,#ffb400 268.8deg,#ff0 280.2deg,#78d700 293.6deg,#00b91e 305deg,#00f0a5 313.9deg,#00f9cd 317.2deg,#00ffe8 329.8deg,#00fcef 335.4deg,#00f8f6 348.4deg,#00fced 353.6deg,#00ffe8 354.2deg,#00f3b4 357.1deg,#00f0a5 357.5deg,#00b91e 360deg)"></i><i style="left:12px;top:12px;width:366px;height:366px;background:conic-gradient(from 8.1deg,#00b91e 0deg,#78d700 4.8deg,#ff0 10.6deg,#ffca00 32.7deg,#ffd600 56.8deg,#ff0 64.8deg,#78d700 72.9deg,#00b91e 82.8deg,#00f0a5 114.9deg,#00ffe8 121.5deg,#00f8f6 123.9deg,#00fced 124.2deg,#00ffe8 124.5deg,#00f4b9 126deg,#00f0a5 127.2deg,#00b91e 133.7deg,#78d700 137deg,#ff0 140.9deg,#ffbc00 145.4deg,#ffbc00 149.4deg,#ff0 153.9deg,#78d700 155.7deg,#00b91e 157.4deg,#00f0a5 161.1deg,#00f8c7 162.4deg,#00ffe8 166.5deg,#00fbf1 168.4deg,#00fbf1 224.9deg,#00ffe8 225.3deg,#00f0a5 226.9deg,#00b91e 229.4deg,#78d700 231.5deg,#ff0 233.9deg,#ffb400 237.9deg,#fea000 238.9deg,#fa6400 240.9deg,#f75c00 241.1deg,#e73300 249deg,#f75c00 256.9deg,#fa6400 257.8deg,#ffb400 269.2deg,#ff0 280.6deg,#78d700 293.8deg,#00b91e 305.1deg,#00f0a5 313.8deg,#00f9cd 317deg,#00ffe8 329.5deg,#00fcef 335deg,#00f8f7 347.8deg,#00fced 353.3deg,#00ffe8 353.8deg,#00f3b4 356.9deg,#00f0a5 357.3deg,#00b91e 360deg)"></i><i style="left:15px;top:15px;width:360px;height:360px;background:conic-gradient(from 7deg,#00b91e 0deg,#78d700 4.7deg,#ff0 10.5deg,#ffca00 33.1deg,#ffd600 56.8deg,#ff0 64.8deg,#78d700 72.9deg,#00b91e 82.7deg,#00f0a5 114.8deg,#00ffe8 121.5deg,#00f8f6 123.9deg,#00fced 124.2deg,#00ffe8 124.6deg,#00f5bd 126.7deg,#00f0a5 128.1deg,#00b91e 134.2deg,#78d700 137.3deg,#ff0 141deg,#ffb800 145.5deg,#ffb800 149.5deg,#ff0 154deg,#78d700 155.9deg,#00b91e 157.5deg,#00f0a5 161.2deg,#00f8ca 162.5deg,#00ffe8 166.5deg,#00fbf1 168.5deg,#00fbf1 224.6deg,#00ffe8 225deg,#00f0a5 226.6deg,#00b91e 229.1deg,#78d700 231.2deg,#ff0 233.6deg,#ffb400 237.6deg,#fea000 238.6deg,#fa6400 241.3deg,#f75c00 241.6deg,#e73300 249.5deg,#f75c00 257.4deg,#fa6400 258.2deg,#ffb400 269.5deg,#ff0 280.9deg,#78d700 293.8deg,#00b91e 305deg,#00f0a5 313.5deg,#00f9cd 316.7deg,#00ffe8 328.9deg,#00fcef 334.3deg,#00f8f7 346.8deg,#00fced 352.8deg,#00ffe8 353.4deg,#00f3b4 356.7deg,#00f0a5 357.1deg,#00b91e 360deg)"></i><i style="left:18px;top:18px;width:354px;height:354px;background:conic-gradient(from 5.9deg,#00b91e 0deg,#78d700 4.6deg,#ff0 10.3deg,#ffca00 33.6deg,#ffd600 56.9deg,#ff0 64.9deg,#78d700 72.9deg,#00b91e 82.7deg,#00f0a5 114.8deg,#00ffe8 121.5deg,#00f8f6 123.9deg,#00fced 124.2deg,#00ffe8 124.8deg,#00f6c1 127.5deg,#00f0a5 129deg,#00b91e 134.7deg,#78d700 137.7deg,#ff0 141.3deg,#ffb500 145.8deg,#ffb500 149.8deg,#ff0 154.3deg,#78d700 156.2deg,#00b91e 157.8deg,#00f0a5 161.4deg,#00f9cd 162.8deg,#00ffe8 166.6deg,#00fbf1 168.8deg,#00fbf1 224.4deg,#00ffe8 224.8deg,#00f0a5 226.4deg,#00b91e 228.9deg,#78d700 231deg,#ff0 233.4deg,#ffb400 237.4deg,#fea000 238.4deg,#fa6400 241.8deg,#f75c00 242.2deg,#e73300 250deg,#f75c00 257.8deg,#fa6400 258.7deg,#ffb400 270deg,#ff0 281.2deg,#78d700 293.9deg,#00b91e 304.9deg,#00f0a5 313.2deg,#00f9cd 316.3deg,#00ffe8 328.2deg,#00fcef 333.4deg,#00f8f8 345.7deg,#00fced 352.1deg,#00ffe8 352.8deg,#00f3b4 356.4deg,#00f0a5 356.9deg,#00b91e 360deg)"></i><i style="left:21px;top:21px;width:348px;height:348px;background:conic-gradient(from 4.7deg,#00b91e 0deg,#78d700 4.5deg,#ff0 10.1deg,#ffca00 34.1deg,#ffd600 57.1deg,#ff0 65.1deg,#78d700 73deg,#00b91e 82.6deg,#00f0a5 114.9deg,#00ffe8 121.6deg,#00f8f6 124deg,#00fced 124.3deg,#00ffe8 125.1deg,#00f7c5 128.3deg,#00f0a5 129.9deg,#00b91e 135.3deg,#78d700 138.2deg,#ff0 141.6deg,#ffb400 146deg,#ffb200 146.1deg,#ffb200 150.1deg,#ffb400 150.2deg,#ff0 154.6deg,#78d700 156.5deg,#00b91e 158.1deg,#00f0a5 161.6deg,#00fad0 163.1deg,#00ffe8 166.7deg,#00fbf1 169.1deg,#00fbf1 224.3deg,#00ffe8 224.6deg,#00f0a5 226.2deg,#00b91e 228.8deg,#78d700 230.8deg,#ff0 233.3deg,#ffb400 237.3deg,#fea000 238.3deg,#fa6400 242.4deg,#f75c00 242.8deg,#e73300 250.6deg,#f75c00 258.4deg,#fa6400 259.2deg,#ffb400 270.4deg,#ff0 281.6deg,#78d700 294.1deg,#00b91e 304.8deg,#00f0a5 312.9deg,#00f9cd 315.9deg,#00ffe8 327.5deg,#00fcef 332.6deg,#00f7f8 344.6deg,#00fced 351.5deg,#00ffe8 352.2deg,#00f3b4 356.1deg,#00f0a5 356.6deg,#00b91e 360deg)"></i><i style="left:24px;top:24px;width:342px;height:342px;background:conic-gradient(from 3.6deg,#00b91e 0deg,#78d700 4.4deg,#ff0 9.9deg,#ffca00 34.6deg,#ffd600 57.3deg,#ff0 65.3deg,#78d700 73.1deg,#00b91e 82.6deg,#00f0a5 114.9deg,#00ffe8 121.6deg,#00f8f6 124.1deg,#00fced 124.4deg,#00ffe8 125.5deg,#00f8c9 129.1deg,#00f0a5 130.9deg,#00b91e 135.9deg,#78d700 138.7deg,#ff0 141.9deg,#ffb400 146.1deg,#ffaf00 146.4deg,#ffaf00 150.4deg,#ffb400 150.7deg,#ff0 154.9deg,#78d700 156.8deg,#00b91e 158.4deg,#00f0a5 161.9deg,#00fad3 163.4deg,#00ffe8 166.8deg,#00fbf1 169.4deg,#00fbf1 224.1deg,#00ffe8 224.5deg,#00f0a5 226.1deg,#00b91e 228.6deg,#78d700 230.7deg,#ff0 233.1deg,#ffb400 237.1deg,#fea000 238.1deg,#fa6400 243deg,#f75c00 243.5deg,#e73300 251.2deg,#f75c00 258.9deg,#fa6400 259.8deg,#ffb400 270.9deg,#ff0 282deg,#78d700 294.2deg,#00b91e 304.8deg,#00f0a5 312.7deg,#00f9cd 315.6deg,#00ffe8 326.9deg,#00fcef 331.9deg,#00f7f8 343.6deg,#00fced 351deg,#00ffe8 351.7deg,#00f3b4 355.9deg,#00f0a5 356.4deg,#00b91e 360deg)"></i><i style="left:27px;top:27px;width:336px;height:336px;background:conic-gradient(from 2.4deg,#00b91e 0deg,#78d700 4.4deg,#ff0 9.7deg,#ffca00 35.1deg,#ffd600 57.5deg,#ff0 65.5deg,#78d700 73.1deg,#00b91e 82.5deg,#00f0a5 115deg,#00ffe8 121.7deg,#00f8f6 124.1deg,#00fced 124.4deg,#00ffe8 125.9deg,#00f9cd 130deg,#00f0a5 131.8deg,#00b91e 136.5deg,#78d700 139.1deg,#ff0 142.2deg,#ffb400 146.2deg,#feab00 146.7deg,#feab00 150.7deg,#ffb400 151.1deg,#ff0 155.2deg,#78d700 157.1deg,#00b91e 158.7deg,#00f0a5 162.1deg,#00fbd6 163.7deg,#00ffe8 166.9deg,#00fbf1 169.7deg,#00fbf1 223.9deg,#00ffe8 224.3deg,#00f0a5 225.9deg,#00b91e 228.4deg,#78d700 230.5deg,#ff0 232.9deg,#ffb400 236.9deg,#fea000 237.9deg,#fa6400 243.6deg,#f75c00 244.1deg,#e73300 251.8deg,#f75c00 259.5deg,#fa6400 260.3deg,#ffb400 271.2deg,#ff0 282.2deg,#78d700 294.3deg,#00b91e 304.7deg,#00f0a5 312.5deg,#00f9cd 315.4deg,#00ffe8 326.6deg,#00fcef 331.5deg,#00f7f9 343deg,#00fced 350.6deg,#00ffe8 351.4deg,#00f3b4 355.7deg,#00f0a5 356.3deg,#00b91e 360deg)"></i><i style="left:30px;top:30px;width:330px;height:330px;background:conic-gradient(from 1.2deg,#00b91e 0deg,#78d700 4.3deg,#ff0 9.5deg,#ffca00 35.6deg,#ffd600 57.6deg,#ff0 65.6deg,#78d700 73.2deg,#00b91e 82.4deg,#00f0a5 115deg,#00ffe8 121.8deg,#00f8f6 124.2deg,#00fced 124.5deg,#00ffe8 126.3deg,#00fad1 130.8deg,#00f0a5 132.7deg,#00b91e 137.1deg,#78d700 139.6deg,#ff0 142.5deg,#ffb400 146.4deg,#fea800 147deg,#fea800 151deg,#ffb400 151.6deg,#ff0 155.5deg,#78d700 157.4deg,#00b91e 159deg,#00f0a5 162.3deg,#00fcd9 164deg,#00ffe8 166.9deg,#00fbf1 170deg,#00fbf1 223.8deg,#00ffe8 224.1deg,#00f0a5 225.7deg,#00b91e 228.3deg,#78d700 230.4deg,#ff0 232.8deg,#ffb400 236.8deg,#fea000 237.8deg,#fa6400 244.1deg,#f75c00 244.8deg,#e73300 252.4deg,#f75c00 260.1deg,#fa6400 260.9deg,#ffb400 271.6deg,#ff0 282.4deg,#78d700 294.4deg,#00b91e 304.8deg,#00f0a5 312.5deg,#00f9cd 315.3deg,#00ffe8 326.2deg,#00fcef 331.1deg,#00f7f9 342.4deg,#00fced 350.3deg,#00ffe8 351.1deg,#00f3b4 355.6deg,#00f0a5 356.1deg,#00b91e 360deg)"></i><i style="left:33px;top:33px;width:324px;height:324px;background:conic-gradient(from -0deg,#00b91e 0deg,#78d700 4.2deg,#ff0 9.3deg,#ffca00 36.2deg,#ffd600 57.9deg,#ff0 65.9deg,#78d700 73.3deg,#00b91e 82.3deg,#00f0a5 115.1deg,#00ffe8 121.9deg,#00f8f6 124.3deg,#00fced 124.6deg,#00ffe8 127deg,#00fbd5 131.7deg,#00f0a5 133.6deg,#00b91e 137.8deg,#78d700 140.1deg,#ff0 142.8deg,#ffb400 146.6deg,#fea500 147.3deg,#fea500 151.3deg,#ffb400 152.1deg,#ff0 155.8deg,#78d700 157.7deg,#00b91e 159.3deg,#00f0a5 162.6deg,#00fcdc 164.3deg,#00ffe8 166.9deg,#00fbf1 170.3deg,#00fbf1 223.7deg,#00ffe8 224deg,#00f0a5 225.6deg,#00b91e 228.2deg,#78d700 230.2deg,#ff0 232.7deg,#ffb400 236.7deg,#fea000 237.7deg,#fa6400 244.6deg,#f75c00 245.3deg,#e73300 252.9deg,#f75c00 260.5deg,#fa6400 261.3deg,#ffb400 271.9deg,#ff0 282.6deg,#78d700 294.7deg,#00b91e 305deg,#00f0a5 312.5deg,#00f9cd 315.3deg,#00ffe8 326deg,#00fcef 330.8deg,#00f7f9 341.9deg,#00fced 350deg,#00ffe8 350.8deg,#00f3b4 355.5deg,#00f0a5 356deg,#00b91e 360deg)"></i><i style="left:36px;top:36px;width:318px;height:318px;background:conic-gradient(from -1.3deg,#00b91e 0deg,#78d700 4.1deg,#ff0 9.1deg,#ffca00 36.8deg,#ffd600 58.1deg,#ff0 66.1deg,#78d700 73.4deg,#00b91e 82.3deg,#00f0a5 115.2deg,#00ffe8 122deg,#00f8f6 124.5deg,#00fced 125deg,#00ffe8 128deg,#00fcd9 132.6deg,#00f0a5 134.5deg,#00b91e 138.5deg,#78d700 140.7deg,#ff0 143.2deg,#ffb400 146.9deg,#fea200 147.7deg,#fea200 151.7deg,#ffb400 152.5deg,#ff0 156.2deg,#78d700 158.1deg,#00b91e 159.7deg,#00f0a5 162.9deg,#00fddf 164.7deg,#00ffe8 166.9deg,#00fbf1 170.7deg,#00fbf1 223.5deg,#00ffe8 223.9deg,#00f0a5 225.5deg,#00b91e 228deg,#78d700 230.1deg,#ff0 232.5deg,#ffb400 236.5deg,#fea000 237.5deg,#fa6400 245deg,#f75c00 245.8deg,#e73300 253.3deg,#f75c00 260.9deg,#fa6400 261.7deg,#ffb400 272.3deg,#ff0 282.9deg,#78d700 294.9deg,#00b91e 305.2deg,#00f0a5 312.6deg,#00f9cd 315.3deg,#00ffe8 325.8deg,#00fcef 330.5deg,#00f6fa 341.3deg,#00fced 349.7deg,#00ffe8 350.6deg,#00f3b4 355.3deg,#00f0a5 355.9deg,#00b91e 360deg)"></i><i style="left:39px;top:39px;width:312px;height:312px;background:conic-gradient(from -2.5deg,#00b91e 0deg,#78d700 4deg,#ff0 8.9deg,#ffca00 37.3deg,#ffd600 58.6deg,#ff0 66.6deg,#78d700 73.7deg,#00b91e 82.3deg,#00f0a5 115.3deg,#00ffe8 122.1deg,#00f8f6 124.6deg,#00fced 126.1deg,#00ffe8 129.5deg,#00fdde 133.4deg,#00f0a5 135.3deg,#00b91e 139deg,#78d700 141.1deg,#ff0 143.5deg,#ffb400 147deg,#fe9e00 148deg,#fe9e00 152deg,#ffb400 152.9deg,#ff0 156.5deg,#78d700 158.4deg,#00b91e 160deg,#00f0a5 163.1deg,#00fee2 165deg,#00ffe8 166.6deg,#00fbf1 171deg,#00fbf1 223.4deg,#00ffe8 223.8deg,#00f0a5 225.4deg,#00b91e 227.9deg,#78d700 230deg,#ff0 232.4deg,#ffb400 236.4deg,#fea000 237.4deg,#fa6400 245.4deg,#f75c00 246.2deg,#e73300 253.8deg,#f75c00 261.3deg,#fa6400 262.1deg,#ffb400 272.6deg,#ff0 283.1deg,#78d700 295.1deg,#00b91e 305.4deg,#00f0a5 312.7deg,#00f9cd 315.3deg,#00ffe8 325.6deg,#00fcef 330.2deg,#00f6fa 340.8deg,#00fced 349.4deg,#00ffe8 350.3deg,#00f3b4 355.2deg,#00f0a5 355.8deg,#00b91e 360deg)"></i><i style="left:42px;top:42px;width:306px;height:306px;background:conic-gradient(from -3.8deg,#00b91e 0deg,#78d700 3.9deg,#ff0 8.7deg,#ffca00 37.9deg,#ffd600 59deg,#ff0 67deg,#78d700 74deg,#00b91e 82.5deg,#00f0a5 115.5deg,#00ffe8 122.3deg,#00f8f6 124.8deg,#00fced 127deg,#00ffe8 131.2deg,#00fee2 134.1deg,#00f0a5 136deg,#00b91e 139.5deg,#78d700 141.4deg,#ff0 143.6deg,#ffb400 147deg,#fd9a00 148.1deg,#fd9a00 152.1deg,#ffb400 153.2deg,#ff0 156.6deg,#78d700 158.5deg,#00b91e 160.1deg,#00f0a5 163.2deg,#00fee5 165.1deg,#00ffe8 166deg,#00fbf1 171.1deg,#00fbf1 223.3deg,#00ffe8 223.7deg,#00f0a5 225.3deg,#00b91e 227.8deg,#78d700 229.9deg,#ff0 232.3deg,#ffb400 236.3deg,#fea000 237.3deg,#fa6400 245.9deg,#f75c00 246.7deg,#e73300 254.2deg,#f75c00 261.7deg,#fa6400 262.5deg,#ffb400 272.9deg,#ff0 283.4deg,#78d700 295.4deg,#00b91e 305.6deg,#00f0a5 312.8deg,#00f9cd 315.4deg,#00ffe8 325.6deg,#00fcef 330.1deg,#00f6fb 340.6deg,#00fced 349.3deg,#00ffe8 350.2deg,#00f3b4 355.1deg,#00f0a5 355.8deg,#00b91e 360deg)"></i><i style="left:45px;top:45px;width:300px;height:300px;background:conic-gradient(from -5deg,#00b91e 0deg,#78d700 3.8deg,#ff0 8.5deg,#ffca00 38.5deg,#ffd600 59.5deg,#ff0 67.5deg,#78d700 74.3deg,#00b91e 82.7deg,#00f0a5 115.6deg,#00ffe8 122.4deg,#00f8f6 124.9deg,#00fced 128deg,#00ffe8 133.4deg,#00fee6 134.8deg,#00f0a5 136.7deg,#00b91e 139.9deg,#78d700 141.7deg,#ff0 143.8deg,#ffb400 147deg,#fd9600 148.3deg,#fd9600 152.3deg,#ffb400 153.5deg,#ff0 156.8deg,#78d700 158.6deg,#00b91e 160.3deg,#00f0a5 163.3deg,#00ffe8 165.2deg,#00ffe8 165.3deg,#00fbf1 171.3deg,#00fbf1 223.2deg,#00ffe8 223.6deg,#00f0a5 225.2deg,#00b91e 227.7deg,#78d700 229.8deg,#ff0 232.2deg,#ffb400 236.2deg,#fea000 237.2deg,#fa6400 246.3deg,#f75c00 247.2deg,#e73300 254.7deg,#f75c00 262.1deg,#fa6400 262.9deg,#ffb400 273.2deg,#ff0 283.6deg,#78d700 295.6deg,#00b91e 305.9deg,#00f0a5 312.9deg,#00f9cd 315.5deg,#00ffe8 325.6deg,#00fcef 330deg,#00f6fb 340.4deg,#00fced 349.2deg,#00ffe8 350.1deg,#00f3b4 355.1deg,#00f0a5 355.7deg,#00b91e 360deg)"></i><i style="left:48px;top:48px;width:294px;height:294px;background:conic-gradient(from -6.2deg,#00b91e 0deg,#78d700 3.8deg,#ff0 8.4deg,#ffca00 39.1deg,#ffd600 59.9deg,#ff0 67.9deg,#78d700 74.7deg,#00b91e 82.9deg,#00f0a5 115.6deg,#00ffe8 122.3deg,#00f8f6 124.8deg,#00fced 128.9deg,#00ffe9 135.4deg,#00ffe8 135.5deg,#00f0a5 137.4deg,#00b91e 140.4deg,#78d700 142deg,#ff0 143.9deg,#ffb400 147.1deg,#fd9200 148.4deg,#fd9200 152.4deg,#ffb400 153.8deg,#ff0 156.9deg,#78d700 158.8deg,#00b91e 160.4deg,#00f0a5 163.4deg,#00ffe8 165.3deg,#00feea 165.4deg,#00fbf1 171.4deg,#00fbf1 223.2deg,#00ffe8 223.6deg,#00f0a5 225.2deg,#00b91e 227.7deg,#78d700 229.8deg,#ff0 232.2deg,#ffb400 236.2deg,#fea000 237.2deg,#fa6400 246.7deg,#f75c00 247.7deg,#e73300 255.1deg,#f75c00 262.4deg,#fa6400 263.2deg,#ffb400 273.6deg,#ff0 283.9deg,#78d700 295.8deg,#00b91e 306.1deg,#00f0a5 313.1deg,#00f9cd 315.6deg,#00ffe8 325.6deg,#00fcef 330deg,#00f6fb 340.2deg,#00fced 349.1deg,#00ffe8 350deg,#00f3b4 355.1deg,#00f0a5 355.7deg,#00b91e 360deg)"></i><i style="left:51px;top:51px;width:288px;height:288px;background:conic-gradient(from -7.5deg,#00b91e 0deg,#78d700 3.7deg,#ff0 8.2deg,#ffca00 39.6deg,#ffd600 60.4deg,#ff0 68.4deg,#78d700 75deg,#00b91e 83.1deg,#00f0a5 114.6deg,#00ffe8 121.1deg,#00f8f6 123.5deg,#00fced 129.9deg,#00fdeb 136.1deg,#00ffe8 136.3deg,#00f0a5 138deg,#00b91e 140.8deg,#78d700 142.3deg,#ff0 144.1deg,#ffb400 147.1deg,#fd8e00 148.6deg,#fd8e00 152.6deg,#ffb400 154deg,#ff0 157.1deg,#78d700 158.9deg,#00b91e 160.6deg,#00f0a5 163.5deg,#00ffe8 165.4deg,#00fdec 165.6deg,#00fbf1 171.6deg,#00fbf1 223.2deg,#00ffe8 223.6deg,#00f0a5 225.2deg,#00b91e 227.7deg,#78d700 229.8deg,#ff0 232.2deg,#ffb400 236.2deg,#fea000 237.2deg,#fa6400 247deg,#f75c00 248deg,#e73300 255.3deg,#f75c00 262.6deg,#fa6400 263.4deg,#ffb400 273.9deg,#ff0 284.4deg,#78d700 296.2deg,#00b91e 306.3deg,#00f0a5 313.2deg,#00f9cd 315.8deg,#00ffe8 325.6deg,#00fcef 329.9deg,#00f6fc 340.1deg,#00fced 349deg,#00ffe8 349.9deg,#00f3b4 355deg,#00f0a5 355.6deg,#00b91e 360deg)"></i><i style="left:54px;top:54px;width:282px;height:282px;background:conic-gradient(from -8.7deg,#00b91e 0deg,#78d700 3.6deg,#ff0 8deg,#ffca00 40.2deg,#ffd600 60.8deg,#ff0 68.8deg,#78d700 75.4deg,#00b91e 83.4deg,#00f0a5 113.6deg,#00ffe8 119.9deg,#00f8f6 122.2deg,#00fced 130.7deg,#00fced 136.7deg,#00ffe8 136.9deg,#00f0a5 138.6deg,#00b91e 141.2deg,#78d700 142.6deg,#ff0 144.2deg,#ffb400 147.2deg,#fc8900 148.7deg,#fc8900 152.7deg,#ffb400 154.3deg,#ff0 157.2deg,#78d700 159.1deg,#00b91e 160.7deg,#00f0a5 163.6deg,#00ffe8 165.5deg,#00fced 165.7deg,#00fbf1 171.7deg,#00fbf1 223.2deg,#00ffe8 223.6deg,#00f0a5 225.2deg,#00b91e 227.7deg,#78d700 229.8deg,#ff0 232.2deg,#ffb400 236.2deg,#fea000 237.2deg,#fa6400 247.3deg,#f75c00 248.3deg,#e73300 255.5deg,#f75c00 262.8deg,#fa6400 263.6deg,#ffb400 274.3deg,#ff0 285deg,#78d700 296.7deg,#00b91e 306.7deg,#00f0a5 313.5deg,#00f9cd 316deg,#00ffe8 325.6deg,#00fcef 329.9deg,#00f5fc 339.9deg,#00fced 348.9deg,#00ffe8 349.8deg,#00f3b4 355deg,#00f0a5 355.6deg,#00b91e 360deg)"></i><i style="left:57px;top:57px;width:276px;height:276px;background:conic-gradient(from -10deg,#00b91e 0deg,#78d700 3.4deg,#ff0 7.7deg,#ffca00 40.9deg,#ffd600 61.3deg,#ff0 69.3deg,#78d700 75.7deg,#00b91e 83.6deg,#00f0a5 112.7deg,#00ffe8 118.7deg,#00f8f6 120.9deg,#00fced 130.9deg,#00fced 136.9deg,#00ffe8 137.1deg,#00f0a5 138.8deg,#00b91e 141.4deg,#78d700 142.8deg,#ff0 144.4deg,#ffb400 147.3deg,#fc8500 148.9deg,#fc8500 152.9deg,#ffb400 154.6deg,#ff0 157.4deg,#78d700 159.3deg,#00b91e 160.9deg,#00f0a5 163.8deg,#00ffe8 165.7deg,#00fced 165.9deg,#00fbf1 171.9deg,#00fbf1 223.3deg,#00ffe8 223.7deg,#00f0a5 225.3deg,#00b91e 227.8deg,#78d700 229.9deg,#ff0 232.3deg,#ffb400 236.3deg,#fea000 237.3deg,#fa6400 247.6deg,#f75c00 248.6deg,#e73300 255.8deg,#f75c00 263.1deg,#fa6400 263.9deg,#ffb400 274.8deg,#ff0 285.7deg,#78d700 297.2deg,#00b91e 307.1deg,#00f0a5 313.8deg,#00f9cd 316.3deg,#00ffe8 325.8deg,#00fcef 330deg,#00f5fc 339.8deg,#00fced 348.9deg,#00ffe8 349.8deg,#00f3b4 354.9deg,#00f0a5 355.6deg,#00b91e 360deg)"></i><i style="left:60px;top:60px;width:270px;height:270px;background:conic-gradient(from -11.3deg,#00b91e 0deg,#78d700 3.3deg,#ff0 7.3deg,#ffca00 41.5deg,#ffd600 61.8deg,#ff0 69.8deg,#78d700 76.1deg,#00b91e 83.9deg,#00f0a5 111.8deg,#00ffe8 117.5deg,#00f8f6 119.6deg,#00fced 131deg,#00fced 137deg,#00ffe8 137.2deg,#00f0a5 138.9deg,#00b91e 141.5deg,#78d700 142.9deg,#ff0 144.5deg,#ffb400 147.3deg,#fc8100 149deg,#fc8100 153deg,#ffb400 154.8deg,#ff0 157.5deg,#78d700 159.4deg,#00b91e 161deg,#00f0a5 163.9deg,#00ffe8 165.8deg,#00fced 166deg,#00fbf1 172deg,#00fbf1 223.4deg,#00ffe8 223.7deg,#00f0a5 225.3deg,#00b91e 227.9deg,#78d700 230deg,#ff0 232.4deg,#ffb400 236.4deg,#fea000 237.4deg,#fa6400 247.9deg,#f75c00 248.9deg,#e73300 256.1deg,#f75c00 263.3deg,#fa6400 264.2deg,#ffb400 275.2deg,#ff0 286.3deg,#78d700 297.7deg,#00b91e 307.5deg,#00f0a5 314.1deg,#00f9cd 316.6deg,#00ffe8 326deg,#00fcef 330.1deg,#00f5fd 339.8deg,#00fced 348.9deg,#00ffe8 349.8deg,#00f3b4 355deg,#00f0a5 355.6deg,#00b91e 360deg)"></i><i style="left:63px;top:63px;width:264px;height:264px;background:conic-gradient(from -12.6deg,#00b91e 0deg,#78d700 3.2deg,#ff0 7deg,#ffca00 42.1deg,#ffd600 62.3deg,#ff0 70.3deg,#78d700 76.5deg,#00b91e 84.1deg,#00f0a5 110.8deg,#00ffe8 116.4deg,#00f8f6 118.4deg,#00fced 130.5deg,#00fced 136.5deg,#00ffe8 136.8deg,#00f0a5 138.4deg,#00b91e 141deg,#78d700 142.4deg,#ff0 144deg,#ffb400 146.7deg,#fb7c00 148.5deg,#fb7c00 152.5deg,#ffb400 154.4deg,#ff0 157deg,#78d700 158.9deg,#00b91e 160.5deg,#00f0a5 163.5deg,#00ffe8 165.3deg,#00fced 165.5deg,#00fbf1 171.5deg,#00fbf1 223.4deg,#00ffe8 223.8deg,#00f0a5 225.4deg,#00b91e 227.9deg,#78d700 230deg,#ff0 232.4deg,#ffb400 236.4deg,#fea000 237.4deg,#fa6400 248.2deg,#f75c00 249.3deg,#e73300 256.4deg,#f75c00 263.6deg,#fa6400 264.4deg,#ffb400 275.7deg,#ff0 286.9deg,#78d700 298.3deg,#00b91e 308deg,#00f0a5 314.5deg,#00f9cd 316.9deg,#00ffe8 326.1deg,#00fcef 330.3deg,#00f5fd 339.8deg,#00fced 348.9deg,#00ffe8 349.8deg,#00f3b4 355deg,#00f0a5 355.6deg,#00b91e 360deg)"></i><i style="left:66px;top:66px;width:258px;height:258px;background:conic-gradient(from -13.9deg,#00b91e 0deg,#78d700 3deg,#ff0 6.8deg,#ffca00 42.8deg,#ffd600 62.8deg,#ff0 70.8deg,#78d700 77deg,#00b91e 84.5deg,#00f0a5 109.9deg,#00ffe8 115.2deg,#00f8f6 117.1deg,#00fced 130.1deg,#00fced 136.1deg,#00ffe8 136.3deg,#00f0a5 137.9deg,#00b91e 140.6deg,#78d700 141.9deg,#ff0 143.6deg,#ffb400 146.1deg,#fb7600 148.1deg,#fb7600 152.1deg,#ffb400 154deg,#ff0 156.6deg,#78d700 158.4deg,#00b91e 160.1deg,#00f0a5 163deg,#00ffe8 164.8deg,#00fced 165.1deg,#00fbf1 171.1deg,#00fbf1 223.5deg,#00ffe8 223.9deg,#00f0a5 225.5deg,#00b91e 228deg,#78d700 230.1deg,#ff0 232.5deg,#ffb400 236.5deg,#fea000 237.5deg,#fa6400 248.5deg,#f75c00 249.6deg,#e73300 256.7deg,#f75c00 263.8deg,#fa6400 264.7deg,#ffb400 276.1deg,#ff0 287.6deg,#78d700 298.8deg,#00b91e 308.4deg,#00f0a5 314.8deg,#00f9cd 317.2deg,#00ffe8 326.3deg,#00fcef 330.4deg,#00f5fe 339.8deg,#00fced 348.9deg,#00ffe8 349.8deg,#00f3b4 355deg,#00f0a5 355.6deg,#00b91e 360deg)"></i><i style="left:69px;top:69px;width:252px;height:252px;background:conic-gradient(from -15.2deg,#00b91e 0deg,#78d700 2.9deg,#ff0 6.5deg,#ffca00 43.4deg,#ffd600 63.3deg,#ff0 71.3deg,#78d700 77.5deg,#00b91e 84.9deg,#00f0a5 109.1deg,#00ffe8 114deg,#00f8f6 115.9deg,#00fced 129.6deg,#00fced 135.6deg,#00ffe8 135.8deg,#00f0a5 137.5deg,#00b91e 140.1deg,#78d700 141.5deg,#ff0 143.1deg,#ffb400 145.5deg,#fb7100 147.6deg,#fb7100 151.6deg,#ffb400 153.6deg,#ff0 156.1deg,#78d700 158deg,#00b91e 159.6deg,#00f0a5 162.5deg,#00ffe8 164.3deg,#00fced 164.6deg,#00fbf1 170.6deg,#00fbf1 223.6deg,#00ffe8 223.9deg,#00f0a5 225.5deg,#00b91e 228.1deg,#78d700 230.2deg,#ff0 232.6deg,#ffb400 236.6deg,#fea000 237.6deg,#fa6400 248.8deg,#f75c00 250deg,#e73300 257deg,#f75c00 264.1deg,#fa6400 265deg,#ffb400 276.6deg,#ff0 288.2deg,#78d700 299.3deg,#00b91e 308.8deg,#00f0a5 315.1deg,#00f9cd 317.5deg,#00ffe8 326.5deg,#00fcef 330.5deg,#00f5fe 339.8deg,#00fced 348.9deg,#00ffe8 349.8deg,#00f3b4 355deg,#00f0a5 355.6deg,#00b91e 360deg)"></i><i style="left:72px;top:72px;width:246px;height:246px;background:conic-gradient(from -16.5deg,#00b91e 0deg,#78d700 2.8deg,#ff0 6.2deg,#ffca00 44deg,#ffd600 63.8deg,#ff0 71.8deg,#78d700 77.9deg,#00b91e 85.4deg,#00f0a5 108.2deg,#00ffe8 112.9deg,#00f8f6 114.6deg,#00fced 129.1deg,#00fced 135.1deg,#00ffe8 135.3deg,#00f0a5 137deg,#00b91e 139.6deg,#78d700 141deg,#ff0 142.6deg,#ffb400 145deg,#fa6b00 147.1deg,#fa6b00 151.1deg,#ffb400 153.2deg,#ff0 155.6deg,#78d700 157.5deg,#00b91e 159.1deg,#00f0a5 162deg,#00ffe8 163.9deg,#00fced 164.1deg,#00fbf1 170.1deg,#00fbf1 223.6deg,#00ffe8 224deg,#00f0a5 225.6deg,#00b91e 228.1deg,#78d700 230.2deg,#ff0 232.6deg,#ffb400 236.6deg,#fea000 237.6deg,#fa6400 249.1deg,#f75c00 250.3deg,#e73300 257.3deg,#f75c00 264.3deg,#fa6400 265.2deg,#ffb400 277deg,#ff0 288.8deg,#78d700 299.8deg,#00b91e 309.2deg,#00f0a5 315.5deg,#00f9cd 317.8deg,#00ffe8 326.7deg,#00fcef 330.7deg,#00f4fe 339.8deg,#00fced 348.9deg,#00ffe8 349.8deg,#00f3b4 355deg,#00f0a5 355.6deg,#00b91e 360deg)"></i><i style="left:75px;top:75px;width:240px;height:240px;background:conic-gradient(from -17.8deg,#00b91e 0deg,#78d700 2.6deg,#ff0 5.8deg,#ffca00 44.7deg,#ffd600 64.3deg,#ff0 72.3deg,#78d700 78.4deg,#00b91e 85.9deg,#00f0a5 107.3deg,#00ffe8 111.7deg,#00f8f6 113.3deg,#00fced 128.6deg,#00fced 134.6deg,#00ffe8 134.8deg,#00f0a5 136.5deg,#00b91e 139.1deg,#78d700 140.5deg,#ff0 142.1deg,#ffb400 144.4deg,#fa6600 146.6deg,#fa6600 150.6deg,#ffb400 152.8deg,#ff0 155.1deg,#78d700 157deg,#00b91e 158.6deg,#00f0a5 161.5deg,#00ffe8 163.4deg,#00fced 163.6deg,#00fbf1 169.6deg,#00fbf1 223.7deg,#00ffe8 224.1deg,#00f0a5 225.7deg,#00b91e 228.2deg,#78d700 230.3deg,#ff0 232.7deg,#ffb400 236.7deg,#fea000 237.7deg,#fa6400 249.4deg,#f75c00 250.5deg,#e73300 257.5deg,#f75c00 264.4deg,#fa6400 265.3deg,#ffb400 277.4deg,#ff0 289.5deg,#78d700 300.3deg,#00b91e 309.7deg,#00f0a5 315.8deg,#00f9cd 318.1deg,#00ffe8 326.9deg,#00fcef 330.8deg,#00f4ff 339.9deg,#00fced 348.9deg,#00ffe8 349.8deg,#00f3b4 355deg,#00f0a5 355.6deg,#00b91e 360deg)"></i><i style="left:78px;top:78px;width:234px;height:234px;background:conic-gradient(from -19deg,#00b91e 0deg,#78d700 2.5deg,#ff0 5.6deg,#ffca00 45.2deg,#ffd600 64.8deg,#ff0 72.8deg,#78d700 78.9deg,#00b91e 86.3deg,#00f0a5 106.3deg,#00ffe8 110.5deg,#00f8f6 112deg,#00fced 128.1deg,#00fced 134.1deg,#00ffe8 134.3deg,#00f0a5 136deg,#00b91e 138.6deg,#78d700 140deg,#ff0 141.6deg,#ffb400 143.8deg,#fa6400 146deg,#f85f00 146.1deg,#f85f00 150.1deg,#fa6400 150.2deg,#ffb400 152.4deg,#ff0 154.6deg,#78d700 156.5deg,#00b91e 158.1deg,#00f0a5 161deg,#00ffe8 162.8deg,#00fced 163.1deg,#00fbf1 169.1deg,#00fbf1 223.7deg,#00ffe8 224.1deg,#00f0a5 225.7deg,#00b91e 228.2deg,#78d700 230.3deg,#ff0 232.7deg,#ffb400 236.7deg,#fea000 237.7deg,#fa6400 249.6deg,#f75c00 250.8deg,#e73300 257.6deg,#f75c00 264.4deg,#fa6400 265.3deg,#ffb400 277.7deg,#ff0 290.1deg,#78d700 300.9deg,#00b91e 310.1deg,#00f0a5 316.2deg,#00f9cd 318.4deg,#00ffe8 327.1deg,#00fcef 330.9deg,#00f4ff 339.5deg,#01f2ff 339.9deg,#00f4ff 340.2deg,#00fced 348.9deg,#00ffe8 349.8deg,#00f3b4 355deg,#00f0a5 355.6deg,#00b91e 360deg)"></i><i style="left:81px;top:81px;width:228px;height:228px;background:conic-gradient(from -20.2deg,#00b91e 0deg,#78d700 2.4deg,#ff0 5.2deg,#ffca00 45.8deg,#ffd600 65.2deg,#ff0 73.2deg,#78d700 79.3deg,#00b91e 86.7deg,#00f0a5 105.4deg,#00ffe8 109.3deg,#00f8f6 110.7deg,#00fced 127.5deg,#00fced 133.5deg,#00ffe8 133.8deg,#00f0a5 135.4deg,#00b91e 138deg,#78d700 139.4deg,#ff0 141deg,#ffb400 143.2deg,#fa6400 145.3deg,#f55800 145.5deg,#f55800 149.5deg,#fa6400 149.8deg,#ffb400 151.9deg,#ff0 154deg,#78d700 155.9deg,#00b91e 157.5deg,#00f0a5 160.5deg,#00ffe8 162.3deg,#00fced 162.5deg,#00fbf1 168.5deg,#00fbf1 223.7deg,#00ffe8 224deg,#00f0a5 225.6deg,#00b91e 228.2deg,#78d700 230.3deg,#ff0 232.7deg,#ffb400 236.7deg,#fea000 237.7deg,#fa6400 249.8deg,#f75c00 251.1deg,#e73300 257.7deg,#f75c00 264.3deg,#fa6400 265.3deg,#ffb400 277.9deg,#ff0 290.6deg,#78d700 301.4deg,#00b91e 310.6deg,#00f0a5 316.6deg,#00f9cd 318.8deg,#00ffe8 327.4deg,#00fcef 331.2deg,#00f4ff 338deg,#04e7ff 340.1deg,#00f4ff 342.1deg,#00fced 349deg,#00ffe8 349.9deg,#00f3b4 355deg,#00f0a5 355.6deg,#00b91e 360deg)"></i><i style="left:84px;top:84px;width:222px;height:222px;background:conic-gradient(from -21.5deg,#00b91e 0deg,#78d700 2.2deg,#ff0 4.9deg,#ffca00 46.4deg,#ffd600 65.7deg,#ff0 73.7deg,#78d700 79.7deg,#00b91e 87.1deg,#00f0a5 105deg,#00ffe8 108.7deg,#00f8f6 110.1deg,#00fced 127.3deg,#00fced 133.3deg,#00ffe8 133.6deg,#00f0a5 135.2deg,#00b91e 137.8deg,#78d700 139.2deg,#ff0 140.8deg,#ffb400 142.9deg,#fa6400 144.9deg,#f24f00 145.3deg,#f24f00 149.3deg,#fa6400 149.8deg,#ffb400 151.8deg,#ff0 153.8deg,#78d700 155.7deg,#00b91e 157.3deg,#00f0a5 160.3deg,#00ffe8 162.1deg,#00fced 162.3deg,#00fbf1 168.3deg,#00fbf1 223.5deg,#00ffe8 223.9deg,#00f0a5 225.5deg,#00b91e 228deg,#78d700 230.1deg,#ff0 232.5deg,#ffb400 236.5deg,#fea000 237.5deg,#fa6400 250.1deg,#f75c00 251.3deg,#e73300 257.8deg,#f75c00 264.3deg,#fa6400 265.2deg,#ffb400 278.1deg,#ff0 290.9deg,#78d700 301.7deg,#00b91e 311deg,#00f0a5 317deg,#00f9cd 319.2deg,#00ffe8 327.7deg,#00fcef 331.5deg,#00f4ff 337.1deg,#07ddff 340.3deg,#00f4ff 343.4deg,#00fced 349.2deg,#00ffe8 350.1deg,#00f3b4 355.1deg,#00f0a5 355.7deg,#00b91e 360deg)"></i><i style="left:87px;top:87px;width:216px;height:216px;background:conic-gradient(from -22.7deg,#00b91e 0deg,#78d700 2.1deg,#ff0 4.6deg,#ffca00 46.8deg,#ffd600 66.1deg,#ff0 74.1deg,#78d700 80.1deg,#00b91e 87.5deg,#00f0a5 104.8deg,#00ffe8 108.3deg,#00f8f6 109.6deg,#00fced 127.2deg,#00fced 133.2deg,#00ffe8 133.4deg,#00f0a5 135.1deg,#00b91e 137.7deg,#78d700 139.1deg,#ff0 140.7deg,#ffb400 142.7deg,#fa6400 144.6deg,#ee4500 145.2deg,#ee4500 149.2deg,#fa6400 149.8deg,#ffb400 151.7deg,#ff0 153.7deg,#78d700 155.6deg,#00b91e 157.2deg,#00f0a5 160.6deg,#00fbd8 162.2deg,#00fbd8 168.2deg,#00fbd8 222.5deg,#00f0a5 224deg,#00b91e 227deg,#78d700 229.1deg,#ff0 231.5deg,#ffb400 235.5deg,#fea000 236.5deg,#fa6400 250.2deg,#f75c00 251.6deg,#e73300 257.9deg,#f75c00 264.2deg,#fa6400 265.2deg,#ffb400 278.2deg,#ff0 291.3deg,#78d700 302.1deg,#00b91e 311.5deg,#00f0a5 317.4deg,#00f9cd 319.6deg,#00ffe8 328.1deg,#00fcef 331.8deg,#00f4ff 336.5deg,#0ad2ff 340.5deg,#00f4ff 344.3deg,#00fced 349.3deg,#00ffe8 350.2deg,#00f3b4 355.1deg,#00f0a5 355.7deg,#00b91e 360deg)"></i><i style="left:90px;top:90px;width:210px;height:210px;background:conic-gradient(from -23.9deg,#00b91e 0deg,#78d700 2deg,#ff0 4.4deg,#ffca00 47.3deg,#ffd600 66.5deg,#ff0 74.5deg,#78d700 80.5deg,#00b91e 87.8deg,#00f0a5 104.5deg,#00ffe8 108deg,#00f8f6 109.2deg,#00f8f6 135deg,#00f4ff 135.3deg,#247bff 136.7deg,#00f4ff 138.1deg,#00f8f6 138.4deg,#00ffe8 138.4deg,#00f0a5 138.5deg,#00b91e 138.7deg,#78d700 139.5deg,#ff0 140.6deg,#ffb400 142.4deg,#fa6400 144.3deg,#ea3c00 145.1deg,#ea3c00 149.1deg,#fa6400 149.8deg,#ffb400 151.7deg,#ff0 153.6deg,#78d700 155.8deg,#2bc413 157.1deg,#2bc413 162.1deg,#2bc413 168.1deg,#2bc413 221.5deg,#2bc413 226deg,#78d700 227.6deg,#ff0 230.5deg,#ffb400 234.5deg,#fea000 235.5deg,#fa6400 250.3deg,#f75c00 251.8deg,#e73300 258deg,#f75c00 264.2deg,#fa6400 265.2deg,#ffb400 278.4deg,#ff0 291.6deg,#78d700 302.5deg,#00b91e 311.9deg,#00f0a5 317.8deg,#00f9cd 320deg,#00ffe8 328.4deg,#00fcef 332.1deg,#00f4ff 336.2deg,#0dc7ff 340.8deg,#00f4ff 345.1deg,#00fced 349.4deg,#00ffe8 350.3deg,#00f3b4 355.2deg,#00f0a5 355.8deg,#00b91e 360deg)"></i><i style="left:93px;top:93px;width:204px;height:204px;background:conic-gradient(from -25.2deg,#00b91e 0deg,#78d700 1.8deg,#ff0 4.1deg,#ffca00 47.8deg,#ffd600 67deg,#ff0 75deg,#78d700 80.9deg,#00b91e 88.2deg,#00f0a5 104.3deg,#00ffe8 107.6deg,#00f8f6 108.8deg,#00f8f6 134.8deg,#00f4ff 135.1deg,#247bff 136.5deg,#00f4ff 138deg,#00f8f6 138.2deg,#00ffe8 138.3deg,#00f0a5 138.4deg,#00b91e 138.5deg,#78d700 139.4deg,#ff0 140.4deg,#ffb400 142.2deg,#fa6400 144deg,#e73200 144.9deg,#e73200 148.9deg,#fa6400 149.9deg,#ffb400 151.8deg,#fff000 153.4deg,#fff000 156.9deg,#fff000 161.9deg,#fff000 167.9deg,#fff000 220.2deg,#fff000 224.7deg,#fff000 229.2deg,#ffb400 233.1deg,#fea000 234.2deg,#fa6400 250.5deg,#f75c00 252.1deg,#e73300 258.1deg,#f75c00 264.1deg,#fa6400 265.1deg,#ffb400 278.5deg,#ff0 291.9deg,#78d700 302.9deg,#00b91e 312.4deg,#00f0a5 318.2deg,#00f9cd 320.4deg,#00ffe8 328.7deg,#00fcef 332.4deg,#00f4ff 336deg,#11bcff 341deg,#00f4ff 345.7deg,#00fced 349.5deg,#00ffe8 350.4deg,#00f3b4 355.2deg,#00f0a5 355.8deg,#00b91e 360deg)"></i><i style="left:96px;top:96px;width:198px;height:198px;background:conic-gradient(from -26.4deg,#00b91e 0deg,#78d700 1.8deg,#ff0 4deg,#ffca00 48.3deg,#ffd600 67.4deg,#ff0 75.4deg,#78d700 81.4deg,#00b91e 88.6deg,#00f0a5 104deg,#00ffe8 107.2deg,#00f8f6 108.3deg,#00f8f6 134.6deg,#00f4ff 134.8deg,#247bff 136.3deg,#00f4ff 137.8deg,#00f8f6 138.1deg,#00ffe8 138.1deg,#00f0a5 138.2deg,#00b91e 138.4deg,#78d700 139.3deg,#ff0 140.3deg,#ffb400 142.1deg,#fa6400 143.9deg,#e63100 144.8deg,#e63100 148.8deg,#fa6400 152.8deg,#fc8c00 156.8deg,#fc8c00 219deg,#fc8c00 223.5deg,#fc8c00 228deg,#fea000 233deg,#fa6400 250.4deg,#f75c00 252.2deg,#e73300 258deg,#f75c00 263.9deg,#fa6400 264.9deg,#ffb400 278.6deg,#ff0 292.2deg,#78d700 303.3deg,#00b91e 312.8deg,#00f0a5 318.6deg,#00f9cd 320.8deg,#00ffe8 329.1deg,#00fcef 332.7deg,#00f4ff 335.9deg,#14b1ff 341.2deg,#00f4ff 346.3deg,#00fced 349.7deg,#00ffe8 350.5deg,#00f3b4 355.3deg,#00f0a5 355.9deg,#00b91e 360deg)"></i><i style="left:99px;top:99px;width:192px;height:192px;background:conic-gradient(from -27.3deg,#00b91e 0deg,#78d700 1.8deg,#ff0 4deg,#ffca00 48.4deg,#ffd600 67.6deg,#ff0 75.6deg,#78d700 81.5deg,#00b91e 88.7deg,#00f0a5 103.4deg,#00ffe8 106.5deg,#00f8f6 107.6deg,#00f8f6 134deg,#00f4ff 134.3deg,#247bff 135.8deg,#00f4ff 137.4deg,#00f8f6 137.6deg,#00ffe8 137.7deg,#00f0a5 137.8deg,#00b91e 137.9deg,#78d700 138.8deg,#ff0 139.8deg,#ffb400 141.6deg,#fa6400 143.4deg,#e63100 144.3deg,#e63100 148.3deg,#fa6400 152.3deg,#fc8c00 156.3deg,#fc8c00 217.4deg,#fc8c00 221.9deg,#fc8c00 226.4deg,#fea000 231.4deg,#fa6400 249.4deg,#f75c00 251.1deg,#e73300 256.9deg,#f75c00 262.6deg,#fa6400 263.7deg,#ffb400 277.8deg,#ff0 292deg,#78d700 303.3deg,#00b91e 313deg,#00f0a5 318.8deg,#00f9cd 320.9deg,#00ffe8 329.2deg,#00fcef 332.8deg,#00f4ff 335.7deg,#17a7ff 341.3deg,#00f4ff 346.7deg,#00fced 349.7deg,#00ffe8 350.6deg,#00f3b4 355.3deg,#00f0a5 355.9deg,#00b91e 360deg)"></i><i style="left:102px;top:102px;width:186px;height:186px;background:conic-gradient(from -28deg,#00b91e 0deg,#78d700 1.8deg,#ff0 4deg,#ffca00 48.3deg,#ffd600 67.4deg,#ff0 75.4deg,#78d700 81.4deg,#00b91e 88.6deg,#00f0a5 103.1deg,#00ffe8 106.1deg,#00f8f6 107.2deg,#00f8f6 133.2deg,#00f4ff 133.5deg,#247bff 135.1deg,#00f4ff 136.7deg,#00f8f6 136.9deg,#00ffe8 137deg,#00f0a5 137.1deg,#00b91e 137.2deg,#78d700 138.1deg,#ff0 139.1deg,#ffb400 140.9deg,#fa6400 142.7deg,#e63100 143.6deg,#e63100 147.6deg,#fa6400 151.6deg,#fc8c00 155.6deg,#fa6400 237.6deg,#f75c00 249.8deg,#e73300 255.4deg,#f75c00 261deg,#fa6400 262.1deg,#ffb400 276.8deg,#ff0 291.6deg,#78d700 303deg,#00b91e 312.9deg,#00f0a5 318.6deg,#00f9cd 320.8deg,#00ffe8 329deg,#00fcef 332.7deg,#00f4ff 335.3deg,#1a9cff 341.1deg,#00f4ff 346.8deg,#00fced 349.6deg,#00ffe8 350.5deg,#00f3b4 355.3deg,#00f0a5 355.9deg,#00b91e 360deg)"></i><i style="left:105px;top:105px;width:180px;height:180px;background:conic-gradient(from -28.6deg,#00b91e 0deg,#78d700 1.8deg,#ff0 4deg,#ffca00 48.2deg,#ffd600 67.3deg,#ff0 75.3deg,#78d700 81.2deg,#00b91e 88.6deg,#00f0a5 102.9deg,#00ffe8 105.8deg,#00f8f6 106.9deg,#00f8f6 132.4deg,#00f4ff 132.7deg,#247bff 134.3deg,#00f4ff 135.9deg,#00f8f6 136.2deg,#00ffe8 136.3deg,#00f0a5 136.4deg,#00b91e 136.5deg,#78d700 137.4deg,#ff0 138.4deg,#ffb400 140.2deg,#fa6400 142deg,#e63100 142.9deg,#e63100 146.9deg,#fa6400 150.9deg,#fc8c00 154.9deg,#fa6400 236.3deg,#f75c00 248.5deg,#e73300 254deg,#f75c00 259.4deg,#fa6400 260.5deg,#ffb400 275.8deg,#ff0 291.1deg,#78d700 302.8deg,#00b91e 312.7deg,#00f0a5 318.5deg,#00f9cd 320.6deg,#00ffe8 328.8deg,#00fcef 332.5deg,#00f4ff 334.9deg,#1e91ff 340.9deg,#00f4ff 346.9deg,#00fced 349.5deg,#00ffe8 350.4deg,#00f3b4 355.2deg,#00f0a5 355.8deg,#00b91e 360deg)"></i><i style="left:108px;top:108px;width:174px;height:174px;background:conic-gradient(from -29.2deg,#00b91e 0deg,#78d700 1.8deg,#ff0 4deg,#ffca00 48.1deg,#ffd600 67.1deg,#ff0 75.1deg,#78d700 81.1deg,#00b91e 88.5deg,#00f0a5 102.6deg,#00ffe8 105.5deg,#00f8f6 106.6deg,#00f8f6 131.5deg,#00f4ff 131.8deg,#247bff 133.5deg,#00f4ff 135.2deg,#00f8f6 135.5deg,#00ffe8 135.6deg,#00f0a5 135.7deg,#00b91e 135.8deg,#78d700 136.7deg,#ff0 137.7deg,#ffb400 139.5deg,#fa6400 141.3deg,#e63100 142.2deg,#e63100 146.2deg,#fa6400 150.2deg,#fc8c00 154.2deg,#fa6400 235.1deg,#f75c00 247.2deg,#e73300 252.5deg,#f75c00 257.8deg,#fa6400 259deg,#ffb400 274.8deg,#ff0 290.6deg,#78d700 302.4deg,#00b91e 312.5deg,#00f0a5 318.2deg,#00f9cd 320.4deg,#00ffe8 328.6deg,#00fcef 332.3deg,#00f4ff 334.5deg,#2186ff 340.8deg,#00f4ff 346.9deg,#00fced 349.4deg,#00ffe8 350.3deg,#00f3b4 355.2deg,#00f0a5 355.8deg,#00b91e 360deg)"></i><i style="left:111px;top:111px;width:168px;height:168px;background:conic-gradient(from -29.9deg,#00b91e 0deg,#78d700 1.8deg,#ff0 4deg,#ffca00 48deg,#ffd600 67deg,#ff0 75deg,#78d700 81deg,#00b91e 88.4deg,#00f0a5 102.4deg,#00ffe8 105.3deg,#00f8f6 106.3deg,#00f8f6 130.7deg,#00f4ff 131deg,#247bff 132.8deg,#00f4ff 134.5deg,#00f8f6 134.8deg,#00ffe8 134.9deg,#00f0a5 135deg,#00b91e 135.1deg,#78d700 136deg,#ff0 137deg,#ffb400 138.8deg,#fa6400 140.6deg,#e63100 141.5deg,#e63100 145.5deg,#fa6400 149.5deg,#fc8c00 153.5deg,#fa6400 233.9deg,#f75c00 245.9deg,#e73300 251deg,#f75c00 256.2deg,#fa6400 257.4deg,#ffb400 273.8deg,#ff0 290.2deg,#78d700 302deg,#00b91e 312.2deg,#00f0a5 317.9deg,#00f9cd 320.1deg,#00ffe8 328.4deg,#00fcef 332deg,#00f4ff 334.2deg,#247bff 340.6deg,#00f4ff 346.9deg,#00fced 349.3deg,#00ffe8 350.2deg,#00f3b4 355.1deg,#00f0a5 355.7deg,#00b91e 360deg)"></i><i style="left:114px;top:114px;width:162px;height:162px;background:conic-gradient(from -30.5deg,#00b91e 0deg,#78d700 1.8deg,#ff0 4deg,#ffca00 47.9deg,#ffd600 66.9deg,#ff0 74.9deg,#78d700 80.9deg,#00b91e 88.4deg,#00f0a5 102.2deg,#00ffe8 105deg,#00f8f6 106deg,#00f8f6 129.8deg,#00f4ff 130.2deg,#247bff 132deg,#00f4ff 133.8deg,#00f8f6 134.1deg,#00ffe8 134.2deg,#00f0a5 134.3deg,#00b91e 134.4deg,#78d700 135.3deg,#ff0 136.3deg,#ffb400 138.1deg,#fa6400 139.9deg,#e63100 140.8deg,#e63100 144.8deg,#fa6400 148.8deg,#fc8c00 152.8deg,#fa6400 232.6deg,#f75c00 244.6deg,#e73300 249.6deg,#f75c00 254.6deg,#fa6400 255.8deg,#ffb400 272.8deg,#ff0 289.7deg,#78d700 301.6deg,#00b91e 311.8deg,#00f0a5 317.7deg,#00f9cd 319.8deg,#00ffe8 328.1deg,#00fcef 331.8deg,#00f4ff 333.8deg,#2771ff 340.4deg,#00f4ff 347deg,#00fced 349.2deg,#00ffe8 350.1deg,#00f3b4 355.1deg,#00f0a5 355.7deg,#00b91e 360deg)"></i><i style="left:117px;top:117px;width:156px;height:156px;background:conic-gradient(from -31.2deg,#00b91e 0deg,#78d700 1.8deg,#ff0 4deg,#ffca00 47.8deg,#ffd600 66.7deg,#ff0 74.7deg,#78d700 80.9deg,#00b91e 88.3deg,#00f0a5 101.9deg,#00ffe8 104.7deg,#00f8f6 105.7deg,#00f8f6 128.9deg,#00f4ff 129.3deg,#247bff 131.2deg,#00f4ff 133.1deg,#00f8f6 133.4deg,#00ffe8 133.5deg,#00f0a5 133.6deg,#00b91e 133.7deg,#78d700 134.6deg,#ff0 135.6deg,#ffb400 137.4deg,#fa6400 139.2deg,#e63100 140.1deg,#e63100 144.1deg,#fa6400 148.1deg,#fc8c00 152.1deg,#fa6400 232deg,#f75c00 243.9deg,#e73300 248.8deg,#f75c00 253.6deg,#fa6400 254.9deg,#ffb400 272deg,#ff0 289.1deg,#78d700 301.2deg,#00b91e 311.5deg,#00f0a5 317.4deg,#00f9cd 319.6deg,#00ffe8 327.9deg,#00fcef 331.6deg,#00f4ff 333.5deg,#286eff 339.8deg,#296cfe 340.2deg,#286eff 340.5deg,#00f4ff 347deg,#00fced 349.1deg,#00ffe8 350deg,#00f3b4 355deg,#00f0a5 355.7deg,#00b91e 360deg)"></i><i style="left:120px;top:120px;width:150px;height:150px;background:conic-gradient(from -31.8deg,#00b91e 0deg,#78d700 1.8deg,#ff0 4deg,#ffca00 47.7deg,#ffd600 66.6deg,#ff0 74.6deg,#78d700 80.8deg,#00b91e 88.3deg,#00f0a5 101.7deg,#00ffe8 104.5deg,#00f8f6 105.5deg,#00f8f6 128.1deg,#00f4ff 128.4deg,#247bff 130.4deg,#00f4ff 132.4deg,#00f8f6 132.7deg,#00ffe8 132.8deg,#00f0a5 132.9deg,#00b91e 133deg,#78d700 133.9deg,#ff0 134.9deg,#ffb400 136.7deg,#fa6400 138.5deg,#e63100 139.4deg,#e63100 143.4deg,#fa6400 147.4deg,#fc8c00 151.4deg,#fa6400 231.8deg,#f75c00 243.9deg,#e73300 248.5deg,#f75c00 253.2deg,#fa6400 254.5deg,#ffb400 271.4deg,#ff0 288.4deg,#78d700 300.7deg,#00b91e 311.2deg,#00f0a5 317.1deg,#00f9cd 319.3deg,#00ffe8 327.6deg,#00fcef 331.3deg,#00f4ff 333.1deg,#286eff 339.1deg,#2b69fc 340deg,#286eff 340.8deg,#00f4ff 346.9deg,#00fced 349deg,#00ffe8 349.9deg,#00f3b4 355deg,#00f0a5 355.6deg,#00b91e 360deg)"></i><i style="left:123px;top:123px;width:144px;height:144px;background:conic-gradient(from -32.5deg,#00b91e 0deg,#78d700 1.8deg,#ff0 4deg,#ffca00 47.6deg,#ffd600 66.5deg,#ff0 74.5deg,#78d700 80.7deg,#00b91e 88.2deg,#00f0a5 101.4deg,#00ffe8 104.2deg,#00f8f6 105.2deg,#00f8f6 127.2deg,#00f4ff 127.5deg,#247bff 129.6deg,#00f4ff 131.7deg,#00f8f6 132deg,#00ffe8 132.1deg,#00f0a5 132.2deg,#00b91e 132.3deg,#78d700 133.2deg,#ff0 134.2deg,#ffb400 136deg,#fa6400 137.8deg,#e63100 138.7deg,#e63100 142.7deg,#fa6400 146.7deg,#fc8c00 150.7deg,#fa6400 231.7deg,#f75c00 243.8deg,#e73300 248.3deg,#f75c00 252.8deg,#fa6400 254.1deg,#ffb400 270.9deg,#ff0 287.7deg,#78d700 300.2deg,#00b91e 310.9deg,#00f0a5 316.9deg,#00f9cd 319.1deg,#00ffe8 327.6deg,#00fcef 331.4deg,#00f4ff 333.1deg,#286eff 338.8deg,#2c67fa 340.1deg,#286eff 341.4deg,#00f4ff 347.1deg,#00fced 349.1deg,#00ffe8 350deg,#00f3b4 355deg,#00f0a5 355.6deg,#00b91e 360deg)"></i><i style="left:126px;top:126px;width:138px;height:138px;background:conic-gradient(from -32.9deg,#00b91e 0deg,#78d700 1.8deg,#ff0 4deg,#ffca00 47.3deg,#ffd600 66.2deg,#ff0 74.2deg,#78d700 80.4deg,#00b91e 88deg,#00f0a5 101deg,#00ffe8 103.7deg,#00f8f6 104.7deg,#00f8f6 126deg,#00f4ff 126.4deg,#247bff 128.5deg,#00f4ff 130.7deg,#00f8f6 131.1deg,#00ffe8 131.1deg,#00f0a5 131.2deg,#00b91e 131.4deg,#78d700 132.2deg,#ff0 133.3deg,#ffb400 135.1deg,#fa6400 136.9deg,#e63100 137.8deg,#e63100 141.8deg,#fa6400 145.8deg,#fc8c00 149.8deg,#fa6400 231.3deg,#f75c00 243.6deg,#e73300 247.9deg,#f75c00 252.3deg,#fa6400 253.6deg,#ffb400 270.2deg,#ff0 286.8deg,#78d700 299.5deg,#00b91e 310.4deg,#00f0a5 316.5deg,#00f9cd 318.8deg,#00ffe8 327.4deg,#00fcef 331.2deg,#00f4ff 332.9deg,#286eff 338.5deg,#2e64f8 340.2deg,#286eff 341.8deg,#00f4ff 347.3deg,#00fced 349.1deg,#00ffe8 350deg,#00f3b4 355deg,#00f0a5 355.7deg,#00b91e 360deg)"></i><i style="left:129px;top:129px;width:132px;height:132px;background:conic-gradient(from -32.6deg,#00b91e 0deg,#78d700 1.8deg,#ff0 4deg,#ffca00 46.2deg,#ffd600 65deg,#ff0 73deg,#78d700 79.3deg,#00b91e 86.9deg,#00f0a5 99.9deg,#00ffe8 102.6deg,#00f8f6 103.5deg,#00f8f6 123.8deg,#00f4ff 124.2deg,#247bff 126.5deg,#00f4ff 128.7deg,#00f8f6 129.1deg,#00ffe8 129.2deg,#00f0a5 129.3deg,#00b91e 129.4deg,#78d700 130.3deg,#ff0 131.3deg,#ffb400 133.1deg,#fa6400 134.9deg,#e63100 135.8deg,#e63100 139.8deg,#fa6400 143.8deg,#fc8c00 147.8deg,#fa6400 230.1deg,#f75c00 242.5deg,#e73300 246.7deg,#f75c00 250.9deg,#fa6400 252.2deg,#ffb400 268.7deg,#ff0 285.1deg,#78d700 298.1deg,#00b91e 309.1deg,#00f0a5 315.3deg,#00f9cd 317.6deg,#00ffe8 326.4deg,#00fcef 330.3deg,#00f4ff 331.9deg,#286eff 337.3deg,#2f61f7 339.4deg,#286eff 341.4deg,#00f4ff 346.8deg,#00fced 348.6deg,#00ffe8 349.6deg,#00f3b4 354.8deg,#00f0a5 355.5deg,#00b91e 360deg)"></i><i style="left:132px;top:132px;width:126px;height:126px;background:conic-gradient(from -32.2deg,#00b91e 0deg,#78d700 1.8deg,#ff0 4deg,#ffca00 45.1deg,#ffd600 63.9deg,#ff0 71.9deg,#78d700 78.3deg,#00b91e 86.1deg,#00f0a5 99.2deg,#00ffe8 101.9deg,#00f8f6 102.9deg,#00f8f6 121.6deg,#00f4ff 122deg,#247bff 124.4deg,#00f4ff 126.8deg,#00f8f6 127.2deg,#00ffe8 127.2deg,#00f0a5 127.3deg,#00b91e 127.5deg,#78d700 128.4deg,#ff0 129.4deg,#ffb400 131.2deg,#fa6400 133deg,#e63100 133.9deg,#e63100 137.9deg,#fa6400 141.9deg,#fc8c00 145.9deg,#fa6400 229deg,#f75c00 241.4deg,#e73300 245.5deg,#f75c00 249.6deg,#fa6400 250.8deg,#ffb400 267.1deg,#ff0 283.4deg,#78d700 296.6deg,#00b91e 307.8deg,#00f0a5 314.1deg,#00f9cd 316.4deg,#00ffe8 325.4deg,#00fcef 329.3deg,#00f4ff 330.9deg,#286eff 336.2deg,#315ff5 338.6deg,#286eff 341deg,#00f4ff 346.4deg,#00fced 348.2deg,#00ffe8 349.2deg,#00f3b4 354.6deg,#00f0a5 355.3deg,#00b91e 360deg)"></i><i style="left:135px;top:135px;width:120px;height:120px;background:conic-gradient(from -31.8deg,#00b91e 0deg,#78d700 1.8deg,#ff0 4deg,#ffca00 44deg,#ffd600 62.8deg,#ff0 70.8deg,#78d700 77.4deg,#00b91e 85.4deg,#00f0a5 98.5deg,#00ffe8 101.2deg,#00f8f6 102.2deg,#00f8f6 119.4deg,#00f4ff 119.8deg,#247bff 122.3deg,#00f4ff 124.8deg,#00f8f6 125.3deg,#00ffe8 125.3deg,#00f0a5 125.4deg,#00b91e 125.6deg,#78d700 126.4deg,#ff0 127.5deg,#ffb400 129.3deg,#fa6400 131.1deg,#e63100 132deg,#e63100 136deg,#fa6400 140deg,#fc8c00 144deg,#fd9000 240.3deg,#fb7000 244.3deg,#fd9000 248.2deg,#ffb400 258.5deg,#ff0 281.4deg,#78d700 294.9deg,#00b91e 306.5deg,#00f0a5 312.9deg,#00f9cd 315.3deg,#00ffe8 324.3deg,#00fcef 328.4deg,#00f4ff 329.9deg,#286eff 335.1deg,#325df4 337.8deg,#286eff 340.5deg,#00f4ff 346deg,#00fced 347.8deg,#00ffe8 348.8deg,#00f3b4 354.4deg,#00f0a5 355.1deg,#00b91e 360deg)"></i><i style="left:138px;top:138px;width:114px;height:114px;background:conic-gradient(from -31.5deg,#00b91e 0deg,#78d700 1.8deg,#ff0 4deg,#ffca00 42.8deg,#ffd600 61.6deg,#ff0 69.6deg,#78d700 76.4deg,#00b91e 84.8deg,#00f0a5 97.9deg,#00ffe8 100.6deg,#00f8f6 101.6deg,#00f8f6 117.1deg,#00f4ff 117.6deg,#247bff 120.2deg,#00f4ff 122.8deg,#00f8f6 123.3deg,#00ffe8 123.4deg,#00f0a5 123.5deg,#00b91e 123.6deg,#78d700 124.5deg,#ff0 125.5deg,#ffb400 127.3deg,#fa6400 129.1deg,#e63100 130deg,#e63100 134deg,#fa6400 138deg,#fc8c00 142deg,#fd9000 239.1deg,#fb7000 243deg,#fd9000 247deg,#ffb400 257deg,#ff0 279.3deg,#78d700 293.3deg,#00b91e 305.3deg,#00f0a5 311.8deg,#00f9cd 314.2deg,#00ffe8 323.4deg,#00fcef 327.5deg,#00f4ff 329.1deg,#286eff 334.3deg,#325df4 337deg,#286eff 339.8deg,#00f4ff 345.5deg,#00fced 347.3deg,#00ffe8 348.4deg,#00f3b4 354.2deg,#00f0a5 355deg,#00b91e 360deg)"></i><i style="left:141px;top:141px;width:108px;height:108px;background:conic-gradient(from -31.1deg,#00b91e 0deg,#78d700 1.8deg,#ff0 4deg,#ffca00 41.7deg,#ffd600 60.5deg,#ff0 68.5deg,#78d700 75.5deg,#00b91e 84.1deg,#00f0a5 97.2deg,#00ffe8 99.9deg,#00f8f6 100.9deg,#00f8f6 114.8deg,#00f4ff 115.4deg,#247bff 118.1deg,#00f4ff 120.9deg,#00f8f6 121.4deg,#00ffe8 121.4deg,#00f0a5 121.5deg,#00b91e 121.7deg,#78d700 122.6deg,#ff0 123.6deg,#ffb400 125.4deg,#fa6400 127.2deg,#e63100 128.1deg,#e63100 132.1deg,#fa6400 136.1deg,#fc8c00 140.1deg,#fd9000 237.9deg,#fb7000 241.8deg,#fd9000 245.7deg,#ffb400 255.5deg,#ff0 277.2deg,#78d700 291.8deg,#00b91e 304.2deg,#00f0a5 310.7deg,#00f9cd 313.2deg,#00ffe8 322.5deg,#00fcef 326.6deg,#00f4ff 328.2deg,#286eff 333.4deg,#325df4 336.2deg,#286eff 339.2deg,#00f4ff 345deg,#00fced 346.9deg,#00ffe8 348deg,#00f3b4 354deg,#00f0a5 354.8deg,#00b91e 360deg)"></i><i style="left:144px;top:144px;width:102px;height:102px;background:conic-gradient(from -30.7deg,#00b91e 0deg,#78d700 1.8deg,#ff0 4deg,#ffca00 40.6deg,#ffd600 59.5deg,#ff0 67.5deg,#78d700 74.7deg,#00b91e 83.4deg,#00f0a5 96.6deg,#00ffe8 99.3deg,#00f8f6 100.3deg,#00f8f6 112.5deg,#00f4ff 113.1deg,#247bff 116deg,#00f4ff 118.9deg,#00f8f6 119.5deg,#00ffe8 119.5deg,#00f0a5 119.6deg,#00b91e 119.8deg,#78d700 120.6deg,#ff0 121.7deg,#ffb400 123.5deg,#fa6400 125.3deg,#e63100 126.2deg,#e63100 130.2deg,#fa6400 134.2deg,#fc8c00 138.2deg,#fd9000 236.7deg,#fb7000 240.6deg,#fd9000 244.4deg,#ffb400 253.9deg,#ff0 275.2deg,#78d700 290.2deg,#00b91e 303.1deg,#00f0a5 309.7deg,#00f9cd 312.1deg,#00ffe8 321.5deg,#00fcef 325.7deg,#00f4ff 327.3deg,#286eff 332.6deg,#325df3 335.4deg,#286eff 338.5deg,#00f4ff 344.5deg,#00fced 346.5deg,#00ffe8 347.6deg,#00f3b4 353.8deg,#00f0a5 354.6deg,#00b91e 360deg)"></i><i style="left:147px;top:147px;width:96px;height:96px;background:conic-gradient(from -30.4deg,#00b91e 0deg,#78d700 1.8deg,#ff0 4deg,#ffca00 39.7deg,#ffd600 58.7deg,#ff0 66.7deg,#78d700 74deg,#00b91e 82.8deg,#00f0a5 95.9deg,#00ffe8 98.6deg,#00f8f6 99.6deg,#00f8f6 110.1deg,#00f4ff 110.7deg,#247bff 113.8deg,#00f4ff 117deg,#00f8f6 117.5deg,#00ffe8 117.6deg,#00f0a5 117.7deg,#00b91e 117.8deg,#78d700 118.7deg,#ff0 119.7deg,#ffb400 121.5deg,#fa6400 123.3deg,#e63100 124.2deg,#e63100 128.2deg,#fa6400 132.2deg,#fc8c00 136.2deg,#fd9000 235.4deg,#fb7000 239.2deg,#fd9000 243deg,#ffb400 252.3deg,#ff0 273.1deg,#78d700 288.6deg,#00b91e 302deg,#00f0a5 308.6deg,#00f9cd 311.1deg,#00ffe8 320.6deg,#00fcef 324.8deg,#00f4ff 326.4deg,#286eff 331.7deg,#325cf3 334.6deg,#286eff 337.9deg,#00f4ff 344deg,#00fced 346deg,#00ffe8 347.2deg,#00f3b4 353.6deg,#00f0a5 354.4deg,#00b91e 360deg)"></i><i style="left:150px;top:150px;width:90px;height:90px;background:conic-gradient(from -30deg,#00b91e 0deg,#78d700 1.8deg,#ff0 4deg,#ffca00 38.7deg,#ffd600 58deg,#ff0 66deg,#78d700 73.2deg,#00b91e 82.1deg,#00f0a5 95.3deg,#00ffe8 98deg,#00f8f6 99deg,#00f8f6 107.7deg,#00f4ff 108.3deg,#247bff 111.7deg,#00f4ff 115deg,#00f8f6 115.6deg,#00ffe8 115.6deg,#00f0a5 115.7deg,#00b91e 115.9deg,#78d700 116.8deg,#ff0 117.8deg,#ffb400 119.6deg,#fa6400 121.4deg,#e63100 122.3deg,#e63100 126.3deg,#fa6400 130.3deg,#fc8c00 134.3deg,#fd9000 234.1deg,#fb7000 237.8deg,#fd9000 241.6deg,#ffb400 250.7deg,#ff0 271deg,#78d700 287.1deg,#00b91e 300.9deg,#00f0a5 307.6deg,#00f9cd 310.1deg,#00ffe8 319.6deg,#00fcef 323.8deg,#00f4ff 325.4deg,#286eff 330.8deg,#335cf3 333.7deg,#286eff 337.1deg,#00f4ff 343.4deg,#00fced 345.5deg,#00ffe8 346.7deg,#00f3b4 353.4deg,#00f0a5 354.2deg,#00b91e 360deg)"></i><i style="left:153px;top:153px;width:84px;height:84px;background:conic-gradient(from -29.6deg,#00b91e 0deg,#78d700 1.8deg,#ff0 4deg,#ffca00 37.7deg,#ffd600 57.2deg,#ff0 65.2deg,#78d700 72.5deg,#00b91e 81.5deg,#00f0a5 94.6deg,#00ffe8 97.3deg,#00f8f6 98.3deg,#00f8f6 105.8deg,#00f4ff 106.4deg,#247bff 109.8deg,#00f4ff 113.2deg,#00f8f6 113.8deg,#00ffe8 113.8deg,#00f0a5 113.9deg,#00b91e 114.1deg,#78d700 115deg,#ff0 116deg,#ffb400 117.8deg,#fa6400 119.6deg,#e63100 120.5deg,#e63100 124.5deg,#fa6400 128.5deg,#fc8c00 132.5deg,#fd9000 232.8deg,#fb7000 236.5deg,#fd9000 240.1deg,#ffb400 249.1deg,#ff0 268.9deg,#78d700 285.5deg,#00b91e 299.8deg,#00f0a5 306.5deg,#00f9cd 309deg,#00ffe8 318.5deg,#00fcef 322.8deg,#00f4ff 324.4deg,#286eff 329.7deg,#335cf3 332.6deg,#286eff 336.2deg,#00f4ff 342.8deg,#00fced 344.9deg,#00ffe8 346.2deg,#00f3b4 353.2deg,#00f0a5 354deg,#00b91e 360deg)"></i><i style="left:156px;top:156px;width:78px;height:78px;background:conic-gradient(from -29.3deg,#00b91e 0deg,#78d700 1.8deg,#ff0 4deg,#ffca00 36.8deg,#ffd600 56.4deg,#ff0 64.4deg,#78d700 71.8deg,#00b91e 80.8deg,#00f0a5 94deg,#00ffe8 96.7deg,#00f8f6 97.7deg,#00f8f6 104.6deg,#00f4ff 105.2deg,#247bff 108.6deg,#00f4ff 111.9deg,#00f8f6 112.6deg,#00ffe8 112.6deg,#00f0a5 112.7deg,#00b91e 112.9deg,#78d700 113.7deg,#ff0 114.8deg,#ffb400 116.6deg,#fa6400 118.4deg,#e63100 119.3deg,#e63100 123.3deg,#fa6400 127.3deg,#fc8c00 131.3deg,#fd9000 231.5deg,#fb7000 235.1deg,#fd9000 238.7deg,#ffb400 247.4deg,#ff0 266.8deg,#78d700 284deg,#00b91e 298.6deg,#00f0a5 305.4deg,#00f9cd 307.9deg,#00ffe8 317.4deg,#00fcef 321.7deg,#00f4ff 323.3deg,#286eff 328.6deg,#335bf3 331.6deg,#286eff 335.4deg,#00f4ff 342.1deg,#00fced 344.4deg,#00ffe8 345.6deg,#00f3b4 352.9deg,#00f0a5 353.8deg,#00b91e 360deg)"></i><i style="left:159px;top:159px;width:72px;height:72px;background:conic-gradient(from -28.9deg,#00b91e 0deg,#78d700 1.8deg,#ff0 4deg,#ffca00 35.8deg,#ffd600 55.6deg,#ff0 63.6deg,#78d700 71.1deg,#00b91e 80.2deg,#00f0a5 93.3deg,#00ffe8 96deg,#00f8f6 97deg,#00f8f6 103.3deg,#00f4ff 104deg,#247bff 107.3deg,#00f4ff 110.7deg,#00f8f6 111.3deg,#00ffe8 111.4deg,#00f0a5 111.5deg,#00b91e 111.6deg,#78d700 112.5deg,#ff0 113.5deg,#ffb400 115.3deg,#fa6400 117.1deg,#e63100 118deg,#e63100 122deg,#fa6400 126deg,#fc8c00 130deg,#fd9000 230.2deg,#fb7000 233.7deg,#fd9000 237.3deg,#ffb400 245.8deg,#ff0 264.8deg,#78d700 282.4deg,#00b91e 297.5deg,#00f0a5 304.3deg,#00f9cd 306.8deg,#00ffe8 316.4deg,#00fcef 320.6deg,#00f4ff 322.2deg,#286eff 327.5deg,#335bf3 330.5deg,#286eff 334.5deg,#00f4ff 341.5deg,#00fced 343.8deg,#00ffe8 345.1deg,#00f3b4 352.6deg,#00f0a5 353.6deg,#00b91e 360deg)"></i><i style="left:162px;top:162px;width:66px;height:66px;background:conic-gradient(from -28.5deg,#00b91e 0deg,#78d700 1.8deg,#ff0 4deg,#ffca00 34.8deg,#ffd600 54.9deg,#ff0 62.9deg,#78d700 70.4deg,#00b91e 79.5deg,#00f0a5 92.7deg,#00ffe8 95.4deg,#00f8f6 96.4deg,#00f8f6 102.1deg,#00f4ff 102.7deg,#247bff 106.1deg,#00f4ff 109.5deg,#00f8f6 110.1deg,#00ffe8 110.2deg,#00f0a5 110.3deg,#00b91e 110.4deg,#78d700 111.3deg,#ff0 112.3deg,#ffb400 114.1deg,#fa6400 115.9deg,#e63100 116.8deg,#e63100 120.8deg,#fa6400 124.8deg,#fc8c00 128.8deg,#fd9000 228.8deg,#fb7000 232.4deg,#fd9000 235.9deg,#ffb400 244.3deg,#ff0 263.1deg,#78d700 281deg,#00b91e 296.4deg,#00f0a5 303.2deg,#00f9cd 305.7deg,#00ffe8 315.3deg,#00fcef 319.6deg,#00f4ff 321.1deg,#286eff 326.4deg,#335bf2 329.5deg,#286eff 333.6deg,#00f4ff 340.8deg,#00fced 343.2deg,#00ffe8 344.6deg,#00f3b4 352.4deg,#00f0a5 353.3deg,#00b91e 360deg)"></i><i style="left:165px;top:165px;width:60px;height:60px;background:conic-gradient(from -28.2deg,#00b91e 0deg,#78d700 1.8deg,#ff0 4deg,#ffca00 33.9deg,#ffd600 54.1deg,#ff0 62.1deg,#78d700 69.6deg,#00b91e 78.9deg,#00f0a5 92.1deg,#00ffe8 94.9deg,#00f8f6 95.9deg,#00f8f6 100.9deg,#00f4ff 101.5deg,#247bff 104.9deg,#00f4ff 108.3deg,#00f8f6 108.9deg,#00ffe8 108.9deg,#00f0a5 109deg,#00b91e 109.2deg,#78d700 110.1deg,#ff0 111.1deg,#ffb400 112.9deg,#fa6400 114.7deg,#e63100 115.6deg,#e63100 119.6deg,#fa6400 123.6deg,#fc8c00 127.6deg,#fd9000 227.5deg,#fb7000 231deg,#fd9000 234.5deg,#ffb400 243deg,#ff0 261.8deg,#78d700 279.9deg,#00b91e 295.3deg,#00f0a5 302.1deg,#00f9cd 304.6deg,#00ffe8 314.2deg,#00fcef 318.5deg,#00f4ff 320.1deg,#286eff 325.3deg,#335bf2 328.4deg,#286eff 332.8deg,#00f4ff 340.2deg,#00fced 342.6deg,#00ffe8 344.1deg,#00f3b4 352.1deg,#00f0a5 353.1deg,#00b91e 360deg)"></i><i style="left:168px;top:168px;width:54px;height:54px;background:conic-gradient(from -27.8deg,#00b91e 0deg,#78d700 1.8deg,#ff0 4deg,#ffca00 32.9deg,#ffd600 53.3deg,#ff0 61.3deg,#78d700 68.9deg,#00b91e 78.2deg,#00f0a5 91.6deg,#00ffe8 94.3deg,#00f8f6 95.3deg,#00f8f6 99.7deg,#00f4ff 100.3deg,#247bff 103.7deg,#00f4ff 107deg,#00f8f6 107.7deg,#00ffe8 107.7deg,#00f0a5 107.8deg,#00b91e 108deg,#78d700 108.8deg,#ff0 109.9deg,#ffb400 111.7deg,#fa6400 113.5deg,#e63100 114.4deg,#e63100 118.4deg,#fa6400 122.4deg,#fc8c00 126.4deg,#fd9000 226.2deg,#fb7000 229.6deg,#fd9000 233.1deg,#ffb400 241.6deg,#ff0 260.6deg,#78d700 278.7deg,#00b91e 294.2deg,#00f0a5 301deg,#00f9cd 303.5deg,#00ffe8 313.1deg,#00fcef 317.4deg,#00f4ff 319deg,#286eff 324.3deg,#345af2 327.4deg,#286eff 331.9deg,#00f4ff 339.5deg,#00fced 342.1deg,#00ffe8 343.5deg,#00f3b4 351.8deg,#00f0a5 352.9deg,#00b91e 360deg)"></i><i style="left:171px;top:171px;width:48px;height:48px;background:conic-gradient(from -27.4deg,#00b91e 0deg,#78d700 1.8deg,#ff0 4deg,#ffca00 31.9deg,#ffd600 52.5deg,#ff0 60.5deg,#78d700 68.2deg,#00b91e 77.6deg,#00f0a5 91deg,#00ffe8 93.8deg,#00f8f6 94.8deg,#00f8f6 98.4deg,#00f4ff 99.1deg,#247bff 102.4deg,#00f4ff 105.8deg,#00f8f6 106.4deg,#00ffe8 106.5deg,#00f0a5 106.6deg,#00b91e 106.7deg,#78d700 107.6deg,#ff0 108.6deg,#ffb400 110.4deg,#fa6400 112.2deg,#e63100 113.1deg,#e63100 117.1deg,#fa6400 121.1deg,#fc8c00 125.1deg,#fd9000 224.9deg,#fb7000 228.3deg,#fd9000 231.6deg,#ffb400 240.2deg,#ff0 259.3deg,#78d700 277.5deg,#00b91e 293.1deg,#00f0a5 299.9deg,#00f9cd 302.4deg,#00ffe8 312.1deg,#00fcef 316.4deg,#00f4ff 317.9deg,#286eff 323.2deg,#345af2 326.3deg,#286eff 331.1deg,#00f4ff 338.9deg,#00fced 341.5deg,#00ffe8 343deg,#00f3b4 351.6deg,#00f0a5 352.6deg,#00b91e 360deg)"></i><i style="left:174px;top:174px;width:42px;height:42px;background:conic-gradient(from -27.1deg,#00b91e 0deg,#78d700 1.8deg,#ff0 4deg,#ffca00 31deg,#ffd600 51.7deg,#ff0 59.7deg,#78d700 67.5deg,#00b91e 76.9deg,#00f0a5 90.4deg,#00ffe8 93.2deg,#00f8f6 94.2deg,#00f8f6 97.3deg,#00f4ff 97.9deg,#247bff 101.3deg,#00f4ff 104.7deg,#00f8f6 105.3deg,#00ffe8 105.3deg,#00f0a5 105.4deg,#00b91e 105.6deg,#78d700 106.5deg,#ff0 107.5deg,#ffb400 109.3deg,#fa6400 111.1deg,#e63100 112deg,#e63100 116deg,#fa6400 120deg,#fc8c00 124deg,#fd9000 223.6deg,#fb7000 226.9deg,#fd9000 230.3deg,#ffb400 238.9deg,#ff0 258.1deg,#78d700 276.3deg,#00b91e 291.9deg,#00f0a5 298.7deg,#00f9cd 301.3deg,#00ffe8 311deg,#00fcef 315.3deg,#00f4ff 316.9deg,#286eff 322.1deg,#345af2 325.3deg,#286eff 330.2deg,#00f4ff 338.2deg,#00fced 340.9deg,#00ffe8 342.5deg,#00f3b4 351.3deg,#00f0a5 352.4deg,#00b91e 360deg)"></i><i style="left:177px;top:177px;width:36px;height:36px;background:conic-gradient(from -26.7deg,#00b91e 0deg,#78d700 1.8deg,#ff0 4deg,#ffca00 30deg,#ffd600 51deg,#ff0 59deg,#78d700 66.8deg,#00b91e 76.3deg,#00f0a5 89.9deg,#00ffe8 92.7deg,#00f8f6 93.7deg,#00f8f6 96.5deg,#00f4ff 97.1deg,#247bff 100.5deg,#00f4ff 103.9deg,#00f8f6 104.5deg,#00ffe8 104.5deg,#00f0a5 104.7deg,#00b91e 104.8deg,#78d700 105.7deg,#ff0 106.7deg,#ffb400 108.5deg,#fa6400 110.3deg,#e63100 111.2deg,#e63100 115.2deg,#fa6400 119.2deg,#fc8c00 123.2deg,#fd9000 222.6deg,#fb7000 225.9deg,#fd9000 229.1deg,#ffb400 237.7deg,#ff0 256.9deg,#78d700 275.2deg,#00b91e 290.9deg,#00f0a5 297.7deg,#00f9cd 300.2deg,#00ffe8 309.9deg,#00fcef 314.3deg,#00f4ff 315.8deg,#286eff 321.1deg,#345af1 324.3deg,#286eff 329.4deg,#00f4ff 337.6deg,#00fced 340.4deg,#00ffe8 342deg,#00f3b4 351.1deg,#00f0a5 352.2deg,#00b91e 360deg)"></i><i style="left:180px;top:180px;width:30px;height:30px;background:conic-gradient(from -26.4deg,#00b91e 0deg,#78d700 1.8deg,#ff0 4deg,#ffca00 29.1deg,#ffd600 50.3deg,#ff0 58.3deg,#78d700 66.1deg,#00b91e 75.7deg,#00f0a5 89.4deg,#00ffe8 92.2deg,#00f8f6 93.2deg,#00f8f6 95.7deg,#00f4ff 96.4deg,#247bff 99.7deg,#00f4ff 103.1deg,#00f8f6 103.7deg,#00ffe8 103.8deg,#00f0a5 103.9deg,#00b91e 104deg,#78d700 104.9deg,#ff0 105.9deg,#ffb400 107.7deg,#fa6400 109.5deg,#e63100 110.4deg,#e63100 114.4deg,#fa6400 118.4deg,#fc8c00 122.4deg,#fd9000 221.6deg,#fb7000 224.8deg,#fd9000 228deg,#ffb400 236.7deg,#ff0 256deg,#78d700 274.2deg,#00b91e 289.8deg,#00f0a5 296.6deg,#00f9cd 299.2deg,#00ffe8 308.9deg,#00fcef 313.3deg,#00f4ff 314.8deg,#286eff 320deg,#3459f1 323.3deg,#286eff 328.6deg,#00f4ff 337deg,#00fced 339.8deg,#00ffe8 341.5deg,#00f3b4 350.8deg,#00f0a5 352deg,#00b91e 360deg)"></i><i style="left:183px;top:183px;width:24px;height:24px;background:conic-gradient(from -26.1deg,#00b91e 0deg,#78d700 1.8deg,#ff0 4deg,#ffca00 28.2deg,#ffd600 49.5deg,#ff0 57.5deg,#78d700 65.4deg,#00b91e 75.1deg,#00f0a5 88.9deg,#00ffe8 91.7deg,#00f8f6 92.7deg,#00f8f6 95deg,#00f4ff 95.6deg,#247bff 99deg,#00f4ff 102.4deg,#00f8f6 103deg,#00ffe8 103deg,#00f0a5 103.1deg,#00b91e 103.3deg,#78d700 104.2deg,#ff0 105.2deg,#ffb400 107deg,#fa6400 108.8deg,#e63100 109.7deg,#e63100 113.7deg,#fa6400 117.7deg,#fc8c00 121.7deg,#fd9000 220.6deg,#fb7000 223.7deg,#fd9000 226.9deg,#ffb400 235.6deg,#ff0 255.1deg,#78d700 273.2deg,#00b91e 288.7deg,#00f0a5 295.6deg,#00f9cd 298.1deg,#00ffe8 307.9deg,#00fcef 312.3deg,#00f4ff 313.8deg,#286eff 319deg,#3459f1 322.4deg,#286eff 327.8deg,#00f4ff 336.4deg,#00fced 339.3deg,#00ffe8 341deg,#00f3b4 350.6deg,#00f0a5 351.8deg,#00b91e 360deg)"></i><i style="left:186px;top:186px;width:18px;height:18px;background:conic-gradient(from -25.8deg,#00b91e 0deg,#78d700 1.8deg,#ff0 4deg,#ffca00 27.3deg,#ffd600 48.8deg,#ff0 56.8deg,#78d700 64.8deg,#00b91e 74.5deg,#00f0a5 88.3deg,#00ffe8 91.2deg,#00f8f6 92.2deg,#00f8f6 94.2deg,#00f4ff 94.8deg,#247bff 98.2deg,#00f4ff 101.6deg,#00f8f6 102.2deg,#00ffe8 102.3deg,#00f0a5 102.4deg,#00b91e 102.5deg,#78d700 103.4deg,#ff0 104.4deg,#ffb400 106.2deg,#fa6400 108deg,#e63100 108.9deg,#e63100 112.9deg,#fa6400 116.9deg,#fc8c00 120.9deg,#fd9000 219.5deg,#fb7000 222.7deg,#fd9000 225.8deg,#ffb400 234.6deg,#ff0 254.2deg,#78d700 272.2deg,#00b91e 287.7deg,#00f0a5 294.6deg,#00f9cd 297.1deg,#00ffe8 306.9deg,#00fcef 311.3deg,#00f4ff 312.8deg,#286eff 318deg,#3559f1 321.4deg,#286eff 327.1deg,#00f4ff 335.8deg,#00fced 338.8deg,#00ffe8 340.5deg,#00f3b4 350.3deg,#00f0a5 351.6deg,#00b91e 360deg)"></i></div><svg width="374" height="374" viewBox="0 0 374 374"><path d="M201.0 189.0C203.7 189.5 211.7 190.3 217.0 192.0C222.3 193.7 228.3 196.0 233.0 199.0C237.7 202.0 241.3 206.0 245.0 210.0C248.7 214.0 252.0 218.5 255.0 223.0C258.0 227.5 260.7 232.7 263.0 237.0C265.3 241.3 268.0 247.0 269.0 249.0" fill="none" stroke="#ea3c00" stroke-width="9" stroke-linecap="round" stroke-linejoin="round" stroke-opacity="0.8" filter="url(#b3)"/><ellipse cx="209.0" cy="243.0" rx="29" ry="16" transform="rotate(-8 209.0 243.0)" fill="#d8f000" filter="url(#b3)"/><ellipse cx="209.0" cy="243.0" rx="25" ry="12.5" transform="rotate(-8 209.0 243.0)" fill="#10c020" filter="url(#b2)"/><ellipse cx="207.0" cy="239.0" rx="16" ry="6.5" transform="rotate(-10 207.0 239.0)" fill="#00e8d0" filter="url(#b2)"/><ellipse cx="179.0" cy="273.0" rx="13" ry="5" transform="rotate(-5 179.0 273.0)" fill="#b8ee00" filter="url(#b3)"/><ellipse cx="194.0" cy="204.0" rx="8" ry="8" transform="rotate(0 194.0 204.0)" fill="#20c830" filter="url(#b2)"/><path d="M192.0 198.0C192.3 198.8 193.8 201.2 194.0 203.0C194.2 204.8 193.2 208.0 193.0 209.0" fill="none" stroke="#20d8f0" stroke-width="3.5" stroke-linecap="round" stroke-linejoin="round" filter="url(#b1)"/><path d="M179.0 226.5C180.0 226.3 182.8 226.2 185.0 225.5C187.2 224.8 189.7 223.1 192.0 222.5C194.3 221.9 196.5 222.8 199.0 222.0C201.5 221.2 204.7 219.3 207.0 218.0C209.3 216.7 211.3 215.3 213.0 214.0C214.7 212.7 216.3 210.7 217.0 210.0" fill="none" stroke="#b80030" stroke-width="9.5" stroke-linecap="round" stroke-linejoin="round" filter="url(#b1)"/><path d="M179.0 226.5C180.0 226.3 182.8 226.2 185.0 225.5C187.2 224.8 189.7 223.1 192.0 222.5C194.3 221.9 196.5 222.8 199.0 222.0C201.5 221.2 204.7 219.3 207.0 218.0C209.3 216.7 211.3 215.3 213.0 214.0C214.7 212.7 216.3 210.7 217.0 210.0" fill="none" stroke="#f070d0" stroke-width="6.5" stroke-linecap="round" stroke-linejoin="round" filter="url(#b1)"/><path d="M179.0 226.5C180.0 226.3 182.8 226.2 185.0 225.5C187.2 224.8 189.7 223.1 192.0 222.5C194.3 221.9 196.5 222.8 199.0 222.0C201.5 221.2 204.7 219.3 207.0 218.0C209.3 216.7 211.3 215.3 213.0 214.0C214.7 212.7 216.3 210.7 217.0 210.0" fill="none" stroke="#ffd0f4" stroke-width="3" stroke-linecap="round" stroke-linejoin="round" filter="url(#b1)"/><path d="M280.0 245.0C281.8 247.3 282.5 254.5 282.0 259.0C281.5 263.5 279.8 268.3 277.0 272.0C274.2 275.7 269.7 278.7 265.0 281.0C260.3 283.3 252.3 285.5 249.0 286.0C245.7 286.5 244.0 285.8 245.0 284.0C246.0 282.2 252.0 278.2 255.0 275.0C258.0 271.8 261.0 268.3 263.0 265.0C265.0 261.7 265.7 258.3 267.0 255.0C268.3 251.7 268.8 246.7 271.0 245.0C273.2 243.3 278.2 242.7 280.0 245.0Z" fill="#c0002c" filter="url(#b2)"/><path d="M276.5 253.0C277.2 254.3 278.1 258.3 277.5 261.0C276.9 263.7 275.1 266.7 273.0 269.0C270.9 271.3 267.3 273.7 265.0 275.0C262.7 276.3 258.8 278.0 259.0 277.0C259.2 276.0 264.1 271.7 266.0 269.0C267.9 266.3 269.3 263.7 270.5 261.0C271.7 258.3 272.0 254.3 273.0 253.0C274.0 251.7 275.8 251.7 276.5 253.0Z" fill="#f04890" filter="url(#b2)"/><circle cx="187" cy="187" r="109" fill="none" stroke="#181830" stroke-opacity="0.6" stroke-width="0.9"/><circle cx="257" cy="106" r="4.5" fill="#f27474" stroke="#1a1420" stroke-width="1.8"/><circle cx="295.8" cy="186.7" r="4.5" fill="#78f078" stroke="#14202a" stroke-width="1.8"/><circle cx="187" cy="187" r="8.2" fill="#fff010" stroke="#000" stroke-width="4"/></svg></div>
<div class="d" style="left:713px;top:626px;width:374px;height:374px;background:#7d0"><div class="rg" style="left:-8px;top:-8px;width:390px;height:390px"><i style="left:0px;top:0px;width:390px;height:390px;background:conic-gradient(from 9.4deg,#00b91e 0deg,#78d700 5.1deg,#ff0 11.4deg,#ffca00 31.2deg,#ffd600 56.1deg,#ff0 64.1deg,#78d700 72.6deg,#00b91e 83deg,#00f0a5 115deg,#00ffe8 121.6deg,#00f8f6 124deg,#00fced 124.3deg,#00ffe8 124.9deg,#00f3b4 128.2deg,#00f0a5 129.2deg,#00b91e 136.2deg,#78d700 139.6deg,#ff0 143.7deg,#ffd300 148.2deg,#ffd300 152.2deg,#ff0 156.7deg,#78d700 158.6deg,#00b91e 160.2deg,#00f0a5 164.1deg,#00f7c3 165.2deg,#00ffe8 169.4deg,#00fbf1 171.2deg,#00fbf1 182.6deg,#00fbf1 228.2deg,#00ffe8 228.5deg,#00f0a5 230.1deg,#00b91e 232.7deg,#78d700 234.7deg,#ff0 237.2deg,#ffb400 241.2deg,#fea000 242.2deg,#fa6400 242.4deg,#f75c00 242.5deg,#e73300 247.2deg,#f75c00 255.3deg,#fa6400 256.1deg,#ffb400 267.7deg,#ff0 279.2deg,#78d700 292.2deg,#00b91e 303.4deg,#00f0a5 312.9deg,#00f9cd 316.4deg,#00ffe8 329.9deg,#00fcef 335.9deg,#00f9f5 349.8deg,#00fced 354.4deg,#00ffe8 354.9deg,#00f3b4 357.5deg,#00f0a5 357.8deg,#00b91e 360deg)"></i><i style="left:3px;top:3px;width:384px;height:384px;background:conic-gradient(from 8.3deg,#00b91e 0deg,#78d700 5.1deg,#ff0 11.2deg,#ffca00 31.6deg,#ffd600 56.3deg,#ff0 64.3deg,#78d700 72.7deg,#00b91e 83deg,#00f0a5 115deg,#00ffe8 121.6deg,#00f8f6 124deg,#00fced 124.3deg,#00ffe8 124.9deg,#00f3b4 128.6deg,#00f0a5 129.6deg,#00b91e 136.6deg,#78d700 140deg,#ff0 144.1deg,#ffcd00 148.6deg,#ffcd00 152.6deg,#ff0 157.1deg,#78d700 158.9deg,#00b91e 160.6deg,#00f0a5 164.5deg,#00f7c3 165.6deg,#00ffe8 169.8deg,#00fbf1 171.6deg,#00fbf1 183.7deg,#00fbf1 228.5deg,#00ffe8 228.8deg,#00f0a5 230.4deg,#00b91e 233deg,#78d700 235deg,#ff0 237.5deg,#ffb400 241.5deg,#fea000 242.5deg,#fa6400 242.7deg,#f75c00 242.8deg,#e73300 247.6deg,#f75c00 255.6deg,#fa6400 256.5deg,#ffb400 268deg,#ff0 279.6deg,#78d700 292.8deg,#00b91e 304.1deg,#00f0a5 313.4deg,#00f9cd 316.8deg,#00ffe8 330deg,#00fcef 335.8deg,#00f8f6 349.4deg,#00fced 354.2deg,#00ffe8 354.7deg,#00f3b4 357.4deg,#00f0a5 357.7deg,#00b91e 360deg)"></i><i style="left:6px;top:6px;width:378px;height:378px;background:conic-gradient(from 7.2deg,#00b91e 0deg,#78d700 5deg,#ff0 11deg,#ffca00 31.9deg,#ffd600 56.5deg,#ff0 64.5deg,#78d700 72.8deg,#00b91e 83deg,#00f0a5 115deg,#00ffe8 121.6deg,#00f8f6 124deg,#00fced 124.3deg,#00ffe8 125deg,#00f3b4 128.9deg,#00f0a5 129.9deg,#00b91e 136.9deg,#78d700 140.4deg,#ff0 144.4deg,#ffc800 148.9deg,#ffc800 152.9deg,#ff0 157.4deg,#78d700 159.3deg,#00b91e 160.9deg,#00f0a5 164.8deg,#00f7c3 165.9deg,#00ffe8 170.2deg,#00fbf1 171.9deg,#00fbf1 184.8deg,#00fbf1 228.8deg,#00ffe8 229.1deg,#00f0a5 230.7deg,#00b91e 233.3deg,#78d700 235.3deg,#ff0 237.8deg,#ffb400 241.8deg,#fea000 242.8deg,#fa6400 243deg,#f75c00 243.1deg,#e73300 247.9deg,#f75c00 255.9deg,#fa6400 256.8deg,#ffb400 268.4deg,#ff0 279.9deg,#78d700 293.4deg,#00b91e 304.9deg,#00f0a5 313.9deg,#00f9cd 317.2deg,#00ffe8 330.1deg,#00fcef 335.8deg,#00f8f6 349.1deg,#00fced 354deg,#00ffe8 354.5deg,#00f3b4 357.3deg,#00f0a5 357.6deg,#00b91e 360deg)"></i><i style="left:9px;top:9px;width:372px;height:372px;background:conic-gradient(from 6.1deg,#00b91e 0deg,#78d700 4.9deg,#ff0 10.8deg,#ffca00 32.3deg,#ffd600 56.6deg,#ff0 64.6deg,#78d700 72.9deg,#00b91e 82.9deg,#00f0a5 114.9deg,#00ffe8 121.6deg,#00f8f6 124deg,#00fced 124.3deg,#00ffe8 125deg,#00f4b5 129.1deg,#00f0a5 130.1deg,#00b91e 137deg,#78d700 140.5deg,#ff0 144.5deg,#ffc200 149deg,#ffc200 153deg,#ff0 157.5deg,#78d700 159.4deg,#00b91e 161deg,#00f0a5 164.9deg,#00f7c4 166deg,#00ffe8 170.2deg,#00fbf1 172deg,#00fbf1 175.9deg,#00fbf1 185.9deg,#00fbf1 229deg,#00ffe8 229.4deg,#00f0a5 231deg,#00b91e 233.5deg,#78d700 235.6deg,#ff0 238deg,#ffb400 242deg,#fea000 243deg,#fa6400 243.3deg,#f75c00 243.3deg,#e73300 248.5deg,#f75c00 256.4deg,#fa6400 257.3deg,#ffb400 268.8deg,#ff0 280.2deg,#78d700 293.6deg,#00b91e 305deg,#00f0a5 313.9deg,#00f9cd 317.2deg,#00ffe8 329.8deg,#00fcef 335.4deg,#00f8f6 348.4deg,#00fced 353.6deg,#00ffe8 354.2deg,#00f3b4 357.1deg,#00f0a5 357.5deg,#00b91e 360deg)"></i><i style="left:12px;top:12px;width:366px;height:366px;background:conic-gradient(from 5.1deg,#00b91e 0deg,#78d700 4.8deg,#ff0 10.6deg,#ffca00 32.7deg,#ffd600 56.8deg,#ff0 64.8deg,#78d700 72.9deg,#00b91e 82.8deg,#00f0a5 114.9deg,#00ffe8 121.5deg,#00f8f6 123.9deg,#00fced 124.2deg,#00ffe8 125.1deg,#00f4b9 129.6deg,#00f0a5 130.8deg,#00b91e 137.3deg,#78d700 140.6deg,#ff0 144.5deg,#ffbc00 149deg,#ffbc00 153deg,#ff0 157.5deg,#78d700 159.3deg,#00b91e 161deg,#00f0a5 164.8deg,#00f8c7 166deg,#00ffe8 170.1deg,#00fbf1 172deg,#00fbf1 176.9deg,#00fbf1 186.9deg,#00fbf1 229.4deg,#00ffe8 229.7deg,#00f0a5 231.3deg,#00b91e 233.9deg,#78d700 236deg,#ff0 238.4deg,#ffb400 242.4deg,#fea000 243.4deg,#fa6400 243.7deg,#f75c00 243.7deg,#e73300 249deg,#f75c00 256.9deg,#fa6400 257.8deg,#ffb400 269.2deg,#ff0 280.6deg,#78d700 293.8deg,#00b91e 305.1deg,#00f0a5 313.8deg,#00f9cd 317deg,#00ffe8 329.5deg,#00fcef 335deg,#00f8f7 347.8deg,#00fced 353.3deg,#00ffe8 353.8deg,#00f3b4 356.9deg,#00f0a5 357.3deg,#00b91e 360deg)"></i><i style="left:15px;top:15px;width:360px;height:360px;background:conic-gradient(from 4deg,#00b91e 0deg,#78d700 4.7deg,#ff0 10.5deg,#ffca00 33.1deg,#ffd600 56.8deg,#ff0 64.8deg,#78d700 72.9deg,#00b91e 82.7deg,#00f0a5 114.8deg,#00ffe8 121.5deg,#00f8f6 123.9deg,#00fced 124.2deg,#00ffe8 125.2deg,#00f5bd 130.1deg,#00f0a5 131.5deg,#00b91e 137.6deg,#78d700 140.8deg,#ff0 144.4deg,#ffb700 148.9deg,#ffb700 152.9deg,#ff0 157.4deg,#78d700 159.3deg,#00b91e 160.9deg,#00f0a5 164.6deg,#00f8ca 165.9deg,#00ffe8 169.9deg,#00fbf1 171.9deg,#00fbf1 178deg,#00fbf1 188deg,#00fbf1 229.8deg,#00ffe8 230.1deg,#00f0a5 231.7deg,#00b91e 234.3deg,#78d700 236.3deg,#ff0 238.8deg,#ffb400 242.8deg,#fea000 243.8deg,#fa6400 244deg,#f75c00 244.1deg,#e73300 249.5deg,#f75c00 257.4deg,#fa6400 258.2deg,#ffb400 269.5deg,#ff0 280.9deg,#78d700 293.8deg,#00b91e 305deg,#00f0a5 313.5deg,#00f9cd 316.7deg,#00ffe8 328.9deg,#00fcef 334.3deg,#00f8f7 346.8deg,#00fced 352.8deg,#00ffe8 353.4deg,#00f3b4 356.7deg,#00f0a5 357.1deg,#00b91e 360deg)"></i><i style="left:18px;top:18px;width:354px;height:354px;background:conic-gradient(from 2.9deg,#00b91e 0deg,#78d700 4.6deg,#ff0 10.3deg,#ffca00 33.6deg,#ffd600 56.9deg,#ff0 64.9deg,#78d700 72.9deg,#00b91e 82.7deg,#00f0a5 114.8deg,#00ffe8 121.5deg,#00f8f6 123.9deg,#00fced 124.2deg,#00ffe8 125.4deg,#00f6c1 130.7deg,#00f0a5 132.2deg,#00b91e 137.9deg,#78d700 141deg,#ff0 144.5deg,#ffb400 148.9deg,#ffb200 149deg,#ffb200 153deg,#ffb400 153.1deg,#ff0 157.5deg,#78d700 159.4deg,#00b91e 161deg,#00f0a5 164.6deg,#00f9cd 166deg,#00ffe8 169.8deg,#00fbf1 172deg,#00fbf1 179.1deg,#00fbf1 189.1deg,#00fbf1 230.2deg,#00ffe8 230.6deg,#00f0a5 232.2deg,#00b91e 234.7deg,#78d700 236.8deg,#ff0 239.2deg,#ffb400 243.2deg,#fea000 244.2deg,#fa6400 244.5deg,#f75c00 244.5deg,#e73300 250deg,#f75c00 257.8deg,#fa6400 258.7deg,#ffb400 270deg,#ff0 281.2deg,#78d700 293.9deg,#00b91e 304.9deg,#00f0a5 313.2deg,#00f9cd 316.3deg,#00ffe8 328.2deg,#00fcef 333.4deg,#00f8f8 345.7deg,#00fced 352.1deg,#00ffe8 352.8deg,#00f3b4 356.4deg,#00f0a5 356.9deg,#00b91e 360deg)"></i><i style="left:21px;top:21px;width:348px;height:348px;background:conic-gradient(from 1.7deg,#00b91e 0deg,#78d700 4.5deg,#ff0 10.1deg,#ffca00 34.1deg,#ffd600 57.1deg,#ff0 65.1deg,#78d700 73deg,#00b91e 82.6deg,#00f0a5 114.9deg,#00ffe8 121.6deg,#00f8f6 124deg,#00fced 124.3deg,#00ffe8 125.7deg,#00f7c5 131.3deg,#00f0a5 132.9deg,#00b91e 138.3deg,#78d700 141.2deg,#ff0 144.6deg,#ffb400 148.7deg,#ffad00 149.1deg,#ffad00 153.1deg,#ffb400 153.4deg,#ff0 157.6deg,#78d700 159.5deg,#00b91e 161.1deg,#00f0a5 164.6deg,#00fad0 166.1deg,#00ffe8 169.7deg,#00fbf1 172.1deg,#00fbf1 180.3deg,#00fbf1 190.3deg,#00fbf1 230.8deg,#00ffe8 231.1deg,#00f0a5 232.7deg,#00b91e 235.3deg,#78d700 237.3deg,#ff0 239.8deg,#ffb400 243.8deg,#fea000 244.8deg,#fa6400 245deg,#f75c00 245.1deg,#e73300 250.6deg,#f75c00 258.4deg,#fa6400 259.2deg,#ffb400 270.4deg,#ff0 281.6deg,#78d700 294.1deg,#00b91e 304.8deg,#00f0a5 312.9deg,#00f9cd 315.9deg,#00ffe8 327.5deg,#00fcef 332.6deg,#00f7f8 344.6deg,#00fced 351.5deg,#00ffe8 352.2deg,#00f3b4 356.1deg,#00f0a5 356.6deg,#00b91e 360deg)"></i><i style="left:24px;top:24px;width:342px;height:342px;background:conic-gradient(from 0.6deg,#00b91e 0deg,#78d700 4.4deg,#ff0 9.9deg,#ffca00 34.6deg,#ffd600 57.3deg,#ff0 65.3deg,#78d700 73.1deg,#00b91e 82.6deg,#00f0a5 114.9deg,#00ffe8 121.6deg,#00f8f6 124.1deg,#00fced 124.4deg,#00ffe8 126.1deg,#00f8c9 131.8deg,#00f0a5 133.6deg,#00b91e 138.6deg,#78d700 141.4deg,#ff0 144.6deg,#ffb400 148.5deg,#fea800 149.1deg,#fea800 153.1deg,#ffb400 153.7deg,#ff0 157.6deg,#78d700 159.5deg,#00b91e 161.1deg,#00f0a5 164.6deg,#00fad3 166.1deg,#00ffe8 169.6deg,#00fbf1 172.1deg,#00fbf1 181.4deg,#00fbf1 191.4deg,#00fbf1 231.3deg,#00ffe8 231.6deg,#00f0a5 233.2deg,#00b91e 235.8deg,#78d700 237.9deg,#ff0 240.3deg,#ffb400 244.3deg,#fea000 245.3deg,#fa6400 245.5deg,#f75c00 245.6deg,#e73300 251.2deg,#f75c00 258.9deg,#fa6400 259.8deg,#ffb400 270.9deg,#ff0 282deg,#78d700 294.2deg,#00b91e 304.8deg,#00f0a5 312.7deg,#00f9cd 315.6deg,#00ffe8 326.9deg,#00fcef 331.9deg,#00f7f8 343.6deg,#00fced 351deg,#00ffe8 351.7deg,#00f3b4 355.9deg,#00f0a5 356.4deg,#00b91e 360deg)"></i><i style="left:27px;top:27px;width:336px;height:336px;background:conic-gradient(from -0.6deg,#00b91e 0deg,#78d700 4.4deg,#ff0 9.7deg,#ffca00 35.1deg,#ffd600 57.5deg,#ff0 65.5deg,#78d700 73.1deg,#00b91e 82.5deg,#00f0a5 115deg,#00ffe8 121.7deg,#00f8f6 124.1deg,#00fced 124.4deg,#00ffe8 126.5deg,#00f9cd 132.4deg,#00f0a5 134.2deg,#00b91e 138.9deg,#78d700 141.6deg,#ff0 144.6deg,#ffb400 148.3deg,#fea300 149.1deg,#fea300 153.1deg,#ffb400 153.9deg,#ff0 157.6deg,#78d700 159.5deg,#00b91e 161.1deg,#00f0a5 164.5deg,#00fbd6 166.1deg,#00ffe8 169.3deg,#00fbf1 172.1deg,#00fbf1 182.6deg,#00fbf1 192.6deg,#00fbf1 231.8deg,#00ffe8 232.2deg,#00f0a5 233.8deg,#00b91e 236.3deg,#78d700 238.4deg,#ff0 240.8deg,#ffb400 244.8deg,#fea000 245.8deg,#fa6400 246.1deg,#f75c00 246.1deg,#e73300 251.8deg,#f75c00 259.5deg,#fa6400 260.3deg,#ffb400 271.2deg,#ff0 282.2deg,#78d700 294.3deg,#00b91e 304.7deg,#00f0a5 312.5deg,#00f9cd 315.4deg,#00ffe8 326.6deg,#00fcef 331.5deg,#00f7f9 343deg,#00fced 350.6deg,#00ffe8 351.4deg,#00f3b4 355.7deg,#00f0a5 356.3deg,#00b91e 360deg)"></i><i style="left:30px;top:30px;width:330px;height:330px;background:conic-gradient(from -1.8deg,#00b91e 0deg,#78d700 4.3deg,#ff0 9.5deg,#ffca00 35.6deg,#ffd600 57.6deg,#ff0 65.6deg,#78d700 73.2deg,#00b91e 82.4deg,#00f0a5 115deg,#00ffe8 121.8deg,#00f8f6 124.2deg,#00fced 124.8deg,#00ffe8 127.2deg,#00fad1 132.9deg,#00f0a5 134.8deg,#00b91e 139.3deg,#78d700 141.7deg,#ff0 144.6deg,#ffb400 148.1deg,#fd9c00 149.1deg,#fd9c00 153.1deg,#ffb400 154.2deg,#ff0 157.6deg,#78d700 159.5deg,#00b91e 161.1deg,#00f0a5 164.5deg,#00fcd9 166.1deg,#00ffe8 169.1deg,#00fbf1 172.1deg,#00fbf1 175.8deg,#00fbf1 183.8deg,#00fbf1 193.8deg,#00fbf1 232.3deg,#00ffe8 232.7deg,#00f0a5 234.3deg,#00b91e 236.8deg,#78d700 238.9deg,#ff0 241.3deg,#ffb400 245.3deg,#fea000 246.3deg,#fa6400 246.6deg,#f75c00 246.6deg,#e73300 252.4deg,#f75c00 260.1deg,#fa6400 260.9deg,#ffb400 271.6deg,#ff0 282.4deg,#78d700 294.4deg,#00b91e 304.8deg,#00f0a5 312.5deg,#00f9cd 315.3deg,#00ffe8 326.2deg,#00fcef 331.1deg,#00f7f9 342.4deg,#00fced 350.3deg,#00ffe8 351.1deg,#00f3b4 355.6deg,#00f0a5 356.1deg,#00b91e 360deg)"></i><i style="left:33px;top:33px;width:324px;height:324px;background:conic-gradient(from -3deg,#00b91e 0deg,#78d700 4.2deg,#ff0 9.3deg,#ffca00 36.2deg,#ffd600 57.9deg,#ff0 65.9deg,#78d700 73.3deg,#00b91e 82.3deg,#00f0a5 115.1deg,#00ffe8 121.9deg,#00f8f6 124.3deg,#00fced 125.7deg,#00ffe8 128.3deg,#00fbd5 133.5deg,#00f0a5 135.4deg,#00b91e 139.6deg,#78d700 142deg,#ff0 144.7deg,#ffb400 147.9deg,#fd9400 149.2deg,#fd9400 153.2deg,#ffb400 154.5deg,#ff0 157.7deg,#78d700 159.6deg,#00b91e 161.2deg,#00f0a5 164.5deg,#00fcdc 166.2deg,#00ffe8 168.8deg,#00fbf1 172.2deg,#00fbf1 177deg,#00fbf1 185deg,#00fbf1 195deg,#00fbf1 232.9deg,#00ffe8 233.3deg,#00f0a5 234.9deg,#00b91e 237.4deg,#78d700 239.5deg,#ff0 241.9deg,#ffb400 245.9deg,#fea000 246.9deg,#fa6400 247.2deg,#f75c00 247.2deg,#e73300 252.9deg,#f75c00 260.5deg,#fa6400 261.3deg,#ffb400 271.9deg,#ff0 282.6deg,#78d700 294.7deg,#00b91e 305deg,#00f0a5 312.5deg,#00f9cd 315.3deg,#00ffe8 326deg,#00fcef 330.8deg,#00f7f9 341.9deg,#00fced 350deg,#00ffe8 350.8deg,#00f3b4 355.5deg,#00f0a5 356deg,#00b91e 360deg)"></i><i style="left:36px;top:36px;width:318px;height:318px;background:conic-gradient(from -4.3deg,#00b91e 0deg,#78d700 4.1deg,#ff0 9.1deg,#ffca00 36.8deg,#ffd600 58.1deg,#ff0 66.1deg,#78d700 73.4deg,#00b91e 82.3deg,#00f0a5 115.2deg,#00ffe8 122deg,#00f8f6 124.5deg,#00fced 126.6deg,#00ffe8 129.5deg,#00fcd9 134.1deg,#00f0a5 136.1deg,#00b91e 140deg,#78d700 142.2deg,#ff0 144.7deg,#ffb400 147.7deg,#fc8b00 149.2deg,#fc8b00 153.2deg,#ffb400 154.8deg,#ff0 157.7deg,#78d700 159.6deg,#00b91e 161.2deg,#00f0a5 164.5deg,#00fddf 166.2deg,#00ffe8 168.4deg,#00fbf1 172.2deg,#00fbf1 178.3deg,#00fbf1 186.3deg,#00fbf1 196.3deg,#00fbf1 233.5deg,#00ffe8 233.8deg,#00f0a5 235.4deg,#00b91e 238deg,#78d700 240.1deg,#ff0 242.5deg,#ffb400 246.5deg,#fea000 247.5deg,#fa6400 247.7deg,#f75c00 247.8deg,#e73300 253.3deg,#f75c00 260.9deg,#fa6400 261.7deg,#ffb400 272.3deg,#ff0 282.9deg,#78d700 294.9deg,#00b91e 305.2deg,#00f0a5 312.6deg,#00f9cd 315.3deg,#00ffe8 325.8deg,#00fcef 330.5deg,#00f6fa 341.3deg,#00fced 349.7deg,#00ffe8 350.6deg,#00f3b4 355.3deg,#00f0a5 355.9deg,#00b91e 360deg)"></i><i style="left:39px;top:39px;width:312px;height:312px;background:conic-gradient(from -5.5deg,#00b91e 0deg,#78d700 4deg,#ff0 8.9deg,#ffca00 37.3deg,#ffd600 58.6deg,#ff0 66.6deg,#78d700 73.7deg,#00b91e 82.3deg,#00f0a5 115.3deg,#00ffe8 122.1deg,#00f8f6 124.6deg,#00fced 127.4deg,#00ffe8 130.8deg,#00fdde 134.7deg,#00f0a5 136.6deg,#00b91e 140.3deg,#78d700 142.4deg,#ff0 144.8deg,#ffb400 147.5deg,#fc8300 149.3deg,#fc8300 153.3deg,#ffb400 155deg,#ff0 157.8deg,#78d700 159.6deg,#00b91e 161.3deg,#00f0a5 164.4deg,#00fee2 166.3deg,#00ffe8 167.9deg,#00fbf1 172.3deg,#00fbf1 179.5deg,#00fbf1 187.5deg,#00fbf1 197.5deg,#00fbf1 234.1deg,#00ffe8 234.4deg,#00f0a5 236deg,#00b91e 238.6deg,#78d700 240.6deg,#ff0 243.1deg,#ffb400 247.1deg,#fea000 248.1deg,#fa6400 248.3deg,#f75c00 248.4deg,#e73300 253.8deg,#f75c00 261.3deg,#fa6400 262.1deg,#ffb400 272.6deg,#ff0 283.1deg,#78d700 295.1deg,#00b91e 305.4deg,#00f0a5 312.7deg,#00f9cd 315.3deg,#00ffe8 325.6deg,#00fcef 330.2deg,#00f6fa 340.8deg,#00fced 349.4deg,#00ffe8 350.3deg,#00f3b4 355.2deg,#00f0a5 355.8deg,#00b91e 360deg)"></i><i style="left:42px;top:42px;width:306px;height:306px;background:conic-gradient(from -6.8deg,#00b91e 0deg,#78d700 3.9deg,#ff0 8.7deg,#ffca00 37.9deg,#ffd600 59deg,#ff0 67deg,#78d700 74deg,#00b91e 82.5deg,#00f0a5 115.5deg,#00ffe8 122.3deg,#00f8f6 124.8deg,#00fced 127.9deg,#00ffe8 132.1deg,#00fee2 135deg,#00f0a5 136.9deg,#00b91e 140.3deg,#78d700 142.3deg,#ff0 144.5deg,#ffb400 147.1deg,#fb7a00 149deg,#fb7a00 153deg,#ffb400 154.9deg,#ff0 157.5deg,#78d700 159.4deg,#00b91e 161deg,#00f0a5 164.1deg,#00fee5 166deg,#00ffe8 166.9deg,#00fbf1 172deg,#00fbf1 180.8deg,#00fbf1 188.8deg,#00fbf1 198.8deg,#00fbf1 234.4deg,#00ffe8 234.8deg,#00f0a5 236.4deg,#00b91e 238.9deg,#78d700 241deg,#ff0 243.4deg,#ffb400 247.4deg,#fea000 248.4deg,#fa6400 248.7deg,#f75c00 248.7deg,#e73300 254.2deg,#f75c00 261.7deg,#fa6400 262.5deg,#ffb400 272.9deg,#ff0 283.4deg,#78d700 295.4deg,#00b91e 305.6deg,#00f0a5 312.8deg,#00f9cd 315.4deg,#00ffe8 325.6deg,#00fcef 330.1deg,#00f6fb 340.6deg,#00fced 349.3deg,#00ffe8 350.2deg,#00f3b4 355.1deg,#00f0a5 355.8deg,#00b91e 360deg)"></i><i style="left:45px;top:45px;width:300px;height:300px;background:conic-gradient(from -8deg,#00b91e 0deg,#78d700 3.8deg,#ff0 8.5deg,#ffca00 38.5deg,#ffd600 59.5deg,#ff0 67.5deg,#78d700 74.3deg,#00b91e 82.7deg,#00f0a5 115.6deg,#00ffe8 122.4deg,#00f8f6 124.9deg,#00fced 128.5deg,#00ffe8 133.8deg,#00fee6 135.2deg,#00f0a5 137.2deg,#00b91e 140.4deg,#78d700 142.2deg,#ff0 144.2deg,#ffb400 146.7deg,#fb6f00 148.7deg,#fb6f00 152.7deg,#ffb400 154.8deg,#ff0 157.2deg,#78d700 159.1deg,#00b91e 160.7deg,#00f0a5 163.8deg,#00ffe8 165.7deg,#00ffe8 165.7deg,#00fbf1 171.7deg,#00fbf1 182deg,#00fbf1 190deg,#00fbf1 200deg,#00fbf1 233.7deg,#00ffe8 234deg,#00f0a5 235.6deg,#00b91e 238.2deg,#78d700 240.2deg,#ff0 242.7deg,#ffb400 246.7deg,#fea000 247.7deg,#fa6400 247.9deg,#f75c00 248deg,#e73300 254.7deg,#f75c00 262.1deg,#fa6400 262.9deg,#ffb400 273.2deg,#ff0 283.6deg,#78d700 295.6deg,#00b91e 305.9deg,#00f0a5 312.9deg,#00f9cd 315.5deg,#00ffe8 325.6deg,#00fcef 330deg,#00f6fb 340.4deg,#00fced 349.2deg,#00ffe8 350.1deg,#00f3b4 355.1deg,#00f0a5 355.7deg,#00b91e 360deg)"></i><i style="left:48px;top:48px;width:294px;height:294px;background:conic-gradient(from -9.2deg,#00b91e 0deg,#78d700 3.8deg,#ff0 8.4deg,#ffca00 39.1deg,#ffd600 59.9deg,#ff0 67.9deg,#78d700 74.7deg,#00b91e 82.9deg,#00f0a5 115.6deg,#00ffe8 122.3deg,#00f8f6 124.8deg,#00fced 129deg,#00ffe9 135.5deg,#00ffe8 135.5deg,#00f0a5 137.4deg,#00b91e 140.4deg,#78d700 142.1deg,#ff0 144deg,#ffb400 146.2deg,#fa6400 148.5deg,#fa6400 152.5deg,#ffb400 154.7deg,#ff0 157deg,#78d700 158.9deg,#00b91e 160.5deg,#00f0a5 163.5deg,#00ffe8 165.4deg,#00feea 165.5deg,#00fbf1 171.5deg,#00fbf1 175.2deg,#00fbf1 183.2deg,#00fbf1 191.2deg,#00fbf1 201.2deg,#00fbf1 232.9deg,#00ffe8 233.3deg,#00f0a5 234.9deg,#00b91e 237.4deg,#78d700 239.5deg,#ff0 241.9deg,#ffb400 245.9deg,#fea000 246.9deg,#fa6400 247.6deg,#f75c00 247.7deg,#e73300 255.1deg,#f75c00 262.4deg,#fa6400 263.2deg,#ffb400 273.6deg,#ff0 283.9deg,#78d700 295.8deg,#00b91e 306.1deg,#00f0a5 313.1deg,#00f9cd 315.6deg,#00ffe8 325.6deg,#00fcef 330deg,#00f6fb 340.2deg,#00fced 349.1deg,#00ffe8 350deg,#00f3b4 355.1deg,#00f0a5 355.7deg,#00b91e 360deg)"></i><i style="left:51px;top:51px;width:288px;height:288px;background:conic-gradient(from -10.5deg,#00b91e 0deg,#78d700 3.7deg,#ff0 8.2deg,#ffca00 39.6deg,#ffd600 60.4deg,#ff0 68.4deg,#78d700 75deg,#00b91e 83.1deg,#00f0a5 114.6deg,#00ffe8 121.1deg,#00f8f6 123.5deg,#00fced 129.6deg,#00fdeb 135.8deg,#00ffe8 135.9deg,#00f0a5 137.7deg,#00b91e 140.5deg,#78d700 142deg,#ff0 143.7deg,#ffb400 145.8deg,#fa6400 147.9deg,#f55600 148.2deg,#f55600 152.2deg,#fa6400 152.5deg,#ffb400 154.6deg,#ff0 156.7deg,#78d700 158.6deg,#00b91e 160.2deg,#00f0a5 163.2deg,#00ffe8 165deg,#00fdec 165.2deg,#00fbf1 171.2deg,#00fbf1 176.5deg,#00fbf1 184.5deg,#00fbf1 192.5deg,#00fbf1 202.5deg,#00fbf1 232.1deg,#00ffe8 232.5deg,#00f0a5 234.1deg,#00b91e 236.6deg,#78d700 238.7deg,#ff0 241.1deg,#ffb400 245.1deg,#fea000 246.1deg,#fa6400 247.8deg,#f75c00 248deg,#e73300 255.3deg,#f75c00 262.6deg,#fa6400 263.4deg,#ffb400 273.9deg,#ff0 284.4deg,#78d700 296.2deg,#00b91e 306.3deg,#00f0a5 313.2deg,#00f9cd 315.8deg,#00ffe8 325.6deg,#00fcef 329.9deg,#00f6fc 340.1deg,#00fced 349deg,#00ffe8 349.9deg,#00f3b4 355deg,#00f0a5 355.6deg,#00b91e 360deg)"></i><i style="left:54px;top:54px;width:282px;height:282px;background:conic-gradient(from -11.7deg,#00b91e 0deg,#78d700 3.6deg,#ff0 8deg,#ffca00 40.2deg,#ffd600 60.8deg,#ff0 68.8deg,#78d700 75.4deg,#00b91e 83.4deg,#00f0a5 113.6deg,#00ffe8 119.9deg,#00f8f6 122.2deg,#00fced 129.6deg,#00fced 135.6deg,#00ffe8 135.8deg,#00f0a5 137.5deg,#00b91e 140.1deg,#78d700 141.5deg,#ff0 143.1deg,#ffb400 145.1deg,#fa6400 147.1deg,#f04900 147.6deg,#f04900 151.6deg,#fa6400 152.1deg,#ffb400 154.1deg,#ff0 156.1deg,#78d700 158deg,#00b91e 159.6deg,#00f0a5 162.5deg,#00ffe8 164.3deg,#00fced 164.6deg,#00fbf1 170.6deg,#00fbf1 177.7deg,#00fbf1 185.7deg,#00fbf1 193.7deg,#00fbf1 203.7deg,#00fbf1 231.4deg,#00ffe8 231.7deg,#00f0a5 233.3deg,#00b91e 235.9deg,#78d700 238deg,#ff0 240.4deg,#ffb400 244.4deg,#fea000 245.4deg,#fa6400 248deg,#f75c00 248.3deg,#e73300 255.5deg,#f75c00 262.8deg,#fa6400 263.6deg,#ffb400 274.3deg,#ff0 285deg,#78d700 296.7deg,#00b91e 306.7deg,#00f0a5 313.5deg,#00f9cd 316deg,#00ffe8 325.6deg,#00fcef 329.9deg,#00f5fc 339.9deg,#00fced 348.9deg,#00ffe8 349.8deg,#00f3b4 355deg,#00f0a5 355.6deg,#00b91e 360deg)"></i><i style="left:57px;top:57px;width:276px;height:276px;background:conic-gradient(from -13deg,#00b91e 0deg,#78d700 3.4deg,#ff0 7.7deg,#ffca00 40.9deg,#ffd600 61.3deg,#ff0 69.3deg,#78d700 75.7deg,#00b91e 83.6deg,#00f0a5 112.7deg,#00ffe8 118.7deg,#00f8f6 120.9deg,#00fced 128.6deg,#00fced 134.6deg,#00ffe8 134.9deg,#00f0a5 136.5deg,#00b91e 139.1deg,#78d700 140.5deg,#ff0 142.1deg,#ffb400 144.1deg,#fa6400 146deg,#ed4300 146.6deg,#ed4300 150.6deg,#fa6400 151.3deg,#ffb400 153.2deg,#ff0 155.1deg,#78d700 157deg,#00b91e 158.6deg,#00f0a5 161.6deg,#00ffe8 163.4deg,#00fced 163.6deg,#00fbf1 169.6deg,#00fbf1 179deg,#00fbf1 187deg,#00fbf1 195deg,#00fbf1 205deg,#00fbf1 230.7deg,#00ffe8 231deg,#00f0a5 232.6deg,#00b91e 235.2deg,#78d700 237.3deg,#ff0 239.7deg,#ffb400 243.7deg,#fea000 244.7deg,#fa6400 248.2deg,#f75c00 248.6deg,#e73300 255.8deg,#f75c00 263.1deg,#fa6400 263.9deg,#ffb400 274.8deg,#ff0 285.7deg,#78d700 297.2deg,#00b91e 307.1deg,#00f0a5 313.8deg,#00f9cd 316.3deg,#00ffe8 325.8deg,#00fcef 330deg,#00f5fc 339.8deg,#00fced 348.9deg,#00ffe8 349.8deg,#00f3b4 354.9deg,#00f0a5 355.6deg,#00b91e 360deg)"></i><i style="left:60px;top:60px;width:270px;height:270px;background:conic-gradient(from -14.3deg,#00b91e 0deg,#78d700 3.3deg,#ff0 7.3deg,#ffca00 41.5deg,#ffd600 61.8deg,#ff0 69.8deg,#78d700 76.1deg,#00b91e 83.9deg,#00f0a5 111.8deg,#00ffe8 117.5deg,#00f8f6 119.6deg,#00fced 127.7deg,#00fced 133.7deg,#00ffe8 133.9deg,#00f0a5 135.6deg,#00b91e 138.2deg,#78d700 139.6deg,#ff0 141.2deg,#ffb400 143.1deg,#fa6400 145deg,#eb3c00 145.7deg,#eb3c00 149.7deg,#fa6400 150.4deg,#ffb400 152.3deg,#ff0 154.2deg,#78d700 156.1deg,#00b91e 157.7deg,#00e995 162.7deg,#00e995 168.7deg,#00e995 172.3deg,#00f0a5 173.4deg,#00ffe8 179deg,#00fbf1 180.3deg,#00fbf1 188.3deg,#00fbf1 196.3deg,#00fbf1 206.3deg,#00fbf1 229.9deg,#00ffe8 230.2deg,#00f0a5 231.8deg,#00b91e 234.4deg,#78d700 236.5deg,#ff0 238.9deg,#ffb400 242.9deg,#fea000 243.9deg,#fa6400 248.5deg,#f75c00 248.9deg,#e73300 256.1deg,#f75c00 263.3deg,#fa6400 264.2deg,#ffb400 275.2deg,#ff0 286.3deg,#78d700 297.7deg,#00b91e 307.5deg,#00f0a5 314.1deg,#00f9cd 316.6deg,#00ffe8 326deg,#00fcef 330.1deg,#00f5fd 339.8deg,#00fced 348.9deg,#00ffe8 349.8deg,#00f3b4 355deg,#00f0a5 355.6deg,#00b91e 360deg)"></i><i style="left:63px;top:63px;width:264px;height:264px;background:conic-gradient(from -15.6deg,#00b91e 0deg,#78d700 3.2deg,#ff0 7.1deg,#ffca00 42.1deg,#ffd600 62.3deg,#ff0 70.3deg,#78d700 76.5deg,#00b91e 84.1deg,#00f0a5 110.8deg,#00ffe8 116.4deg,#00f8f6 118.4deg,#00f8f6 135.4deg,#00f4ff 135.6deg,#247bff 136.7deg,#00f4ff 137.8deg,#00f8f6 138deg,#00ffe8 138.1deg,#00f0a5 138.2deg,#00b91e 138.3deg,#78d700 139.2deg,#ff0 140.2deg,#ffb400 142.1deg,#fa6400 143.9deg,#e83600 144.7deg,#e83600 148.7deg,#fa6400 149.6deg,#ffb400 151.4deg,#ff0 153.2deg,#7ed900 156.7deg,#7ed900 161.7deg,#7ed900 167.7deg,#7ed900 173.6deg,#78d700 173.7deg,#00b91e 176.3deg,#00f0a5 179.3deg,#00ffe8 181.2deg,#00fbf1 181.6deg,#00fbf1 189.6deg,#00fbf1 197.6deg,#00fbf1 207.6deg,#00fbf1 228.6deg,#00ffe8 229deg,#00f0a5 230.5deg,#00b91e 233.1deg,#78d700 235.2deg,#ff0 237.6deg,#ffb400 241.6deg,#fea000 242.6deg,#fa6400 248.7deg,#f75c00 249.3deg,#e73300 256.4deg,#f75c00 263.6deg,#fa6400 264.4deg,#ffb400 275.7deg,#ff0 286.9deg,#78d700 298.3deg,#00b91e 308deg,#00f0a5 314.5deg,#00f9cd 316.9deg,#00ffe8 326.1deg,#00fcef 330.3deg,#00f5fd 339.8deg,#00fced 348.9deg,#00ffe8 349.8deg,#00f3b4 355deg,#00f0a5 355.6deg,#00b91e 360deg)"></i><i style="left:66px;top:66px;width:258px;height:258px;background:conic-gradient(from -16.9deg,#00b91e 0deg,#78d700 3deg,#ff0 6.8deg,#ffca00 42.8deg,#ffd600 62.8deg,#ff0 70.8deg,#78d700 77deg,#00b91e 84.5deg,#00f0a5 109.9deg,#00ffe8 115.2deg,#00f8f6 117.1deg,#00f8f6 135deg,#00f4ff 135.2deg,#247bff 136.3deg,#00f4ff 137.4deg,#00f8f6 137.6deg,#00ffe8 137.7deg,#00f0a5 137.8deg,#00b91e 137.9deg,#78d700 138.8deg,#ff0 139.8deg,#ffb400 141.6deg,#fa6400 143.4deg,#e63100 144.3deg,#e63100 148.3deg,#fa6400 149.6deg,#ffb400 152.1deg,#ffc900 152.8deg,#ffc900 156.3deg,#ffc900 161.3deg,#ffc900 167.3deg,#ffc900 174.9deg,#ff0 177.1deg,#78d700 179.8deg,#00b91e 182.1deg,#00c945 182.9deg,#00f0a5 186.7deg,#00ffe8 190.1deg,#00fbf1 190.9deg,#00fbf1 198.9deg,#00fbf1 208.9deg,#00fbf1 227.3deg,#00ffe8 227.7deg,#00f0a5 229.3deg,#00b91e 231.8deg,#78d700 233.9deg,#ff0 236.3deg,#ffb400 240.3deg,#fea000 241.3deg,#fa6400 248.9deg,#f75c00 249.6deg,#e73300 256.7deg,#f75c00 263.8deg,#fa6400 264.7deg,#ffb400 276.1deg,#ff0 287.6deg,#78d700 298.8deg,#00b91e 308.4deg,#00f0a5 314.8deg,#00f9cd 317.2deg,#00ffe8 326.3deg,#00fcef 330.4deg,#00f5fe 339.8deg,#00fced 348.9deg,#00ffe8 349.8deg,#00f3b4 355deg,#00f0a5 355.6deg,#00b91e 360deg)"></i><i style="left:69px;top:69px;width:252px;height:252px;background:conic-gradient(from -18.2deg,#00b91e 0deg,#78d700 2.9deg,#ff0 6.5deg,#ffca00 43.4deg,#ffd600 63.3deg,#ff0 71.3deg,#78d700 77.5deg,#00b91e 84.9deg,#00f0a5 109.1deg,#00ffe8 114deg,#00f8f6 115.9deg,#00f8f6 135.1deg,#00f4ff 135.3deg,#247bff 136.5deg,#00f4ff 137.6deg,#00f8f6 137.8deg,#00ffe8 137.9deg,#00f0a5 138deg,#00b91e 138.1deg,#78d700 139deg,#ff0 140deg,#ffb400 141.8deg,#fa6400 143.6deg,#e63100 144.5deg,#e63100 148.5deg,#fa6400 152.5deg,#fc8c00 156.5deg,#fc8c00 168.2deg,#fc8c00 176.2deg,#ffb400 178.4deg,#ff0 182.8deg,#cef000 184.2deg,#78d700 185.8deg,#00b91e 187.9deg,#00f0a5 190.3deg,#00ffe8 191.8deg,#00fbf1 192.2deg,#00fbf1 200.2deg,#00fbf1 210.2deg,#00fbf1 226deg,#00ffe8 226.4deg,#00f0a5 228deg,#00b91e 230.5deg,#78d700 232.6deg,#ff0 235deg,#ffb400 239deg,#fea000 240deg,#fa6400 249.1deg,#f75c00 250deg,#e73300 257deg,#f75c00 264.1deg,#fa6400 265deg,#ffb400 276.6deg,#ff0 288.2deg,#78d700 299.3deg,#00b91e 308.8deg,#00f0a5 315.1deg,#00f9cd 317.5deg,#00ffe8 326.5deg,#00fcef 330.5deg,#00f5fe 339.8deg,#00fced 348.9deg,#00ffe8 349.8deg,#00f3b4 355deg,#00f0a5 355.6deg,#00b91e 360deg)"></i><i style="left:72px;top:72px;width:246px;height:246px;background:conic-gradient(from -19.5deg,#00b91e 0deg,#78d700 2.8deg,#ff0 6.2deg,#ffca00 44deg,#ffd600 63.8deg,#ff0 71.8deg,#78d700 77.9deg,#00b91e 85.4deg,#00f0a5 108.2deg,#00ffe8 112.9deg,#00f8f6 114.6deg,#00f8f6 135.2deg,#00f4ff 135.4deg,#247bff 136.6deg,#00f4ff 137.8deg,#00f8f6 138deg,#00ffe8 138.1deg,#00f0a5 138.2deg,#00b91e 138.3deg,#78d700 139.2deg,#ff0 140.2deg,#ffb400 142deg,#fa6400 143.8deg,#e63100 144.7deg,#e63100 148.7deg,#fa6400 152.7deg,#fc8c00 156.7deg,#fc8c00 169.5deg,#fc8c00 177.5deg,#fea100 185.5deg,#ffb400 186deg,#ff0 188.2deg,#78d700 190.1deg,#00b91e 191.8deg,#00e995 193.5deg,#00f0a5 194.6deg,#00ffe8 200.2deg,#00fbf1 201.5deg,#00fbf1 211.5deg,#00fbf1 224.7deg,#00ffe8 225.1deg,#00f0a5 226.7deg,#00b91e 229.2deg,#78d700 231.3deg,#ff0 233.7deg,#ffb400 237.7deg,#fea000 238.7deg,#fa6400 249.2deg,#f75c00 250.3deg,#e73300 257.3deg,#f75c00 264.3deg,#fa6400 265.2deg,#ffb400 277deg,#ff0 288.8deg,#78d700 299.8deg,#00b91e 309.2deg,#00f0a5 315.5deg,#00f9cd 317.8deg,#00ffe8 326.7deg,#00fcef 330.7deg,#00f4fe 339.8deg,#00fced 348.9deg,#00ffe8 349.8deg,#00f3b4 355deg,#00f0a5 355.6deg,#00b91e 360deg)"></i><i style="left:75px;top:75px;width:240px;height:240px;background:conic-gradient(from -20.8deg,#00b91e 0deg,#78d700 2.6deg,#ff0 5.8deg,#ffca00 44.7deg,#ffd600 64.3deg,#ff0 72.3deg,#78d700 78.4deg,#00b91e 85.9deg,#00f0a5 107.3deg,#00ffe8 111.7deg,#00f8f6 113.3deg,#00f8f6 135.3deg,#00f4ff 135.6deg,#247bff 136.8deg,#00f4ff 138deg,#00f8f6 138.2deg,#00ffe8 138.3deg,#00f0a5 138.4deg,#00b91e 138.5deg,#78d700 139.4deg,#ff0 140.4deg,#ffb400 142.2deg,#fa6400 144deg,#e63100 144.9deg,#e63100 148.9deg,#fa6400 152.9deg,#fc8c00 156.9deg,#fc8c00 170.8deg,#fc8c00 178.8deg,#fc8c00 186.8deg,#ffb400 188.5deg,#ff0 191.9deg,#7ed900 194.8deg,#78d700 194.9deg,#00b91e 197.5deg,#00f0a5 200.5deg,#00ffe8 202.4deg,#00fbf1 202.8deg,#00fbf1 212.8deg,#00fbf1 223.4deg,#00ffe8 223.8deg,#00f0a5 225.4deg,#00b91e 227.9deg,#78d700 230deg,#ff0 232.4deg,#ffb400 236.4deg,#fea000 237.4deg,#fa6400 249.4deg,#f75c00 250.5deg,#e73300 257.5deg,#f75c00 264.4deg,#fa6400 265.3deg,#ffb400 277.4deg,#ff0 289.5deg,#78d700 300.3deg,#00b91e 309.7deg,#00f0a5 315.8deg,#00f9cd 318.1deg,#00ffe8 326.9deg,#00fcef 330.8deg,#00f4ff 339.9deg,#00fced 348.9deg,#00ffe8 349.8deg,#00f3b4 355deg,#00f0a5 355.6deg,#00b91e 360deg)"></i><i style="left:78px;top:78px;width:234px;height:234px;background:conic-gradient(from -22deg,#00b91e 0deg,#78d700 2.5deg,#ff0 5.6deg,#ffca00 45.2deg,#ffd600 64.8deg,#ff0 72.8deg,#78d700 78.9deg,#00b91e 86.3deg,#00f0a5 106.3deg,#00ffe8 110.5deg,#00f8f6 112deg,#00f8f6 135.4deg,#00f4ff 135.6deg,#247bff 136.9deg,#00f4ff 138.1deg,#00f8f6 138.4deg,#00ffe8 138.4deg,#00f0a5 138.5deg,#00b91e 138.7deg,#78d700 139.5deg,#ff0 140.6deg,#ffb400 142.4deg,#fa6400 144.2deg,#e63100 145.1deg,#e63100 149.1deg,#fa6400 153.1deg,#fc8c00 157.1deg,#fc8c00 172deg,#fc8c00 180deg,#fc8c00 188deg,#ffb400 193.2deg,#ffc900 196deg,#ff0 197.9deg,#78d700 200.1deg,#00b91e 202deg,#00e995 204deg,#00f0a5 205.4deg,#00ffe8 212.4deg,#00fbf1 214deg,#00fbf1 221.3deg,#00ffe8 221.7deg,#00f0a5 223.3deg,#00b91e 225.8deg,#78d700 227.9deg,#ff0 230.3deg,#ffb400 234.3deg,#fea000 235.3deg,#fa6400 249.4deg,#f75c00 250.8deg,#e73300 257.6deg,#f75c00 264.4deg,#fa6400 265.3deg,#ffb400 277.7deg,#ff0 290.1deg,#78d700 300.9deg,#00b91e 310.1deg,#00f0a5 316.2deg,#00f9cd 318.4deg,#00ffe8 327.1deg,#00fcef 330.9deg,#00f4ff 339.5deg,#01f2ff 339.9deg,#00f4ff 340.2deg,#00fced 348.9deg,#00ffe8 349.8deg,#00f3b4 355deg,#00f0a5 355.6deg,#00b91e 360deg)"></i><i style="left:81px;top:81px;width:228px;height:228px;background:conic-gradient(from -23.2deg,#00b91e 0deg,#78d700 2.4deg,#ff0 5.2deg,#ffca00 45.8deg,#ffd600 65.2deg,#ff0 73.2deg,#78d700 79.3deg,#00b91e 86.7deg,#00f0a5 105.4deg,#00ffe8 109.3deg,#00f8f6 110.7deg,#00f8f6 135.4deg,#00f4ff 135.7deg,#247bff 137deg,#00f4ff 138.3deg,#00f8f6 138.5deg,#00ffe8 138.5deg,#00f0a5 138.6deg,#00b91e 138.8deg,#78d700 139.7deg,#ff0 140.7deg,#ffb400 142.5deg,#fa6400 144.3deg,#e63100 145.2deg,#e63100 149.2deg,#fa6400 153.2deg,#fc8c00 157.2deg,#fc8c00 173.2deg,#fc8c00 181.2deg,#fc8c00 189.2deg,#fc8c00 197.2deg,#ffb400 199deg,#ff0 202.4deg,#7ed900 205.2deg,#7ed900 215.3deg,#7ed900 219.8deg,#ff0 224.3deg,#ffb400 228.3deg,#fea000 229.3deg,#fa6400 249.1deg,#f75c00 251.1deg,#e73300 257.7deg,#f75c00 264.3deg,#fa6400 265.3deg,#ffb400 277.9deg,#ff0 290.6deg,#78d700 301.4deg,#00b91e 310.6deg,#00f0a5 316.6deg,#00f9cd 318.8deg,#00ffe8 327.4deg,#00fcef 331.2deg,#00f4ff 338deg,#04e7ff 340.1deg,#00f4ff 342.1deg,#00fced 349deg,#00ffe8 349.9deg,#00f3b4 355deg,#00f0a5 355.6deg,#00b91e 360deg)"></i><i style="left:84px;top:84px;width:222px;height:222px;background:conic-gradient(from -24.5deg,#00b91e 0deg,#78d700 2.2deg,#ff0 4.9deg,#ffca00 46.4deg,#ffd600 65.7deg,#ff0 73.7deg,#78d700 79.7deg,#00b91e 87.1deg,#00f0a5 105deg,#00ffe8 108.7deg,#00f8f6 110.1deg,#00f8f6 135.5deg,#00f4ff 135.7deg,#247bff 137.1deg,#00f4ff 138.4deg,#00f8f6 138.6deg,#00ffe8 138.7deg,#00f0a5 138.8deg,#00b91e 138.9deg,#78d700 139.8deg,#ff0 140.8deg,#ffb400 142.6deg,#fa6400 144.4deg,#e63100 145.3deg,#e63100 149.3deg,#fa6400 153.3deg,#fc8c00 157.3deg,#fc8c00 174.5deg,#fc8c00 182.5deg,#fc8c00 190.5deg,#fc8c00 198.5deg,#ffb400 203.6deg,#ffc900 206.5deg,#ffc900 210.2deg,#ffc900 214.7deg,#ffc900 219.2deg,#ffb400 221.9deg,#fea000 224.2deg,#fa6400 248.9deg,#f75c00 251.3deg,#e73300 257.8deg,#f75c00 264.3deg,#fa6400 265.2deg,#ffb400 278.1deg,#ff0 290.9deg,#78d700 301.7deg,#00b91e 311deg,#00f0a5 317deg,#00f9cd 319.2deg,#00ffe8 327.7deg,#00fcef 331.5deg,#00f4ff 337.1deg,#07ddff 340.3deg,#00f4ff 343.4deg,#00fced 349.2deg,#00ffe8 350.1deg,#00f3b4 355.1deg,#00f0a5 355.7deg,#00b91e 360deg)"></i><i style="left:87px;top:87px;width:216px;height:216px;background:conic-gradient(from -25.7deg,#00b91e 0deg,#78d700 2.1deg,#ff0 4.6deg,#ffca00 46.8deg,#ffd600 66.1deg,#ff0 74.1deg,#78d700 80.1deg,#00b91e 87.5deg,#00f0a5 104.8deg,#00ffe8 108.3deg,#00f8f6 109.6deg,#00f8f6 135.5deg,#00f4ff 135.8deg,#247bff 137.1deg,#00f4ff 138.5deg,#00f8f6 138.8deg,#00ffe8 138.8deg,#00f0a5 138.9deg,#00b91e 139.1deg,#78d700 139.9deg,#ff0 141deg,#ffb400 142.8deg,#fa6400 144.6deg,#e63100 145.5deg,#e63100 149.5deg,#fa6400 153.5deg,#fc8c00 157.5deg,#fc8c00 175.7deg,#fc8c00 183.7deg,#fc8c00 191.7deg,#fc8c00 199.7deg,#fc8c00 207.7deg,#fc8c00 210deg,#fc8c00 214.5deg,#fc8c00 219deg,#fea000 224deg,#fa6400 249.1deg,#f75c00 251.6deg,#e73300 257.9deg,#f75c00 264.2deg,#fa6400 265.2deg,#ffb400 278.2deg,#ff0 291.3deg,#78d700 302.1deg,#00b91e 311.5deg,#00f0a5 317.4deg,#00f9cd 319.6deg,#00ffe8 328.1deg,#00fcef 331.8deg,#00f4ff 336.5deg,#0ad2ff 340.5deg,#00f4ff 344.3deg,#00fced 349.3deg,#00ffe8 350.2deg,#00f3b4 355.1deg,#00f0a5 355.7deg,#00b91e 360deg)"></i><i style="left:90px;top:90px;width:210px;height:210px;background:conic-gradient(from -26.9deg,#00b91e 0deg,#78d700 2deg,#ff0 4.4deg,#ffca00 47.3deg,#ffd600 66.5deg,#ff0 74.5deg,#78d700 80.5deg,#00b91e 87.8deg,#00f0a5 104.5deg,#00ffe8 108deg,#00f8f6 109.2deg,#00f8f6 135.6deg,#00f4ff 135.8deg,#247bff 137.2deg,#00f4ff 138.6deg,#00f8f6 138.9deg,#00ffe8 138.9deg,#00f0a5 139deg,#00b91e 139.2deg,#78d700 140.1deg,#ff0 141.1deg,#ffb400 142.9deg,#fa6400 144.7deg,#e63100 145.6deg,#e63100 149.6deg,#fa6400 153.6deg,#fc8c00 157.6deg,#fc8c00 176.9deg,#fc8c00 184.9deg,#fc8c00 192.9deg,#fc8c00 200.9deg,#fc8c00 208.9deg,#fc8c00 218.9deg,#fa6400 247.5deg,#f75c00 251.8deg,#e73300 258deg,#f75c00 264.2deg,#fa6400 265.2deg,#ffb400 278.4deg,#ff0 291.6deg,#78d700 302.5deg,#00b91e 311.9deg,#00f0a5 317.8deg,#00f9cd 320deg,#00ffe8 328.4deg,#00fcef 332.1deg,#00f4ff 336.2deg,#0dc7ff 340.8deg,#00f4ff 345.1deg,#00fced 349.4deg,#00ffe8 350.3deg,#00f3b4 355.2deg,#00f0a5 355.8deg,#00b91e 360deg)"></i><i style="left:93px;top:93px;width:204px;height:204px;background:conic-gradient(from -28.2deg,#00b91e 0deg,#78d700 1.8deg,#ff0 4.1deg,#ffca00 47.8deg,#ffd600 67deg,#ff0 75deg,#78d700 80.9deg,#00b91e 88.2deg,#00f0a5 104.3deg,#00ffe8 107.6deg,#00f8f6 108.8deg,#00f8f6 135.6deg,#00f4ff 135.9deg,#247bff 137.3deg,#00f4ff 138.7deg,#00f8f6 139deg,#00ffe8 139deg,#00f0a5 139.1deg,#00b91e 139.3deg,#78d700 140.2deg,#ff0 141.2deg,#ffb400 143deg,#fa6400 144.8deg,#e63100 145.7deg,#e63100 149.7deg,#fa6400 153.7deg,#fc8c00 157.7deg,#fc8c00 178.2deg,#fc8c00 186.2deg,#fc8c00 194.2deg,#fc8c00 202.2deg,#fc8c00 210.2deg,#fc8c00 220.2deg,#fa6400 247.9deg,#f75c00 252.1deg,#e73300 258.1deg,#f75c00 264.1deg,#fa6400 265.1deg,#ffb400 278.5deg,#ff0 291.9deg,#78d700 302.9deg,#00b91e 312.4deg,#00f0a5 318.2deg,#00f9cd 320.4deg,#00ffe8 328.7deg,#00fcef 332.4deg,#00f4ff 336deg,#11bcff 341deg,#00f4ff 345.7deg,#00fced 349.5deg,#00ffe8 350.4deg,#00f3b4 355.2deg,#00f0a5 355.8deg,#00b91e 360deg)"></i><i style="left:96px;top:96px;width:198px;height:198px;background:conic-gradient(from -29.4deg,#00b91e 0deg,#78d700 1.8deg,#ff0 4deg,#ffca00 48.3deg,#ffd600 67.4deg,#ff0 75.4deg,#78d700 81.4deg,#00b91e 88.6deg,#00f0a5 104deg,#00ffe8 107.2deg,#00f8f6 108.3deg,#00f8f6 135.7deg,#00f4ff 136deg,#247bff 137.4deg,#00f4ff 138.9deg,#00f8f6 139.2deg,#00ffe8 139.2deg,#00f0a5 139.4deg,#00b91e 139.5deg,#78d700 140.4deg,#ff0 141.4deg,#ffb400 143.2deg,#fa6400 145deg,#e63100 145.9deg,#e63100 149.9deg,#fa6400 153.9deg,#fc8c00 157.9deg,#fc8c00 179.4deg,#fc8c00 187.4deg,#fc8c00 195.4deg,#fc8c00 203.4deg,#fc8c00 211.4deg,#fc8c00 221.4deg,#fa6400 248.1deg,#f75c00 252.2deg,#e73300 258deg,#f75c00 263.9deg,#fa6400 264.9deg,#ffb400 278.6deg,#ff0 292.2deg,#78d700 303.3deg,#00b91e 312.8deg,#00f0a5 318.6deg,#00f9cd 320.8deg,#00ffe8 329.1deg,#00fcef 332.7deg,#00f4ff 335.9deg,#14b1ff 341.2deg,#00f4ff 346.3deg,#00fced 349.7deg,#00ffe8 350.5deg,#00f3b4 355.3deg,#00f0a5 355.9deg,#00b91e 360deg)"></i><i style="left:99px;top:99px;width:192px;height:192px;background:conic-gradient(from -30.3deg,#00b91e 0deg,#78d700 1.8deg,#ff0 4deg,#ffca00 48.4deg,#ffd600 67.6deg,#ff0 75.6deg,#78d700 81.5deg,#00b91e 88.7deg,#00f0a5 103.4deg,#00ffe8 106.5deg,#00f8f6 107.6deg,#00f8f6 135.6deg,#00f4ff 135.8deg,#247bff 137.4deg,#00f4ff 138.9deg,#00f8f6 139.2deg,#00ffe8 139.2deg,#00f0a5 139.3deg,#00b91e 139.5deg,#78d700 140.4deg,#ff0 141.4deg,#ffb400 143.2deg,#fa6400 145deg,#e63100 145.9deg,#e63100 149.9deg,#fa6400 153.9deg,#fc8c00 157.9deg,#fc8c00 180.3deg,#fc8c00 188.3deg,#fc8c00 196.3deg,#fc8c00 204.3deg,#fc8c00 212.3deg,#fc8c00 222.3deg,#fa6400 247.4deg,#f75c00 251.1deg,#e73300 256.9deg,#f75c00 262.6deg,#fa6400 263.7deg,#ffb400 277.8deg,#ff0 292deg,#78d700 303.3deg,#00b91e 313deg,#00f0a5 318.8deg,#00f9cd 320.9deg,#00ffe8 329.2deg,#00fcef 332.8deg,#00f4ff 335.7deg,#17a7ff 341.3deg,#00f4ff 346.7deg,#00fced 349.7deg,#00ffe8 350.6deg,#00f3b4 355.3deg,#00f0a5 355.9deg,#00b91e 360deg)"></i><i style="left:102px;top:102px;width:186px;height:186px;background:conic-gradient(from -31deg,#00b91e 0deg,#78d700 1.8deg,#ff0 4deg,#ffca00 48.3deg,#ffd600 67.4deg,#ff0 75.4deg,#78d700 81.4deg,#00b91e 88.6deg,#00f0a5 103.1deg,#00ffe8 106.1deg,#00f8f6 107.2deg,#00f8f6 135.1deg,#00f4ff 135.4deg,#247bff 137deg,#00f4ff 138.6deg,#00f8f6 138.9deg,#00ffe8 138.9deg,#00f0a5 139deg,#00b91e 139.2deg,#78d700 140.1deg,#ff0 141.1deg,#ffb400 142.9deg,#fa6400 144.7deg,#e63100 145.6deg,#e63100 149.6deg,#fa6400 153.6deg,#fc8c00 157.6deg,#fc8c00 181deg,#fc8c00 189deg,#fc8c00 197deg,#fc8c00 205deg,#fc8c00 213deg,#fc8c00 223deg,#fa6400 246.3deg,#f75c00 249.8deg,#e73300 255.4deg,#f75c00 261deg,#fa6400 262.1deg,#ffb400 276.8deg,#ff0 291.6deg,#78d700 303deg,#00b91e 312.9deg,#00f0a5 318.6deg,#00f9cd 320.8deg,#00ffe8 329deg,#00fcef 332.7deg,#00f4ff 335.3deg,#1a9cff 341.1deg,#00f4ff 346.8deg,#00fced 349.6deg,#00ffe8 350.5deg,#00f3b4 355.3deg,#00f0a5 355.9deg,#00b91e 360deg)"></i><i style="left:105px;top:105px;width:180px;height:180px;background:conic-gradient(from -31.6deg,#00b91e 0deg,#78d700 1.8deg,#ff0 4deg,#ffca00 48.2deg,#ffd600 67.3deg,#ff0 75.3deg,#78d700 81.2deg,#00b91e 88.6deg,#00f0a5 102.9deg,#00ffe8 105.8deg,#00f8f6 106.9deg,#00f8f6 134.7deg,#00f4ff 135deg,#247bff 136.6deg,#00f4ff 138.3deg,#00f8f6 138.6deg,#00ffe8 138.6deg,#00f0a5 138.7deg,#00b91e 138.9deg,#78d700 139.8deg,#ff0 140.8deg,#ffb400 142.6deg,#fa6400 144.4deg,#e63100 145.3deg,#e63100 149.3deg,#fa6400 153.3deg,#fc8c00 157.3deg,#fc8c00 181.6deg,#fc8c00 189.6deg,#fc8c00 197.6deg,#fc8c00 205.6deg,#fc8c00 213.6deg,#fc8c00 223.6deg,#fa6400 245.3deg,#f75c00 248.5deg,#e73300 254deg,#f75c00 259.4deg,#fa6400 260.5deg,#ffb400 275.8deg,#ff0 291.1deg,#78d700 302.8deg,#00b91e 312.7deg,#00f0a5 318.5deg,#00f9cd 320.6deg,#00ffe8 328.8deg,#00fcef 332.5deg,#00f4ff 334.9deg,#1e91ff 340.9deg,#00f4ff 346.9deg,#00fced 349.5deg,#00ffe8 350.4deg,#00f3b4 355.2deg,#00f0a5 355.8deg,#00b91e 360deg)"></i><i style="left:108px;top:108px;width:174px;height:174px;background:conic-gradient(from -32.2deg,#00b91e 0deg,#78d700 1.8deg,#ff0 4deg,#ffca00 48.1deg,#ffd600 67.1deg,#ff0 75.1deg,#78d700 81.1deg,#00b91e 88.5deg,#00f0a5 102.6deg,#00ffe8 105.5deg,#00f8f6 106.6deg,#00f8f6 134.3deg,#00f4ff 134.6deg,#247bff 136.3deg,#00f4ff 138deg,#00f8f6 138.3deg,#00ffe8 138.3deg,#00f0a5 138.4deg,#00b91e 138.6deg,#78d700 139.5deg,#ff0 140.5deg,#ffb400 142.3deg,#fa6400 144.1deg,#e63100 145deg,#e63100 149deg,#fa6400 153deg,#fc8c00 157deg,#fc8c00 182.2deg,#fc8c00 190.2deg,#fc8c00 198.2deg,#fc8c00 206.2deg,#fc8c00 214.2deg,#fc8c00 224.2deg,#fa6400 244.2deg,#f75c00 247.2deg,#e73300 252.5deg,#f75c00 257.8deg,#fa6400 259deg,#ffb400 274.8deg,#ff0 290.6deg,#78d700 302.4deg,#00b91e 312.5deg,#00f0a5 318.2deg,#00f9cd 320.4deg,#00ffe8 328.6deg,#00fcef 332.3deg,#00f4ff 334.5deg,#2186ff 340.8deg,#00f4ff 346.9deg,#00fced 349.4deg,#00ffe8 350.3deg,#00f3b4 355.2deg,#00f0a5 355.8deg,#00b91e 360deg)"></i><i style="left:111px;top:111px;width:168px;height:168px;background:conic-gradient(from -32.9deg,#00b91e 0deg,#78d700 1.8deg,#ff0 4deg,#ffca00 48deg,#ffd600 67deg,#ff0 75deg,#78d700 81deg,#00b91e 88.4deg,#00f0a5 102.4deg,#00ffe8 105.3deg,#00f8f6 106.3deg,#00f8f6 133.8deg,#00f4ff 134.1deg,#247bff 135.9deg,#00f4ff 137.7deg,#00f8f6 138deg,#00ffe8 138deg,#00f0a5 138.1deg,#00b91e 138.3deg,#78d700 139.2deg,#ff0 140.2deg,#ffb400 142deg,#fa6400 143.8deg,#e63100 144.7deg,#e63100 148.7deg,#fa6400 152.7deg,#fc8c00 156.7deg,#fc8c00 182.9deg,#fc8c00 190.9deg,#fc8c00 198.9deg,#fc8c00 206.9deg,#fc8c00 214.9deg,#fc8c00 224.9deg,#fa6400 243.2deg,#f75c00 245.9deg,#e73300 251deg,#f75c00 256.2deg,#fa6400 257.4deg,#ffb400 273.8deg,#ff0 290.2deg,#78d700 302deg,#00b91e 312.2deg,#00f0a5 317.9deg,#00f9cd 320.1deg,#00ffe8 328.4deg,#00fcef 332deg,#00f4ff 334.2deg,#247bff 340.6deg,#00f4ff 346.9deg,#00fced 349.3deg,#00ffe8 350.2deg,#00f3b4 355.1deg,#00f0a5 355.7deg,#00b91e 360deg)"></i><i style="left:114px;top:114px;width:162px;height:162px;background:conic-gradient(from -33.5deg,#00b91e 0deg,#78d700 1.8deg,#ff0 4deg,#ffca00 47.9deg,#ffd600 66.9deg,#ff0 74.9deg,#78d700 80.9deg,#00b91e 88.4deg,#00f0a5 102.2deg,#00ffe8 105deg,#00f8f6 106deg,#00f8f6 133.4deg,#00f4ff 133.7deg,#247bff 135.5deg,#00f4ff 137.3deg,#00f8f6 137.7deg,#00ffe8 137.7deg,#00f0a5 137.8deg,#00b91e 138deg,#78d700 138.9deg,#ff0 139.9deg,#ffb400 141.7deg,#fa6400 143.5deg,#e63100 144.4deg,#e63100 148.4deg,#fa6400 152.4deg,#fc8c00 156.4deg,#fc8c00 183.5deg,#fc8c00 191.5deg,#fc8c00 199.5deg,#fc8c00 207.5deg,#fc8c00 215.5deg,#fc8c00 225.5deg,#fa6400 242.1deg,#f75c00 244.6deg,#e73300 249.6deg,#f75c00 254.6deg,#fa6400 255.8deg,#ffb400 272.8deg,#ff0 289.7deg,#78d700 301.6deg,#00b91e 311.8deg,#00f0a5 317.7deg,#00f9cd 319.8deg,#00ffe8 328.1deg,#00fcef 331.8deg,#00f4ff 333.8deg,#2771ff 340.4deg,#00f4ff 347deg,#00fced 349.2deg,#00ffe8 350.1deg,#00f3b4 355.1deg,#00f0a5 355.7deg,#00b91e 360deg)"></i><i style="left:117px;top:117px;width:156px;height:156px;background:conic-gradient(from -34.2deg,#00b91e 0deg,#78d700 1.8deg,#ff0 4deg,#ffca00 47.8deg,#ffd600 66.7deg,#ff0 74.7deg,#78d700 80.9deg,#00b91e 88.3deg,#00f0a5 101.9deg,#00ffe8 104.7deg,#00f8f6 105.7deg,#00f8f6 132.9deg,#00f4ff 133.2deg,#247bff 135.1deg,#00f4ff 137deg,#00f8f6 137.4deg,#00ffe8 137.4deg,#00f0a5 137.5deg,#00b91e 137.7deg,#78d700 138.6deg,#ff0 139.6deg,#ffb400 141.4deg,#fa6400 143.2deg,#e63100 144.1deg,#e63100 148.1deg,#fa6400 152.1deg,#fc8c00 156.1deg,#fc8c00 184.2deg,#fc8c00 192.2deg,#fc8c00 200.2deg,#fc8c00 208.2deg,#fc8c00 216.2deg,#fc8c00 226.2deg,#fa6400 241.6deg,#f75c00 243.9deg,#e73300 248.8deg,#f75c00 253.6deg,#fa6400 254.9deg,#ffb400 272deg,#ff0 289.1deg,#78d700 301.2deg,#00b91e 311.5deg,#00f0a5 317.4deg,#00f9cd 319.6deg,#00ffe8 327.9deg,#00fcef 331.6deg,#00f4ff 333.5deg,#286eff 339.8deg,#296cfe 340.2deg,#286eff 340.5deg,#00f4ff 347deg,#00fced 349.1deg,#00ffe8 350deg,#00f3b4 355deg,#00f0a5 355.7deg,#00b91e 360deg)"></i><i style="left:120px;top:120px;width:150px;height:150px;background:conic-gradient(from -34.8deg,#00b91e 0deg,#78d700 1.8deg,#ff0 4deg,#ffca00 47.7deg,#ffd600 66.6deg,#ff0 74.6deg,#78d700 80.8deg,#00b91e 88.3deg,#00f0a5 101.7deg,#00ffe8 104.5deg,#00f8f6 105.5deg,#00f8f6 132.4deg,#00f4ff 132.8deg,#247bff 134.7deg,#00f4ff 136.7deg,#00f8f6 137.1deg,#00ffe8 137.1deg,#00f0a5 137.2deg,#00b91e 137.4deg,#78d700 138.2deg,#ff0 139.3deg,#ffb400 141.1deg,#fa6400 142.9deg,#e63100 143.8deg,#e63100 147.8deg,#fa6400 151.8deg,#fc8c00 155.8deg,#fc8c00 184.8deg,#fc8c00 192.8deg,#fc8c00 200.8deg,#fc8c00 208.8deg,#fc8c00 216.8deg,#fc8c00 226.8deg,#fa6400 241.6deg,#f75c00 243.9deg,#e73300 248.5deg,#f75c00 253.2deg,#fa6400 254.5deg,#ffb400 271.4deg,#ff0 288.4deg,#78d700 300.7deg,#00b91e 311.2deg,#00f0a5 317.1deg,#00f9cd 319.3deg,#00ffe8 327.6deg,#00fcef 331.3deg,#00f4ff 333.1deg,#286eff 339.1deg,#2b69fc 340deg,#286eff 340.8deg,#00f4ff 346.9deg,#00fced 349deg,#00ffe8 349.9deg,#00f3b4 355deg,#00f0a5 355.6deg,#00b91e 360deg)"></i><i style="left:123px;top:123px;width:144px;height:144px;background:conic-gradient(from -35.5deg,#00b91e 0deg,#78d700 1.8deg,#ff0 4deg,#ffca00 47.6deg,#ffd600 66.5deg,#ff0 74.5deg,#78d700 80.7deg,#00b91e 88.2deg,#00f0a5 101.4deg,#00ffe8 104.2deg,#00f8f6 105.2deg,#00f8f6 131.9deg,#00f4ff 132.3deg,#247bff 134.3deg,#00f4ff 136.4deg,#00f8f6 136.8deg,#00ffe8 136.8deg,#00f0a5 136.9deg,#00b91e 137.1deg,#78d700 137.9deg,#ff0 139deg,#ffb400 140.8deg,#fa6400 142.6deg,#e63100 143.5deg,#e63100 147.5deg,#fa6400 151.5deg,#fc8c00 155.5deg,#fc8c00 185.5deg,#fc8c00 193.5deg,#fc8c00 201.5deg,#fc8c00 209.5deg,#fc8c00 217.5deg,#fc8c00 227.5deg,#fa6400 241.7deg,#f75c00 243.8deg,#e73300 248.3deg,#f75c00 252.8deg,#fa6400 254.1deg,#ffb400 270.9deg,#ff0 287.7deg,#78d700 300.2deg,#00b91e 310.9deg,#00f0a5 316.9deg,#00f9cd 319.1deg,#00ffe8 327.6deg,#00fcef 331.4deg,#00f4ff 333.1deg,#286eff 338.8deg,#2c67fa 340.1deg,#286eff 341.4deg,#00f4ff 347.1deg,#00fced 349.1deg,#00ffe8 350deg,#00f3b4 355deg,#00f0a5 355.6deg,#00b91e 360deg)"></i><i style="left:126px;top:126px;width:138px;height:138px;background:conic-gradient(from -35.9deg,#00b91e 0deg,#78d700 1.8deg,#ff0 4deg,#ffca00 47.3deg,#ffd600 66.2deg,#ff0 74.2deg,#78d700 80.4deg,#00b91e 88deg,#00f0a5 101deg,#00ffe8 103.7deg,#00f8f6 104.7deg,#00f8f6 131.2deg,#00f4ff 131.6deg,#247bff 133.7deg,#00f4ff 135.9deg,#00f8f6 136.3deg,#00ffe8 136.3deg,#00f0a5 136.4deg,#00b91e 136.6deg,#78d700 137.5deg,#ff0 138.5deg,#ffb400 140.3deg,#fa6400 142.1deg,#e63100 143deg,#e63100 147deg,#fa6400 151deg,#fc8c00 155deg,#fc8c00 185.9deg,#fc8c00 193.9deg,#fc8c00 201.9deg,#fc8c00 209.9deg,#fc8c00 217.9deg,#fc8c00 227.9deg,#fa6400 241.5deg,#f75c00 243.6deg,#e73300 247.9deg,#f75c00 252.3deg,#fa6400 253.6deg,#ffb400 270.2deg,#ff0 286.8deg,#78d700 299.5deg,#00b91e 310.4deg,#00f0a5 316.5deg,#00f9cd 318.8deg,#00ffe8 327.4deg,#00fcef 331.2deg,#00f4ff 332.9deg,#286eff 338.5deg,#2e64f8 340.2deg,#286eff 341.8deg,#00f4ff 347.3deg,#00fced 349.1deg,#00ffe8 350deg,#00f3b4 355deg,#00f0a5 355.7deg,#00b91e 360deg)"></i><i style="left:129px;top:129px;width:132px;height:132px;background:conic-gradient(from -35.6deg,#00b91e 0deg,#78d700 1.8deg,#ff0 4deg,#ffca00 46.2deg,#ffd600 65deg,#ff0 73deg,#78d700 79.3deg,#00b91e 86.9deg,#00f0a5 99.9deg,#00ffe8 102.6deg,#00f8f6 103.5deg,#00f8f6 129.6deg,#00f4ff 130.1deg,#247bff 132.3deg,#00f4ff 134.6deg,#00f8f6 135deg,#00ffe8 135deg,#00f0a5 135.1deg,#00b91e 135.3deg,#78d700 136.2deg,#ff0 137.2deg,#ffb400 139deg,#fa6400 140.8deg,#e63100 141.7deg,#e63100 145.7deg,#fa6400 149.7deg,#fc8c00 153.7deg,#fc8c00 185.6deg,#fc8c00 193.6deg,#fc8c00 201.6deg,#fc8c00 209.6deg,#fc8c00 217.6deg,#fc8c00 227.6deg,#fa6400 240.5deg,#f75c00 242.5deg,#e73300 246.7deg,#f75c00 250.9deg,#fa6400 252.2deg,#ffb400 268.7deg,#ff0 285.1deg,#78d700 298.1deg,#00b91e 309.1deg,#00f0a5 315.3deg,#00f9cd 317.6deg,#00ffe8 326.4deg,#00fcef 330.3deg,#00f4ff 331.9deg,#286eff 337.3deg,#2f61f7 339.4deg,#286eff 341.4deg,#00f4ff 346.8deg,#00fced 348.6deg,#00ffe8 349.6deg,#00f3b4 354.8deg,#00f0a5 355.5deg,#00b91e 360deg)"></i><i style="left:132px;top:132px;width:126px;height:126px;background:conic-gradient(from -35.2deg,#00b91e 0deg,#78d700 1.8deg,#ff0 4deg,#ffca00 45.1deg,#ffd600 63.9deg,#ff0 71.9deg,#78d700 78.3deg,#00b91e 86.1deg,#00f0a5 99.2deg,#00ffe8 101.9deg,#00f8f6 102.9deg,#00f8f6 128.1deg,#00f4ff 128.5deg,#247bff 130.9deg,#00f4ff 133.2deg,#00f8f6 133.7deg,#00ffe8 133.7deg,#00f0a5 133.8deg,#00b91e 134deg,#78d700 134.8deg,#ff0 135.9deg,#ffb400 137.7deg,#fa6400 139.5deg,#e63100 140.4deg,#e63100 144.4deg,#fa6400 148.4deg,#fc8c00 152.4deg,#fc8c00 185.2deg,#fc8c00 193.2deg,#fc8c00 201.2deg,#fc8c00 209.2deg,#fc8c00 217.2deg,#fc8c00 227.2deg,#fa6400 239.6deg,#f75c00 241.4deg,#e73300 245.5deg,#f75c00 249.6deg,#fa6400 250.8deg,#ffb400 267.1deg,#ff0 283.4deg,#78d700 296.6deg,#00b91e 307.8deg,#00f0a5 314.1deg,#00f9cd 316.4deg,#00ffe8 325.4deg,#00fcef 329.3deg,#00f4ff 330.9deg,#286eff 336.2deg,#315ff5 338.6deg,#286eff 341deg,#00f4ff 346.4deg,#00fced 348.2deg,#00ffe8 349.2deg,#00f3b4 354.6deg,#00f0a5 355.3deg,#00b91e 360deg)"></i><i style="left:135px;top:135px;width:120px;height:120px;background:conic-gradient(from -34.8deg,#00b91e 0deg,#78d700 1.8deg,#ff0 4deg,#ffca00 44deg,#ffd600 62.8deg,#ff0 70.8deg,#78d700 77.4deg,#00b91e 85.4deg,#00f0a5 98.5deg,#00ffe8 101.2deg,#00f8f6 102.2deg,#00f8f6 126.8deg,#00f4ff 127.2deg,#247bff 129.7deg,#00f4ff 132.2deg,#00f8f6 132.6deg,#00ffe8 132.7deg,#00f0a5 132.8deg,#00b91e 132.9deg,#78d700 133.8deg,#ff0 134.8deg,#ffb400 136.6deg,#fa6400 138.4deg,#e63100 139.3deg,#e63100 143.3deg,#fa6400 147.3deg,#fc8c00 151.3deg,#fc8c00 184.8deg,#fc8c00 192.8deg,#fc8c00 200.8deg,#fc8c00 208.8deg,#fc8c00 216.8deg,#fc8c00 226.8deg,#fd9000 240.3deg,#fb7000 244.3deg,#fd9000 248.2deg,#ffb400 258.5deg,#ff0 281.4deg,#78d700 294.9deg,#00b91e 306.5deg,#00f0a5 312.9deg,#00f9cd 315.3deg,#00ffe8 324.3deg,#00fcef 328.4deg,#00f4ff 329.9deg,#286eff 335.1deg,#325df4 337.8deg,#286eff 340.5deg,#00f4ff 346deg,#00fced 347.8deg,#00ffe8 348.8deg,#00f3b4 354.4deg,#00f0a5 355.1deg,#00b91e 360deg)"></i><i style="left:138px;top:138px;width:114px;height:114px;background:conic-gradient(from -34.5deg,#00b91e 0deg,#78d700 1.8deg,#ff0 4deg,#ffca00 42.8deg,#ffd600 61.6deg,#ff0 69.6deg,#78d700 76.4deg,#00b91e 84.8deg,#00f0a5 97.9deg,#00ffe8 100.6deg,#00f8f6 101.6deg,#00f8f6 125.5deg,#00f4ff 126deg,#247bff 128.6deg,#00f4ff 131.2deg,#00f8f6 131.7deg,#00ffe8 131.7deg,#00f0a5 131.8deg,#00b91e 132deg,#78d700 132.8deg,#ff0 133.9deg,#ffb400 135.7deg,#fa6400 137.5deg,#e63100 138.4deg,#e63100 142.4deg,#fa6400 146.4deg,#fc8c00 150.4deg,#fc8c00 184.5deg,#fc8c00 192.5deg,#fc8c00 200.5deg,#fc8c00 208.5deg,#fc8c00 216.5deg,#fc8c00 226.5deg,#fd9000 239.1deg,#fb7000 243deg,#fd9000 247deg,#ffb400 257deg,#ff0 279.3deg,#78d700 293.3deg,#00b91e 305.3deg,#00f0a5 311.8deg,#00f9cd 314.2deg,#00ffe8 323.4deg,#00fcef 327.5deg,#00f4ff 329.1deg,#286eff 334.3deg,#325df4 337deg,#286eff 339.8deg,#00f4ff 345.5deg,#00fced 347.3deg,#00ffe8 348.4deg,#00f3b4 354.2deg,#00f0a5 355deg,#00b91e 360deg)"></i><i style="left:141px;top:141px;width:108px;height:108px;background:conic-gradient(from -34.1deg,#00b91e 0deg,#78d700 1.8deg,#ff0 4deg,#ffca00 41.7deg,#ffd600 60.5deg,#ff0 68.5deg,#78d700 75.5deg,#00b91e 84.1deg,#00f0a5 97.2deg,#00ffe8 99.9deg,#00f8f6 100.9deg,#00f8f6 124.2deg,#00f4ff 124.7deg,#247bff 127.4deg,#00f4ff 130.2deg,#00f8f6 130.7deg,#00ffe8 130.7deg,#00f0a5 130.8deg,#00b91e 131deg,#78d700 131.9deg,#ff0 132.9deg,#ffb400 134.7deg,#fa6400 136.5deg,#e63100 137.4deg,#e63100 141.4deg,#fa6400 145.4deg,#fc8c00 149.4deg,#fc8c00 184.1deg,#fc8c00 192.1deg,#fc8c00 200.1deg,#fc8c00 208.1deg,#fc8c00 216.1deg,#fc8c00 226.1deg,#fd9000 237.9deg,#fb7000 241.8deg,#fd9000 245.7deg,#ffb400 255.5deg,#ff0 277.2deg,#78d700 291.8deg,#00b91e 304.2deg,#00f0a5 310.7deg,#00f9cd 313.2deg,#00ffe8 322.5deg,#00fcef 326.6deg,#00f4ff 328.2deg,#286eff 333.4deg,#325df4 336.2deg,#286eff 339.2deg,#00f4ff 345deg,#00fced 346.9deg,#00ffe8 348deg,#00f3b4 354deg,#00f0a5 354.8deg,#00b91e 360deg)"></i><i style="left:144px;top:144px;width:102px;height:102px;background:conic-gradient(from -33.7deg,#00b91e 0deg,#78d700 1.8deg,#ff0 4deg,#ffca00 40.6deg,#ffd600 59.5deg,#ff0 67.5deg,#78d700 74.7deg,#00b91e 83.4deg,#00f0a5 96.6deg,#00ffe8 99.3deg,#00f8f6 100.3deg,#00f8f6 122.8deg,#00f4ff 123.3deg,#247bff 126.3deg,#00f4ff 129.2deg,#00f8f6 129.7deg,#00ffe8 129.8deg,#00f0a5 129.9deg,#00b91e 130deg,#78d700 130.9deg,#ff0 131.9deg,#ffb400 133.7deg,#fa6400 135.5deg,#e63100 136.4deg,#e63100 140.4deg,#fa6400 144.4deg,#fc8c00 148.4deg,#fc8c00 183.7deg,#fc8c00 191.7deg,#fc8c00 199.7deg,#fc8c00 207.7deg,#fc8c00 215.7deg,#fc8c00 225.7deg,#fd9000 236.7deg,#fb7000 240.6deg,#fd9000 244.4deg,#ffb400 253.9deg,#ff0 275.2deg,#78d700 290.2deg,#00b91e 303.1deg,#00f0a5 309.7deg,#00f9cd 312.1deg,#00ffe8 321.5deg,#00fcef 325.7deg,#00f4ff 327.3deg,#286eff 332.6deg,#325df3 335.4deg,#286eff 338.5deg,#00f4ff 344.5deg,#00fced 346.5deg,#00ffe8 347.6deg,#00f3b4 353.8deg,#00f0a5 354.6deg,#00b91e 360deg)"></i><i style="left:147px;top:147px;width:96px;height:96px;background:conic-gradient(from -33.4deg,#00b91e 0deg,#78d700 1.8deg,#ff0 4deg,#ffca00 39.7deg,#ffd600 58.7deg,#ff0 66.7deg,#78d700 74deg,#00b91e 82.8deg,#00f0a5 95.9deg,#00ffe8 98.6deg,#00f8f6 99.6deg,#00f8f6 121.4deg,#00f4ff 122deg,#247bff 125.1deg,#00f4ff 128.2deg,#00f8f6 128.8deg,#00ffe8 128.8deg,#00f0a5 128.9deg,#00b91e 129.1deg,#78d700 129.9deg,#ff0 131deg,#ffb400 132.8deg,#fa6400 134.6deg,#e63100 135.5deg,#e63100 139.5deg,#fa6400 143.5deg,#fc8c00 147.5deg,#fc8c00 183.4deg,#fc8c00 191.4deg,#fc8c00 199.4deg,#fc8c00 207.4deg,#fc8c00 215.4deg,#fc8c00 225.4deg,#fd9000 235.4deg,#fb7000 239.2deg,#fd9000 243deg,#ffb400 252.3deg,#ff0 273.1deg,#78d700 288.6deg,#00b91e 302deg,#00f0a5 308.6deg,#00f9cd 311.1deg,#00ffe8 320.6deg,#00fcef 324.8deg,#00f4ff 326.4deg,#286eff 331.7deg,#325cf3 334.6deg,#286eff 337.9deg,#00f4ff 344deg,#00fced 346deg,#00ffe8 347.2deg,#00f3b4 353.6deg,#00f0a5 354.4deg,#00b91e 360deg)"></i><i style="left:150px;top:150px;width:90px;height:90px;background:conic-gradient(from -33deg,#00b91e 0deg,#78d700 1.8deg,#ff0 4deg,#ffca00 38.7deg,#ffd600 58deg,#ff0 66deg,#78d700 73.2deg,#00b91e 82.1deg,#00f0a5 95.3deg,#00ffe8 98deg,#00f8f6 99deg,#00f8f6 119.9deg,#00f4ff 120.5deg,#247bff 123.8deg,#00f4ff 127.2deg,#00f8f6 127.8deg,#00ffe8 127.8deg,#00f0a5 127.9deg,#00b91e 128.1deg,#78d700 129deg,#ff0 130deg,#ffb400 131.8deg,#fa6400 133.6deg,#e63100 134.5deg,#e63100 138.5deg,#fa6400 142.5deg,#fc8c00 146.5deg,#fc8c00 183deg,#fc8c00 191deg,#fc8c00 199deg,#fc8c00 207deg,#fc8c00 215deg,#fc8c00 225deg,#fd9000 234.1deg,#fb7000 237.8deg,#fd9000 241.6deg,#ffb400 250.7deg,#ff0 271deg,#78d700 287.1deg,#00b91e 300.9deg,#00f0a5 307.6deg,#00f9cd 310.1deg,#00ffe8 319.6deg,#00fcef 323.8deg,#00f4ff 325.4deg,#286eff 330.8deg,#335cf3 333.7deg,#286eff 337.1deg,#00f4ff 343.4deg,#00fced 345.5deg,#00ffe8 346.7deg,#00f3b4 353.4deg,#00f0a5 354.2deg,#00b91e 360deg)"></i><i style="left:153px;top:153px;width:84px;height:84px;background:conic-gradient(from -32.6deg,#00b91e 0deg,#78d700 1.8deg,#ff0 4deg,#ffca00 37.7deg,#ffd600 57.2deg,#ff0 65.2deg,#78d700 72.5deg,#00b91e 81.5deg,#00f0a5 94.6deg,#00ffe8 97.3deg,#00f8f6 98.3deg,#00f8f6 118.8deg,#00f4ff 119.4deg,#247bff 122.8deg,#00f4ff 126.2deg,#00f8f6 126.8deg,#00ffe8 126.8deg,#00f0a5 126.9deg,#00b91e 127.1deg,#78d700 128deg,#ff0 129deg,#ffb400 130.8deg,#fa6400 132.6deg,#e63100 133.5deg,#e63100 137.5deg,#fa6400 141.5deg,#fc8c00 145.5deg,#fc8c00 182.6deg,#fc8c00 190.6deg,#fc8c00 198.6deg,#fc8c00 206.6deg,#fc8c00 214.6deg,#fc8c00 224.6deg,#fd9000 232.8deg,#fb7000 236.5deg,#fd9000 240.1deg,#ffb400 249.1deg,#ff0 268.9deg,#78d700 285.5deg,#00b91e 299.8deg,#00f0a5 306.5deg,#00f9cd 309deg,#00ffe8 318.5deg,#00fcef 322.8deg,#00f4ff 324.4deg,#286eff 329.7deg,#335cf3 332.6deg,#286eff 336.2deg,#00f4ff 342.8deg,#00fced 344.9deg,#00ffe8 346.2deg,#00f3b4 353.2deg,#00f0a5 354deg,#00b91e 360deg)"></i><i style="left:156px;top:156px;width:78px;height:78px;background:conic-gradient(from -32.3deg,#00b91e 0deg,#78d700 1.8deg,#ff0 4deg,#ffca00 36.8deg,#ffd600 56.4deg,#ff0 64.4deg,#78d700 71.8deg,#00b91e 80.8deg,#00f0a5 94deg,#00ffe8 96.7deg,#00f8f6 97.7deg,#00f8f6 117.7deg,#00f4ff 118.3deg,#247bff 121.7deg,#00f4ff 125.1deg,#00f8f6 125.7deg,#00ffe8 125.7deg,#00f0a5 125.9deg,#00b91e 126deg,#78d700 126.9deg,#ff0 127.9deg,#ffb400 129.7deg,#fa6400 131.5deg,#e63100 132.4deg,#e63100 136.4deg,#fa6400 140.4deg,#fc8c00 144.4deg,#fc8c00 182.3deg,#fc8c00 190.3deg,#fc8c00 198.3deg,#fc8c00 206.3deg,#fc8c00 214.3deg,#fc8c00 224.3deg,#fd9000 231.5deg,#fb7000 235.1deg,#fd9000 238.7deg,#ffb400 247.4deg,#ff0 266.8deg,#78d700 284deg,#00b91e 298.6deg,#00f0a5 305.4deg,#00f9cd 307.9deg,#00ffe8 317.4deg,#00fcef 321.7deg,#00f4ff 323.3deg,#286eff 328.6deg,#335bf3 331.6deg,#286eff 335.4deg,#00f4ff 342.1deg,#00fced 344.4deg,#00ffe8 345.6deg,#00f3b4 352.9deg,#00f0a5 353.8deg,#00b91e 360deg)"></i><i style="left:159px;top:159px;width:72px;height:72px;background:conic-gradient(from -31.9deg,#00b91e 0deg,#78d700 1.8deg,#ff0 4deg,#ffca00 35.8deg,#ffd600 55.6deg,#ff0 63.6deg,#78d700 71.1deg,#00b91e 80.2deg,#00f0a5 93.3deg,#00ffe8 96deg,#00f8f6 97deg,#00f8f6 116.6deg,#00f4ff 117.2deg,#247bff 120.6deg,#00f4ff 124deg,#00f8f6 124.6deg,#00ffe8 124.6deg,#00f0a5 124.8deg,#00b91e 124.9deg,#78d700 125.8deg,#ff0 126.8deg,#ffb400 128.6deg,#fa6400 130.4deg,#e63100 131.3deg,#e63100 135.3deg,#fa6400 139.3deg,#fc8c00 143.3deg,#fc8c00 181.9deg,#fc8c00 189.9deg,#fc8c00 197.9deg,#fc8c00 205.9deg,#fc8c00 213.9deg,#fc8c00 223.9deg,#fd9000 230.2deg,#fb7000 233.7deg,#fd9000 237.3deg,#ffb400 245.8deg,#ff0 264.8deg,#78d700 282.4deg,#00b91e 297.5deg,#00f0a5 304.3deg,#00f9cd 306.8deg,#00ffe8 316.4deg,#00fcef 320.6deg,#00f4ff 322.2deg,#286eff 327.5deg,#335bf3 330.5deg,#286eff 334.5deg,#00f4ff 341.5deg,#00fced 343.8deg,#00ffe8 345.1deg,#00f3b4 352.6deg,#00f0a5 353.6deg,#00b91e 360deg)"></i><i style="left:162px;top:162px;width:66px;height:66px;background:conic-gradient(from -31.5deg,#00b91e 0deg,#78d700 1.8deg,#ff0 4deg,#ffca00 34.8deg,#ffd600 54.9deg,#ff0 62.9deg,#78d700 70.4deg,#00b91e 79.5deg,#00f0a5 92.7deg,#00ffe8 95.4deg,#00f8f6 96.4deg,#00f8f6 115.5deg,#00f4ff 116.1deg,#247bff 119.5deg,#00f4ff 122.9deg,#00f8f6 123.5deg,#00ffe8 123.6deg,#00f0a5 123.7deg,#00b91e 123.8deg,#78d700 124.7deg,#ff0 125.7deg,#ffb400 127.5deg,#fa6400 129.3deg,#e63100 130.2deg,#e63100 134.2deg,#fa6400 138.2deg,#fc8c00 142.2deg,#fc8c00 181.5deg,#fc8c00 189.5deg,#fc8c00 197.5deg,#fc8c00 205.5deg,#fc8c00 213.5deg,#fc8c00 223.5deg,#fd9000 228.8deg,#fb7000 232.4deg,#fd9000 235.9deg,#ffb400 244.3deg,#ff0 263.1deg,#78d700 281deg,#00b91e 296.4deg,#00f0a5 303.2deg,#00f9cd 305.7deg,#00ffe8 315.3deg,#00fcef 319.6deg,#00f4ff 321.1deg,#286eff 326.4deg,#335bf2 329.5deg,#286eff 333.6deg,#00f4ff 340.8deg,#00fced 343.2deg,#00ffe8 344.6deg,#00f3b4 352.4deg,#00f0a5 353.3deg,#00b91e 360deg)"></i><i style="left:165px;top:165px;width:60px;height:60px;background:conic-gradient(from -31.2deg,#00b91e 0deg,#78d700 1.8deg,#ff0 4deg,#ffca00 33.9deg,#ffd600 54.1deg,#ff0 62.1deg,#78d700 69.6deg,#00b91e 78.9deg,#00f0a5 92.1deg,#00ffe8 94.9deg,#00f8f6 95.9deg,#00f8f6 114.4deg,#00f4ff 115deg,#247bff 118.4deg,#00f4ff 121.8deg,#00f8f6 122.4deg,#00ffe8 122.5deg,#00f0a5 122.6deg,#00b91e 122.7deg,#78d700 123.6deg,#ff0 124.6deg,#ffb400 126.4deg,#fa6400 128.2deg,#e63100 129.1deg,#e63100 133.1deg,#fa6400 137.1deg,#fc8c00 141.1deg,#fc8c00 181.2deg,#fc8c00 189.2deg,#fc8c00 197.2deg,#fc8c00 205.2deg,#fc8c00 213.2deg,#fc8c00 223.2deg,#fd9000 227.5deg,#fb7000 231deg,#fd9000 234.5deg,#ffb400 243deg,#ff0 261.8deg,#78d700 279.9deg,#00b91e 295.3deg,#00f0a5 302.1deg,#00f9cd 304.6deg,#00ffe8 314.2deg,#00fcef 318.5deg,#00f4ff 320.1deg,#286eff 325.3deg,#335bf2 328.4deg,#286eff 332.8deg,#00f4ff 340.2deg,#00fced 342.6deg,#00ffe8 344.1deg,#00f3b4 352.1deg,#00f0a5 353.1deg,#00b91e 360deg)"></i><i style="left:168px;top:168px;width:54px;height:54px;background:conic-gradient(from -30.8deg,#00b91e 0deg,#78d700 1.8deg,#ff0 4deg,#ffca00 32.9deg,#ffd600 53.3deg,#ff0 61.3deg,#78d700 68.9deg,#00b91e 78.2deg,#00f0a5 91.6deg,#00ffe8 94.3deg,#00f8f6 95.3deg,#00f8f6 113.3deg,#00f4ff 113.9deg,#247bff 117.3deg,#00f4ff 120.7deg,#00f8f6 121.3deg,#00ffe8 121.4deg,#00f0a5 121.5deg,#00b91e 121.6deg,#78d700 122.5deg,#ff0 123.5deg,#ffb400 125.3deg,#fa6400 127.1deg,#e63100 128deg,#e63100 132deg,#fa6400 136deg,#fc8c00 140deg,#fc8c00 180.8deg,#fc8c00 188.8deg,#fc8c00 196.8deg,#fc8c00 204.8deg,#fc8c00 212.8deg,#fc8c00 222.8deg,#fd9000 226.2deg,#fb7000 229.6deg,#fd9000 233.1deg,#ffb400 241.6deg,#ff0 260.6deg,#78d700 278.7deg,#00b91e 294.2deg,#00f0a5 301deg,#00f9cd 303.5deg,#00ffe8 313.1deg,#00fcef 317.4deg,#00f4ff 319deg,#286eff 324.3deg,#345af2 327.4deg,#286eff 331.9deg,#00f4ff 339.5deg,#00fced 342.1deg,#00ffe8 343.5deg,#00f3b4 351.8deg,#00f0a5 352.9deg,#00b91e 360deg)"></i><i style="left:171px;top:171px;width:48px;height:48px;background:conic-gradient(from -30.4deg,#00b91e 0deg,#78d700 1.8deg,#ff0 4deg,#ffca00 31.9deg,#ffd600 52.5deg,#ff0 60.5deg,#78d700 68.2deg,#00b91e 77.6deg,#00f0a5 91deg,#00ffe8 93.8deg,#00f8f6 94.8deg,#00f8f6 112.2deg,#00f4ff 112.8deg,#247bff 116.2deg,#00f4ff 119.6deg,#00f8f6 120.2deg,#00ffe8 120.3deg,#00f0a5 120.4deg,#00b91e 120.5deg,#78d700 121.4deg,#ff0 122.4deg,#ffb400 124.2deg,#fa6400 126deg,#e63100 126.9deg,#e63100 130.9deg,#fa6400 134.9deg,#fc8c00 138.9deg,#fc8c00 180.4deg,#fc8c00 188.4deg,#fc8c00 196.4deg,#fc8c00 204.4deg,#fc8c00 212.4deg,#fc8c00 222.4deg,#fd9000 224.9deg,#fb7000 228.3deg,#fd9000 231.6deg,#ffb400 240.2deg,#ff0 259.3deg,#78d700 277.5deg,#00b91e 293.1deg,#00f0a5 299.9deg,#00f9cd 302.4deg,#00ffe8 312.1deg,#00fcef 316.4deg,#00f4ff 317.9deg,#286eff 323.2deg,#345af2 326.3deg,#286eff 331.1deg,#00f4ff 338.9deg,#00fced 341.5deg,#00ffe8 343deg,#00f3b4 351.6deg,#00f0a5 352.6deg,#00b91e 360deg)"></i><i style="left:174px;top:174px;width:42px;height:42px;background:conic-gradient(from -30.1deg,#00b91e 0deg,#78d700 1.8deg,#ff0 4deg,#ffca00 31deg,#ffd600 51.7deg,#ff0 59.7deg,#78d700 67.5deg,#00b91e 76.9deg,#00f0a5 90.4deg,#00ffe8 93.2deg,#00f8f6 94.2deg,#00f8f6 111.1deg,#00f4ff 111.7deg,#247bff 115.1deg,#00f4ff 118.5deg,#00f8f6 119.1deg,#00ffe8 119.2deg,#00f0a5 119.3deg,#00b91e 119.4deg,#78d700 120.3deg,#ff0 121.3deg,#ffb400 123.1deg,#fa6400 124.9deg,#e63100 125.8deg,#e63100 129.8deg,#fa6400 133.8deg,#fc8c00 137.8deg,#fc8c00 180.1deg,#fc8c00 188.1deg,#fc8c00 196.1deg,#fc8c00 204.1deg,#fc8c00 212.1deg,#fc8c00 222.1deg,#fd9000 223.6deg,#fb7000 226.9deg,#fd9000 230.3deg,#ffb400 238.9deg,#ff0 258.1deg,#78d700 276.3deg,#00b91e 291.9deg,#00f0a5 298.7deg,#00f9cd 301.3deg,#00ffe8 311deg,#00fcef 315.3deg,#00f4ff 316.9deg,#286eff 322.1deg,#345af2 325.3deg,#286eff 330.2deg,#00f4ff 338.2deg,#00fced 340.9deg,#00ffe8 342.5deg,#00f3b4 351.3deg,#00f0a5 352.4deg,#00b91e 360deg)"></i><i style="left:177px;top:177px;width:36px;height:36px;background:conic-gradient(from -29.7deg,#00b91e 0deg,#78d700 1.8deg,#ff0 4deg,#ffca00 30deg,#ffd600 51deg,#ff0 59deg,#78d700 66.8deg,#00b91e 76.3deg,#00f0a5 89.9deg,#00ffe8 92.7deg,#00f8f6 93.7deg,#00f8f6 110.1deg,#00f4ff 110.7deg,#247bff 114.1deg,#00f4ff 117.4deg,#00f8f6 118.1deg,#00ffe8 118.1deg,#00f0a5 118.2deg,#00b91e 118.4deg,#78d700 119.2deg,#ff0 120.3deg,#ffb400 122.1deg,#fa6400 123.9deg,#e63100 124.8deg,#e63100 128.8deg,#fa6400 132.8deg,#fc8c00 136.8deg,#fc8c00 179.7deg,#fc8c00 187.7deg,#fc8c00 195.7deg,#fc8c00 203.7deg,#fc8c00 211.7deg,#fc8c00 221.7deg,#fd9000 222.6deg,#fb7000 225.9deg,#fd9000 229.1deg,#ffb400 237.7deg,#ff0 256.9deg,#78d700 275.2deg,#00b91e 290.9deg,#00f0a5 297.7deg,#00f9cd 300.2deg,#00ffe8 309.9deg,#00fcef 314.3deg,#00f4ff 315.8deg,#286eff 321.1deg,#345af1 324.3deg,#286eff 329.4deg,#00f4ff 337.6deg,#00fced 340.4deg,#00ffe8 342deg,#00f3b4 351.1deg,#00f0a5 352.2deg,#00b91e 360deg)"></i><i style="left:180px;top:180px;width:30px;height:30px;background:conic-gradient(from -29.4deg,#00b91e 0deg,#78d700 1.8deg,#ff0 4deg,#ffca00 29.1deg,#ffd600 50.3deg,#ff0 58.3deg,#78d700 66.1deg,#00b91e 75.7deg,#00f0a5 89.4deg,#00ffe8 92.2deg,#00f8f6 93.2deg,#00f8f6 109deg,#00f4ff 109.6deg,#247bff 113deg,#00f4ff 116.4deg,#00f8f6 117deg,#00ffe8 117.1deg,#00f0a5 117.2deg,#00b91e 117.3deg,#78d700 118.2deg,#ff0 119.2deg,#ffb400 121deg,#fa6400 122.8deg,#e63100 123.7deg,#e63100 127.7deg,#fa6400 131.7deg,#fc8c00 135.7deg,#fc8c00 179.4deg,#fc8c00 187.4deg,#fc8c00 195.4deg,#fc8c00 203.4deg,#fc8c00 211.4deg,#fc8c00 221.4deg,#fd9000 221.7deg,#fb7000 224.8deg,#fd9000 228deg,#ffb400 236.7deg,#ff0 256deg,#78d700 274.2deg,#00b91e 289.8deg,#00f0a5 296.6deg,#00f9cd 299.2deg,#00ffe8 308.9deg,#00fcef 313.3deg,#00f4ff 314.8deg,#286eff 320deg,#3459f1 323.3deg,#286eff 328.6deg,#00f4ff 337deg,#00fced 339.8deg,#00ffe8 341.5deg,#00f3b4 350.8deg,#00f0a5 352deg,#00b91e 360deg)"></i><i style="left:183px;top:183px;width:24px;height:24px;background:conic-gradient(from -29.1deg,#00b91e 0deg,#78d700 1.8deg,#ff0 4deg,#ffca00 28.2deg,#ffd600 49.5deg,#ff0 57.5deg,#78d700 65.4deg,#00b91e 75.1deg,#00f0a5 88.9deg,#00ffe8 91.7deg,#00f8f6 92.7deg,#00f8f6 108deg,#00f4ff 108.6deg,#247bff 112deg,#00f4ff 115.3deg,#00f8f6 116deg,#00ffe8 116deg,#00f0a5 116.1deg,#00b91e 116.3deg,#78d700 117.1deg,#ff0 118.2deg,#ffb400 120deg,#fa6400 121.8deg,#e63100 122.7deg,#e63100 126.7deg,#fa6400 130.7deg,#fc8c00 134.7deg,#fc8c00 179.1deg,#fc8c00 187.1deg,#fc8c00 195.1deg,#fc8c00 203.1deg,#fc8c00 211.1deg,#fc8c00 221.1deg,#fd9000 221.4deg,#fb7000 223.7deg,#fd9000 226.9deg,#ffb400 235.6deg,#ff0 255.1deg,#78d700 273.2deg,#00b91e 288.7deg,#00f0a5 295.6deg,#00f9cd 298.1deg,#00ffe8 307.9deg,#00fcef 312.3deg,#00f4ff 313.8deg,#286eff 319deg,#3459f1 322.4deg,#286eff 327.8deg,#00f4ff 336.4deg,#00fced 339.3deg,#00ffe8 341deg,#00f3b4 350.6deg,#00f0a5 351.8deg,#00b91e 360deg)"></i><i style="left:186px;top:186px;width:18px;height:18px;background:conic-gradient(from -28.8deg,#00b91e 0deg,#78d700 1.8deg,#ff0 4deg,#ffca00 27.3deg,#ffd600 48.8deg,#ff0 56.8deg,#78d700 64.8deg,#00b91e 74.5deg,#00f0a5 88.3deg,#00ffe8 91.2deg,#00f8f6 92.2deg,#00f8f6 106.9deg,#00f4ff 107.5deg,#247bff 110.9deg,#00f4ff 114.3deg,#00f8f6 114.9deg,#00ffe8 115deg,#00f0a5 115.1deg,#00b91e 115.2deg,#78d700 116.1deg,#ff0 117.1deg,#ffb400 118.9deg,#fa6400 120.7deg,#e63100 121.6deg,#e63100 125.6deg,#fa6400 129.6deg,#fc8c00 133.6deg,#fc8c00 178.8deg,#fc8c00 186.8deg,#fc8c00 194.8deg,#fc8c00 202.8deg,#fc8c00 210.8deg,#fc8c00 220.8deg,#fd9000 221.1deg,#fb7000 222.7deg,#fd9000 225.8deg,#ffb400 234.6deg,#ff0 254.2deg,#78d700 272.2deg,#00b91e 287.7deg,#00f0a5 294.6deg,#00f9cd 297.1deg,#00ffe8 306.9deg,#00fcef 311.3deg,#00f4ff 312.8deg,#286eff 318deg,#3559f1 321.4deg,#286eff 327.1deg,#00f4ff 335.8deg,#00fced 338.8deg,#00ffe8 340.5deg,#00f3b4 350.3deg,#00f0a5 351.6deg,#00b91e 360deg)"></i></div><svg width="374" height="374" viewBox="0 0 374 374"><ellipse cx="222.0" cy="284.0" rx="42" ry="12" transform="rotate(-14 222.0 284.0)" fill="#ffac00" fill-opacity="0.9" filter="url(#b4)"/><ellipse cx="215.0" cy="255.0" rx="40" ry="15.5" transform="rotate(-22 215.0 255.0)" fill="#e0f000" filter="url(#b3)"/><ellipse cx="215.0" cy="255.0" rx="35" ry="11.5" transform="rotate(-22 215.0 255.0)" fill="#18c028" filter="url(#b2)"/><ellipse cx="207.0" cy="258.0" rx="10" ry="3.2" transform="rotate(-20 207.0 258.0)" fill="#00e0c0" filter="url(#b2)"/><ellipse cx="180.0" cy="288.0" rx="19" ry="5.5" transform="rotate(-3 180.0 288.0)" fill="#b0e800" filter="url(#b3)"/><path d="M201.0 190.0C204.3 190.8 214.3 192.7 221.0 195.0C227.7 197.3 234.7 200.3 241.0 204.0C247.3 207.7 253.3 211.8 259.0 217.0C264.7 222.2 270.3 228.7 275.0 235.0C279.7 241.3 284.3 248.7 287.0 255.0C289.7 261.3 290.3 270.0 291.0 273.0" fill="none" stroke="#ea3c00" stroke-width="11" stroke-linecap="round" stroke-linejoin="round" stroke-opacity="0.85" filter="url(#b3)"/><path d="M170.0 248.0C171.5 247.8 174.5 248.2 179.0 247.0C183.5 245.8 190.7 243.4 197.0 241.0C203.3 238.6 212.0 235.1 217.0 232.8C222.0 230.5 224.2 229.0 227.0 227.0C229.8 225.0 232.6 222.0 233.7 221.0" fill="none" stroke="#e42818" stroke-width="11" stroke-linecap="round" stroke-linejoin="round" stroke-opacity="0.9" filter="url(#b3)"/><path d="M170.0 248.0C171.5 247.8 174.5 248.2 179.0 247.0C183.5 245.8 190.7 243.4 197.0 241.0C203.3 238.6 212.0 235.1 217.0 232.8C222.0 230.5 224.2 229.0 227.0 227.0C229.8 225.0 232.6 222.0 233.7 221.0" fill="none" stroke="#c8002c" stroke-width="5" stroke-linecap="round" stroke-linejoin="round" filter="url(#b2)"/><ellipse cx="177.0" cy="248.5" rx="6" ry="3.4" transform="rotate(-5 177.0 248.5)" fill="#f050a0" filter="url(#b1)"/><path d="M291.0 259.0C293.0 261.0 294.3 270.0 294.0 275.0C293.7 280.0 291.8 284.8 289.0 289.0C286.2 293.2 281.7 297.0 277.0 300.0C272.3 303.0 266.0 305.5 261.0 307.0C256.0 308.5 247.7 310.3 247.0 309.0C246.3 307.7 253.7 302.7 257.0 299.0C260.3 295.3 264.0 291.0 267.0 287.0C270.0 283.0 272.5 279.0 275.0 275.0C277.5 271.0 279.3 265.7 282.0 263.0C284.7 260.3 289.0 257.0 291.0 259.0Z" fill="#c4002c" filter="url(#b2)"/><path d="M288.0 269.0C288.8 270.5 289.8 276.3 289.0 280.0C288.2 283.7 286.0 287.8 283.0 291.0C280.0 294.2 274.3 297.3 271.0 299.0C267.7 300.7 262.7 302.3 263.0 301.0C263.3 299.7 270.3 294.5 273.0 291.0C275.7 287.5 277.2 283.3 279.0 280.0C280.8 276.7 282.5 272.8 284.0 271.0C285.5 269.2 287.2 267.5 288.0 269.0Z" fill="#f05090" filter="url(#b2)"/><path d="M197.0 209.0C196.8 213.5 198.2 218.8 201.0 221.0C203.8 223.2 210.0 223.7 214.0 222.0C218.0 220.3 222.2 215.5 225.0 211.0C227.8 206.5 230.0 199.8 231.0 195.0C232.0 190.2 232.8 185.1 231.0 182.0C229.2 178.9 223.8 176.7 220.0 176.5C216.2 176.3 211.0 178.1 208.0 181.0C205.0 183.9 203.8 189.3 202.0 194.0C200.2 198.7 197.2 204.5 197.0 209.0Z" fill="#d00028" filter="url(#b1)"/><path d="M198.5 209.0C198.3 213.3 199.9 218.1 202.5 220.0C205.1 221.9 210.4 222.2 214.0 220.5C217.6 218.8 221.4 214.2 224.0 210.0C226.6 205.8 228.6 199.6 229.5 195.0C230.4 190.4 231.1 185.3 229.5 182.5C227.9 179.7 223.3 178.1 220.0 178.0C216.7 177.9 212.2 179.3 209.5 182.0C206.8 184.7 205.3 189.5 203.5 194.0C201.7 198.5 198.7 204.7 198.5 209.0Z" fill="#ff90e0" filter="url(#b1)"/><path d="M200.0 209.2C199.7 213.2 201.5 216.9 203.7 218.5C205.9 220.1 209.9 220.1 213.0 218.5C216.1 216.9 219.8 213.2 222.2 209.2C224.6 205.2 226.8 198.7 227.7 194.4C228.6 190.1 228.9 185.8 227.7 183.3C226.5 180.8 223.1 179.6 220.3 179.6C217.5 179.6 213.5 180.8 211.0 183.3C208.5 185.8 207.3 190.1 205.5 194.4C203.7 198.7 200.3 205.2 200.0 209.2Z" fill="#fff" filter="url(#b1)"/><path d="M204.0 208.0C203.6 211.3 205.2 213.8 206.5 215.0C207.8 216.2 209.9 216.2 212.0 215.0C214.1 213.8 217.0 211.0 219.0 207.5C221.0 204.0 223.2 197.6 224.0 194.0C224.8 190.4 224.7 187.8 224.0 186.0C223.3 184.2 221.8 183.0 220.0 183.0C218.2 183.0 215.3 184.0 213.5 186.0C211.7 188.0 210.6 191.3 209.0 195.0C207.4 198.7 204.4 204.7 204.0 208.0Z" fill="#a8a8a8" filter="url(#b2)"/><circle cx="187" cy="187" r="109" fill="none" stroke="#181830" stroke-opacity="0.6" stroke-width="0.9"/><circle cx="257" cy="106" r="4.5" fill="#f27474" stroke="#1a1420" stroke-width="1.8"/><circle cx="295.8" cy="186.7" r="4.5" fill="#78f078" stroke="#14202a" stroke-width="1.8"/><circle cx="187" cy="187" r="8.2" fill="#fff010" stroke="#000" stroke-width="4"/></svg></div>
<div class="d" style="left:1295px;top:626px;width:374px;height:374px;background:#7d0"><div class="rg" style="left:-8px;top:-8px;width:390px;height:390px"><i style="left:0px;top:0px;width:390px;height:390px;background:conic-gradient(from -6.6deg,#00b91e 0deg,#78d700 5.1deg,#ff0 11.4deg,#ffca00 31.2deg,#ffd600 56.1deg,#ff0 64.1deg,#78d700 72.6deg,#00b91e 83deg,#00f0a5 100.6deg,#00f1ab 101.6deg,#00f0a5 103.4deg,#00de7a 114deg,#00d158 139deg,#00b91e 141.8deg,#3cc80f 144.6deg,#00b91e 148.8deg,#00f0a5 158.6deg,#00ffe8 172.6deg,#00fced 174.6deg,#00ffe8 228.7deg,#00f0a5 233.5deg,#00d86b 236.7deg,#00b91e 240.7deg,#3cc80f 243.7deg,#78d700 244.9deg,#ff0 247.7deg,#ffb400 250.9deg,#fea000 251.7deg,#fa6800 258.1deg,#fa6400 259.1deg,#ec4000 266.2deg,#fa6400 273.3deg,#fa6800 274.3deg,#ffb400 276.7deg,#ff0 279.2deg,#78d700 292.2deg,#00b91e 303.4deg,#00f0a5 312.9deg,#00f9cd 316.4deg,#00ffe8 329.9deg,#00fcef 335.9deg,#00f9f5 349.8deg,#00fced 354.4deg,#00ffe8 354.9deg,#00f3b4 357.5deg,#00f0a5 357.8deg,#00b91e 360deg)"></i><i style="left:3px;top:3px;width:384px;height:384px;background:conic-gradient(from -7.7deg,#00b91e 0deg,#78d700 5.1deg,#ff0 11.2deg,#ffca00 31.6deg,#ffd600 56.3deg,#ff0 64.3deg,#78d700 72.7deg,#00b91e 83deg,#00f0a5 100deg,#00f2af 101.6deg,#00f0a5 105.2deg,#00e385 114deg,#00d158 139deg,#00b91e 142.3deg,#3cc80f 145.7deg,#00b91e 149.9deg,#00f0a5 159.7deg,#00ffe8 173.8deg,#00fced 175.7deg,#00ffe8 228.2deg,#00f0a5 233deg,#00d86b 236.2deg,#00b91e 240.2deg,#3cc80f 243.2deg,#78d700 244.4deg,#ff0 247.2deg,#ffb400 250.4deg,#fea000 251.2deg,#fa6800 258.5deg,#fa6400 259.5deg,#ec4000 266.6deg,#fa6400 273.6deg,#fa6800 274.6deg,#ffb400 277deg,#ff0 279.6deg,#78d700 292.8deg,#00b91e 304.1deg,#00f0a5 313.4deg,#00f9cd 316.8deg,#00ffe8 330deg,#00fcef 335.8deg,#00f8f6 349.4deg,#00fced 354.2deg,#00ffe8 354.7deg,#00f3b4 357.4deg,#00f0a5 357.7deg,#00b91e 360deg)"></i><i style="left:6px;top:6px;width:378px;height:378px;background:conic-gradient(from -8.8deg,#00b91e 0deg,#78d700 5deg,#ff0 11deg,#ffca00 31.9deg,#ffd600 56.5deg,#ff0 64.5deg,#78d700 72.8deg,#00b91e 83deg,#00f0a5 99.4deg,#00f3b4 101.6deg,#00f0a5 107.4deg,#00e790 114deg,#00d158 139deg,#00b91e 142.9deg,#3cc80f 146.8deg,#00b91e 151deg,#00f0a5 160.8deg,#00ffe8 174.9deg,#00fced 176.8deg,#00ffe8 227.7deg,#00f0a5 232.5deg,#00d86b 235.7deg,#00b91e 239.7deg,#3cc80f 242.7deg,#78d700 243.9deg,#ff0 246.7deg,#ffb400 249.9deg,#fea000 250.7deg,#fa6800 258.9deg,#fa6400 259.9deg,#ec4000 266.9deg,#fa6400 273.9deg,#fa6800 274.9deg,#ffb400 277.4deg,#ff0 279.9deg,#78d700 293.4deg,#00b91e 304.9deg,#00f0a5 313.9deg,#00f9cd 317.2deg,#00ffe8 330.1deg,#00fcef 335.8deg,#00f8f6 349.1deg,#00fced 354deg,#00ffe8 354.5deg,#00f3b4 357.3deg,#00f0a5 357.6deg,#00b91e 360deg)"></i><i style="left:9px;top:9px;width:372px;height:372px;background:conic-gradient(from -9.9deg,#00b91e 0deg,#78d700 4.9deg,#ff0 10.8deg,#ffca00 32.3deg,#ffd600 56.6deg,#ff0 64.6deg,#78d700 72.9deg,#00b91e 82.9deg,#00f0a5 98.6deg,#00f4b8 101.4deg,#00f0a5 110.1deg,#00ec9b 113.7deg,#00d158 138.7deg,#00b91e 143.3deg,#3cc80f 147.9deg,#00b91e 152.1deg,#00f0a5 161.9deg,#00ffe8 176deg,#00fced 177.9deg,#00ffe8 227.1deg,#00f0a5 231.9deg,#00d86b 235.1deg,#00b91e 239.1deg,#3cc80f 242.1deg,#78d700 243.3deg,#ff0 246.1deg,#ffb400 249.3deg,#fea000 250.1deg,#fa6800 259.4deg,#fa6400 260.4deg,#ec4000 267.3deg,#fa6400 274.3deg,#fa6800 275.3deg,#ffb400 277.7deg,#ff0 280.2deg,#78d700 293.6deg,#00b91e 305deg,#00f0a5 313.9deg,#00f9cd 317.2deg,#00ffe8 329.8deg,#00fcef 335.4deg,#00f8f6 348.4deg,#00fced 353.6deg,#00ffe8 354.2deg,#00f3b4 357.1deg,#00f0a5 357.5deg,#00b91e 360deg)"></i><i style="left:12px;top:12px;width:366px;height:366px;background:conic-gradient(from -10.9deg,#00b91e 0deg,#78d700 4.8deg,#ff0 10.6deg,#ffca00 32.7deg,#ffd600 56.8deg,#ff0 64.8deg,#78d700 72.9deg,#00b91e 82.8deg,#00f0a5 97.9deg,#00f5bc 101.2deg,#00f0a6 113.4deg,#00f0a5 113.7deg,#00d158 138.4deg,#00b91e 143.7deg,#3cc80f 148.9deg,#00b91e 153.1deg,#00f0a5 162.9deg,#00ffe8 177deg,#00fced 178.9deg,#00ffe8 226deg,#00f0a5 230.7deg,#00d86b 234deg,#00b91e 238deg,#3cc80f 241deg,#78d700 242.2deg,#ff0 245deg,#ffb400 248.2deg,#fea000 249deg,#fa6800 259.8deg,#fa6400 260.8deg,#ec4000 267.7deg,#fa6400 274.6deg,#fa6800 275.6deg,#ffb400 278deg,#ff0 280.6deg,#78d700 293.8deg,#00b91e 305.1deg,#00f0a5 313.8deg,#00f9cd 317deg,#00ffe8 329.5deg,#00fcef 335deg,#00f8f7 347.8deg,#00fced 353.3deg,#00ffe8 353.8deg,#00f3b4 356.9deg,#00f0a5 357.3deg,#00b91e 360deg)"></i><i style="left:15px;top:15px;width:360px;height:360px;background:conic-gradient(from -12deg,#00b91e 0deg,#78d700 4.7deg,#ff0 10.5deg,#ffca00 33.1deg,#ffd600 56.8deg,#ff0 64.8deg,#78d700 72.9deg,#00b91e 82.7deg,#00f0a5 97.2deg,#00f6c0 100.9deg,#00f2ae 113.1deg,#00f0a5 116.4deg,#00d158 138.1deg,#00b91e 144deg,#3cc80f 150deg,#00b91e 154.2deg,#00f0a5 164deg,#00ffe8 178.1deg,#00fced 180deg,#00ffe8 224.7deg,#00f0a5 229.4deg,#00d86b 232.7deg,#00b91e 236.7deg,#3cc80f 239.7deg,#78d700 240.9deg,#ff0 243.7deg,#ffb400 246.9deg,#fea000 247.7deg,#fa6800 260.2deg,#fa6400 261.2deg,#ec4000 268.1deg,#fa6400 275deg,#fa6800 276deg,#ffb400 278.3deg,#ff0 280.9deg,#78d700 293.8deg,#00b91e 305deg,#00f0a5 313.5deg,#00f9cd 316.7deg,#00ffe8 328.9deg,#00fcef 334.3deg,#00f8f7 346.8deg,#00fced 352.8deg,#00ffe8 353.4deg,#00f3b4 356.7deg,#00f0a5 357.1deg,#00b91e 360deg)"></i><i style="left:18px;top:18px;width:354px;height:354px;background:conic-gradient(from -13.1deg,#00b91e 0deg,#78d700 4.6deg,#ff0 10.3deg,#ffca00 33.6deg,#ffd600 56.9deg,#ff0 64.9deg,#78d700 72.9deg,#00b91e 82.7deg,#00f0a5 96.6deg,#00f7c5 100.8deg,#00f4b7 112.8deg,#00f0a5 116.2deg,#00b91e 136.1deg,#78d700 137.5deg,#d8f400 138.6deg,#ff0 139.6deg,#ffc600 142.6deg,#fff600 147.6deg,#ffc700 154.6deg,#ffb400 158.6deg,#fd9600 164.6deg,#ffb400 165.6deg,#ff0 168deg,#d8f400 168.6deg,#78d700 171.1deg,#3cc80f 172.6deg,#00b91e 175.6deg,#00d86b 179.6deg,#00f0a5 182.8deg,#00ffe8 187.6deg,#00ffe8 223.4deg,#00f0a5 228.2deg,#00d86b 231.4deg,#00b91e 235.4deg,#3cc80f 238.4deg,#78d700 239.6deg,#ff0 242.4deg,#ffb400 245.6deg,#fea000 246.4deg,#fa6800 260.7deg,#fa6400 261.7deg,#ec4000 268.5deg,#fa6400 275.4deg,#fa6800 276.4deg,#ffb400 278.7deg,#ff0 281.2deg,#78d700 293.9deg,#00b91e 304.9deg,#00f0a5 313.2deg,#00f9cd 316.3deg,#00ffe8 328.2deg,#00fcef 333.4deg,#00f8f8 345.7deg,#00fced 352.1deg,#00ffe8 352.8deg,#00f3b4 356.4deg,#00f0a5 356.9deg,#00b91e 360deg)"></i><i style="left:21px;top:21px;width:348px;height:348px;background:conic-gradient(from -14.3deg,#00b91e 0deg,#78d700 4.5deg,#ff0 10.1deg,#ffca00 34.1deg,#ffd600 57.1deg,#ff0 65.1deg,#78d700 73deg,#00b91e 82.6deg,#00f0a5 96deg,#00f8c9 100.5deg,#00f6c0 112.5deg,#00f0a5 115.9deg,#00b91e 129.6deg,#78d700 131deg,#d8f400 132.1deg,#ff0 133.1deg,#ffc500 136.1deg,#fff600 141.1deg,#ffc700 148.1deg,#ffb400 152.1deg,#fd9600 158.1deg,#ffb400 173.8deg,#ff0 176.2deg,#d8f400 176.8deg,#78d700 179.3deg,#3cc80f 180.8deg,#00b91e 183.8deg,#00d86b 187.8deg,#00f0a5 191deg,#00ffe8 195.8deg,#00ffe8 222.2deg,#00f0a5 227deg,#00d86b 230.2deg,#00b91e 234.2deg,#3cc80f 237.2deg,#78d700 238.4deg,#ff0 241.2deg,#ffb400 244.4deg,#fea000 245.2deg,#fa6800 261.3deg,#fa6400 262.2deg,#ec4000 269deg,#fa6400 275.9deg,#fa6800 276.8deg,#ffb400 279.2deg,#ff0 281.6deg,#78d700 294.1deg,#00b91e 304.8deg,#00f0a5 312.9deg,#00f9cd 315.9deg,#00ffe8 327.5deg,#00fcef 332.6deg,#00f7f8 344.6deg,#00fced 351.5deg,#00ffe8 352.2deg,#00f3b4 356.1deg,#00f0a5 356.6deg,#00b91e 360deg)"></i><i style="left:24px;top:24px;width:342px;height:342px;background:conic-gradient(from -15.4deg,#00b91e 0deg,#78d700 4.4deg,#ff0 9.9deg,#ffca00 34.6deg,#ffd600 57.3deg,#ff0 65.3deg,#78d700 73.1deg,#00b91e 82.6deg,#00f0a5 95.4deg,#00f9cd 100.3deg,#00f8c8 112.1deg,#00f0a5 115.5deg,#00b91e 125.8deg,#78d700 127.1deg,#d8f400 128.3deg,#ff0 129.2deg,#ffc400 132.3deg,#fff600 137.3deg,#ffc700 144.3deg,#ffb400 148.3deg,#fd9600 154.3deg,#ffb400 187.9deg,#ff0 190.3deg,#d8f400 190.9deg,#78d700 193.4deg,#3cc80f 194.9deg,#00b91e 197.9deg,#00d86b 201.9deg,#00f0a5 205.2deg,#00ffe8 209.9deg,#00ffe8 220.9deg,#00f0a5 225.7deg,#00d86b 228.9deg,#00b91e 232.9deg,#3cc80f 235.9deg,#78d700 237.1deg,#ff0 239.9deg,#ffb400 243.1deg,#fea000 243.9deg,#fa6800 261.8deg,#fa6400 262.8deg,#ec4000 269.6deg,#fa6400 276.3deg,#fa6800 277.3deg,#ffb400 279.6deg,#ff0 282deg,#78d700 294.2deg,#00b91e 304.8deg,#00f0a5 312.7deg,#00f9cd 315.6deg,#00ffe8 326.9deg,#00fcef 331.9deg,#00f7f8 343.6deg,#00fced 351deg,#00ffe8 351.7deg,#00f3b4 355.9deg,#00f0a5 356.4deg,#00b91e 360deg)"></i><i style="left:27px;top:27px;width:336px;height:336px;background:conic-gradient(from -16.6deg,#00b91e 0deg,#78d700 4.4deg,#ff0 9.7deg,#ffca00 35.1deg,#ffd600 57.5deg,#ff0 65.5deg,#78d700 73.1deg,#00b91e 82.5deg,#00f0a5 94.8deg,#00fad2 100deg,#00fad1 111.7deg,#00f0a5 115.4deg,#00b91e 124.4deg,#78d700 125.7deg,#d8f400 126.9deg,#ff0 127.8deg,#ffc200 130.9deg,#fff600 135.9deg,#ffc700 142.9deg,#ffb400 146.9deg,#fd9600 152.9deg,#ffb400 200.1deg,#ff0 202.5deg,#d8f400 203.1deg,#78d700 205.6deg,#3cc80f 207.1deg,#00b91e 212.1deg,#00e07e 220.4deg,#00b91e 228.8deg,#3cc80f 233.8deg,#78d700 235deg,#ff0 237.8deg,#ffb400 241deg,#fea000 241.8deg,#fa6800 262.4deg,#fa6400 263.3deg,#ec4000 270.1deg,#fa6400 276.8deg,#fa6800 277.8deg,#ffb400 279.9deg,#ff0 282.2deg,#78d700 294.3deg,#00b91e 304.7deg,#00f0a5 312.5deg,#00f9cd 315.4deg,#00ffe8 326.6deg,#00fcef 331.5deg,#00f7f9 343deg,#00fced 350.6deg,#00ffe8 351.4deg,#00f3b4 355.7deg,#00f0a5 356.3deg,#00b91e 360deg)"></i><i style="left:30px;top:30px;width:330px;height:330px;background:conic-gradient(from -17.8deg,#00b91e 0deg,#78d700 4.3deg,#ff0 9.5deg,#ffca00 35.6deg,#ffd600 57.6deg,#ff0 65.6deg,#78d700 73.2deg,#00b91e 82.4deg,#00f0a5 94.3deg,#00fbd6 99.8deg,#00fcd9 111.4deg,#00f0a5 115.3deg,#00b91e 123.4deg,#78d700 124.8deg,#d8f400 125.9deg,#ff0 126.8deg,#ffc100 129.9deg,#fff600 134.9deg,#ffc700 141.9deg,#ffb400 145.9deg,#fd9600 151.9deg,#ffb400 213.7deg,#ff0 216.1deg,#d8f400 216.7deg,#78d700 219.2deg,#3cc80f 220.7deg,#00b91e 222.8deg,#00e07e 226.2deg,#00b91e 229.6deg,#3cc80f 231.7deg,#78d700 232.9deg,#ff0 235.7deg,#ffb400 238.9deg,#fea000 239.7deg,#fa6800 262.9deg,#fa6400 263.9deg,#ec4000 270.6deg,#fa6400 277.3deg,#fa6800 278.2deg,#ffb400 280.2deg,#ff0 282.4deg,#78d700 294.4deg,#00b91e 304.8deg,#00f0a5 312.5deg,#00f9cd 315.3deg,#00ffe8 326.2deg,#00fcef 331.1deg,#00f7f9 342.4deg,#00fced 350.3deg,#00ffe8 351.1deg,#00f3b4 355.6deg,#00f0a5 356.1deg,#00b91e 360deg)"></i><i style="left:33px;top:33px;width:324px;height:324px;background:conic-gradient(from -19deg,#00b91e 0deg,#78d700 4.2deg,#ff0 9.3deg,#ffca00 36.2deg,#ffd600 57.9deg,#ff0 65.9deg,#78d700 73.3deg,#00b91e 82.3deg,#00f0a5 93.8deg,#00fcda 99.6deg,#00fee2 111deg,#00f0a5 115.2deg,#00b91e 122.5deg,#78d700 123.9deg,#d8f400 125deg,#ff0 125.9deg,#ffc000 129deg,#fff600 134deg,#ffc700 141deg,#ffb400 145deg,#fd9600 151deg,#fa6800 263.5deg,#fa6400 264.5deg,#ec4000 271.1deg,#fa6400 277.8deg,#fa6800 278.7deg,#ffb400 280.6deg,#ff0 282.6deg,#78d700 294.7deg,#00b91e 305deg,#00f0a5 312.5deg,#00f9cd 315.3deg,#00ffe8 326deg,#00fcef 330.8deg,#00f7f9 341.9deg,#00fced 350deg,#00ffe8 350.8deg,#00f3b4 355.5deg,#00f0a5 356deg,#00b91e 360deg)"></i><i style="left:36px;top:36px;width:318px;height:318px;background:conic-gradient(from -20.3deg,#00b91e 0deg,#78d700 4.1deg,#ff0 9.1deg,#ffca00 36.8deg,#ffd600 58.1deg,#ff0 66.1deg,#78d700 73.4deg,#00b91e 82.3deg,#00f0a5 93.4deg,#00fddf 99.4deg,#00ffe8 108.1deg,#00feea 110.7deg,#00ffe8 110.9deg,#00f0a5 115deg,#00b91e 121.6deg,#78d700 123deg,#d8f400 124.1deg,#ff0 125.1deg,#ffbf00 128.1deg,#fff600 133.1deg,#ffc700 140.1deg,#ffb400 144.1deg,#fd9600 150.1deg,#fa6800 263.8deg,#fa6400 264.8deg,#ec4000 271.4deg,#fa6400 278deg,#fa6800 279deg,#ffb400 280.9deg,#ff0 282.9deg,#78d700 294.9deg,#00b91e 305.2deg,#00f0a5 312.6deg,#00f9cd 315.3deg,#00ffe8 325.8deg,#00fcef 330.5deg,#00f6fa 341.3deg,#00fced 349.7deg,#00ffe8 350.6deg,#00f3b4 355.3deg,#00f0a5 355.9deg,#00b91e 360deg)"></i><i style="left:39px;top:39px;width:312px;height:312px;background:conic-gradient(from -21.5deg,#00b91e 0deg,#78d700 4deg,#ff0 8.9deg,#ffca00 37.3deg,#ffd600 58.6deg,#ff0 66.6deg,#78d700 73.7deg,#00b91e 82.3deg,#00f0a5 93deg,#00fee3 99.2deg,#00ffe8 102.6deg,#00fcef 110.4deg,#00ffe8 111.1deg,#00f0a5 114.8deg,#00b91e 120.8deg,#78d700 122.1deg,#d8f400 123.3deg,#ff0 124.2deg,#ffbe00 127.3deg,#fff600 132.3deg,#ffc700 139.3deg,#ffb400 143.3deg,#fd9600 149.3deg,#fa6800 264.1deg,#fa6400 265deg,#ec4000 271.6deg,#fa6400 278.2deg,#fa6800 279.1deg,#ffb400 281.1deg,#ff0 283.1deg,#78d700 295.1deg,#00b91e 305.4deg,#00f0a5 312.7deg,#00f9cd 315.3deg,#00ffe8 325.6deg,#00fcef 330.2deg,#00f6fa 340.8deg,#00fced 349.4deg,#00ffe8 350.3deg,#00f3b4 355.2deg,#00f0a5 355.8deg,#00b91e 360deg)"></i><i style="left:42px;top:42px;width:306px;height:306px;background:conic-gradient(from -22.8deg,#00b91e 0deg,#78d700 3.9deg,#ff0 8.7deg,#ffca00 37.9deg,#ffd600 59deg,#ff0 67deg,#78d700 74deg,#00b91e 82.5deg,#00f0a5 92.7deg,#00ffe7 99.1deg,#00ffe8 99.4deg,#00f9f4 110.1deg,#00ffe8 111.2deg,#00f0a5 114.9deg,#00b91e 120.9deg,#78d700 122.2deg,#d8f400 123.4deg,#ff0 124.3deg,#ffbd00 127.4deg,#fff600 132.4deg,#ffc700 139.4deg,#ffb400 143.4deg,#fd9600 149.4deg,#fa6800 264.3deg,#fa6400 265.3deg,#ec4000 271.8deg,#fa6400 278.3deg,#fa6800 279.3deg,#ffb400 281.3deg,#ff0 283.4deg,#78d700 295.4deg,#00b91e 305.6deg,#00f0a5 312.8deg,#00f9cd 315.4deg,#00ffe8 325.6deg,#00fcef 330.1deg,#00f6fb 340.6deg,#00fced 349.3deg,#00ffe8 350.2deg,#00f3b4 355.1deg,#00f0a5 355.8deg,#00b91e 360deg)"></i><i style="left:45px;top:45px;width:300px;height:300px;background:conic-gradient(from -24deg,#00b91e 0deg,#78d700 3.8deg,#ff0 8.5deg,#ffca00 38.5deg,#ffd600 59.5deg,#ff0 67.5deg,#78d700 74.3deg,#00b91e 82.7deg,#00f0a5 92.6deg,#00ffe8 98.8deg,#00ffe9 99deg,#00f8f6 109.8deg,#00ffe8 111.2deg,#00f0a5 115.1deg,#00b91e 121.2deg,#78d700 122.5deg,#d8f400 123.7deg,#ff0 124.6deg,#ffbc00 127.7deg,#fff600 132.7deg,#ffc700 139.7deg,#ffb400 143.7deg,#fd9600 149.7deg,#fa6800 264.6deg,#fa6400 265.5deg,#ec4000 272deg,#fa6400 278.5deg,#fa6800 279.4deg,#ffb400 281.5deg,#ff0 283.6deg,#78d700 295.6deg,#00b91e 305.9deg,#00f0a5 312.9deg,#00f9cd 315.5deg,#00ffe8 325.6deg,#00fcef 330deg,#00f6fb 340.4deg,#00fced 349.2deg,#00ffe8 350.1deg,#00f3b4 355.1deg,#00f0a5 355.7deg,#00b91e 360deg)"></i><i style="left:48px;top:48px;width:294px;height:294px;background:conic-gradient(from -25.2deg,#00b91e 0deg,#78d700 3.8deg,#ff0 8.4deg,#ffca00 39.1deg,#ffd600 59.9deg,#ff0 67.9deg,#78d700 74.7deg,#00b91e 82.9deg,#00f0a5 92.6deg,#00ffe8 98.7deg,#00ffe9 98.9deg,#00f8f6 109.5deg,#00ffe8 111deg,#00f0a5 115deg,#00b91e 121.5deg,#78d700 122.9deg,#d8f400 124deg,#ff0 124.8deg,#fb0 128deg,#fff600 133deg,#ffc700 140deg,#ffb400 144deg,#fd9600 150deg,#fa6800 264.8deg,#fa6400 265.7deg,#ec4000 272.2deg,#fa6400 278.6deg,#fa6800 279.6deg,#ffb400 281.7deg,#ff0 283.9deg,#78d700 295.8deg,#00b91e 306.1deg,#00f0a5 313.1deg,#00f9cd 315.6deg,#00ffe8 325.6deg,#00fcef 330deg,#00f6fb 340.2deg,#00fced 349.1deg,#00ffe8 350deg,#00f3b4 355.1deg,#00f0a5 355.7deg,#00b91e 360deg)"></i><i style="left:51px;top:51px;width:288px;height:288px;background:conic-gradient(from -26.5deg,#00b91e 0deg,#78d700 3.7deg,#ff0 8.2deg,#ffca00 39.6deg,#ffd600 60.4deg,#ff0 68.4deg,#78d700 75deg,#00b91e 83.1deg,#00f0a5 92.4deg,#00ffe8 98.3deg,#00ffe9 98.4deg,#00f8f6 108.6deg,#00ffe8 110.2deg,#00f0a5 114.7deg,#00b91e 121.8deg,#78d700 123.2deg,#d8f400 124.3deg,#ff0 125.1deg,#ffb900 128.3deg,#fff600 133.3deg,#ffc700 140.3deg,#ffb400 144.3deg,#fd9600 150.3deg,#fa6800 265deg,#fa6400 266deg,#ec4000 272.4deg,#fa6400 278.8deg,#fa6800 279.7deg,#ffb400 282deg,#ff0 284.4deg,#78d700 296.2deg,#00b91e 306.3deg,#00f0a5 313.2deg,#00f9cd 315.8deg,#00ffe8 325.6deg,#00fcef 329.9deg,#00f6fc 340.1deg,#00fced 349deg,#00ffe8 349.9deg,#00f3b4 355deg,#00f0a5 355.6deg,#00b91e 360deg)"></i><i style="left:54px;top:54px;width:282px;height:282px;background:conic-gradient(from -27.7deg,#00b91e 0deg,#78d700 3.6deg,#ff0 8deg,#ffca00 40.2deg,#ffd600 60.8deg,#ff0 68.8deg,#78d700 75.4deg,#00b91e 83.4deg,#00f0a5 92.2deg,#00ffe8 97.8deg,#00ffe9 97.9deg,#00f8f6 107.6deg,#00ffe8 109.4deg,#00f0a5 114.3deg,#00b91e 122.1deg,#78d700 123.5deg,#d8f400 124.6deg,#ff0 125.5deg,#ffb800 128.6deg,#fff600 133.6deg,#ffc700 140.6deg,#ffb400 144.6deg,#fd9600 150.6deg,#fa6800 265.3deg,#fa6400 266.2deg,#ec4000 272.6deg,#fa6400 279deg,#fa6800 279.9deg,#ffb400 282.4deg,#ff0 285deg,#78d700 296.7deg,#00b91e 306.7deg,#00f0a5 313.5deg,#00f9cd 316deg,#00ffe8 325.6deg,#00fcef 329.9deg,#00f5fc 339.9deg,#00fced 348.9deg,#00ffe8 349.8deg,#00f3b4 355deg,#00f0a5 355.6deg,#00b91e 360deg)"></i><i style="left:57px;top:57px;width:276px;height:276px;background:conic-gradient(from -29deg,#00b91e 0deg,#78d700 3.4deg,#ff0 7.7deg,#ffca00 40.9deg,#ffd600 61.3deg,#ff0 69.3deg,#78d700 75.7deg,#00b91e 83.6deg,#00f0a5 92deg,#00ffe8 97.3deg,#00ffe9 97.5deg,#00f8f6 106.7deg,#00ffe8 108.6deg,#00f0a5 114deg,#00b91e 122.5deg,#78d700 123.8deg,#d8f400 125deg,#ff0 125.8deg,#ffb700 129deg,#fff600 134deg,#ffc700 141deg,#ffb400 145deg,#fd9600 151deg,#fa6800 265.5deg,#fa6400 266.4deg,#ec4000 272.7deg,#fa6400 279.1deg,#fa6800 280deg,#ffb400 282.7deg,#ff0 285.7deg,#78d700 297.2deg,#00b91e 307.1deg,#00f0a5 313.8deg,#00f9cd 316.3deg,#00ffe8 325.8deg,#00fcef 330deg,#00f5fc 339.8deg,#00fced 348.9deg,#00ffe8 349.8deg,#00f3b4 354.9deg,#00f0a5 355.6deg,#00b91e 360deg)"></i><i style="left:60px;top:60px;width:270px;height:270px;background:conic-gradient(from -30.3deg,#00b91e 0deg,#78d700 3.3deg,#ff0 7.3deg,#ffca00 41.5deg,#ffd600 61.8deg,#ff0 69.8deg,#78d700 76.1deg,#00b91e 83.9deg,#00f0a5 91.9deg,#00ffe8 96.9deg,#00ffe9 97deg,#00f8f6 105.8deg,#00ffe8 107.8deg,#00f0a5 113.5deg,#00b91e 122.6deg,#78d700 124deg,#d8f400 125.1deg,#ff0 125.9deg,#ffb600 129.1deg,#fff600 134.1deg,#ffc700 141.1deg,#ffb400 145.1deg,#fd9600 151.1deg,#fa6800 265deg,#fa6400 265.9deg,#ec4000 272.2deg,#fa6400 278.5deg,#fa6800 279.4deg,#ffb400 282.8deg,#ff0 286.3deg,#78d700 297.7deg,#00b91e 307.5deg,#00f0a5 314.1deg,#00f9cd 316.6deg,#00ffe8 326deg,#00fcef 330.1deg,#00f5fd 339.8deg,#00fced 348.9deg,#00ffe8 349.8deg,#00f3b4 355deg,#00f0a5 355.6deg,#00b91e 360deg)"></i><i style="left:63px;top:63px;width:264px;height:264px;background:conic-gradient(from -31.6deg,#00b91e 0deg,#78d700 3.2deg,#ff0 7.1deg,#ffca00 42.1deg,#ffd600 62.3deg,#ff0 70.3deg,#78d700 76.5deg,#00b91e 84.1deg,#00f0a5 91.8deg,#00ffe8 96.6deg,#00ffe9 96.7deg,#00f8f6 105deg,#00ffe8 107.2deg,#00f0a5 113.1deg,#00b91e 122.5deg,#78d700 123.9deg,#d8f400 125deg,#ff0 125.8deg,#ffb500 129deg,#fff600 134deg,#ffc700 141deg,#ffb400 145deg,#fd9600 151deg,#fa6800 264.5deg,#fa6400 265.4deg,#ec4000 271.7deg,#fa6400 278deg,#fa6800 278.9deg,#ffb400 282.8deg,#ff0 286.9deg,#78d700 298.3deg,#00b91e 308deg,#00f0a5 314.5deg,#00f9cd 316.9deg,#00ffe8 326.1deg,#00fcef 330.3deg,#00f5fd 339.8deg,#00fced 348.9deg,#00ffe8 349.8deg,#00f3b4 355deg,#00f0a5 355.6deg,#00b91e 360deg)"></i><i style="left:66px;top:66px;width:258px;height:258px;background:conic-gradient(from -32.9deg,#00b91e 0deg,#78d700 3deg,#ff0 6.8deg,#ffca00 42.8deg,#ffd600 62.8deg,#ff0 70.8deg,#78d700 77deg,#00b91e 84.5deg,#00f0a5 92.1deg,#00ffe8 96.9deg,#00ffe9 97deg,#00f8f6 105.3deg,#00ffe8 107.4deg,#00f0a5 113.2deg,#00b91e 122.4deg,#78d700 123.8deg,#d8f400 124.9deg,#ff0 125.7deg,#ffb400 128.8deg,#ffb000 128.9deg,#fd9600 137.9deg,#fa6800 264.1deg,#fa6400 265deg,#ec4000 271.2deg,#fa6400 277.4deg,#fa6800 278.3deg,#ffb400 282.8deg,#ff0 287.6deg,#78d700 298.8deg,#00b91e 308.4deg,#00f0a5 314.8deg,#00f9cd 317.2deg,#00ffe8 326.3deg,#00fcef 330.4deg,#00f5fe 339.8deg,#00fced 348.9deg,#00ffe8 349.8deg,#00f3b4 355deg,#00f0a5 355.6deg,#00b91e 360deg)"></i><i style="left:69px;top:69px;width:252px;height:252px;background:conic-gradient(from -34.2deg,#00b91e 0deg,#78d700 2.9deg,#ff0 6.5deg,#ffca00 43.4deg,#ffd600 63.3deg,#ff0 71.3deg,#78d700 77.5deg,#00b91e 84.9deg,#00f0a5 92.5deg,#00ffe8 97.2deg,#00ffe9 97.3deg,#00f8f6 105.6deg,#00ffe8 107.6deg,#00f0a5 113.3deg,#00b91e 122.3deg,#78d700 123.7deg,#d8f400 124.8deg,#ff0 125.5deg,#ffb400 128deg,#fd9a00 128.8deg,#fd9600 137.8deg,#fa6800 263.6deg,#fa6400 264.5deg,#ec4000 270.7deg,#fa6400 276.9deg,#fa6800 277.8deg,#ffb400 282.9deg,#ff0 288.2deg,#78d700 299.3deg,#00b91e 308.8deg,#00f0a5 315.1deg,#00f9cd 317.5deg,#00ffe8 326.5deg,#00fcef 330.5deg,#00f5fe 339.8deg,#00fced 348.9deg,#00ffe8 349.8deg,#00f3b4 355deg,#00f0a5 355.6deg,#00b91e 360deg)"></i><i style="left:72px;top:72px;width:246px;height:246px;background:conic-gradient(from -35.5deg,#00b91e 0deg,#78d700 2.8deg,#ff0 6.1deg,#ffca00 44deg,#ffd600 63.8deg,#ff0 71.8deg,#78d700 77.9deg,#00b91e 85.4deg,#00f0a5 92.9deg,#00ffe8 97.5deg,#00ffe9 97.7deg,#00f8f6 105.8deg,#00ffe8 107.9deg,#00f0a5 113.5deg,#00b91e 122.4deg,#78d700 123.7deg,#d8f400 124.9deg,#ff0 125.4deg,#ffb400 127.5deg,#fc8300 128.9deg,#fd9600 137.9deg,#fa6800 263.3deg,#fa6400 264.1deg,#ec4000 270.3deg,#fa6400 276.4deg,#fa6800 277.3deg,#ffb400 282.9deg,#ff0 288.8deg,#78d700 299.8deg,#00b91e 309.2deg,#00f0a5 315.5deg,#00f9cd 317.8deg,#00ffe8 326.7deg,#00fcef 330.7deg,#00f4fe 339.8deg,#00fced 348.9deg,#00ffe8 349.8deg,#00f3b4 355deg,#00f0a5 355.6deg,#00b91e 360deg)"></i><i style="left:75px;top:75px;width:240px;height:240px;background:conic-gradient(from -36.8deg,#00b91e 0deg,#78d700 2.6deg,#ff0 5.8deg,#ffca00 44.7deg,#ffd600 64.3deg,#ff0 72.3deg,#78d700 78.4deg,#00b91e 85.9deg,#00f0a5 93.3deg,#00ffe8 97.9deg,#00ffe9 98deg,#00f8f6 106.1deg,#00ffe8 108.1deg,#00f0a5 113.8deg,#00b91e 122.8deg,#78d700 124.2deg,#d8f400 125.3deg,#ff0 125.8deg,#ffb400 127.7deg,#fb6d00 129.3deg,#fd9600 138.3deg,#fa6800 263.4deg,#fa6400 264.3deg,#ec4000 270.3deg,#fa6400 276.4deg,#fa6800 277.3deg,#ffb400 283.2deg,#ff0 289.5deg,#78d700 300.3deg,#00b91e 309.7deg,#00f0a5 315.8deg,#00f9cd 318.1deg,#00ffe8 326.9deg,#00fcef 330.8deg,#00f4ff 339.9deg,#00fced 348.9deg,#00ffe8 349.8deg,#00f3b4 355deg,#00f0a5 355.6deg,#00b91e 360deg)"></i><i style="left:78px;top:78px;width:234px;height:234px;background:conic-gradient(from -38deg,#00b91e 0deg,#78d700 2.5deg,#ff0 5.6deg,#ffca00 45.2deg,#ffd600 64.8deg,#ff0 72.8deg,#78d700 78.9deg,#00b91e 86.3deg,#00f0a5 93.6deg,#00ffe8 98.2deg,#00ffe9 98.3deg,#00f8f6 106.3deg,#00ffe8 108.4deg,#00f0a5 114.1deg,#00b91e 123.3deg,#78d700 124.6deg,#d8f400 125.8deg,#ff0 126.2deg,#ffb400 127.8deg,#fa6400 129.5deg,#f35200 129.8deg,#fa6400 131.7deg,#fd9600 138.8deg,#fa6800 263.5deg,#fa6400 264.4deg,#ec4000 270.3deg,#fa6400 276.2deg,#fa6800 277.1deg,#ffb400 283.4deg,#ff0 290.1deg,#78d700 300.9deg,#00b91e 310.1deg,#00f0a5 316.2deg,#00f9cd 318.4deg,#00ffe8 327.1deg,#00fcef 330.9deg,#00f4ff 339.5deg,#01f2ff 339.9deg,#00f4ff 340.2deg,#00fced 348.9deg,#00ffe8 349.8deg,#00f3b4 355deg,#00f0a5 355.6deg,#00b91e 360deg)"></i><i style="left:81px;top:81px;width:228px;height:228px;background:conic-gradient(from -39.2deg,#00b91e 0deg,#78d700 2.4deg,#ff0 5.2deg,#ffca00 45.8deg,#ffd600 65.2deg,#ff0 73.2deg,#78d700 79.3deg,#00b91e 86.7deg,#00f0a5 93.9deg,#00ffe8 98.5deg,#00ffe9 98.6deg,#00f8f6 106.5deg,#00ffe8 108.6deg,#00f0a5 114.4deg,#00b91e 123.7deg,#78d700 125.1deg,#d8f400 126.2deg,#ff0 126.6deg,#ffb400 128deg,#fa6400 129.5deg,#e83500 130.2deg,#fa6400 134deg,#fd9600 139.2deg,#fa6800 263.7deg,#fa6400 264.5deg,#ec4000 270.3deg,#fa6400 276.1deg,#fa6800 276.9deg,#ffb400 283.6deg,#ff0 290.6deg,#78d700 301.4deg,#00b91e 310.6deg,#00f0a5 316.6deg,#00f9cd 318.8deg,#00ffe8 327.4deg,#00fcef 331.2deg,#00f4ff 338deg,#04e7ff 340.1deg,#00f4ff 342.1deg,#00fced 349deg,#00ffe8 349.9deg,#00f3b4 355deg,#00f0a5 355.6deg,#00b91e 360deg)"></i><i style="left:84px;top:84px;width:222px;height:222px;background:conic-gradient(from -40.5deg,#00b91e 0deg,#78d700 2.2deg,#ff0 4.9deg,#ffca00 46.4deg,#ffd600 65.7deg,#ff0 73.7deg,#78d700 79.7deg,#00b91e 87.1deg,#00f0a5 94.2deg,#00ffe8 98.7deg,#00ffe9 98.8deg,#00f8f6 106.7deg,#00ffe8 108.8deg,#00f0a5 114.7deg,#00b91e 124.1deg,#78d700 125.5deg,#d8f400 126.6deg,#ff0 127deg,#ffb400 128.4deg,#fa6400 129.9deg,#e63100 130.6deg,#fa6400 134.6deg,#fd9600 139.6deg,#fa6800 263.8deg,#fa6400 264.6deg,#ec4000 270.3deg,#fa6400 275.9deg,#fa6800 276.7deg,#ffb400 283.7deg,#ff0 290.9deg,#78d700 301.7deg,#00b91e 311deg,#00f0a5 317deg,#00f9cd 319.2deg,#00ffe8 327.7deg,#00fcef 331.5deg,#00f4ff 337.1deg,#07ddff 340.3deg,#00f4ff 343.4deg,#00fced 349.2deg,#00ffe8 350.1deg,#00f3b4 355.1deg,#00f0a5 355.7deg,#00b91e 360deg)"></i><i style="left:87px;top:87px;width:216px;height:216px;background:conic-gradient(from -41.7deg,#00b91e 0deg,#78d700 2.1deg,#ff0 4.6deg,#ffca00 46.8deg,#ffd600 66.1deg,#ff0 74.1deg,#78d700 80.1deg,#00b91e 87.5deg,#00f0a5 94.5deg,#00ffe8 99deg,#00ffe9 99.1deg,#00f8f6 106.9deg,#00ffe8 109deg,#00f0a5 114.7deg,#00b91e 123.9deg,#78d700 125.2deg,#d8f400 126.4deg,#ff0 126.7deg,#ffb400 128.2deg,#fa6400 129.6deg,#e63100 130.4deg,#fa6400 134.4deg,#fd9600 139.4deg,#fa6800 263.9deg,#fa6400 264.7deg,#ec4000 270.2deg,#fa6400 275.8deg,#fa6800 276.6deg,#ffb400 283.7deg,#ff0 291.3deg,#78d700 302.1deg,#00b91e 311.5deg,#00f0a5 317.4deg,#00f9cd 319.6deg,#00ffe8 328.1deg,#00fcef 331.8deg,#00f4ff 336.5deg,#0ad2ff 340.5deg,#00f4ff 344.3deg,#00fced 349.3deg,#00ffe8 350.2deg,#00f3b4 355.1deg,#00f0a5 355.7deg,#00b91e 360deg)"></i><i style="left:90px;top:90px;width:210px;height:210px;background:conic-gradient(from -42.9deg,#00b91e 0deg,#78d700 2deg,#ff0 4.4deg,#ffca00 47.3deg,#ffd600 66.5deg,#ff0 74.5deg,#78d700 80.5deg,#00b91e 87.8deg,#00f0a5 95deg,#00ffe8 99.5deg,#00ffe9 99.6deg,#00f8f6 107.4deg,#00ffe8 109.4deg,#00f0a5 114.8deg,#00b91e 123.5deg,#78d700 124.8deg,#d8f400 126deg,#ff0 126.3deg,#ffb400 127.8deg,#fa6400 129.2deg,#e63100 130deg,#fa6400 134deg,#fd9600 139deg,#fa6800 264deg,#fa6400 264.8deg,#ec4000 270.2deg,#fa6400 275.6deg,#fa6800 276.4deg,#ffb400 283.8deg,#ff0 291.6deg,#78d700 302.5deg,#00b91e 311.9deg,#00f0a5 317.8deg,#00f9cd 320deg,#00ffe8 328.4deg,#00fcef 332.1deg,#00f4ff 336.2deg,#0dc7ff 340.8deg,#00f4ff 345.1deg,#00fced 349.4deg,#00ffe8 350.3deg,#00f3b4 355.2deg,#00f0a5 355.8deg,#00b91e 360deg)"></i><i style="left:93px;top:93px;width:204px;height:204px;background:conic-gradient(from -44.2deg,#00b91e 0deg,#78d700 1.8deg,#ff0 4deg,#ffca00 47.8deg,#ffd600 67deg,#ff0 75deg,#78d700 80.9deg,#00b91e 88.2deg,#00f0a5 95.5deg,#00ffe8 100deg,#00ffe9 100.2deg,#00f8f6 108.1deg,#00ffe8 109.9deg,#00f0a5 115deg,#00b91e 123.1deg,#78d700 124.4deg,#d8f400 125.6deg,#ff0 125.9deg,#ffb400 127.4deg,#fa6400 128.8deg,#e63100 129.6deg,#fa6400 133.6deg,#fd9600 138.6deg,#fa6800 264.2deg,#fa6400 264.9deg,#ec4000 270.2deg,#fa6400 275.5deg,#fa6800 276.2deg,#ffb400 283.9deg,#ff0 291.9deg,#78d700 302.9deg,#00b91e 312.4deg,#00f0a5 318.2deg,#00f9cd 320.4deg,#00ffe8 328.7deg,#00fcef 332.4deg,#00f4ff 336deg,#11bcff 341deg,#00f4ff 345.7deg,#00fced 349.5deg,#00ffe8 350.4deg,#00f3b4 355.2deg,#00f0a5 355.8deg,#00b91e 360deg)"></i><i style="left:96px;top:96px;width:198px;height:198px;background:conic-gradient(from -45.4deg,#00b91e 0deg,#78d700 1.8deg,#ff0 4deg,#ffca00 48.3deg,#ffd600 67.4deg,#ff0 75.4deg,#78d700 81.4deg,#00b91e 88.6deg,#00f0a5 96deg,#00ffe8 100.6deg,#00ffe9 100.7deg,#00f8f6 108.7deg,#00f8f6 117.9deg,#00f4ff 118.2deg,#247bff 119.7deg,#00f4ff 121.2deg,#00f8f6 121.5deg,#00ffe8 121.6deg,#00f0a5 122deg,#00b91e 122.7deg,#78d700 124deg,#d8f400 125.2deg,#ff0 125.5deg,#ffb400 127deg,#fa6400 128.4deg,#e63100 129.2deg,#fa6400 133.2deg,#fd9600 138.2deg,#fa6800 264.2deg,#fa6400 264.9deg,#ec4000 270.1deg,#fa6400 275.2deg,#fa6800 276deg,#ffb400 283.9deg,#ff0 292.2deg,#78d700 303.3deg,#00b91e 312.8deg,#00f0a5 318.6deg,#00f9cd 320.8deg,#00ffe8 329.1deg,#00fcef 332.7deg,#00f4ff 335.9deg,#14b1ff 341.2deg,#00f4ff 346.3deg,#00fced 349.7deg,#00ffe8 350.5deg,#00f3b4 355.3deg,#00f0a5 355.9deg,#00b91e 360deg)"></i><i style="left:99px;top:99px;width:192px;height:192px;background:conic-gradient(from -46.3deg,#00b91e 0deg,#78d700 1.8deg,#ff0 4deg,#ffca00 48.4deg,#ffd600 67.6deg,#ff0 75.6deg,#78d700 81.5deg,#00b91e 88.7deg,#00f0a5 96.2deg,#00ffe8 100.8deg,#00ffe9 100.9deg,#00f8f6 109.1deg,#00f8f6 118deg,#00f4ff 118.2deg,#247bff 119.8deg,#00f4ff 121.3deg,#00f8f6 121.6deg,#00ffe8 121.7deg,#00f0a5 122.2deg,#00b91e 122.8deg,#78d700 124.2deg,#d8f400 125.3deg,#ff0 125.7deg,#ffb400 127.1deg,#fa6400 128.6deg,#e63100 129.3deg,#fa6400 133.3deg,#fd9600 138.3deg,#fa6800 263.5deg,#fa6400 264.2deg,#ec4000 269.2deg,#fa6400 274.2deg,#fa6800 274.9deg,#ffb400 283.3deg,#ff0 292deg,#78d700 303.3deg,#00b91e 313deg,#00f0a5 318.8deg,#00f9cd 320.9deg,#00ffe8 329.2deg,#00fcef 332.8deg,#00f4ff 335.7deg,#17a7ff 341.3deg,#00f4ff 346.7deg,#00fced 349.7deg,#00ffe8 350.6deg,#00f3b4 355.3deg,#00f0a5 355.9deg,#00b91e 360deg)"></i><i style="left:102px;top:102px;width:186px;height:186px;background:conic-gradient(from -47deg,#00b91e 0deg,#78d700 1.8deg,#ff0 4deg,#ffca00 48.3deg,#ffd600 67.4deg,#ff0 75.4deg,#78d700 81.4deg,#00b91e 88.6deg,#00f0a5 96.1deg,#00ffe8 100.8deg,#00ffe9 100.9deg,#00f8f6 109.1deg,#00f8f6 117.9deg,#00f4ff 118.2deg,#247bff 119.7deg,#00f4ff 121.3deg,#00f8f6 121.6deg,#00ffe8 121.8deg,#00f0a5 122.2deg,#00b91e 122.8deg,#78d700 124.2deg,#d8f400 125.3deg,#ff0 125.7deg,#ffb400 127.1deg,#fa6400 128.6deg,#e63100 129.3deg,#fa6400 133.3deg,#fd9600 138.3deg,#fa6800 262.5deg,#fa6400 263.2deg,#ec4000 268.1deg,#fa6400 272.9deg,#fa6800 273.6deg,#ffb400 282.4deg,#ff0 291.6deg,#78d700 303deg,#00b91e 312.9deg,#00f0a5 318.6deg,#00f9cd 320.8deg,#00ffe8 329deg,#00fcef 332.7deg,#00f4ff 335.3deg,#1a9cff 341.1deg,#00f4ff 346.8deg,#00fced 349.6deg,#00ffe8 350.5deg,#00f3b4 355.3deg,#00f0a5 355.9deg,#00b91e 360deg)"></i><i style="left:105px;top:105px;width:180px;height:180px;background:conic-gradient(from -47.6deg,#00b91e 0deg,#78d700 1.8deg,#ff0 4deg,#ffca00 48.2deg,#ffd600 67.3deg,#ff0 75.3deg,#78d700 81.2deg,#00b91e 88.6deg,#00f0a5 96.1deg,#00ffe8 100.8deg,#00ffe9 100.9deg,#00f8f6 109.2deg,#00f8f6 117.8deg,#00f4ff 118.1deg,#247bff 119.7deg,#00f4ff 121.3deg,#00f8f6 121.6deg,#00ffe8 121.8deg,#00f0a5 122.2deg,#00b91e 122.8deg,#78d700 124.2deg,#d8f400 125.3deg,#ff0 125.7deg,#ffb400 127.2deg,#fa6400 128.6deg,#e63100 129.3deg,#fa6400 133.3deg,#fd9600 138.3deg,#fa6800 261.5deg,#fa6400 262.2deg,#ec4000 266.9deg,#fa6400 271.7deg,#fa6800 272.3deg,#ffb400 281.5deg,#ff0 291.1deg,#78d700 302.8deg,#00b91e 312.7deg,#00f0a5 318.5deg,#00f9cd 320.6deg,#00ffe8 328.8deg,#00fcef 332.5deg,#00f4ff 334.9deg,#1e91ff 340.9deg,#00f4ff 346.9deg,#00fced 349.5deg,#00ffe8 350.4deg,#00f3b4 355.2deg,#00f0a5 355.8deg,#00b91e 360deg)"></i><i style="left:108px;top:108px;width:174px;height:174px;background:conic-gradient(from -48.2deg,#00b91e 0deg,#78d700 1.8deg,#ff0 4deg,#ffca00 48.1deg,#ffd600 67.1deg,#ff0 75.1deg,#78d700 81.1deg,#00b91e 88.5deg,#00f0a5 96.1deg,#00ffe8 100.8deg,#00ffe9 101deg,#00f8f6 109.3deg,#00f8f6 117.6deg,#00f4ff 117.9deg,#247bff 119.6deg,#00f4ff 121.3deg,#00f8f6 121.7deg,#00ffe8 121.8deg,#00f0a5 122.2deg,#00b91e 122.9deg,#78d700 124.2deg,#d8f400 125.4deg,#ff0 125.7deg,#ffb400 127.2deg,#fa6400 128.6deg,#e63100 129.4deg,#fa6400 133.4deg,#fd9600 138.4deg,#fa6800 260.5deg,#fa6400 261.1deg,#ec4000 265.8deg,#fa6400 270.4deg,#fa6800 271deg,#ffb400 280.6deg,#ff0 290.6deg,#78d700 302.4deg,#00b91e 312.5deg,#00f0a5 318.2deg,#00f9cd 320.4deg,#00ffe8 328.6deg,#00fcef 332.3deg,#00f4ff 334.5deg,#2186ff 340.8deg,#00f4ff 346.9deg,#00fced 349.4deg,#00ffe8 350.3deg,#00f3b4 355.2deg,#00f0a5 355.8deg,#00b91e 360deg)"></i><i style="left:111px;top:111px;width:168px;height:168px;background:conic-gradient(from -48.9deg,#00b91e 0deg,#78d700 1.8deg,#ff0 4deg,#ffca00 48deg,#ffd600 67deg,#ff0 75deg,#78d700 81deg,#00b91e 88.4deg,#00f0a5 96.1deg,#00ffe8 100.9deg,#00ffe9 101deg,#00f8f6 109.3deg,#00f8f6 117.5deg,#00f4ff 117.8deg,#247bff 119.6deg,#00f4ff 121.3deg,#00f8f6 121.7deg,#00ffe8 121.8deg,#00f0a5 122.2deg,#00b91e 122.9deg,#78d700 124.2deg,#d8f400 125.4deg,#ff0 125.7deg,#ffb400 127.2deg,#fa6400 128.6deg,#e63100 129.4deg,#fa6400 133.4deg,#fd9600 138.4deg,#fa6800 259.5deg,#fa6400 260.1deg,#ec4000 264.6deg,#fa6400 269.1deg,#fa6800 269.7deg,#ffb400 279.7deg,#ff0 290.2deg,#78d700 302deg,#00b91e 312.2deg,#00f0a5 317.9deg,#00f9cd 320.1deg,#00ffe8 328.4deg,#00fcef 332deg,#00f4ff 334.2deg,#247bff 340.6deg,#00f4ff 346.9deg,#00fced 349.3deg,#00ffe8 350.2deg,#00f3b4 355.1deg,#00f0a5 355.7deg,#00b91e 360deg)"></i><i style="left:114px;top:114px;width:162px;height:162px;background:conic-gradient(from -49.5deg,#00b91e 0deg,#78d700 1.8deg,#ff0 4deg,#ffca00 47.9deg,#ffd600 66.9deg,#ff0 74.9deg,#78d700 80.9deg,#00b91e 88.4deg,#00f0a5 96.1deg,#00ffe8 100.9deg,#00ffe9 101deg,#00f8f6 109.4deg,#00f8f6 117.4deg,#00f4ff 117.7deg,#247bff 119.5deg,#00f4ff 121.4deg,#00f8f6 121.7deg,#00ffe8 121.8deg,#00f0a5 122.2deg,#00b91e 122.9deg,#78d700 124.3deg,#d8f400 125.4deg,#ff0 125.8deg,#ffb400 127.2deg,#fa6400 128.7deg,#e63100 129.4deg,#fa6400 133.4deg,#fd9600 138.4deg,#fa6800 258.5deg,#fa6400 259.1deg,#ec4000 263.4deg,#fa6400 267.8deg,#fa6800 268.4deg,#ffb400 278.8deg,#ff0 289.7deg,#78d700 301.6deg,#00b91e 311.8deg,#00f0a5 317.7deg,#00f9cd 319.8deg,#00ffe8 328.1deg,#00fcef 331.8deg,#00f4ff 333.8deg,#2771ff 340.4deg,#00f4ff 347deg,#00fced 349.2deg,#00ffe8 350.1deg,#00f3b4 355.1deg,#00f0a5 355.7deg,#00b91e 360deg)"></i><i style="left:117px;top:117px;width:156px;height:156px;background:conic-gradient(from -50.2deg,#00b91e 0deg,#78d700 1.8deg,#ff0 4deg,#ffca00 47.8deg,#ffd600 66.7deg,#ff0 74.7deg,#78d700 80.9deg,#00b91e 88.3deg,#00f0a5 96deg,#00ffe8 100.9deg,#00ffe9 101deg,#00f8f6 109.4deg,#00f8f6 117.2deg,#00f4ff 117.6deg,#247bff 119.5deg,#00f4ff 121.4deg,#00f8f6 121.7deg,#00ffe8 121.9deg,#00f0a5 122.3deg,#00b91e 122.9deg,#78d700 124.3deg,#d8f400 125.4deg,#ff0 125.8deg,#ffb400 127.2deg,#fa6400 128.7deg,#e63100 129.4deg,#fa6400 133.4deg,#fd9600 138.4deg,#fa6800 257.9deg,#fa6400 258.5deg,#ec4000 262.8deg,#fa6400 267deg,#fa6800 267.6deg,#ffb400 278deg,#ff0 289.1deg,#78d700 301.2deg,#00b91e 311.5deg,#00f0a5 317.4deg,#00f9cd 319.6deg,#00ffe8 327.9deg,#00fcef 331.6deg,#00f4ff 333.5deg,#286eff 339.8deg,#296cfe 340.2deg,#286eff 340.5deg,#00f4ff 347deg,#00fced 349.1deg,#00ffe8 350deg,#00f3b4 355deg,#00f0a5 355.7deg,#00b91e 360deg)"></i><i style="left:120px;top:120px;width:150px;height:150px;background:conic-gradient(from -50.8deg,#00b91e 0deg,#78d700 1.8deg,#ff0 4deg,#ffca00 47.7deg,#ffd600 66.6deg,#ff0 74.6deg,#78d700 80.8deg,#00b91e 88.3deg,#00f0a5 96deg,#00ffe8 100.9deg,#00ffe9 101deg,#00f8f6 109.5deg,#00f8f6 117deg,#00f4ff 117.4deg,#247bff 119.4deg,#00f4ff 121.4deg,#00f8f6 121.7deg,#00ffe8 121.9deg,#00f0a5 122.3deg,#00b91e 122.9deg,#78d700 124.3deg,#d8f400 125.4deg,#ff0 125.8deg,#ffb400 127.2deg,#fa6400 128.7deg,#e63100 129.4deg,#fa6400 133.4deg,#fd9600 138.4deg,#fa6800 257.9deg,#fa6400 258.4deg,#ec4000 262.5deg,#fa6400 266.6deg,#fa6800 267.2deg,#ffb400 277.5deg,#ff0 288.4deg,#78d700 300.7deg,#00b91e 311.2deg,#00f0a5 317.1deg,#00f9cd 319.3deg,#00ffe8 327.6deg,#00fcef 331.3deg,#00f4ff 333.1deg,#286eff 339.1deg,#2b69fc 340deg,#286eff 340.8deg,#00f4ff 346.9deg,#00fced 349deg,#00ffe8 349.9deg,#00f3b4 355deg,#00f0a5 355.6deg,#00b91e 360deg)"></i><i style="left:123px;top:123px;width:144px;height:144px;background:conic-gradient(from -51.5deg,#00b91e 0deg,#78d700 1.8deg,#ff0 4deg,#ffca00 47.6deg,#ffd600 66.5deg,#ff0 74.5deg,#78d700 80.7deg,#00b91e 88.2deg,#00f0a5 96deg,#00ffe8 100.9deg,#00ffe9 101deg,#00f8f6 109.6deg,#00f8f6 116.9deg,#00f4ff 117.2deg,#247bff 119.3deg,#00f4ff 121.4deg,#00f8f6 121.7deg,#00ffe8 121.9deg,#00f0a5 122.3deg,#00b91e 122.9deg,#78d700 124.3deg,#d8f400 125.4deg,#ff0 125.8deg,#ffb400 127.3deg,#fa6400 128.7deg,#e63100 129.4deg,#fa6400 133.4deg,#fd9600 138.4deg,#fa6800 257.8deg,#fa6400 258.4deg,#ec4000 262.3deg,#fa6400 266.3deg,#fa6800 266.8deg,#ffb400 277deg,#ff0 287.7deg,#78d700 300.2deg,#00b91e 310.9deg,#00f0a5 316.9deg,#00f9cd 319.1deg,#00ffe8 327.6deg,#00fcef 331.4deg,#00f4ff 333.1deg,#286eff 338.8deg,#2c67fa 340.1deg,#286eff 341.4deg,#00f4ff 347.1deg,#00fced 349.1deg,#00ffe8 350deg,#00f3b4 355deg,#00f0a5 355.6deg,#00b91e 360deg)"></i><i style="left:126px;top:126px;width:138px;height:138px;background:conic-gradient(from -51.9deg,#00b91e 0deg,#78d700 1.8deg,#ff0 4deg,#ffca00 47.3deg,#ffd600 66.2deg,#ff0 74.2deg,#78d700 80.4deg,#00b91e 88deg,#00f0a5 95.7deg,#00ffe8 100.5deg,#00ffe9 100.7deg,#00f8f6 109.1deg,#00f8f6 116.5deg,#00f4ff 116.9deg,#247bff 119deg,#00f4ff 121.2deg,#00f8f6 121.6deg,#00ffe8 121.7deg,#00f0a5 122.1deg,#00b91e 122.8deg,#78d700 124.2deg,#d8f400 125.3deg,#ff0 125.7deg,#ffb400 127.1deg,#fa6400 128.6deg,#e63100 129.3deg,#fa6400 133.3deg,#fd9600 138.3deg,#fa6800 257.6deg,#fa6400 258.1deg,#ec4000 261.9deg,#fa6400 265.8deg,#fa6800 266.3deg,#ffb400 276.3deg,#ff0 286.8deg,#78d700 299.5deg,#00b91e 310.4deg,#00f0a5 316.5deg,#00f9cd 318.8deg,#00ffe8 327.4deg,#00fcef 331.2deg,#00f4ff 332.9deg,#286eff 338.5deg,#2e64f8 340.2deg,#286eff 341.8deg,#00f4ff 347.3deg,#00fced 349.1deg,#00ffe8 350deg,#00f3b4 355deg,#00f0a5 355.7deg,#00b91e 360deg)"></i><i style="left:129px;top:129px;width:132px;height:132px;background:conic-gradient(from -51.6deg,#00b91e 0deg,#78d700 1.8deg,#ff0 4deg,#ffca00 46.2deg,#ffd600 65deg,#ff0 73deg,#78d700 79.3deg,#00b91e 86.9deg,#00f0a5 94.5deg,#00ffe8 99.3deg,#00ffe9 99.4deg,#00f8f6 107.7deg,#00f8f6 115.3deg,#00f4ff 115.7deg,#247bff 117.9deg,#00f4ff 120.2deg,#00f8f6 120.6deg,#00ffe8 120.7deg,#00f0a5 121.2deg,#00b91e 121.8deg,#78d700 123.2deg,#d8f400 124.3deg,#ff0 124.7deg,#ffb400 126.1deg,#fa6400 127.6deg,#e63100 128.3deg,#fa6400 132.3deg,#fd9600 137.3deg,#fa6800 256.5deg,#fa6400 257deg,#ec4000 260.7deg,#fa6400 264.4deg,#fa6800 264.9deg,#ffb400 274.8deg,#ff0 285.1deg,#78d700 298.1deg,#00b91e 309.1deg,#00f0a5 315.3deg,#00f9cd 317.6deg,#00ffe8 326.4deg,#00fcef 330.3deg,#00f4ff 331.9deg,#286eff 337.3deg,#2f61f7 339.4deg,#286eff 341.4deg,#00f4ff 346.8deg,#00fced 348.6deg,#00ffe8 349.6deg,#00f3b4 354.8deg,#00f0a5 355.5deg,#00b91e 360deg)"></i><i style="left:132px;top:132px;width:126px;height:126px;background:conic-gradient(from -51.2deg,#00b91e 0deg,#78d700 1.8deg,#ff0 4deg,#ffca00 45.1deg,#ffd600 63.9deg,#ff0 71.9deg,#78d700 78.3deg,#00b91e 86.1deg,#00f0a5 93.5deg,#00ffe8 98.1deg,#00ffe9 98.2deg,#00f8f6 106.4deg,#00f8f6 114deg,#00f4ff 114.5deg,#247bff 116.8deg,#00f4ff 119.2deg,#00f8f6 119.6deg,#00ffe8 119.8deg,#00f0a5 120.2deg,#00b91e 120.8deg,#78d700 122.2deg,#d8f400 123.3deg,#ff0 123.7deg,#ffb400 125.1deg,#fa6400 126.6deg,#e63100 127.3deg,#fa6400 131.3deg,#fd9600 136.3deg,#fa6800 255.4deg,#fa6400 255.9deg,#ec4000 259.5deg,#fa6400 263.1deg,#fa6800 263.6deg,#ffb400 273.2deg,#ff0 283.4deg,#78d700 296.6deg,#00b91e 307.8deg,#00f0a5 314.1deg,#00f9cd 316.4deg,#00ffe8 325.4deg,#00fcef 329.3deg,#00f4ff 330.9deg,#286eff 336.2deg,#315ff5 338.6deg,#286eff 341deg,#00f4ff 346.4deg,#00fced 348.2deg,#00ffe8 349.2deg,#00f3b4 354.6deg,#00f0a5 355.3deg,#00b91e 360deg)"></i><i style="left:135px;top:135px;width:120px;height:120px;background:conic-gradient(from -50.8deg,#00b91e 0deg,#78d700 1.8deg,#ff0 4deg,#ffca00 44deg,#ffd600 62.8deg,#ff0 70.8deg,#78d700 77.4deg,#00b91e 85.4deg,#00f0a5 92.6deg,#00ffe8 97.1deg,#00ffe9 97.2deg,#00f8f6 105deg,#00f8f6 112.8deg,#00f4ff 113.2deg,#247bff 115.7deg,#00f4ff 118.2deg,#00f8f6 118.6deg,#00ffe8 118.8deg,#00f0a5 119.2deg,#00b91e 119.8deg,#78d700 121.2deg,#d8f400 122.3deg,#ff0 122.7deg,#ffb400 124.2deg,#fa6400 125.6deg,#e63100 126.3deg,#fa6400 130.3deg,#fd9600 135.3deg,#fd9000 254.3deg,#fb7000 258.3deg,#fd9000 262.2deg,#ffb400 268.2deg,#ff0 281.4deg,#78d700 294.9deg,#00b91e 306.5deg,#00f0a5 312.9deg,#00f9cd 315.3deg,#00ffe8 324.3deg,#00fcef 328.4deg,#00f4ff 329.9deg,#286eff 335.1deg,#325df4 337.8deg,#286eff 340.5deg,#00f4ff 346deg,#00fced 347.8deg,#00ffe8 348.8deg,#00f3b4 354.4deg,#00f0a5 355.1deg,#00b91e 360deg)"></i><i style="left:138px;top:138px;width:114px;height:114px;background:conic-gradient(from -50.5deg,#00b91e 0deg,#78d700 1.8deg,#ff0 4deg,#ffca00 42.8deg,#ffd600 61.6deg,#ff0 69.6deg,#78d700 76.4deg,#00b91e 84.8deg,#00f0a5 91.7deg,#00ffe8 96deg,#00ffe9 96.1deg,#00f8f6 103.6deg,#00f8f6 111.5deg,#00f4ff 112deg,#247bff 114.6deg,#00f4ff 117.2deg,#00f8f6 117.7deg,#00ffe8 117.8deg,#00f0a5 118.3deg,#00b91e 118.9deg,#78d700 120.3deg,#d8f400 121.4deg,#ff0 121.8deg,#ffb400 123.2deg,#fa6400 124.7deg,#e63100 125.4deg,#fa6400 129.4deg,#fd9600 134.4deg,#fd9000 253.1deg,#fb7000 257deg,#fd9000 261deg,#ffb400 266.7deg,#ff0 279.3deg,#78d700 293.3deg,#00b91e 305.3deg,#00f0a5 311.8deg,#00f9cd 314.2deg,#00ffe8 323.4deg,#00fcef 327.5deg,#00f4ff 329.1deg,#286eff 334.3deg,#325df4 337deg,#286eff 339.8deg,#00f4ff 345.5deg,#00fced 347.3deg,#00ffe8 348.4deg,#00f3b4 354.2deg,#00f0a5 355deg,#00b91e 360deg)"></i><i style="left:141px;top:141px;width:108px;height:108px;background:conic-gradient(from -50.1deg,#00b91e 0deg,#78d700 1.8deg,#ff0 4deg,#ffca00 41.7deg,#ffd600 60.5deg,#ff0 68.5deg,#78d700 75.5deg,#00b91e 84.1deg,#00f0a5 90.7deg,#00ffe8 94.9deg,#00ffe9 95deg,#00f8f6 102.3deg,#00f8f6 110.2deg,#00f4ff 110.7deg,#247bff 113.5deg,#00f4ff 116.2deg,#00f8f6 116.7deg,#00ffe8 116.9deg,#00f0a5 117.3deg,#00b91e 117.9deg,#78d700 119.3deg,#d8f400 120.4deg,#ff0 120.8deg,#ffb400 122.3deg,#fa6400 123.7deg,#e63100 124.4deg,#fa6400 128.4deg,#fd9600 133.4deg,#fd9000 251.9deg,#fb7000 255.8deg,#fd9000 259.7deg,#ffb400 265.1deg,#ff0 277.2deg,#78d700 291.8deg,#00b91e 304.2deg,#00f0a5 310.7deg,#00f9cd 313.2deg,#00ffe8 322.5deg,#00fcef 326.6deg,#00f4ff 328.2deg,#286eff 333.4deg,#325df4 336.2deg,#286eff 339.2deg,#00f4ff 345deg,#00fced 346.9deg,#00ffe8 348deg,#00f3b4 354deg,#00f0a5 354.8deg,#00b91e 360deg)"></i><i style="left:144px;top:144px;width:102px;height:102px;background:conic-gradient(from -49.7deg,#00b91e 0deg,#78d700 1.8deg,#ff0 4deg,#ffca00 40.6deg,#ffd600 59.5deg,#ff0 67.5deg,#78d700 74.7deg,#00b91e 83.4deg,#00f0a5 89.8deg,#00ffe8 93.8deg,#00ffe9 93.9deg,#00f8f6 100.9deg,#00f8f6 108.8deg,#00f4ff 109.4deg,#247bff 112.3deg,#00f4ff 115.2deg,#00f8f6 115.8deg,#00ffe8 115.9deg,#00f0a5 116.3deg,#00b91e 117deg,#78d700 118.4deg,#d8f400 119.5deg,#ff0 119.9deg,#ffb400 121.3deg,#fa6400 122.8deg,#e63100 123.5deg,#fa6400 127.5deg,#fd9600 132.5deg,#fd9000 250.8deg,#fb7000 254.6deg,#fd9000 258.4deg,#ffb400 263.6deg,#ff0 275.2deg,#78d700 290.2deg,#00b91e 303.1deg,#00f0a5 309.7deg,#00f9cd 312.1deg,#00ffe8 321.5deg,#00fcef 325.7deg,#00f4ff 327.3deg,#286eff 332.6deg,#325df3 335.4deg,#286eff 338.5deg,#00f4ff 344.5deg,#00fced 346.5deg,#00ffe8 347.6deg,#00f3b4 353.8deg,#00f0a5 354.6deg,#00b91e 360deg)"></i><i style="left:147px;top:147px;width:96px;height:96px;background:conic-gradient(from -49.4deg,#00b91e 0deg,#78d700 1.8deg,#ff0 4deg,#ffca00 39.7deg,#ffd600 58.7deg,#ff0 66.7deg,#78d700 74deg,#00b91e 82.8deg,#00f0a5 88.9deg,#00ffe8 92.8deg,#00ffe9 92.8deg,#00f8f6 99.5deg,#00f8f6 107.4deg,#00f4ff 108deg,#247bff 111.1deg,#00f4ff 114.3deg,#00f8f6 114.8deg,#00ffe8 115deg,#00f0a5 115.4deg,#00b91e 116deg,#78d700 117.4deg,#d8f400 118.5deg,#ff0 118.9deg,#ffb400 120.4deg,#fa6400 121.8deg,#e63100 122.5deg,#fa6400 126.5deg,#fd9600 131.5deg,#fd9000 249.5deg,#fb7000 253.3deg,#fd9000 257.1deg,#ffb400 262.1deg,#ff0 273.1deg,#78d700 288.6deg,#00b91e 302deg,#00f0a5 308.6deg,#00f9cd 311.1deg,#00ffe8 320.6deg,#00fcef 324.8deg,#00f4ff 326.4deg,#286eff 331.7deg,#325cf3 334.6deg,#286eff 337.9deg,#00f4ff 344deg,#00fced 346deg,#00ffe8 347.2deg,#00f3b4 353.6deg,#00f0a5 354.4deg,#00b91e 360deg)"></i><i style="left:150px;top:150px;width:90px;height:90px;background:conic-gradient(from -49deg,#00b91e 0deg,#78d700 1.8deg,#ff0 4deg,#ffca00 38.7deg,#ffd600 58deg,#ff0 66deg,#78d700 73.2deg,#00b91e 82.1deg,#00f0a5 88deg,#00ffe8 91.7deg,#00ffe9 91.8deg,#00f8f6 98.2deg,#00f8f6 106deg,#00f4ff 106.6deg,#247bff 109.9deg,#00f4ff 113.3deg,#00f8f6 113.9deg,#00ffe8 114deg,#00f0a5 114.4deg,#00b91e 115.1deg,#78d700 116.4deg,#d8f400 117.6deg,#ff0 117.9deg,#ffb400 119.4deg,#fa6400 120.9deg,#e63100 121.6deg,#fa6400 125.6deg,#fd9600 130.6deg,#fd9000 248.3deg,#fb7000 252.1deg,#fd9000 255.8deg,#ffb400 260.5deg,#ff0 271deg,#78d700 287.1deg,#00b91e 300.9deg,#00f0a5 307.6deg,#00f9cd 310.1deg,#00ffe8 319.6deg,#00fcef 323.8deg,#00f4ff 325.4deg,#286eff 330.8deg,#335cf3 333.7deg,#286eff 337.1deg,#00f4ff 343.4deg,#00fced 345.5deg,#00ffe8 346.7deg,#00f3b4 353.4deg,#00f0a5 354.2deg,#00b91e 360deg)"></i><i style="left:153px;top:153px;width:84px;height:84px;background:conic-gradient(from -48.6deg,#00b91e 0deg,#78d700 1.8deg,#ff0 4deg,#ffca00 37.7deg,#ffd600 57.2deg,#ff0 65.2deg,#78d700 72.5deg,#00b91e 81.5deg,#00f0a5 87.1deg,#00ffe8 90.6deg,#00ffe9 90.7deg,#00f8f6 96.8deg,#00f8f6 104.9deg,#00f4ff 105.6deg,#247bff 108.9deg,#00f4ff 112.3deg,#00f8f6 112.9deg,#00ffe8 113.1deg,#00f0a5 113.5deg,#00b91e 114.1deg,#78d700 115.5deg,#d8f400 116.6deg,#ff0 117deg,#ffb400 118.5deg,#fa6400 119.9deg,#e63100 120.6deg,#fa6400 124.6deg,#fd9600 129.6deg,#fd9000 247.1deg,#fb7000 250.8deg,#fd9000 254.5deg,#ffb400 258.9deg,#ff0 268.9deg,#78d700 285.5deg,#00b91e 299.8deg,#00f0a5 306.5deg,#00f9cd 309deg,#00ffe8 318.5deg,#00fcef 322.8deg,#00f4ff 324.4deg,#286eff 329.7deg,#335cf3 332.6deg,#286eff 336.2deg,#00f4ff 342.8deg,#00fced 344.9deg,#00ffe8 346.2deg,#00f3b4 353.2deg,#00f0a5 354deg,#00b91e 360deg)"></i><i style="left:156px;top:156px;width:78px;height:78px;background:conic-gradient(from -48.3deg,#00b91e 0deg,#78d700 1.8deg,#ff0 4deg,#ffca00 36.8deg,#ffd600 56.4deg,#ff0 64.4deg,#78d700 71.8deg,#00b91e 80.8deg,#00f0a5 86.2deg,#00ffe8 89.5deg,#00ffe9 89.6deg,#00f8f6 95.4deg,#00f8f6 104deg,#00f4ff 104.6deg,#247bff 108deg,#00f4ff 111.4deg,#00f8f6 112deg,#00ffe8 112.1deg,#00f0a5 112.5deg,#00b91e 113.2deg,#78d700 114.5deg,#d8f400 115.7deg,#ff0 116deg,#ffb400 117.5deg,#fa6400 119deg,#e63100 119.7deg,#fa6400 123.7deg,#fd9600 128.7deg,#fd9000 245.9deg,#fb7000 249.5deg,#fd9000 253.1deg,#ffb400 257.4deg,#ff0 266.8deg,#78d700 284deg,#00b91e 298.6deg,#00f0a5 305.4deg,#00f9cd 307.9deg,#00ffe8 317.4deg,#00fcef 321.7deg,#00f4ff 323.3deg,#286eff 328.6deg,#335bf3 331.6deg,#286eff 335.4deg,#00f4ff 342.1deg,#00fced 344.4deg,#00ffe8 345.6deg,#00f3b4 352.9deg,#00f0a5 353.8deg,#00b91e 360deg)"></i><i style="left:159px;top:159px;width:72px;height:72px;background:conic-gradient(from -47.9deg,#00b91e 0deg,#78d700 1.8deg,#ff0 4deg,#ffca00 35.8deg,#ffd600 55.6deg,#ff0 63.6deg,#78d700 71.1deg,#00b91e 80.2deg,#00f0a5 85.3deg,#00ffe8 88.4deg,#00ffe9 88.5deg,#00f8f6 94.1deg,#00f8f6 103deg,#00f4ff 103.7deg,#247bff 107deg,#00f4ff 110.4deg,#00f8f6 111deg,#00ffe8 111.2deg,#00f0a5 111.6deg,#00b91e 112.2deg,#78d700 113.6deg,#d8f400 114.7deg,#ff0 115.1deg,#ffb400 116.5deg,#fa6400 118deg,#e63100 118.7deg,#fa6400 122.7deg,#fd9600 127.7deg,#fd9000 244.7deg,#fb7000 248.2deg,#fd9000 251.8deg,#ffb400 255.8deg,#ff0 264.8deg,#78d700 282.4deg,#00b91e 297.5deg,#00f0a5 304.3deg,#00f9cd 306.8deg,#00ffe8 316.4deg,#00fcef 320.6deg,#00f4ff 322.2deg,#286eff 327.5deg,#335bf3 330.5deg,#286eff 334.5deg,#00f4ff 341.5deg,#00fced 343.8deg,#00ffe8 345.1deg,#00f3b4 352.6deg,#00f0a5 353.6deg,#00b91e 360deg)"></i><i style="left:162px;top:162px;width:66px;height:66px;background:conic-gradient(from -47.5deg,#00b91e 0deg,#78d700 1.8deg,#ff0 4deg,#ffca00 34.8deg,#ffd600 54.9deg,#ff0 62.9deg,#78d700 70.4deg,#00b91e 79.5deg,#00f0a5 84.3deg,#00ffe8 87.4deg,#00ffe9 87.4deg,#00f8f6 92.7deg,#00f8f6 102.1deg,#00f4ff 102.7deg,#247bff 106.1deg,#00f4ff 109.4deg,#00f8f6 110.1deg,#00ffe8 110.2deg,#00f0a5 110.6deg,#00b91e 111.3deg,#78d700 112.6deg,#d8f400 113.8deg,#ff0 114.1deg,#ffb400 115.6deg,#fa6400 117deg,#e63100 117.8deg,#fa6400 121.8deg,#fd9600 126.8deg,#fd9000 243.5deg,#fb7000 247deg,#fd9000 250.5deg,#ffb400 254.4deg,#ff0 263.1deg,#78d700 281deg,#00b91e 296.4deg,#00f0a5 303.2deg,#00f9cd 305.7deg,#00ffe8 315.3deg,#00fcef 319.6deg,#00f4ff 321.1deg,#286eff 326.4deg,#335bf2 329.5deg,#286eff 333.6deg,#00f4ff 340.8deg,#00fced 343.2deg,#00ffe8 344.6deg,#00f3b4 352.4deg,#00f0a5 353.3deg,#00b91e 360deg)"></i><i style="left:165px;top:165px;width:60px;height:60px;background:conic-gradient(from -47.2deg,#00b91e 0deg,#78d700 1.8deg,#ff0 4deg,#ffca00 33.9deg,#ffd600 54.1deg,#ff0 62.1deg,#78d700 69.6deg,#00b91e 78.9deg,#00f0a5 83.6deg,#00ffe8 86.5deg,#00ffe9 86.6deg,#00f8f6 91.8deg,#00f8f6 101.1deg,#00f4ff 101.7deg,#247bff 105.1deg,#00f4ff 108.5deg,#00f8f6 109.1deg,#00ffe8 109.3deg,#00f0a5 109.7deg,#00b91e 110.3deg,#78d700 111.7deg,#d8f400 112.8deg,#ff0 113.2deg,#ffb400 114.6deg,#fa6400 116.1deg,#e63100 116.8deg,#fa6400 120.8deg,#fd9600 125.8deg,#fd9000 242.2deg,#fb7000 245.7deg,#fd9000 249.2deg,#ffb400 253.1deg,#ff0 261.8deg,#78d700 279.9deg,#00b91e 295.3deg,#00f0a5 302.1deg,#00f9cd 304.6deg,#00ffe8 314.2deg,#00fcef 318.5deg,#00f4ff 320.1deg,#286eff 325.3deg,#335bf2 328.4deg,#286eff 332.8deg,#00f4ff 340.2deg,#00fced 342.6deg,#00ffe8 344.1deg,#00f3b4 352.1deg,#00f0a5 353.1deg,#00b91e 360deg)"></i><i style="left:168px;top:168px;width:54px;height:54px;background:conic-gradient(from -46.8deg,#00b91e 0deg,#78d700 1.8deg,#ff0 4deg,#ffca00 32.9deg,#ffd600 53.3deg,#ff0 61.3deg,#78d700 68.9deg,#00b91e 78.2deg,#00f0a5 82.9deg,#00ffe8 85.8deg,#00ffe9 85.8deg,#00f8f6 90.9deg,#00f8f6 100.2deg,#00f4ff 100.8deg,#247bff 104.2deg,#00f4ff 107.5deg,#00f8f6 108.2deg,#00ffe8 108.3deg,#00f0a5 108.7deg,#00b91e 109.4deg,#78d700 110.7deg,#d8f400 111.9deg,#ff0 112.2deg,#ffb400 113.7deg,#fa6400 115.1deg,#e63100 115.9deg,#fa6400 119.9deg,#fd9600 124.9deg,#fd9000 241deg,#fb7000 244.4deg,#fd9000 247.9deg,#ffb400 251.8deg,#ff0 260.6deg,#78d700 278.7deg,#00b91e 294.2deg,#00f0a5 301deg,#00f9cd 303.5deg,#00ffe8 313.1deg,#00fcef 317.4deg,#00f4ff 319deg,#286eff 324.3deg,#345af2 327.4deg,#286eff 331.9deg,#00f4ff 339.5deg,#00fced 342.1deg,#00ffe8 343.5deg,#00f3b4 351.8deg,#00f0a5 352.9deg,#00b91e 360deg)"></i><i style="left:171px;top:171px;width:48px;height:48px;background:conic-gradient(from -46.4deg,#00b91e 0deg,#78d700 1.8deg,#ff0 4deg,#ffca00 31.9deg,#ffd600 52.5deg,#ff0 60.5deg,#78d700 68.2deg,#00b91e 77.6deg,#00f0a5 82.1deg,#00ffe8 85deg,#00ffe9 85.1deg,#00f8f6 90.1deg,#00f8f6 99.2deg,#00f4ff 99.8deg,#247bff 103.2deg,#00f4ff 106.6deg,#00f8f6 107.2deg,#00ffe8 107.4deg,#00f0a5 107.8deg,#00b91e 108.4deg,#78d700 109.8deg,#d8f400 110.9deg,#ff0 111.3deg,#ffb400 112.7deg,#fa6400 114.2deg,#e63100 114.9deg,#fa6400 118.9deg,#fd9600 123.9deg,#fd9000 239.8deg,#fb7000 243.2deg,#fd9000 246.6deg,#ffb400 250.5deg,#ff0 259.3deg,#78d700 277.5deg,#00b91e 293.1deg,#00f0a5 299.9deg,#00f9cd 302.4deg,#00ffe8 312.1deg,#00fcef 316.4deg,#00f4ff 317.9deg,#286eff 323.2deg,#345af2 326.3deg,#286eff 331.1deg,#00f4ff 338.9deg,#00fced 341.5deg,#00ffe8 343deg,#00f3b4 351.6deg,#00f0a5 352.6deg,#00b91e 360deg)"></i><i style="left:174px;top:174px;width:42px;height:42px;background:conic-gradient(from -46.1deg,#00b91e 0deg,#78d700 1.8deg,#ff0 4deg,#ffca00 31deg,#ffd600 51.7deg,#ff0 59.7deg,#78d700 67.5deg,#00b91e 76.9deg,#00f0a5 81.4deg,#00ffe8 84.2deg,#00ffe9 84.3deg,#00f8f6 89.2deg,#00f8f6 98.3deg,#00f4ff 98.9deg,#247bff 102.3deg,#00f4ff 105.6deg,#00f8f6 106.3deg,#00ffe8 106.4deg,#00f0a5 106.8deg,#00b91e 107.5deg,#78d700 108.8deg,#d8f400 110deg,#ff0 110.3deg,#ffb400 111.8deg,#fa6400 113.2deg,#e63100 114deg,#fa6400 118deg,#fd9600 123deg,#fd9000 238.6deg,#fb7000 241.9deg,#fd9000 245.2deg,#ffb400 249.2deg,#ff0 258.1deg,#78d700 276.3deg,#00b91e 291.9deg,#00f0a5 298.7deg,#00f9cd 301.3deg,#00ffe8 311deg,#00fcef 315.3deg,#00f4ff 316.9deg,#286eff 322.1deg,#345af2 325.3deg,#286eff 330.2deg,#00f4ff 338.2deg,#00fced 340.9deg,#00ffe8 342.5deg,#00f3b4 351.3deg,#00f0a5 352.4deg,#00b91e 360deg)"></i><i style="left:177px;top:177px;width:36px;height:36px;background:conic-gradient(from -45.7deg,#00b91e 0deg,#78d700 1.8deg,#ff0 4deg,#ffca00 30deg,#ffd600 51deg,#ff0 59deg,#78d700 66.8deg,#00b91e 76.3deg,#00f0a5 80.7deg,#00ffe8 83.5deg,#00ffe9 83.6deg,#00f8f6 88.4deg,#00f8f6 97.3deg,#00f4ff 98deg,#247bff 101.3deg,#00f4ff 104.7deg,#00f8f6 105.3deg,#00ffe8 105.5deg,#00f0a5 105.9deg,#00b91e 106.5deg,#78d700 107.9deg,#d8f400 109deg,#ff0 109.4deg,#ffb400 110.9deg,#fa6400 112.3deg,#e63100 113deg,#fa6400 117deg,#fd9600 122deg,#fd9000 237.4deg,#fb7000 240.7deg,#fd9000 244deg,#ffb400 248deg,#ff0 256.9deg,#78d700 275.2deg,#00b91e 290.9deg,#00f0a5 297.7deg,#00f9cd 300.2deg,#00ffe8 309.9deg,#00fcef 314.3deg,#00f4ff 315.8deg,#286eff 321.1deg,#345af1 324.3deg,#286eff 329.4deg,#00f4ff 337.6deg,#00fced 340.4deg,#00ffe8 342deg,#00f3b4 351.1deg,#00f0a5 352.2deg,#00b91e 360deg)"></i><i style="left:180px;top:180px;width:30px;height:30px;background:conic-gradient(from -45.4deg,#00b91e 0deg,#78d700 1.8deg,#ff0 4deg,#ffca00 29.1deg,#ffd600 50.3deg,#ff0 58.3deg,#78d700 66.1deg,#00b91e 75.7deg,#00f0a5 80deg,#00ffe8 82.8deg,#00ffe9 82.8deg,#00f8f6 87.6deg,#00f8f6 96.4deg,#00f4ff 97deg,#247bff 100.4deg,#00f4ff 103.8deg,#00f8f6 104.4deg,#00ffe8 104.6deg,#00f0a5 105deg,#00b91e 105.6deg,#78d700 107deg,#d8f400 108.1deg,#ff0 108.5deg,#ffb400 109.9deg,#fa6400 111.4deg,#e63100 112.1deg,#fa6400 116.1deg,#fd9600 121.1deg,#fd9000 236.2deg,#fb7000 239.5deg,#fd9000 242.7deg,#ffb400 246.8deg,#ff0 256deg,#78d700 274.2deg,#00b91e 289.8deg,#00f0a5 296.6deg,#00f9cd 299.2deg,#00ffe8 308.9deg,#00fcef 313.3deg,#00f4ff 314.8deg,#286eff 320deg,#3459f1 323.3deg,#286eff 328.6deg,#00f4ff 337deg,#00fced 339.8deg,#00ffe8 341.5deg,#00f3b4 350.8deg,#00f0a5 352deg,#00b91e 360deg)"></i><i style="left:183px;top:183px;width:24px;height:24px;background:conic-gradient(from -45.1deg,#00b91e 0deg,#78d700 1.8deg,#ff0 4deg,#ffca00 28.2deg,#ffd600 49.5deg,#ff0 57.5deg,#78d700 65.4deg,#00b91e 75.1deg,#00f0a5 79.4deg,#00ffe8 82.1deg,#00ffe9 82.1deg,#00f8f6 86.8deg,#00f8f6 95.5deg,#00f4ff 96.1deg,#247bff 99.5deg,#00f4ff 102.9deg,#00f8f6 103.5deg,#00ffe8 103.7deg,#00f0a5 104.1deg,#00b91e 104.7deg,#78d700 106.1deg,#d8f400 107.2deg,#ff0 107.6deg,#ffb400 109deg,#fa6400 110.5deg,#e63100 111.2deg,#fa6400 115.2deg,#fd9600 120.2deg,#fd9000 235.1deg,#fb7000 238.3deg,#fd9000 241.4deg,#ffb400 245.7deg,#ff0 255.1deg,#78d700 273.2deg,#00b91e 288.7deg,#00f0a5 295.6deg,#00f9cd 298.1deg,#00ffe8 307.9deg,#00fcef 312.3deg,#00f4ff 313.8deg,#286eff 319deg,#3459f1 322.4deg,#286eff 327.8deg,#00f4ff 336.4deg,#00fced 339.3deg,#00ffe8 341deg,#00f3b4 350.6deg,#00f0a5 351.8deg,#00b91e 360deg)"></i><i style="left:186px;top:186px;width:18px;height:18px;background:conic-gradient(from -44.8deg,#00b91e 0deg,#78d700 1.8deg,#ff0 4deg,#ffca00 27.3deg,#ffd600 48.8deg,#ff0 56.8deg,#78d700 64.8deg,#00b91e 74.5deg,#00f0a5 78.7deg,#00ffe8 81.3deg,#00ffe9 81.4deg,#00f8f6 86deg,#00f8f6 94.6deg,#00f4ff 95.2deg,#247bff 98.6deg,#00f4ff 102deg,#00f8f6 102.6deg,#00ffe8 102.7deg,#00f0a5 103.1deg,#00b91e 103.8deg,#78d700 105.2deg,#d8f400 106.3deg,#ff0 106.7deg,#ffb400 108.1deg,#fa6400 109.6deg,#e63100 110.3deg,#fa6400 114.3deg,#fd9600 119.3deg,#fd9000 233.9deg,#fb7000 237deg,#fd9000 240.2deg,#ffb400 244.5deg,#ff0 254.2deg,#78d700 272.2deg,#00b91e 287.7deg,#00f0a5 294.6deg,#00f9cd 297.1deg,#00ffe8 306.9deg,#00fcef 311.3deg,#00f4ff 312.8deg,#286eff 318deg,#3559f1 321.4deg,#286eff 327.1deg,#00f4ff 335.8deg,#00fced 338.8deg,#00ffe8 340.5deg,#00f3b4 350.3deg,#00f0a5 351.6deg,#00b91e 360deg)"></i></div><svg width="374" height="374" viewBox="0 0 374 374"><path d="M192.0 196.0C197.0 190.5 218.7 188.5 225.0 192.0C231.3 195.5 231.2 208.8 230.0 217.0C228.8 225.2 222.3 236.2 218.0 241.0C213.7 245.8 207.8 248.7 204.0 246.0C200.2 243.3 197.0 233.3 195.0 225.0C193.0 216.7 187.0 201.5 192.0 196.0Z" fill="#e8f000" filter="url(#b3)"/><path d="M194.4 198.0C198.4 193.2 216.7 191.9 222.0 195.0C227.3 198.1 227.0 209.6 226.0 216.6C225.0 223.6 219.4 232.9 216.0 237.0C212.6 241.1 208.5 243.2 205.5 241.0C202.5 238.8 199.8 231.2 198.0 224.0C196.2 216.8 190.4 202.8 194.4 198.0Z" fill="#20c830" filter="url(#b2)"/><path d="M199.0 199.0C200.0 201.3 203.2 208.7 205.0 213.0C206.8 217.3 209.2 223.0 210.0 225.0" fill="none" stroke="#00e0e0" stroke-width="8" stroke-linecap="round" stroke-linejoin="round" filter="url(#b2)"/><path d="M200.0 200.0C200.8 202.2 203.5 209.0 205.0 213.0C206.5 217.0 208.3 222.2 209.0 224.0" fill="none" stroke="#3c78ff" stroke-width="4" stroke-linecap="round" stroke-linejoin="round" filter="url(#b1)"/><path d="M246.0 187.0C249.8 182.1 260.2 179.6 268.5 179.6C276.8 179.6 291.4 182.1 296.0 187.0C300.6 191.9 296.9 202.2 296.0 209.0C295.1 215.8 294.1 220.2 290.7 227.7C287.3 235.1 283.3 246.3 275.9 253.7C268.4 261.1 255.9 268.3 246.0 272.0C236.1 275.7 222.8 277.7 216.6 275.9C210.4 274.1 207.8 266.0 209.0 261.0C210.2 256.0 219.0 251.6 224.0 246.0C229.0 240.4 235.1 233.9 238.8 227.7C242.5 221.5 244.8 215.8 246.0 209.0C247.2 202.2 242.2 191.9 246.0 187.0Z" fill="#d00830" stroke="#d00830" stroke-width="8" stroke-linejoin="round" filter="url(#b2)"/><path d="M172.2 301.8C173.4 305.5 185.8 313.6 194.4 316.6C203.0 319.6 214.1 321.3 224.0 320.0C233.9 318.7 244.4 313.9 253.7 309.0C263.0 304.1 273.9 298.4 279.6 290.7C285.3 283.0 289.3 265.3 288.0 263.0C286.7 260.7 279.6 272.8 272.0 277.0C264.4 281.2 253.0 286.2 242.5 288.0C232.0 289.8 218.2 286.9 209.0 288.0C199.8 289.1 193.1 292.1 187.0 294.4C180.9 296.7 171.0 298.1 172.2 301.8Z" fill="#d00830" stroke="#d00830" stroke-width="8" stroke-linejoin="round" filter="url(#b2)"/><path d="M246.0 187.0C249.8 182.1 260.2 179.6 268.5 179.6C276.8 179.6 291.4 182.1 296.0 187.0C300.6 191.9 296.9 202.2 296.0 209.0C295.1 215.8 294.1 220.2 290.7 227.7C287.3 235.1 283.3 246.3 275.9 253.7C268.4 261.1 255.9 268.3 246.0 272.0C236.1 275.7 222.8 277.7 216.6 275.9C210.4 274.1 207.8 266.0 209.0 261.0C210.2 256.0 219.0 251.6 224.0 246.0C229.0 240.4 235.1 233.9 238.8 227.7C242.5 221.5 244.8 215.8 246.0 209.0C247.2 202.2 242.2 191.9 246.0 187.0Z" fill="#f468d0" filter="url(#b2)"/><path d="M172.2 301.8C173.4 305.5 185.8 313.6 194.4 316.6C203.0 319.6 214.1 321.3 224.0 320.0C233.9 318.7 244.4 313.9 253.7 309.0C263.0 304.1 273.9 298.4 279.6 290.7C285.3 283.0 289.3 265.3 288.0 263.0C286.7 260.7 279.6 272.8 272.0 277.0C264.4 281.2 253.0 286.2 242.5 288.0C232.0 289.8 218.2 286.9 209.0 288.0C199.8 289.1 193.1 292.1 187.0 294.4C180.9 296.7 171.0 298.1 172.2 301.8Z" fill="#f468d0" filter="url(#b2)"/><path d="M269.0 190.0C274.2 184.3 290.0 185.5 294.0 191.0C298.0 196.5 295.3 213.7 293.0 223.0C290.7 232.3 286.5 239.8 280.0 247.0C273.5 254.2 262.5 262.2 254.0 266.0C245.5 269.8 230.7 272.8 229.0 270.0C227.3 267.2 238.3 256.5 244.0 249.0C249.7 241.5 258.8 234.8 263.0 225.0C267.2 215.2 263.8 195.7 269.0 190.0Z" fill="#ffd8f8" filter="url(#b3)"/><path d="M274.0 195.0C278.2 190.3 289.3 191.5 292.0 196.0C294.7 200.5 292.3 214.0 290.0 222.0C287.7 230.0 283.8 237.3 278.0 244.0C272.2 250.7 261.8 258.5 255.0 262.0C248.2 265.5 237.8 267.5 237.0 265.0C236.2 262.5 245.0 253.8 250.0 247.0C255.0 240.2 263.0 232.7 267.0 224.0C271.0 215.3 269.8 199.7 274.0 195.0Z" fill="#f4f4f4" filter="url(#b2)"/><ellipse cx="231.4" cy="302.0" rx="27" ry="9" transform="rotate(-12 231.4 302.0)" fill="#ffd0f4" filter="url(#b3)"/><ellipse cx="231.4" cy="302.0" rx="21" ry="5.5" transform="rotate(-12 231.4 302.0)" fill="#f8f8f8" filter="url(#b2)"/><circle cx="187" cy="187" r="109" fill="none" stroke="#181830" stroke-opacity="0.6" stroke-width="0.9"/><circle cx="257" cy="106" r="4.5" fill="#f27474" stroke="#1a1420" stroke-width="1.8"/><circle cx="295.8" cy="186.7" r="4.5" fill="#78f078" stroke="#14202a" stroke-width="1.8"/><circle cx="187" cy="187" r="8.2" fill="#fff010" stroke="#000" stroke-width="4"/></svg></div>
<div class="d" style="left:1043px;top:523px;width:250px;height:250px;background:#f80"><div class="rg" style="left:-8px;top:-8px;width:266px;height:266px"></div><svg width="250" height="250" viewBox="0 0 250 250"><g filter="url(#b3)"><rect width="250" height="250" fill="#ff8a00"/><ellipse cx="242.5" cy="110.0" rx="27.5" ry="57.5" transform="rotate(0 242.5 110.0)" fill="#e83800" filter="url(#b6)"/><ellipse cx="165.0" cy="240.0" rx="82.5" ry="27.5" transform="rotate(0 165.0 240.0)" fill="#e83000" filter="url(#b6)"/><ellipse cx="130.0" cy="72.5" rx="50.0" ry="15.0" transform="rotate(-5 130.0 72.5)" fill="#f05020" filter="url(#b4)"/><ellipse cx="195.0" cy="170.0" rx="30.0" ry="42.5" transform="rotate(20 195.0 170.0)" fill="#ffc400" filter="url(#b6)"/><path d="M17.5 130.0C25.8 120.8 53.3 119.2 65.0 125.0C76.7 130.8 83.8 151.7 87.5 165.0C91.2 178.3 84.6 195.0 87.5 205.0C90.4 215.0 106.7 218.8 105.0 225.0C103.3 231.2 88.3 242.5 77.5 242.5C66.7 242.5 50.4 235.4 40.0 225.0C29.6 214.6 18.8 195.8 15.0 180.0C11.2 164.2 9.2 139.2 17.5 130.0Z" fill="#f4f000" filter="url(#b4)"/><path d="M56.2 125.0C57.1 131.7 59.0 152.9 61.2 165.0C63.5 177.1 64.8 189.0 70.0 197.5C75.2 206.0 84.2 213.3 92.5 216.2C100.8 219.2 115.4 215.2 120.0 215.0" fill="none" stroke="#20c828" stroke-width="16" stroke-linecap="round" stroke-linejoin="round" filter="url(#b3)"/><ellipse cx="20.0" cy="145.0" rx="17.5" ry="27.5" transform="rotate(0 20.0 145.0)" fill="#ff9800" filter="url(#b4)"/><path d="M-10.0 85.0C4.6 99.0 47.5 72.5 72.5 68.8C97.5 65.0 120.4 62.9 140.0 62.5C159.6 62.1 173.3 63.1 190.0 66.2C206.7 69.4 228.3 80.2 240.0 81.2C251.7 82.3 256.7 88.5 260.0 72.5C263.3 56.5 305.8 -0.4 260.0 -15.0C214.2 -29.6 30.0 -31.7 -15.0 -15.0C-60.0 1.7 -24.6 71.0 -10.0 85.0Z" fill="#f4f000" filter="url(#b3)"/><path d="M-10.0 77.5C4.6 90.3 47.5 65.7 72.5 62.0C97.5 58.3 120.4 55.9 140.0 55.5C159.6 55.1 173.3 56.3 190.0 59.5C206.7 62.7 228.3 73.6 240.0 74.5C251.7 75.4 256.7 79.9 260.0 65.0C263.3 50.1 305.8 -1.7 260.0 -15.0C214.2 -28.3 30.0 -30.4 -15.0 -15.0C-60.0 0.4 -24.6 64.7 -10.0 77.5Z" fill="#20c820" filter="url(#b3)"/><path d="M40.0 27.5C47.9 39.7 58.3 54.6 75.0 58.0C91.7 61.4 120.8 49.2 140.0 48.0C159.2 46.8 173.3 48.5 190.0 51.0C206.7 53.5 228.3 62.8 240.0 63.0C251.7 63.2 256.7 65.5 260.0 52.5C263.3 39.5 298.8 -3.8 260.0 -15.0C221.2 -26.2 64.2 -22.1 27.5 -15.0C-9.2 -7.9 32.1 15.3 40.0 27.5Z" fill="#00e8f0" filter="url(#b3)"/><path d="M77.5 54.5C87.9 52.6 121.2 44.6 140.0 43.0C158.8 41.4 174.2 42.7 190.0 45.0C205.8 47.3 227.5 55.0 235.0 57.0" fill="none" stroke="#3c98ff" stroke-width="11" stroke-linecap="round" stroke-linejoin="round" filter="url(#b3)"/><path d="M-15.0 -15.0C17.5 -29.6 152.5 -18.4 180.0 -15.0C207.5 -11.6 164.2 0.5 150.0 5.5C135.8 10.5 110.4 10.5 95.0 15.0C79.6 19.5 67.1 27.3 57.5 32.5C47.9 37.7 49.6 39.6 37.5 46.2C25.4 52.9 -6.2 82.7 -15.0 72.5C-23.8 62.3 -47.5 -0.4 -15.0 -15.0Z" fill="#30d020" filter="url(#b3)"/><path d="M-15.0 -15.0C5.8 -28.3 96.7 -19.6 110.0 -15.0C123.3 -10.4 78.8 3.3 65.0 12.5C51.2 21.7 40.8 31.2 27.5 40.0C14.2 48.8 -7.9 74.2 -15.0 65.0C-22.1 55.8 -35.8 -1.7 -15.0 -15.0Z" fill="#c8ec00" filter="url(#b3)"/><ellipse cx="73.8" cy="132.5" rx="50.0" ry="28.75" transform="rotate(-65 73.8 132.5)" fill="#f0f000" filter="url(#b3)"/><ellipse cx="72.5" cy="133.8" rx="43.0" ry="22.0" transform="rotate(-65 72.5 133.8)" fill="#20c828" filter="url(#b3)"/><ellipse cx="71.2" cy="135.0" rx="33.0" ry="14.5" transform="rotate(-65 71.2 135.0)" fill="#00e0e0" filter="url(#b3)"/><ellipse cx="68.8" cy="135.0" rx="20.5" ry="7.0" transform="rotate(-65 68.8 135.0)" fill="#2860ff" filter="url(#b2)"/><path d="M90.0 70.0C96.2 65.8 129.6 60.8 140.0 61.2C150.4 61.7 154.2 61.0 152.5 72.5C150.8 84.0 138.8 113.8 130.0 130.0C121.2 146.2 106.7 157.5 100.0 170.0C93.3 182.5 88.8 197.9 90.0 205.0C91.2 212.1 108.8 212.5 107.5 212.5C106.2 212.5 87.5 209.6 82.5 205.0C77.5 200.4 75.4 193.8 77.5 185.0C79.6 176.2 89.2 161.7 95.0 152.5C100.8 143.3 109.2 137.9 112.5 130.0C115.8 122.1 116.7 112.3 115.0 105.0C113.3 97.7 106.7 92.1 102.5 86.2C98.3 80.4 83.8 74.2 90.0 70.0Z" fill="#ff90e0" filter="url(#b2)"/><path d="M86.2 76.2C89.8 78.5 102.4 84.3 107.5 89.5C112.6 94.7 115.6 100.8 116.8 107.5C117.9 114.2 117.5 122.9 114.2 130.0C111.0 137.1 102.9 143.2 97.5 150.0C92.1 156.8 85.5 163.8 82.0 170.5C78.5 177.2 76.6 184.4 76.5 190.0C76.4 195.6 80.7 201.7 81.5 204.0" fill="none" stroke="#d41828" stroke-width="9" stroke-linecap="round" stroke-linejoin="round" filter="url(#b2)"/><path d="M145.0 65.0C150.8 63.1 162.5 62.3 170.0 63.8C177.5 65.2 185.2 68.5 190.0 73.8C194.8 79.0 197.5 88.1 198.8 95.0C200.0 101.9 200.2 107.5 197.5 115.0C194.8 122.5 187.1 132.1 182.5 140.0C177.9 147.9 175.0 154.6 170.0 162.5C165.0 170.4 159.2 180.8 152.5 187.5C145.8 194.2 138.3 199.0 130.0 202.5C121.7 206.0 109.0 208.8 102.5 208.8C96.0 208.8 93.5 206.0 91.2 202.5C89.0 199.0 87.3 193.8 88.8 187.5C90.2 181.2 94.8 173.8 100.0 165.0C105.2 156.2 115.0 145.8 120.0 135.0C125.0 124.2 127.5 110.0 130.0 100.0C132.5 90.0 132.5 80.8 135.0 75.0C137.5 69.2 139.2 66.9 145.0 65.0Z" fill="#f6f0f6" filter="url(#b2)"/><path d="M150.0 76.2C154.3 74.8 163.1 74.0 168.8 75.0C174.4 76.0 180.4 78.8 183.8 82.5C187.1 86.2 188.1 92.3 188.8 97.5C189.4 102.7 190.0 107.1 187.5 113.8C185.0 120.4 178.1 130.0 173.8 137.5C169.4 145.0 166.0 151.5 161.2 158.8C156.5 166.0 150.8 175.4 145.0 181.2C139.2 187.1 132.5 190.8 126.2 193.8C120.0 196.7 111.7 198.8 107.5 198.8C103.3 198.8 102.1 196.2 101.2 193.8C100.4 191.2 100.8 188.3 102.5 183.8C104.2 179.2 106.7 174.0 111.2 166.2C115.8 158.5 125.2 148.1 130.0 137.5C134.8 126.9 137.8 111.5 140.0 102.5C142.2 93.5 141.3 88.1 143.0 83.8C144.7 79.4 145.7 77.7 150.0 76.2Z" fill="#aeaeae" filter="url(#b3)"/></g><g filter="url(#b1)"><polygon points="78.1,102.0 55.8,124.4 24.2,124.4 1.9,102.0 1.9,70.5 24.2,48.1 55.8,48.1 78.1,70.5" fill="#000"/><polygon points="64.0,96.2 49.9,110.3 30.1,110.3 16.0,96.2 16.0,76.3 30.1,62.2 49.9,62.2 64.0,76.3" fill="#fff010"/></g></svg></div>
<div class="d" style="left:1630px;top:465px;width:250px;height:250px;background:#44d"><div class="rg" style="left:-8px;top:-8px;width:266px;height:266px"></div><svg width="250" height="250" viewBox="0 0 250 250"><g filter="url(#b3)"><rect width="250" height="250" fill="#4444e0"/><path d="M-15.0 60.0C-1.7 27.9 44.6 64.2 65.0 72.5C85.4 80.8 99.0 98.8 107.5 110.0C116.0 121.2 117.5 130.0 116.2 140.0C115.0 150.0 107.3 157.5 100.0 170.0C92.7 182.5 80.4 199.2 72.5 215.0C64.6 230.8 67.1 256.7 52.5 265.0C37.9 273.3 -3.8 299.2 -15.0 265.0C-26.2 230.8 -28.3 92.1 -15.0 60.0Z" fill="#45409e" filter="url(#b6)"/><path d="M149.1 101.6C144.4 108.9 148.6 125.0 147.4 137.0C146.3 148.9 143.7 161.4 142.1 173.1C140.5 184.8 139.1 193.2 137.7 207.3C136.4 221.4 116.0 250.2 134.1 257.7C152.1 265.2 228.7 262.3 245.9 252.3C263.1 242.3 241.5 213.6 237.3 197.7C233.0 181.8 227.0 169.3 220.4 156.9C213.8 144.5 205.0 133.6 197.6 123.0C190.1 112.5 184.0 97.0 175.9 93.4C167.8 89.8 153.9 94.4 149.1 101.6Z" fill="#00e4e8" filter="url(#b4)"/><path d="M156.7 109.1C154.6 115.3 156.6 131.8 155.6 143.2C154.5 154.6 151.7 166.3 150.4 177.3C149.0 188.4 148.7 196.9 147.5 209.5C146.3 222.2 133.1 245.4 143.0 253.2C153.0 261.1 196.2 263.9 207.0 256.8C217.7 249.6 208.3 224.5 207.5 210.5C206.7 196.5 205.6 185.0 202.1 172.7C198.7 160.4 192.6 147.9 186.9 136.8C181.3 125.7 173.3 110.6 168.3 105.9C163.3 101.3 158.8 102.9 156.7 109.1Z" fill="#00dc70" filter="url(#b4)"/><path d="M130.0 72.5C135.0 76.7 150.4 87.9 160.0 97.5C169.6 107.1 178.8 118.8 187.5 130.0C196.2 141.2 205.4 154.2 212.5 165.0C219.6 175.8 225.0 185.0 230.0 195.0C235.0 205.0 240.4 220.0 242.5 225.0" fill="none" stroke="#40ecff" stroke-width="3.5" stroke-linecap="round" stroke-linejoin="round" filter="url(#b2)"/><path d="M0.0 25.0C4.6 27.3 17.5 34.2 27.5 38.8C37.5 43.3 49.6 47.5 60.0 52.5C70.4 57.5 80.0 62.1 90.0 68.8C100.0 75.4 115.0 88.5 120.0 92.5" fill="none" stroke="#00e8f0" stroke-width="62.5" stroke-linecap="round" stroke-linejoin="round" filter="url(#b3)"/><path d="M0.0 25.0C4.6 27.3 17.5 34.2 27.5 38.8C37.5 43.3 49.6 47.5 60.0 52.5C70.4 57.5 80.0 62.1 90.0 68.8C100.0 75.4 115.0 88.5 120.0 92.5" fill="none" stroke="#20d030" stroke-width="47.5" stroke-linecap="round" stroke-linejoin="round" filter="url(#b3)"/><path d="M65.0 41.2C67.9 42.9 76.7 47.3 82.5 51.2C88.3 55.2 93.8 58.8 100.0 65.0C106.2 71.2 116.7 84.8 120.0 88.8" fill="none" stroke="#e8f000" stroke-width="20" stroke-linecap="round" stroke-linejoin="round" filter="url(#b3)"/><path d="M82.5 55.5C85.4 57.6 93.8 62.5 100.0 68.0C106.2 73.5 116.7 85.3 120.0 88.8" fill="none" stroke="#ff8800" stroke-width="17.5" stroke-linecap="round" stroke-linejoin="round" filter="url(#b3)"/><path d="M100.0 65.0C102.1 66.9 108.8 72.1 112.5 76.2C116.2 80.4 120.8 87.7 122.5 90.0" fill="none" stroke="#e82010" stroke-width="9" stroke-linecap="round" stroke-linejoin="round" filter="url(#b2)"/><path d="M115.0 77.5C116.0 79.6 120.0 85.0 121.2 90.0C122.5 95.0 122.3 104.6 122.5 107.5" fill="none" stroke="#ffb0e0" stroke-width="6" stroke-linecap="round" stroke-linejoin="round" filter="url(#b2)"/><path d="M143.8 182.5C140.8 186.2 132.3 197.3 126.2 205.0C120.2 212.7 113.1 220.4 107.5 228.8C101.9 237.1 95.0 250.6 92.5 255.0" fill="none" stroke="#00e8f0" stroke-width="72.5" stroke-linecap="round" stroke-linejoin="round" filter="url(#b3)"/><path d="M143.8 182.5C140.8 186.2 132.3 197.3 126.2 205.0C120.2 212.7 113.1 220.4 107.5 228.8C101.9 237.1 95.0 250.6 92.5 255.0" fill="none" stroke="#30d428" stroke-width="57.5" stroke-linecap="round" stroke-linejoin="round" filter="url(#b3)"/><path d="M143.8 182.5C140.8 186.2 132.3 197.3 126.2 205.0C120.2 212.7 113.1 220.4 107.5 228.8C101.9 237.1 95.0 250.6 92.5 255.0" fill="none" stroke="#f0f000" stroke-width="40" stroke-linecap="round" stroke-linejoin="round" filter="url(#b3)"/><path d="M143.8 182.5C140.8 186.2 132.3 197.3 126.2 205.0C120.2 212.7 113.1 220.4 107.5 228.8C101.9 237.1 95.0 250.6 92.5 255.0" fill="none" stroke="#ff8a00" stroke-width="26.25" stroke-linecap="round" stroke-linejoin="round" filter="url(#b3)"/><path d="M143.8 182.5C140.8 186.2 132.3 197.3 126.2 205.0C120.2 212.7 113.1 220.4 107.5 228.8C101.9 237.1 95.0 250.6 92.5 255.0" fill="none" stroke="#e82010" stroke-width="12.5" stroke-linecap="round" stroke-linejoin="round" filter="url(#b2)"/><ellipse cx="100.0" cy="242.5" rx="17.5" ry="12.5" transform="rotate(0 100.0 242.5)" fill="#ff90d8" filter="url(#b3)"/><path d="M134.5 0.0C135.0 6.7 136.7 26.7 137.5 40.0C138.3 53.3 139.2 73.3 139.5 80.0" fill="none" stroke="#151530" stroke-width="1.5" stroke-linecap="round" stroke-linejoin="round" stroke-opacity="0.8" filter="url(#b1)"/></g><g filter="url(#b2)"><path d="M130.0 110.0C133.6 105.0 146.2 105.0 150.0 110.0C153.8 115.0 153.6 130.0 153.0 140.0C152.4 150.0 148.8 162.9 146.2 170.0C143.8 177.1 140.4 183.3 138.0 182.5C135.6 181.7 133.6 172.1 132.0 165.0C130.4 157.9 128.6 149.2 128.2 140.0C127.9 130.8 126.4 115.0 130.0 110.0Z" fill="#ffc0e8" stroke="#ffc0e8" stroke-width="7" stroke-linejoin="round" filter="url(#b1)"/><path d="M132.0 112.5C134.8 107.9 145.0 107.9 148.0 112.5C151.0 117.1 150.6 131.2 150.0 140.0C149.4 148.8 146.4 159.0 144.5 165.0C142.6 171.0 140.4 176.7 138.8 176.2C137.1 175.8 135.8 168.5 134.5 162.5C133.2 156.5 131.7 148.3 131.2 140.0C130.8 131.7 129.2 117.1 132.0 112.5Z" fill="#0a0408" filter="url(#b1)"/></g><g filter="url(#b1)"><polygon points="159.9,105.0 148.5,116.4 132.5,116.4 121.1,105.0 121.1,89.0 132.5,77.6 148.5,77.6 159.9,89.0" fill="#0a0a0a"/><polygon points="154.4,102.7 146.2,110.9 134.8,110.9 126.6,102.7 126.6,91.3 134.8,83.1 146.2,83.1 154.4,91.3" fill="#6ef078"/></g></svg></div>
<svg width="1920" height="1080" viewBox="0 0 1920 1080" style="position:absolute;left:0;top:0"><line x1="955.0" y1="794.9" x2="1060.5" y2="716.5" stroke="#000" stroke-width="4"/><polygon points="941.0,805.3 962.0,802.5 949.7,786.0" fill="#000"/><line x1="1609.7" y1="450.0" x2="1660.0" y2="509.3" stroke="#000" stroke-width="5"/><polygon points="1599.4,437.8 1602.6,457.4 1618.2,444.1" fill="#000"/></svg>
</body></html>
